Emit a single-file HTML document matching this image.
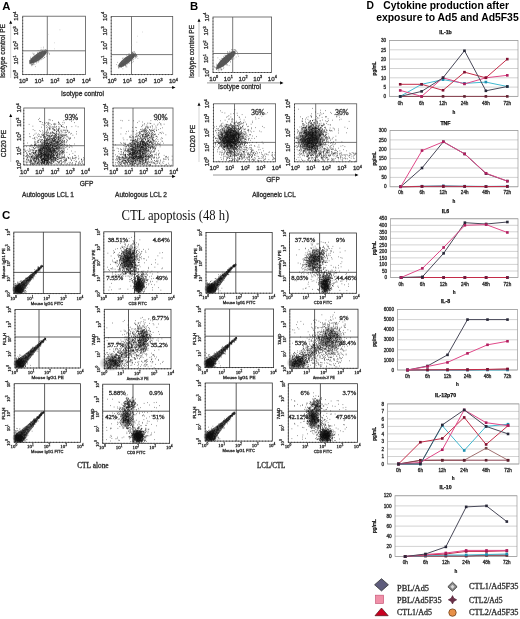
<!DOCTYPE html>
<html><head><meta charset="utf-8"><style>html,body{margin:0;padding:0;background:#fff;width:520px;height:619px;overflow:hidden}svg{display:block;filter:blur(.3px)}text:not([font-weight]){stroke:#333;stroke-width:.3px}</style></head>
<body><svg width="520" height="619" viewBox="0 0 520 619" font-family='"Liberation Sans", sans-serif'><text x="2.3" y="9.6" font-size="11.3" font-weight="bold">A</text>
<rect x="22.7" y="16.2" width="62.8" height="58.4" fill="none" stroke="#555" stroke-width="0.8"/>
<path d="M47.3 16.2L47.3 74.6" stroke="#555" stroke-width="0.8" fill="none"/>
<path d="M22.7 50.8L85.5 50.8" stroke="#555" stroke-width="0.8" fill="none"/>
<path d="M22.7 74.6V16.2M22.7 74.6H85.5" stroke="#222" stroke-width="0.9" stroke-dasharray="0.7 2.3" fill="none"/>
<ellipse cx="38.0" cy="57.0" rx="10.4" ry="3.3" transform="rotate(-35.2 38.0 57.0)" fill="#5e5e5e" fill-opacity="1"/>
<path transform="scale(0.2)" d="M146 305h3m-3 3h3m-2-6h3m-2 0h3m-3 13h3m-3 2h3m-2-11h3m-3 6h3m-3 2h3m-3 1h3m-3 4h3m-2-33h3m-3 7h3m-2 3h3m-2 20h3m-2-3h3m-2-11h3m-3 21h3m-2-28h3m-3 3h3m-3 5h3m-3 7h3m-2-3h3m-3 6h3m-3 1h3m-3 8h3m-2-30h3m-3 8h3m-3 1h3m-3 10h3m-3 8h3m-3 7h3m-2-21h3m-3 7h3m-3 17h3m-2-27h3m-3 3h3m-3 4h3m-3 5h3m-2-28h3m-3 13h3m-2-4h3m-3 13h3m-3 3h3m-3 12h3m-2-31h3m-3 29h3m-3 3h3m-2-58h3m-3 41h3m-3 1h3m-3 1h3m-2-17h3m-3 7h3m-3 8h3m-3 2h3m-3 5h3m-3 10h3m-2-50h3m-2-4h3m-3 35h3m-2-8h3m-3 2h3m-3 8h3m-3 1h3m-3 12h3m-2-21h3m-3 18h3m-3 2h3m-2-16h3m-3 0h3m-2-19h3m-3 16h3m-2-8h3m-3 15h3m-2-37h3m-3 9h3m-3 19h3m-3 2h3m-2 23h3m-2-26h3m-3 13h3m-2-23h3m-3 3h3m-3 43h3m-2-46h3m-3 7h3m-3 10h3m-3 3h3m-2-11h3m-3 1h3m-2 2h3m-2-10h3m-2-11h3m-3 7h3m-3 3h3m-3 12h3m-3 15h3m-2-23h3m-3 1h3m-3 11h3m-2-14h3m-3 10h3m-3 2h3m-3 1h3m-2-21h3m-3 30h3m-2-29h3m-3 8h3m-2-17h3m-3 7h3m-3 1h3m-3 9h3m-3 4h3m-2-31h3m-3 20h3m-3 8h3m-2-11h3m-3 5h3m-2-21h3m-3 2h3m-3 18h3m-3 9h3m-3 12h3m-2-53h3m-2 25h3m-2 3h3m-3 18h3m-3 11h3m-2-25h3m-3 19h3m-2-37h3m-3 14h3m-3 14h3m-2-31h3m-3 13h3m-3 10h3m-3 1h3m-3 12h3m-3 4h3m-2-45h3m-3 21h3m-3 12h3m-1-10h3m-3 1h3m-2-1h3m-3 3h3m-2-6h3m-2-5h3m-3 19h3m-2-39h3m-3 10h3m-3 19h3m-2-17h3m-2 6h3m-3 14h3m-3 7h3m-3 6h3m-2-51h3m-3 2h3m-3 32h3m-2-16h3m-3 13h3m-2-16h3m-2 1h3m-3 5h3m-2-13h3m-3 16h3m-3 25h3m-2-34h3m-3 28h3m-2-4h3m-1-37h3m-3 5h3m-2 24h3m-2-18h3m-1-15h3m-3 24h3m-3 22h3m-2-56h3m-3 31h3m-1 0h3m-3 3h3m-2-15h3m-3 1h3m-3 31h3m-3 0h3m-2-28h3m-3 0h3m-2 7h3m-2-18h3m-3 21h3m-3 1h3m-2-3h3m-2-5h3m-2 6h3m-2-4h3m-2-16h3m-3 0h3m-3 3h3m-3 3h3m-2 7h3m-3 1h3m-3 0h3m-3 4h3m-2-12h3m-3 16h3m-3 11h3m-2-28h3m-1 0h3m-3 4h3m-2-4h3m-3 3h3m-3 5h3m-2 10h3m-2-4h3m0-7h3m1 5h3m-1 4h3m-3 2h3" stroke="#555" stroke-width="4.0" stroke-opacity="0.8"/>
<path transform="scale(0.2)" d="M204 239h3m32-67h3m30 42h3m-3 30h3m23-95h3" stroke="#aaa" stroke-width="3.5"/>
<rect x="111.2" y="16.5" width="61.5" height="58.1" fill="none" stroke="#555" stroke-width="0.8"/>
<path d="M131.5 16.5L131.5 74.6" stroke="#555" stroke-width="0.8" fill="none"/>
<path d="M111.2 54.6L172.7 54.6" stroke="#555" stroke-width="0.8" fill="none"/>
<path d="M111.2 74.6V16.5M111.2 74.6H172.7" stroke="#222" stroke-width="0.9" stroke-dasharray="0.7 2.3" fill="none"/>
<ellipse cx="126.8" cy="60.3" rx="10.5" ry="3.2" transform="rotate(-38.2 126.8 60.3)" fill="#5e5e5e" fill-opacity="1"/>
<path transform="scale(0.2)" d="M581 323h3m1-11h3m1 18h3m-1-5h3m-3 5h3m-3 8h3m-3 1h3m-1-10h3m-3 12h3m-2-11h3m-3 6h3m-2-17h3m-2 15h3m-1-4h3m-1-7h3m-3 3h3m-2 9h3m-2-23h3m-3 16h3m-3 3h3m-2-4h3m-2-5h3m-3 7h3m-3 1h3m-2-13h3m-3 17h3m-2-27h3m-3 12h3m-3 10h3m-3 1h3m-3 7h3m-2-30h3m-3 11h3m-3 7h3m-1-13h3m-2 6h3m-2-26h3m-3 25h3m-3 3h3m-3 1h3m-3 9h3m-2-12h3m-3 2h3m-2 2h3m-3 7h3m-3 15h3m-2-54h3m-3 29h3m-3 11h3m-3 2h3m-2-16h3m-3 6h3m-3 2h3m-3 4h3m-2-8h3m-3 2h3m-3 0h3m-3 4h3m-2-4h3m-2-11h3m-3 5h3m-2-8h3m-3 15h3m-2-13h3m-3 6h3m-2-7h3m-2-17h3m-3 18h3m-2 7h3m-3 8h3m-2-21h3m-3 21h3m-3 2h3m-2-36h3m-3 20h3m-3 2h3m-3 14h3m-2-19h3m-3 8h3m-3 2h3m-2 11h3m-2-33h3m-3 5h3m-3 4h3m-3 5h3m-3 0h3m-3 24h3m-2-41h3m-3 12h3m-2-12h3m-3 24h3m-2-23h3m-3 12h3m-3 24h3m-2-54h3m-3 14h3m-3 15h3m-3 0h3m-2-16h3m-3 2h3m-3 12h3m-3 1h3m-3 31h3m-2-36h3m-3 24h3m-2-19h3m-2-9h3m-3 9h3m-2 0h3m-2-11h3m-3 24h3m-2-25h3m-3 8h3m-3 5h3m-3 3h3m-2-38h3m-3 18h3m-2 4h3m-2 8h3m-2-18h3m-3 30h3m-2-38h3m-3 43h3m-2-26h3m-3 1h3m-2-23h3m-3 17h3m-2 6h3m-3 1h3m-3 8h3m-2-18h3m-3 5h3m-3 14h3m-1-24h3m-3 14h3m-3 4h3m-3 4h3m-2-24h3m-3 17h3m-2-5h3m-2 6h3m-2-22h3m-3 14h3m-2-19h3m-3 18h3m-3 11h3m-2-11h3m-3 31h3m-2-37h3m-3 11h3m-3 12h3m-2-15h3m-3 19h3m-2-26h3m-3 6h3m-3 5h3m-3 22h3m-2-48h3m-3 6h3m-3 7h3m-2-12h3m-3 0h3m-3 24h3m-2-27h3m-3 15h3m-3 3h3m-3 1h3m-3 5h3m-3 13h3m-2-40h3m-3 2h3m-2 7h3m-3 11h3m-3 6h3m-3 10h3m-2-15h3m-3 1h3m-3 17h3m-2-39h3m-3 8h3m-3 6h3m-3 11h3m-2-12h3m-3 5h3m-3 9h3m-3 21h3m-2-30h3m-2 7h3m-2-15h3m-3 3h3m-2-14h3m-3 21h3m-3 0h3m-2-19h3m-1 21h3m-3 10h3m-2-26h3m-3 2h3m-3 1h3m-3 7h3m-3 7h3m-2-11h3m-3 11h3m-3 1h3m-3 1h3m-2-8h3m-3 0h3m-2-4h3m-3 0h3m-3 4h3m-2 1h3m-3 9h3m-2-11h3m-3 2h3m-3 6h3m-2-3h3m-2-6h3m-3 0h3m0 6h3m0 11h3" stroke="#555" stroke-width="4.0" stroke-opacity="0.8"/>
<path transform="scale(0.2)" d="M658 226h3m22-15h3m-1-30h3m22-21h3" stroke="#aaa" stroke-width="3.5"/>
<rect x="23.8" y="108" width="60.8" height="57.0" fill="none" stroke="#555" stroke-width="0.8"/>
<path d="M44.6 108.0L44.6 165.0" stroke="#555" stroke-width="0.8" fill="none"/>
<path d="M23.8 145.7L84.6 145.7" stroke="#555" stroke-width="0.8" fill="none"/>
<path d="M23.8 165.0V108.0M23.8 165.0H84.6" stroke="#222" stroke-width="0.9" stroke-dasharray="0.7 2.3" fill="none"/>
<radialGradient id="g19"><stop offset="0" stop-color="#333" stop-opacity="0.35"/><stop offset="0.6" stop-color="#333" stop-opacity="0.21"/><stop offset="1" stop-color="#333" stop-opacity="0"/></radialGradient>
<ellipse cx="48" cy="150" rx="15" ry="11" transform="rotate(-50 48 150)" fill="url(#g19)"/>
<path transform="scale(0.2)" d="M123 746h3m-3 6h3m-2 5h3m-1 0h3m-3 25h3m-1 24h3m-2-52h3m-3 59h3m-2-48h3m-3 11h3m-3 44h3m-2-87h3m-3 32h3m-3 17h3m-3 16h3m-3 12h3m-2-31h3m-2 11h3m-3 5h3m-3 4h3m-3 15h3m-2-48h3m-3 34h3m-2-24h3m-2-61h3m-3 69h3m-3 6h3m-2-17h3m-3 2h3m-3 13h3m-2-37h3m-3 35h3m-3 20h3m-3 6h3m-1-54h3m-2 20h3m-3 19h3m-2 3h3m-3 3h3m-2-23h3m-2-158h3m-3 137h3m-3 24h3m-3 2h3m-2-116h3m-3 14h3m-3 67h3m-3 35h3m-2-43h3m-3 28h3m-3 34h3m-3 5h3m-2-41h3m-3 2h3m-2-38h3m-3 80h3m-2-63h3m-3 8h3m-3 13h3m-3 25h3m-2 11h3m-3 3h3m-2-125h3m-3 67h3m-3 58h3m-3 9h3m-2-88h3m-3 42h3m-3 22h3m-3 7h3m-3 0h3m-3 3h3m-3 9h3m-3 9h3m-2-96h3m-3 42h3m-3 8h3m-3 8h3m-3 3h3m-3 8h3m-3 21h3m-2-32h3m-3 19h3m-2-40h3m-3 33h3m-3 9h3m-2-80h3m-3 57h3m-3 1h3m-3 22h3m-2-23h3m-3 3h3m-3 2h3m-3 17h3m-3 2h3m-3 11h3m-2-91h3m-3 9h3m-3 13h3m-3 22h3m-3 19h3m-3 23h3m-3 8h3m-2-67h3m-3 22h3m-3 35h3m-2-81h3m-3 34h3m-3 58h3m-2-72h3m-3 12h3m-3 16h3m-3 13h3m-3 2h3m-3 4h3m-3 19h3m-2-33h3m-3 0h3m-3 36h3m-3 3h3m-2-190h3m-3 61h3m-3 84h3m-3 11h3m-2-139h3m-3 90h3m-3 16h3m-3 46h3m-2-123h3m-3 61h3m-3 24h3m-3 2h3m-3 2h3m-3 10h3m-3 18h3m-3 6h3m-2-46h3m-3 13h3m-3 17h3m-3 4h3m-3 5h3m-3 7h3m-3 16h3m-2-78h3m-3 67h3m-3 13h3m-2-68h3m-3 3h3m-3 12h3m-3 2h3m-3 0h3m-3 29h3m-3 5h3m-2-108h3m-3 51h3m-3 0h3m-3 40h3m-3 16h3m-3 14h3m-3 7h3m-3 1h3m-2-100h3m-3 9h3m-3 12h3m-3 27h3m-3 21h3m-2-67h3m-3 4h3m-3 44h3m-3 13h3m-3 4h3m-3 2h3m-3 17h3m-3 11h3m-2-130h3m-3 1h3m-3 21h3m-3 81h3m-3 1h3m-3 0h3m-3 6h3m-3 4h3m-3 7h3m-2-157h3m-3 18h3m-3 35h3m-3 14h3m-3 8h3m-3 35h3m-3 16h3m-3 6h3m-2-88h3m-3 12h3m-3 5h3m-3 13h3m-3 35h3m-3 0h3m-3 0h3m-3 6h3m-3 31h3m-3 7h3m-3 6h3m-3 3h3m-2-94h3m-3 20h3m-3 14h3m-3 7h3m-3 41h3m-2-48h3m-3 10h3m-3 0h3m-3 24h3m-3 19h3m-3 1h3m-3 6h3m-2-93h3m-3 3h3m-3 13h3m-3 16h3m-3 8h3m-3 14h3m-3 1h3m-3 16h3m-3 14h3m-2-91h3m-3 41h3m-3 7h3m-3 8h3m-3 11h3m-3 1h3m-3 7h3m-3 3h3m-3 12h3m-2-140h3m-3 20h3m-3 90h3m-3 0h3m-3 11h3m-3 1h3m-3 4h3m-3 16h3m-3 8h3m-2-61h3m-3 16h3m-3 15h3m-3 8h3m-3 3h3m-3 1h3m-2-64h3m-3 49h3m-3 6h3m-3 0h3m-3 5h3m-3 2h3m-2-69h3m-3 25h3m-3 1h3m-3 6h3m-3 17h3m-3 5h3m-3 23h3m-2-84h3m-3 8h3m-3 10h3m-3 32h3m-3 12h3m-3 21h3m-3 16h3m-2-110h3m-3 45h3m-3 22h3m-3 8h3m-3 1h3m-3 10h3m-3 16h3m-3 7h3m-2-143h3m-3 30h3m-3 71h3m-3 2h3m-3 4h3m-3 7h3m-3 3h3m-2-81h3m-3 22h3m-3 55h3m-3 28h3m-3 1h3m-2-127h3m-3 83h3m-3 9h3m-3 13h3m-3 15h3m-3 9h3m-2-108h3m-3 27h3m-3 26h3m-3 16h3m-3 12h3m-3 8h3m-3 13h3m-3 1h3m-2-112h3m-3 23h3m-3 6h3m-3 11h3m-3 7h3m-3 5h3m-3 10h3m-3 20h3m-3 1h3m-3 27h3m-2-214h3m-3 106h3m-3 44h3m-3 17h3m-3 8h3m-3 22h3m-3 11h3m-2-105h3m-3 24h3m-3 27h3m-3 18h3m-3 2h3m-3 5h3m-3 6h3m-3 5h3m-3 2h3m-3 8h3m-3 16h3m-3 6h3m-2-150h3m-3 12h3m-3 29h3m-3 20h3m-3 6h3m-3 19h3m-3 4h3m-3 7h3m-3 26h3m-3 8h3m-3 3h3m-3 4h3m-2-94h3m-3 35h3m-3 6h3m-3 12h3m-3 8h3m-3 0h3m-3 2h3m-3 1h3m-3 2h3m-3 2h3m-3 13h3m-3 2h3m-3 1h3m-3 16h3m-2-132h3m-3 41h3m-3 16h3m-3 11h3m-3 3h3m-3 5h3m-3 4h3m-3 11h3m-3 27h3m-3 15h3m-3 1h3m-2-163h3m-3 96h3m-3 1h3m-3 4h3m-3 8h3m-3 10h3m-3 3h3m-3 28h3m-2-211h3m-3 15h3m-3 88h3m-3 54h3m-3 8h3m-3 15h3m-3 47h3m-2-145h3m-3 60h3m-3 9h3m-3 10h3m-3 7h3m-3 17h3m-3 7h3m-3 3h3m-3 19h3m-2-106h3m-3 27h3m-3 6h3m-3 15h3m-3 7h3m-3 13h3m-3 20h3m-3 20h3m-3 0h3m-3 14h3m-2-93h3m-3 11h3m-3 8h3m-3 5h3m-3 8h3m-3 7h3m-3 5h3m-3 9h3m-3 3h3m-3 2h3m-3 27h3m-2-130h3m-3 24h3m-3 51h3m-3 10h3m-3 13h3m-3 28h3m-2-111h3m-3 8h3m-3 16h3m-3 7h3m-3 5h3m-3 8h3m-3 8h3m-3 1h3m-3 1h3m-3 1h3m-3 5h3m-3 5h3m-3 9h3m-3 13h3m-3 5h3m-3 0h3m-3 11h3m-2-194h3m-3 49h3m-3 54h3m-3 29h3m-3 6h3m-3 0h3m-3 4h3m-3 1h3m-3 1h3m-3 9h3m-3 3h3m-3 11h3m-3 10h3m-3 29h3m-2-206h3m-3 78h3m-3 53h3m-3 6h3m-3 14h3m-3 5h3m-3 8h3m-3 5h3m-3 4h3m-3 1h3m-3 1h3m-3 10h3m-2-106h3m-3 23h3m-3 22h3m-3 4h3m-3 4h3m-3 5h3m-3 18h3m-3 4h3m-3 1h3m-3 0h3m-3 2h3m-3 1h3m-3 2h3m-3 3h3m-3 5h3m-3 3h3m-3 5h3m-3 0h3m-3 0h3m-3 9h3m-3 1h3m-3 16h3m-2-134h3m-3 72h3m-3 6h3m-3 8h3m-3 8h3m-3 6h3m-3 1h3m-3 1h3m-3 6h3m-3 1h3m-3 5h3m-3 7h3m-3 12h3m-3 0h3m-2-112h3m-3 13h3m-3 6h3m-3 11h3m-3 9h3m-3 8h3m-3 3h3m-3 7h3m-3 6h3m-3 1h3m-3 0h3m-3 0h3m-3 13h3m-3 6h3m-3 17h3m-3 2h3m-3 0h3m-2-168h3m-3 36h3m-3 55h3m-3 15h3m-3 24h3m-3 11h3m-3 2h3m-3 18h3m-3 0h3m-3 1h3m-3 5h3m-3 13h3m-3 1h3m-3 4h3m-2-122h3m-3 0h3m-3 27h3m-3 12h3m-3 4h3m-3 6h3m-3 2h3m-3 8h3m-3 1h3m-3 5h3m-3 9h3m-3 4h3m-3 3h3m-3 17h3m-3 13h3m-3 4h3m-3 4h3m-3 1h3m-3 2h3m-2-199h3m-3 77h3m-3 12h3m-3 4h3m-3 4h3m-3 3h3m-3 1h3m-3 4h3m-3 6h3m-3 8h3m-3 3h3m-3 8h3m-3 2h3m-3 11h3m-3 7h3m-3 9h3m-3 3h3m-3 5h3m-3 15h3m-3 4h3m-3 7h3m-2-202h3m-3 85h3m-3 44h3m-3 5h3m-3 1h3m-3 17h3m-3 2h3m-3 9h3m-3 21h3m-3 5h3m-3 7h3m-3 5h3m-3 0h3m-2-160h3m-3 11h3m-3 45h3m-3 33h3m-3 13h3m-3 40h3m-3 2h3m-3 9h3m-2-132h3m-3 1h3m-3 42h3m-3 8h3m-3 9h3m-3 14h3m-3 10h3m-3 9h3m-3 9h3m-3 16h3m-3 12h3m-3 5h3m-2-73h3m-3 2h3m-3 6h3m-3 4h3m-3 21h3m-3 2h3m-3 5h3m-3 7h3m-3 8h3m-3 1h3m-3 2h3m-3 2h3m-3 2h3m-3 2h3m-3 4h3m-3 0h3m-3 0h3m-3 4h3m-3 2h3m-2-134h3m-3 55h3m-3 1h3m-3 2h3m-3 1h3m-3 7h3m-3 2h3m-3 6h3m-3 1h3m-3 5h3m-3 11h3m-3 10h3m-3 1h3m-3 12h3m-3 23h3m-2-189h3m-3 48h3m-3 14h3m-3 2h3m-3 14h3m-3 20h3m-3 4h3m-3 9h3m-3 4h3m-3 31h3m-3 4h3m-3 20h3m-3 2h3m-2-121h3m-3 3h3m-3 34h3m-3 23h3m-3 3h3m-3 1h3m-3 24h3m-3 21h3m-3 6h3m-3 1h3m-3 1h3m-3 15h3m-3 8h3m-3 2h3m-3 1h3m-2-148h3m-3 13h3m-3 26h3m-3 26h3m-3 4h3m-3 12h3m-3 10h3m-3 1h3m-3 10h3m-3 0h3m-3 20h3m-3 1h3m-3 5h3m-3 11h3m-3 3h3m-3 4h3m-2-157h3m-3 57h3m-3 14h3m-3 6h3m-3 1h3m-3 5h3m-3 17h3m-3 12h3m-3 3h3m-3 4h3m-3 13h3m-3 0h3m-3 4h3m-3 14h3m-2-129h3m-3 38h3m-3 2h3m-3 15h3m-3 7h3m-3 22h3m-3 2h3m-3 4h3m-3 4h3m-3 6h3m-3 7h3m-3 10h3m-3 1h3m-3 10h3m-2-106h3m-3 10h3m-3 2h3m-3 8h3m-3 20h3m-3 19h3m-3 11h3m-3 5h3m-3 4h3m-3 0h3m-3 3h3m-3 1h3m-3 4h3m-3 8h3m-3 2h3m-3 1h3m-3 3h3m-3 5h3m-3 3h3m-2-143h3m-3 15h3m-3 15h3m-3 16h3m-3 7h3m-3 13h3m-3 10h3m-3 9h3m-3 6h3m-3 7h3m-3 6h3m-3 11h3m-3 4h3m-3 11h3m-3 3h3m-3 0h3m-3 2h3m-3 0h3m-3 5h3m-3 1h3m-3 0h3m-2-197h3m-3 71h3m-3 19h3m-3 4h3m-3 2h3m-3 2h3m-3 12h3m-3 46h3m-3 12h3m-3 22h3m-3 3h3m-3 5h3m-3 7h3m-3 0h3m-2-126h3m-3 10h3m-3 29h3m-3 4h3m-3 9h3m-3 7h3m-3 3h3m-3 2h3m-3 0h3m-3 1h3m-3 4h3m-3 10h3m-3 4h3m-3 9h3m-3 10h3m-3 1h3m-3 5h3m-3 2h3m-3 8h3m-3 0h3m-3 1h3m-2-194h3m-3 98h3m-3 12h3m-3 1h3m-3 0h3m-3 15h3m-3 2h3m-3 1h3m-3 19h3m-3 6h3m-3 8h3m-3 6h3m-3 0h3m-3 7h3m-3 4h3m-3 3h3m-2-104h3m-3 39h3m-3 32h3m-3 6h3m-3 2h3m-3 3h3m-3 4h3m-3 5h3m-3 10h3m-3 3h3m-3 4h3m-2-116h3m-3 19h3m-3 21h3m-3 7h3m-3 23h3m-3 3h3m-3 11h3m-3 1h3m-3 20h3m-3 3h3m-3 6h3m-3 1h3m-2-119h3m-3 7h3m-3 15h3m-3 7h3m-3 5h3m-3 6h3m-3 13h3m-3 5h3m-3 3h3m-3 6h3m-3 17h3m-3 7h3m-3 1h3m-3 9h3m-3 7h3m-3 3h3m-3 9h3m-3 17h3m-2-157h3m-3 40h3m-3 4h3m-3 9h3m-3 1h3m-3 16h3m-3 4h3m-3 13h3m-3 4h3m-3 7h3m-3 9h3m-3 3h3m-3 2h3m-3 1h3m-3 0h3m-3 9h3m-3 15h3m-3 5h3m-3 6h3m-2-147h3m-3 7h3m-3 1h3m-3 31h3m-3 18h3m-3 10h3m-3 6h3m-3 1h3m-3 1h3m-3 4h3m-3 17h3m-3 19h3m-3 23h3m-3 17h3m-2-164h3m-3 4h3m-3 6h3m-3 9h3m-3 29h3m-3 16h3m-3 8h3m-3 10h3m-3 4h3m-3 3h3m-3 3h3m-3 12h3m-3 3h3m-3 0h3m-3 7h3m-3 0h3m-3 7h3m-3 5h3m-3 5h3m-3 3h3m-3 3h3m-3 2h3m-3 11h3m-3 17h3m-2-184h3m-3 43h3m-3 30h3m-3 12h3m-3 6h3m-3 12h3m-3 1h3m-3 20h3m-3 5h3m-3 14h3m-3 13h3m-3 1h3m-3 2h3m-3 5h3m-3 1h3m-3 11h3m-2-201h3m-3 15h3m-3 66h3m-3 2h3m-3 2h3m-3 1h3m-3 18h3m-3 1h3m-3 3h3m-3 6h3m-3 18h3m-3 4h3m-3 5h3m-3 1h3m-3 14h3m-3 6h3m-3 3h3m-3 2h3m-3 2h3m-3 4h3m-3 14h3m-3 4h3m-3 1h3m-3 6h3m-3 8h3m-3 2h3m-2-144h3m-3 14h3m-3 6h3m-3 5h3m-3 2h3m-3 10h3m-3 13h3m-3 2h3m-3 10h3m-3 2h3m-3 1h3m-3 8h3m-3 6h3m-3 0h3m-3 17h3m-3 4h3m-3 16h3m-3 7h3m-3 5h3m-3 7h3m-3 4h3m-3 1h3m-2-108h3m-3 3h3m-3 6h3m-3 8h3m-3 2h3m-3 3h3m-3 18h3m-3 20h3m-3 3h3m-3 6h3m-3 4h3m-3 7h3m-3 2h3m-3 8h3m-3 5h3m-3 5h3m-3 5h3m-3 5h3m-2-204h3m-3 31h3m-3 4h3m-3 27h3m-3 1h3m-3 32h3m-3 5h3m-3 2h3m-3 13h3m-3 5h3m-3 2h3m-3 10h3m-3 6h3m-3 3h3m-3 10h3m-3 9h3m-3 4h3m-3 8h3m-3 1h3m-3 15h3m-3 0h3m-3 10h3m-3 1h3m-3 5h3m-2-185h3m-3 55h3m-3 5h3m-3 6h3m-3 5h3m-3 8h3m-3 15h3m-3 2h3m-3 11h3m-3 3h3m-3 3h3m-3 7h3m-3 2h3m-3 9h3m-3 16h3m-3 1h3m-3 11h3m-3 18h3m-3 2h3m-2-192h3m-3 29h3m-3 15h3m-3 10h3m-3 15h3m-3 5h3m-3 7h3m-3 19h3m-3 6h3m-3 3h3m-3 3h3m-3 18h3m-3 11h3m-3 6h3m-3 5h3m-3 0h3m-3 7h3m-3 1h3m-3 1h3m-3 11h3m-3 2h3m-3 8h3m-3 1h3m-3 1h3m-3 5h3m-3 2h3m-2-156h3m-3 10h3m-3 18h3m-3 34h3m-3 20h3m-3 10h3m-3 1h3m-3 12h3m-3 0h3m-3 26h3m-3 1h3m-3 1h3m-3 9h3m-3 1h3m-3 3h3m-3 0h3m-3 2h3m-2-142h3m-3 33h3m-3 3h3m-3 21h3m-3 4h3m-3 25h3m-3 10h3m-3 1h3m-3 3h3m-3 13h3m-3 4h3m-3 2h3m-3 5h3m-3 9h3m-3 2h3m-3 7h3m-3 5h3m-3 12h3m-2-199h3m-3 59h3m-3 39h3m-3 4h3m-3 8h3m-3 2h3m-3 4h3m-3 8h3m-3 5h3m-3 1h3m-3 4h3m-3 12h3m-3 3h3m-3 4h3m-3 2h3m-3 1h3m-3 3h3m-3 2h3m-3 15h3m-3 5h3m-3 6h3m-2-197h3m-3 5h3m-3 86h3m-3 15h3m-3 3h3m-3 6h3m-3 2h3m-3 10h3m-3 2h3m-3 2h3m-3 1h3m-3 8h3m-3 12h3m-3 12h3m-3 43h3m-3 2h3m-2-182h3m-3 25h3m-3 12h3m-3 22h3m-3 8h3m-3 12h3m-3 21h3m-3 19h3m-3 9h3m-3 5h3m-3 1h3m-3 7h3m-3 2h3m-3 4h3m-3 5h3m-3 1h3m-3 0h3m-3 6h3m-3 7h3m-3 10h3m-3 1h3m-2-189h3m-3 58h3m-3 1h3m-3 11h3m-3 1h3m-3 34h3m-3 4h3m-3 11h3m-3 3h3m-3 15h3m-3 4h3m-3 2h3m-3 1h3m-3 1h3m-3 13h3m-3 0h3m-3 0h3m-3 7h3m-3 4h3m-3 14h3m-3 9h3m-2-223h3m-3 3h3m-3 16h3m-3 61h3m-3 1h3m-3 1h3m-3 14h3m-3 6h3m-3 14h3m-3 6h3m-3 16h3m-3 2h3m-3 2h3m-3 1h3m-3 4h3m-3 14h3m-3 9h3m-3 20h3m-3 4h3m-3 9h3m-3 8h3m-3 2h3m-3 5h3m-2-131h3m-3 6h3m-3 1h3m-3 48h3m-3 5h3m-3 12h3m-3 56h3m-2-173h3m-3 10h3m-3 62h3m-3 14h3m-3 22h3m-3 0h3m-3 3h3m-3 10h3m-3 3h3m-3 11h3m-3 0h3m-3 1h3m-3 15h3m-2-159h3m-3 11h3m-3 2h3m-3 25h3m-3 11h3m-3 18h3m-3 2h3m-3 7h3m-3 10h3m-3 0h3m-3 12h3m-3 3h3m-3 9h3m-3 9h3m-3 7h3m-3 13h3m-3 0h3m-3 8h3m-3 6h3m-3 8h3m-3 5h3m-3 15h3m-2-131h3m-3 30h3m-3 14h3m-3 16h3m-3 8h3m-3 7h3m-3 1h3m-3 1h3m-3 27h3m-2-166h3m-3 19h3m-3 6h3m-3 1h3m-3 38h3m-3 9h3m-3 6h3m-3 23h3m-3 8h3m-3 2h3m-3 4h3m-3 13h3m-3 2h3m-3 1h3m-3 5h3m-3 0h3m-3 2h3m-3 3h3m-3 3h3m-3 12h3m-3 19h3m-3 2h3m-3 0h3m-3 13h3m-3 7h3m-2-149h3m-3 7h3m-3 16h3m-3 31h3m-3 1h3m-3 8h3m-3 7h3m-3 3h3m-3 1h3m-3 8h3m-3 1h3m-3 2h3m-3 24h3m-3 1h3m-3 13h3m-3 3h3m-2-194h3m-3 31h3m-3 53h3m-3 30h3m-3 8h3m-3 2h3m-3 4h3m-3 15h3m-3 5h3m-3 7h3m-3 2h3m-3 9h3m-3 16h3m-3 7h3m-3 3h3m-3 1h3m-3 10h3m-2-140h3m-3 23h3m-3 15h3m-3 5h3m-3 4h3m-3 19h3m-3 15h3m-3 2h3m-3 5h3m-3 11h3m-3 11h3m-3 8h3m-3 0h3m-3 2h3m-3 4h3m-3 0h3m-3 2h3m-3 0h3m-3 26h3m-3 0h3m-2-150h3m-3 30h3m-3 17h3m-3 2h3m-3 7h3m-3 24h3m-3 11h3m-3 8h3m-3 1h3m-3 10h3m-3 5h3m-3 6h3m-3 17h3m-3 7h3m-2-149h3m-3 6h3m-3 36h3m-3 50h3m-3 16h3m-3 3h3m-3 1h3m-3 2h3m-3 3h3m-3 2h3m-3 14h3m-3 15h3m-3 12h3m-2-198h3m-3 59h3m-3 10h3m-3 13h3m-3 6h3m-3 6h3m-3 35h3m-3 4h3m-3 4h3m-3 4h3m-3 7h3m-3 3h3m-3 11h3m-3 13h3m-3 1h3m-3 2h3m-3 12h3m-3 4h3m-2-140h3m-3 3h3m-3 30h3m-3 14h3m-3 14h3m-3 0h3m-3 24h3m-3 1h3m-3 1h3m-3 23h3m-3 4h3m-3 14h3m-3 12h3m-2-137h3m-3 13h3m-3 13h3m-3 7h3m-3 1h3m-3 10h3m-3 19h3m-3 12h3m-3 2h3m-3 8h3m-3 4h3m-3 5h3m-3 7h3m-3 16h3m-3 1h3m-3 11h3m-2-173h3m-3 62h3m-3 14h3m-3 6h3m-3 6h3m-3 1h3m-3 20h3m-3 1h3m-3 11h3m-3 4h3m-3 1h3m-3 9h3m-3 8h3m-3 2h3m-3 4h3m-3 0h3m-3 2h3m-3 3h3m-3 3h3m-3 8h3m-3 6h3m-2-130h3m-3 1h3m-3 14h3m-3 6h3m-3 36h3m-3 1h3m-3 2h3m-3 1h3m-3 7h3m-3 12h3m-3 20h3m-3 10h3m-3 16h3m-2-143h3m-3 19h3m-3 15h3m-3 2h3m-3 2h3m-3 2h3m-3 1h3m-3 64h3m-3 2h3m-3 16h3m-3 2h3m-3 13h3m-3 19h3m-2-183h3m-3 11h3m-3 17h3m-3 11h3m-3 18h3m-3 27h3m-3 7h3m-3 1h3m-3 2h3m-3 2h3m-3 5h3m-3 2h3m-3 31h3m-3 10h3m-3 3h3m-3 15h3m-3 5h3m-3 8h3m-2-206h3m-3 40h3m-3 17h3m-3 5h3m-3 44h3m-3 3h3m-3 8h3m-3 18h3m-3 5h3m-3 5h3m-3 4h3m-3 8h3m-3 8h3m-3 13h3m-3 14h3m-3 10h3m-2-104h3m-3 1h3m-3 5h3m-3 25h3m-3 2h3m-3 10h3m-3 8h3m-3 1h3m-3 1h3m-3 4h3m-3 15h3m-2-129h3m-3 21h3m-3 23h3m-3 13h3m-3 13h3m-3 4h3m-3 12h3m-3 7h3m-3 10h3m-3 3h3m-3 2h3m-3 6h3m-3 8h3m-3 7h3m-3 2h3m-3 5h3m-3 9h3m-2-126h3m-3 17h3m-3 10h3m-3 16h3m-3 4h3m-3 15h3m-3 15h3m-3 3h3m-3 0h3m-3 8h3m-3 3h3m-3 5h3m-3 15h3m-3 12h3m-3 4h3m-3 19h3m-3 1h3m-2-169h3m-3 9h3m-3 38h3m-3 6h3m-3 11h3m-3 14h3m-3 27h3m-3 8h3m-3 12h3m-3 6h3m-3 8h3m-3 3h3m-3 3h3m-3 8h3m-3 2h3m-2-175h3m-3 58h3m-3 13h3m-3 12h3m-3 19h3m-3 5h3m-3 27h3m-3 8h3m-3 0h3m-3 8h3m-3 8h3m-3 8h3m-3 5h3m-3 3h3m-3 6h3m-3 12h3m-2-180h3m-3 6h3m-3 9h3m-3 18h3m-3 1h3m-3 16h3m-3 24h3m-3 13h3m-3 13h3m-3 11h3m-3 0h3m-3 16h3m-3 5h3m-3 8h3m-3 2h3m-3 1h3m-3 1h3m-3 9h3m-3 15h3m-3 2h3m-3 3h3m-3 2h3m-2-189h3m-3 71h3m-3 3h3m-3 0h3m-3 2h3m-3 9h3m-3 2h3m-3 0h3m-3 40h3m-3 2h3m-3 30h3m-3 11h3m-3 8h3m-3 0h3m-3 12h3m-2-160h3m-3 30h3m-3 6h3m-3 5h3m-3 1h3m-3 10h3m-3 1h3m-3 16h3m-3 2h3m-3 24h3m-3 5h3m-3 3h3m-3 8h3m-2-138h3m-3 26h3m-3 5h3m-3 14h3m-3 11h3m-3 9h3m-3 14h3m-3 17h3m-3 4h3m-3 24h3m-3 6h3m-3 3h3m-3 1h3m-3 5h3m-3 17h3m-3 8h3m-2-156h3m-3 21h3m-3 29h3m-3 17h3m-3 13h3m-3 18h3m-3 3h3m-3 2h3m-3 7h3m-3 13h3m-3 6h3m-3 28h3m-3 1h3m-3 5h3m-3 8h3m-2-184h3m-3 19h3m-3 31h3m-3 4h3m-3 27h3m-3 4h3m-3 1h3m-3 6h3m-3 11h3m-3 11h3m-3 0h3m-3 17h3m-3 3h3m-3 2h3m-3 16h3m-3 6h3m-3 11h3m-2-163h3m-3 13h3m-3 35h3m-3 11h3m-3 59h3m-3 3h3m-3 9h3m-3 4h3m-3 6h3m-3 12h3m-3 15h3m-3 2h3m-3 0h3m-3 7h3m-3 3h3m-3 14h3m-2-140h3m-3 7h3m-3 36h3m-3 13h3m-3 61h3m-3 1h3m-3 3h3m-3 6h3m-2-131h3m-3 9h3m-3 15h3m-3 9h3m-3 30h3m-3 18h3m-3 7h3m-3 6h3m-3 3h3m-3 18h3m-3 1h3m-3 9h3m-3 5h3m-2-151h3m-3 22h3m-3 15h3m-3 0h3m-3 10h3m-3 0h3m-3 7h3m-3 4h3m-3 4h3m-3 10h3m-3 8h3m-3 1h3m-3 10h3m-3 15h3m-3 9h3m-2-146h3m-3 54h3m-3 2h3m-3 22h3m-3 13h3m-3 5h3m-3 2h3m-3 10h3m-3 16h3m-3 30h3m-3 16h3m-2-126h3m-3 21h3m-3 3h3m-3 18h3m-3 6h3m-3 18h3m-3 11h3m-3 0h3m-3 11h3m-3 12h3m-3 38h3m-3 3h3m-2-170h3m-3 22h3m-3 0h3m-3 9h3m-3 10h3m-3 1h3m-3 4h3m-3 34h3m-3 3h3m-3 3h3m-3 7h3m-3 11h3m-3 6h3m-3 17h3m-3 14h3m-3 6h3m-3 7h3m-2-157h3m-3 12h3m-3 21h3m-3 4h3m-3 6h3m-3 18h3m-3 35h3m-3 4h3m-3 8h3m-3 3h3m-3 35h3m-2-132h3m-3 10h3m-3 44h3m-3 8h3m-3 4h3m-3 30h3m-3 16h3m-3 5h3m-3 14h3m-3 1h3m-3 4h3m-3 10h3m-3 3h3m-3 24h3m-2-130h3m-3 2h3m-3 1h3m-3 17h3m-3 3h3m-3 14h3m-3 10h3m-3 2h3m-3 10h3m-3 15h3m-3 2h3m-3 9h3m-3 21h3m-2-112h3m-3 4h3m-3 33h3m-3 16h3m-3 10h3m-3 3h3m-3 7h3m-3 10h3m-3 12h3m-3 30h3m-2-158h3m-3 52h3m-3 8h3m-3 11h3m-3 37h3m-3 22h3m-3 3h3m-3 5h3m-3 9h3m-2-87h3m-3 1h3m-3 0h3m-3 8h3m-3 2h3m-3 3h3m-3 2h3m-3 3h3m-3 7h3m-3 7h3m-3 2h3m-3 20h3m-3 5h3m-3 2h3m-3 2h3m-3 14h3m-3 0h3m-3 19h3m-2-99h3m-3 5h3m-3 51h3m-3 11h3m-3 1h3m-3 10h3m-3 11h3m-2-143h3m-3 18h3m-3 24h3m-3 2h3m-3 8h3m-3 5h3m-3 7h3m-3 22h3m-3 0h3m-3 4h3m-3 26h3m-3 38h3m-3 6h3m-2-160h3m-3 13h3m-3 17h3m-3 4h3m-3 2h3m-3 12h3m-3 5h3m-3 4h3m-3 2h3m-3 17h3m-3 6h3m-3 19h3m-3 43h3m-3 0h3m-2-186h3m-3 32h3m-3 10h3m-3 22h3m-3 18h3m-3 3h3m-3 14h3m-3 2h3m-3 6h3m-3 3h3m-3 2h3m-3 17h3m-3 17h3m-2-144h3m-3 35h3m-3 7h3m-3 17h3m-3 10h3m-3 1h3m-3 4h3m-3 7h3m-3 4h3m-3 34h3m-3 8h3m-3 5h3m-3 24h3m-3 6h3m-2-166h3m-3 24h3m-3 15h3m-3 2h3m-3 33h3m-3 13h3m-3 53h3m-3 34h3m-3 5h3m-3 25h3m-3 0h3m-2-192h3m-3 22h3m-3 27h3m-3 18h3m-3 4h3m-3 15h3m-3 9h3m-3 8h3m-3 7h3m-3 7h3m-3 12h3m-3 1h3m-3 14h3m-3 25h3m-3 24h3m-2-195h3m-3 23h3m-3 16h3m-3 2h3m-3 18h3m-3 8h3m-3 15h3m-3 7h3m-3 27h3m-3 20h3m-3 10h3m-3 16h3m-3 8h3m-3 17h3m-2-171h3m-3 70h3m-3 31h3m-3 6h3m-3 7h3m-3 0h3m-3 22h3m-3 0h3m-3 2h3m-3 5h3m-3 14h3m-3 17h3m-2-109h3m-2-85h3m-3 48h3m-3 6h3m-3 11h3m-3 9h3m-3 32h3m-3 1h3m-3 8h3m-3 8h3m-3 22h3m-3 4h3m-3 48h3m-2-168h3m-3 46h3m-3 7h3m-3 4h3m-3 7h3m-3 8h3m-3 20h3m-3 6h3m-3 23h3m-3 19h3m-3 5h3m-3 16h3m-2-129h3m-3 6h3m-3 8h3m-3 3h3m-3 16h3m-3 7h3m-3 4h3m-3 1h3m-3 11h3m-3 5h3m-3 20h3m-3 17h3m-3 17h3m-3 14h3m-3 12h3m-2-146h3m-3 28h3m-3 4h3m-3 12h3m-3 1h3m-3 12h3m-3 29h3m-3 33h3m-2-88h3m-3 41h3m-3 47h3m-2-168h3m-3 65h3m-3 2h3m-3 37h3m-3 29h3m-3 9h3m-2-112h3m-3 26h3m-3 8h3m-3 3h3m-3 27h3m-3 24h3m-3 28h3m-3 4h3m-3 29h3m-3 1h3m-2-173h3m-3 26h3m-3 10h3m-3 9h3m-3 23h3m-3 30h3m-3 22h3m-3 11h3m-2-130h3m-3 77h3m-3 3h3m-3 11h3m-3 5h3m-3 14h3m-3 3h3m-3 23h3m-3 14h3m-3 12h3m-3 22h3m-2-186h3m-3 48h3m-3 6h3m-3 4h3m-3 24h3m-3 16h3m-3 26h3m-3 1h3m-3 34h3m-3 17h3m-3 0h3m-3 15h3m-2-190h3m-3 2h3m-3 44h3m-3 30h3m-3 13h3m-3 17h3m-3 59h3m-3 20h3m-3 5h3m-2-170h3m-3 7h3m-3 43h3m-3 14h3m-3 48h3m-3 0h3m-2-100h3m-3 10h3m-3 20h3m-3 67h3m-3 10h3m-3 11h3m-3 5h3m-3 3h3m-2-154h3m-3 49h3m-3 16h3m-3 36h3m-3 26h3m-3 11h3m-3 14h3m-3 4h3m-2-114h3m-3 28h3m-3 0h3m-3 7h3m-3 12h3m-3 21h3m-3 10h3m-3 7h3m-3 4h3m-2-85h3m-3 2h3m-3 31h3m-3 12h3m-3 26h3m-3 7h3m-3 53h3m-2-199h3m-3 10h3m-3 88h3m-3 11h3m-3 15h3m-3 24h3m-2-86h3m-3 30h3m-3 16h3m-3 5h3m-3 10h3m-3 19h3m-3 14h3m-2-115h3m-3 33h3m-3 6h3m-3 2h3m-3 20h3m-3 44h3m-3 6h3m-3 22h3m-3 2h3m-3 8h3m-3 12h3m-2-133h3m-2-40h3m-3 44h3m-3 28h3m-3 34h3m-3 8h3m-3 8h3m-2-154h3m-3 46h3m-3 82h3m-3 12h3m-3 20h3m-3 22h3m-3 25h3m-2-146h3m-3 94h3m-3 26h3m-2-82h3m-3 7h3m-3 3h3m-3 4h3m-3 61h3m-3 7h3m-3 26h3m-2-196h3m-3 38h3m-3 53h3m-3 40h3m-3 29h3m-3 14h3m-3 16h3m-2-166h3m-3 37h3m-3 11h3m-3 19h3m-3 17h3m-3 1h3m-3 12h3m-3 17h3m-3 12h3m-2-86h3m-3 1h3m-3 111h3m-3 9h3m-3 3h3m-3 16h3m-2-144h3m-3 17h3m-3 34h3m-3 66h3m-3 11h3m-2-150h3m-3 153h3m-2-145h3m-3 4h3m-3 74h3m-2-62h3m-3 122h3m-3 13h3m-2-7h3m-2-154h3m-3 25h3m-3 39h3m-3 12h3m-2-137h3m-3 203h3m-3 6h3m-2-165h3m-3 2h3m-3 62h3m-3 38h3m-3 60h3m-3 6h3m-2-161h3m-3 22h3m-3 11h3m-3 37h3m-3 93h3m-2-127h3m-3 8h3m-3 24h3m-3 54h3m-2-111h3m-3 32h3m-3 19h3m-3 22h3m-3 9h3m-3 84h3m-2-163h3m-3 47h3m-3 28h3m-3 91h3m-2-74h3m-3 39h3m-2-129h3m-2-2h3m-2 32h3m-2-22h3m-3 27h3m-3 101h3m-2-3h3m-3 1h3m-2-2h3m-1-128h3m-3 76h3m-3 76h3m-2-117h3m-3 124h3m-2-157h3m-3 33h3m-3 29h3m-2 12h3m-3 36h3m-2-82h3m-3 101h3m0-121h3m-3 19h3m-3 101h3m-2-97h3m-3 36h3m-3 83h3m-2-15h3m-2 21h3m-2-151h3m-3 63h3m-3 73h3m-2-196h3m-3 148h3m-2 46h3m-2-200h3m-3 32h3m-2 102h3m-2 58h3m-3 20h3m-3 3h3m-2-31h3m-3 0h3m-2 5h3m-2-114h3m-3 91h3m-2 26h3m1-2h3m-2 12h3m-2-114h3m-3 31h3m-3 57h3m-3 14h3m-2-178h3m0 146h3m-2 19h3m-3 10h3m-3 21h3m-3 10h3m-2 1h3m-2-25h3m-2-165h3m-2 156h3m-3 3h3m-2 17h3m-3 3h3m-1-151h3m-3 12h3m0-77h3m1 41h3m-2 161h3m-2-15h3m-2 39h3m-2-28h3m-3 21h3m-3 3h3m1-8h3m-2 9h3m-1 1h3m2-12h3m-2-8h3m-2-1h3m-3 1h3m-2 14h3m-2-7h3m-1 5h3m-3 8h3m1-29h3m-1 12h3m-3 21h3m-1-27h3" stroke="#111" stroke-width="4.0" stroke-opacity="0.85"/>
<rect x="113" y="108" width="60.0" height="58.0" fill="none" stroke="#555" stroke-width="0.8"/>
<path d="M133.0 108.0L133.0 166.0" stroke="#555" stroke-width="0.8" fill="none"/>
<path d="M113.0 145.0L173.0 145.0" stroke="#555" stroke-width="0.8" fill="none"/>
<path d="M113.0 166.0V108.0M113.0 166.0H173.0" stroke="#222" stroke-width="0.9" stroke-dasharray="0.7 2.3" fill="none"/>
<radialGradient id="g26"><stop offset="0" stop-color="#333" stop-opacity="0.3"/><stop offset="0.6" stop-color="#333" stop-opacity="0.18"/><stop offset="1" stop-color="#333" stop-opacity="0"/></radialGradient>
<ellipse cx="139" cy="150" rx="13" ry="10" transform="rotate(-50 139 150)" fill="url(#g26)"/>
<path transform="scale(0.2)" d="M570 752h3m2 69h3m-2-97h3m-3 50h3m-2 39h3m-2-15h3m-2 3h3m-2-18h3m0 8h3m-3 0h3m-2-50h3m-3 54h3m-3 18h3m-2 2h3m-2-36h3m-3 4h3m-3 14h3m-3 6h3m0 23h3m-2-39h3m-3 20h3m-2-50h3m-2-13h3m-3 40h3m-3 24h3m-3 12h3m-2-34h3m-3 8h3m-3 12h3m-2-37h3m-3 25h3m-3 0h3m-3 1h3m-3 17h3m-3 9h3m-2-33h3m-3 10h3m-2 2h3m-3 15h3m-2-32h3m-3 6h3m-2 21h3m-2-11h3m-3 12h3m-3 3h3m-3 6h3m-1-106h3m-3 74h3m-3 10h3m-3 24h3m-3 0h3m-2-78h3m-3 28h3m-2-170h3m-3 68h3m-3 77h3m-3 12h3m-3 15h3m-3 16h3m-2-150h3m-3 157h3m-3 16h3m-2-55h3m-3 15h3m-3 13h3m-3 30h3m-3 3h3m-3 7h3m-2-61h3m-3 26h3m-3 16h3m-2-90h3m-3 31h3m-2 60h3m-3 17h3m-2-23h3m-3 12h3m-2-210h3m-3 168h3m-3 17h3m-3 11h3m-2-12h3m-3 18h3m-2-24h3m-3 4h3m-3 22h3m-2-23h3m-3 5h3m-3 4h3m-3 13h3m-2-117h3m-3 110h3m-3 4h3m-2-89h3m-3 54h3m-3 6h3m-3 24h3m-2-71h3m-3 33h3m-3 1h3m-3 4h3m-3 24h3m-2-16h3m-3 12h3m-3 5h3m-3 21h3m-3 5h3m-2-118h3m-3 42h3m-3 6h3m-3 56h3m-3 14h3m-2-101h3m-3 37h3m-3 36h3m-3 5h3m-3 4h3m-3 4h3m-3 10h3m-3 1h3m-2-83h3m-3 26h3m-3 21h3m-3 47h3m-2-50h3m-3 17h3m-3 0h3m-2-72h3m-3 84h3m-3 13h3m-3 2h3m-2-46h3m-3 11h3m-3 18h3m-3 19h3m-2-69h3m-3 53h3m-3 0h3m-2-88h3m-3 7h3m-3 26h3m-3 24h3m-3 3h3m-3 1h3m-3 10h3m-3 14h3m-2-80h3m-3 11h3m-3 21h3m-3 7h3m-3 12h3m-3 2h3m-3 3h3m-3 5h3m-3 3h3m-3 0h3m-3 7h3m-3 10h3m-3 2h3m-3 2h3m-3 5h3m-2-67h3m-3 6h3m-3 26h3m-3 5h3m-3 12h3m-3 12h3m-3 13h3m-3 4h3m-2-153h3m-3 70h3m-3 31h3m-3 41h3m-3 1h3m-2-71h3m-3 43h3m-3 3h3m-2-129h3m-3 75h3m-3 24h3m-3 50h3m-3 4h3m-2-57h3m-3 46h3m-3 10h3m-2-78h3m-3 57h3m-3 2h3m-2-5h3m-3 26h3m-3 4h3m-3 10h3m-2-127h3m-3 82h3m-3 5h3m-3 6h3m-3 4h3m-3 6h3m-2-75h3m-3 34h3m-3 36h3m-3 5h3m-2-53h3m-3 3h3m-3 21h3m-3 39h3m-3 7h3m-3 0h3m-3 2h3m-2-97h3m-3 27h3m-3 6h3m-3 15h3m-3 26h3m-3 16h3m-2-72h3m-3 45h3m-2-57h3m-3 20h3m-3 2h3m-3 5h3m-3 17h3m-3 0h3m-3 18h3m-3 1h3m-3 13h3m-3 4h3m-2-89h3m-3 25h3m-3 11h3m-3 7h3m-3 1h3m-3 27h3m-3 8h3m-2-44h3m-3 41h3m-3 3h3m-3 5h3m-3 4h3m-2-153h3m-3 71h3m-3 6h3m-3 8h3m-3 8h3m-3 3h3m-3 25h3m-3 15h3m-3 15h3m-2-205h3m-3 124h3m-3 24h3m-3 22h3m-3 6h3m-3 10h3m-3 17h3m-3 6h3m-2-80h3m-3 16h3m-3 35h3m-3 6h3m-3 13h3m-3 5h3m-3 17h3m-3 1h3m-2-65h3m-3 8h3m-3 24h3m-3 21h3m-2-126h3m-3 30h3m-3 3h3m-3 26h3m-3 9h3m-3 13h3m-3 4h3m-3 3h3m-3 11h3m-3 8h3m-2-55h3m-3 20h3m-3 8h3m-3 19h3m-3 2h3m-3 7h3m-3 9h3m-3 9h3m-3 4h3m-2-134h3m-3 59h3m-3 16h3m-3 12h3m-3 4h3m-3 0h3m-3 0h3m-3 5h3m-3 4h3m-3 3h3m-3 34h3m-2-135h3m-3 46h3m-3 4h3m-3 16h3m-3 7h3m-3 5h3m-3 36h3m-3 2h3m-2-99h3m-3 31h3m-3 16h3m-3 3h3m-3 31h3m-3 9h3m-3 5h3m-2-71h3m-3 7h3m-3 28h3m-3 8h3m-3 0h3m-3 36h3m-3 14h3m-2-131h3m-3 30h3m-3 1h3m-3 2h3m-3 23h3m-3 24h3m-3 1h3m-3 20h3m-3 21h3m-3 13h3m-2-121h3m-3 13h3m-3 31h3m-3 0h3m-3 15h3m-3 5h3m-3 0h3m-3 6h3m-3 2h3m-3 0h3m-3 8h3m-3 6h3m-3 1h3m-3 13h3m-3 6h3m-3 7h3m-3 3h3m-3 2h3m-2-143h3m-3 93h3m-3 27h3m-3 11h3m-3 5h3m-3 10h3m-2-100h3m-3 11h3m-3 16h3m-3 25h3m-3 11h3m-3 1h3m-3 5h3m-3 14h3m-2-93h3m-3 28h3m-3 9h3m-3 3h3m-3 36h3m-3 21h3m-2-120h3m-3 35h3m-3 4h3m-3 14h3m-3 6h3m-3 5h3m-3 10h3m-3 10h3m-3 11h3m-3 16h3m-3 4h3m-3 4h3m-3 10h3m-2-119h3m-3 3h3m-3 15h3m-3 14h3m-3 1h3m-3 11h3m-3 21h3m-3 10h3m-3 2h3m-3 2h3m-3 7h3m-3 5h3m-3 2h3m-3 4h3m-3 29h3m-2-169h3m-3 66h3m-3 6h3m-3 3h3m-3 2h3m-3 11h3m-3 5h3m-3 3h3m-3 18h3m-3 1h3m-3 3h3m-3 3h3m-3 3h3m-3 9h3m-3 24h3m-3 8h3m-3 6h3m-2-190h3m-3 47h3m-3 25h3m-3 29h3m-3 26h3m-3 2h3m-3 1h3m-3 10h3m-3 12h3m-3 15h3m-3 5h3m-3 7h3m-2-83h3m-3 12h3m-3 9h3m-3 6h3m-3 1h3m-3 0h3m-3 2h3m-3 30h3m-3 27h3m-2-118h3m-3 5h3m-3 9h3m-3 27h3m-3 4h3m-3 0h3m-3 7h3m-3 14h3m-3 3h3m-3 6h3m-3 2h3m-3 5h3m-3 6h3m-3 4h3m-3 12h3m-3 7h3m-3 9h3m-2-119h3m-3 8h3m-3 2h3m-3 11h3m-3 15h3m-3 7h3m-3 8h3m-3 21h3m-3 11h3m-3 9h3m-3 29h3m-2-141h3m-3 66h3m-3 2h3m-3 6h3m-3 9h3m-3 7h3m-3 0h3m-3 11h3m-3 2h3m-3 6h3m-3 2h3m-3 3h3m-3 10h3m-3 2h3m-3 11h3m-3 6h3m-2-88h3m-3 28h3m-3 7h3m-3 11h3m-3 4h3m-3 8h3m-3 9h3m-3 5h3m-2-153h3m-3 37h3m-3 7h3m-3 1h3m-3 32h3m-3 4h3m-3 10h3m-3 14h3m-3 4h3m-3 5h3m-3 19h3m-3 2h3m-3 14h3m-2-202h3m-3 83h3m-3 18h3m-3 34h3m-3 7h3m-3 20h3m-3 9h3m-3 13h3m-3 11h3m-3 10h3m-2-105h3m-3 12h3m-3 5h3m-3 17h3m-3 7h3m-3 4h3m-3 3h3m-3 4h3m-3 0h3m-3 7h3m-3 0h3m-3 6h3m-3 11h3m-3 4h3m-3 2h3m-3 2h3m-2-85h3m-3 12h3m-3 3h3m-3 2h3m-3 4h3m-3 11h3m-3 9h3m-3 11h3m-3 0h3m-3 8h3m-3 1h3m-3 21h3m-3 1h3m-3 5h3m-3 1h3m-3 0h3m-3 26h3m-2-108h3m-3 6h3m-3 3h3m-3 16h3m-3 11h3m-3 0h3m-3 5h3m-3 1h3m-3 3h3m-3 6h3m-3 2h3m-3 6h3m-3 3h3m-3 10h3m-3 20h3m-2-79h3m-3 39h3m-3 1h3m-3 2h3m-3 16h3m-3 1h3m-3 10h3m-3 1h3m-3 0h3m-3 1h3m-3 17h3m-2-110h3m-3 17h3m-3 20h3m-3 1h3m-3 20h3m-3 33h3m-3 1h3m-3 8h3m-3 15h3m-3 6h3m-2-121h3m-3 8h3m-3 51h3m-3 6h3m-3 1h3m-3 1h3m-3 5h3m-3 1h3m-3 1h3m-3 25h3m-3 17h3m-3 1h3m-3 1h3m-2-130h3m-3 20h3m-3 23h3m-3 26h3m-3 2h3m-3 9h3m-3 7h3m-3 2h3m-3 19h3m-3 8h3m-3 2h3m-2-89h3m-3 7h3m-3 2h3m-3 14h3m-3 30h3m-3 9h3m-3 2h3m-3 18h3m-2-163h3m-3 61h3m-3 0h3m-3 7h3m-3 4h3m-3 6h3m-3 5h3m-3 6h3m-3 9h3m-3 2h3m-3 5h3m-3 7h3m-3 6h3m-3 2h3m-3 9h3m-3 18h3m-3 4h3m-3 16h3m-2-121h3m-3 14h3m-3 28h3m-3 7h3m-3 12h3m-3 10h3m-3 0h3m-3 0h3m-3 1h3m-3 12h3m-3 4h3m-3 8h3m-3 6h3m-3 3h3m-3 0h3m-3 4h3m-3 8h3m-3 6h3m-3 3h3m-3 2h3m-3 6h3m-2-145h3m-3 12h3m-3 20h3m-3 29h3m-3 6h3m-3 2h3m-3 4h3m-3 4h3m-3 11h3m-3 2h3m-3 17h3m-3 2h3m-3 18h3m-3 2h3m-3 14h3m-2-83h3m-3 3h3m-3 9h3m-3 5h3m-3 21h3m-3 12h3m-3 3h3m-3 3h3m-3 1h3m-3 3h3m-3 10h3m-3 6h3m-3 8h3m-2-163h3m-3 23h3m-3 5h3m-3 3h3m-3 22h3m-3 24h3m-3 10h3m-3 12h3m-3 8h3m-3 18h3m-3 7h3m-2-77h3m-3 4h3m-3 37h3m-3 4h3m-3 8h3m-3 9h3m-3 24h3m-2-156h3m-3 28h3m-3 102h3m-3 3h3m-3 8h3m-3 0h3m-3 1h3m-3 0h3m-3 3h3m-3 38h3m-2-119h3m-3 8h3m-3 12h3m-3 18h3m-3 1h3m-3 14h3m-3 9h3m-3 3h3m-3 2h3m-3 0h3m-3 11h3m-3 4h3m-3 12h3m-3 1h3m-3 4h3m-3 11h3m-3 11h3m-2-154h3m-3 30h3m-3 8h3m-3 4h3m-3 7h3m-3 6h3m-3 9h3m-3 20h3m-3 7h3m-3 1h3m-3 2h3m-3 19h3m-3 5h3m-3 3h3m-3 1h3m-3 7h3m-3 9h3m-2-124h3m-3 10h3m-3 2h3m-3 15h3m-3 19h3m-3 0h3m-3 5h3m-3 15h3m-3 10h3m-3 1h3m-3 11h3m-3 15h3m-3 4h3m-3 4h3m-3 28h3m-2-109h3m-3 11h3m-3 1h3m-3 34h3m-3 7h3m-3 28h3m-3 7h3m-2-188h3m-3 86h3m-3 16h3m-3 5h3m-3 5h3m-3 9h3m-3 0h3m-3 5h3m-3 6h3m-3 14h3m-3 2h3m-3 1h3m-3 29h3m-3 10h3m-3 1h3m-3 23h3m-2-147h3m-3 10h3m-3 12h3m-3 3h3m-3 14h3m-3 15h3m-3 3h3m-3 7h3m-3 10h3m-3 3h3m-3 18h3m-3 9h3m-3 0h3m-3 35h3m-2-154h3m-3 66h3m-3 4h3m-3 3h3m-3 5h3m-3 12h3m-3 18h3m-3 4h3m-3 8h3m-3 14h3m-3 10h3m-3 4h3m-3 12h3m-2-130h3m-3 22h3m-3 66h3m-3 1h3m-3 2h3m-3 0h3m-3 7h3m-3 2h3m-2-118h3m-3 4h3m-3 32h3m-3 2h3m-3 7h3m-3 13h3m-3 9h3m-3 6h3m-3 3h3m-3 10h3m-3 30h3m-3 2h3m-2-71h3m-3 14h3m-3 16h3m-3 2h3m-3 12h3m-3 3h3m-3 18h3m-3 6h3m-3 9h3m-3 17h3m-2-141h3m-3 45h3m-3 42h3m-3 17h3m-3 34h3m-3 7h3m-2-217h3m-3 122h3m-3 3h3m-3 7h3m-3 13h3m-3 5h3m-3 13h3m-3 1h3m-3 11h3m-3 2h3m-3 2h3m-3 4h3m-3 0h3m-3 2h3m-3 1h3m-3 11h3m-3 8h3m-3 5h3m-2-157h3m-3 3h3m-3 48h3m-3 20h3m-3 21h3m-3 0h3m-3 7h3m-3 1h3m-3 7h3m-3 14h3m-3 0h3m-3 8h3m-3 2h3m-3 8h3m-3 5h3m-3 2h3m-3 5h3m-3 9h3m-2-150h3m-3 51h3m-3 20h3m-3 12h3m-3 4h3m-3 6h3m-3 13h3m-3 9h3m-3 3h3m-3 9h3m-2-128h3m-3 15h3m-3 11h3m-3 37h3m-3 0h3m-3 4h3m-3 1h3m-3 15h3m-3 5h3m-3 11h3m-3 23h3m-3 16h3m-2-134h3m-3 11h3m-3 14h3m-3 9h3m-3 11h3m-3 9h3m-3 26h3m-3 11h3m-3 7h3m-3 6h3m-3 1h3m-3 18h3m-3 7h3m-3 7h3m-3 6h3m-2-157h3m-3 3h3m-3 3h3m-3 45h3m-3 9h3m-3 3h3m-3 8h3m-3 16h3m-3 0h3m-3 0h3m-3 6h3m-3 1h3m-3 19h3m-3 0h3m-3 12h3m-3 2h3m-3 7h3m-3 14h3m-2-158h3m-3 32h3m-3 0h3m-3 28h3m-3 19h3m-3 19h3m-3 3h3m-3 5h3m-3 2h3m-3 1h3m-3 1h3m-3 6h3m-3 12h3m-3 12h3m-3 16h3m-3 3h3m-3 10h3m-3 2h3m-2-151h3m-3 23h3m-3 19h3m-3 2h3m-3 8h3m-3 0h3m-3 1h3m-3 2h3m-3 5h3m-3 7h3m-3 1h3m-3 1h3m-3 19h3m-3 8h3m-3 2h3m-3 2h3m-3 0h3m-3 2h3m-3 4h3m-3 7h3m-3 2h3m-3 4h3m-3 11h3m-3 23h3m-2-132h3m-3 27h3m-3 2h3m-3 22h3m-3 2h3m-3 0h3m-3 12h3m-3 6h3m-3 18h3m-3 2h3m-3 7h3m-3 8h3m-3 15h3m-3 0h3m-2-122h3m-3 3h3m-3 20h3m-3 1h3m-3 6h3m-3 31h3m-3 0h3m-3 33h3m-3 1h3m-3 7h3m-3 2h3m-3 1h3m-3 3h3m-3 11h3m-3 3h3m-2-163h3m-3 59h3m-3 26h3m-3 42h3m-3 2h3m-3 0h3m-3 10h3m-3 1h3m-3 1h3m-3 9h3m-3 13h3m-2-177h3m-3 22h3m-3 3h3m-3 36h3m-3 10h3m-3 1h3m-3 4h3m-3 25h3m-3 1h3m-3 3h3m-3 8h3m-3 12h3m-3 23h3m-2-123h3m-3 14h3m-3 19h3m-3 8h3m-3 10h3m-3 24h3m-3 4h3m-3 0h3m-3 3h3m-3 10h3m-3 12h3m-3 14h3m-3 6h3m-3 1h3m-3 15h3m-3 6h3m-3 16h3m-2-115h3m-3 17h3m-3 10h3m-3 2h3m-3 4h3m-3 15h3m-3 37h3m-3 1h3m-3 8h3m-2-124h3m-3 23h3m-3 3h3m-3 2h3m-3 15h3m-3 29h3m-3 9h3m-3 9h3m-3 11h3m-3 5h3m-3 4h3m-3 4h3m-3 22h3m-2-81h3m-3 2h3m-3 1h3m-3 0h3m-3 3h3m-3 5h3m-3 5h3m-3 15h3m-3 20h3m-3 8h3m-3 0h3m-3 17h3m-3 16h3m-2-197h3m-3 28h3m-3 21h3m-3 2h3m-3 14h3m-3 9h3m-3 21h3m-3 17h3m-3 9h3m-3 11h3m-3 6h3m-3 1h3m-3 6h3m-3 4h3m-3 23h3m-3 7h3m-3 0h3m-2-194h3m-3 35h3m-3 34h3m-3 19h3m-3 10h3m-3 1h3m-3 4h3m-3 1h3m-3 4h3m-3 2h3m-3 8h3m-3 10h3m-3 2h3m-3 10h3m-3 8h3m-3 1h3m-3 8h3m-3 3h3m-3 19h3m-3 2h3m-3 18h3m-3 4h3m-3 6h3m-3 4h3m-2-194h3m-3 30h3m-3 14h3m-3 4h3m-3 6h3m-3 0h3m-3 24h3m-3 0h3m-3 5h3m-3 1h3m-3 7h3m-3 1h3m-3 2h3m-3 0h3m-3 10h3m-3 36h3m-3 1h3m-3 8h3m-3 0h3m-3 7h3m-3 4h3m-3 3h3m-3 0h3m-3 5h3m-3 6h3m-3 12h3m-2-158h3m-3 26h3m-3 8h3m-3 7h3m-3 6h3m-3 11h3m-3 21h3m-3 6h3m-3 8h3m-3 9h3m-3 9h3m-3 29h3m-3 1h3m-2-149h3m-3 35h3m-3 21h3m-3 31h3m-3 1h3m-3 1h3m-3 9h3m-3 0h3m-3 17h3m-3 2h3m-3 5h3m-3 16h3m-3 24h3m-3 6h3m-3 7h3m-2-168h3m-3 9h3m-3 6h3m-3 1h3m-3 9h3m-3 28h3m-3 7h3m-3 9h3m-3 11h3m-3 23h3m-3 10h3m-3 16h3m-3 3h3m-3 0h3m-3 7h3m-2-119h3m-3 32h3m-3 2h3m-3 1h3m-3 1h3m-3 9h3m-3 1h3m-3 4h3m-3 2h3m-3 24h3m-3 15h3m-3 2h3m-3 1h3m-3 10h3m-3 1h3m-3 3h3m-3 21h3m-2-155h3m-3 4h3m-3 39h3m-3 6h3m-3 6h3m-3 3h3m-3 13h3m-3 2h3m-3 12h3m-3 2h3m-3 7h3m-3 0h3m-3 3h3m-3 6h3m-3 3h3m-3 22h3m-3 12h3m-3 11h3m-3 3h3m-3 1h3m-2-113h3m-3 23h3m-3 12h3m-3 19h3m-3 23h3m-3 7h3m-3 27h3m-3 12h3m-3 2h3m-3 0h3m-2-193h3m-3 49h3m-3 15h3m-3 25h3m-3 13h3m-3 2h3m-3 4h3m-3 2h3m-3 14h3m-3 15h3m-3 20h3m-3 14h3m-3 23h3m-2-167h3m-3 13h3m-3 28h3m-3 15h3m-3 6h3m-3 1h3m-3 37h3m-3 23h3m-3 11h3m-3 39h3m-2-208h3m-3 28h3m-3 12h3m-3 26h3m-3 7h3m-3 17h3m-3 11h3m-3 1h3m-3 20h3m-3 24h3m-3 6h3m-2-124h3m-3 9h3m-3 55h3m-3 17h3m-3 15h3m-3 13h3m-3 1h3m-3 12h3m-3 3h3m-3 30h3m-3 13h3m-2-161h3m-3 7h3m-3 23h3m-3 5h3m-3 28h3m-3 24h3m-3 4h3m-3 1h3m-3 1h3m-3 1h3m-3 6h3m-3 3h3m-3 27h3m-3 10h3m-3 29h3m-2-176h3m-3 16h3m-3 15h3m-3 6h3m-3 8h3m-3 23h3m-3 0h3m-3 10h3m-3 5h3m-3 1h3m-3 25h3m-3 3h3m-3 7h3m-3 16h3m-3 1h3m-3 10h3m-3 18h3m-3 2h3m-2-161h3m-3 21h3m-3 23h3m-3 25h3m-3 1h3m-3 2h3m-3 1h3m-3 0h3m-3 1h3m-3 7h3m-3 3h3m-3 3h3m-3 14h3m-3 11h3m-3 11h3m-3 6h3m-3 4h3m-3 7h3m-3 6h3m-3 1h3m-3 15h3m-2-178h3m-3 10h3m-3 19h3m-3 20h3m-3 1h3m-3 14h3m-3 19h3m-3 10h3m-3 14h3m-3 2h3m-3 5h3m-3 1h3m-3 14h3m-3 17h3m-3 28h3m-2-167h3m-3 11h3m-3 20h3m-3 0h3m-3 24h3m-3 1h3m-3 2h3m-3 23h3m-3 25h3m-3 20h3m-3 2h3m-3 12h3m-3 2h3m-3 10h3m-3 5h3m-3 4h3m-3 0h3m-3 5h3m-2-169h3m-3 31h3m-3 4h3m-3 2h3m-3 20h3m-3 21h3m-3 0h3m-3 6h3m-3 2h3m-3 8h3m-3 7h3m-3 34h3m-3 5h3m-3 26h3m-3 4h3m-2-154h3m-3 0h3m-3 2h3m-3 3h3m-3 10h3m-3 11h3m-3 1h3m-3 29h3m-3 2h3m-3 14h3m-3 20h3m-3 8h3m-3 1h3m-3 21h3m-3 4h3m-3 8h3m-3 8h3m-3 4h3m-3 2h3m-3 8h3m-3 5h3m-3 10h3m-2-179h3m-3 20h3m-3 2h3m-3 13h3m-3 2h3m-3 36h3m-3 6h3m-3 3h3m-3 14h3m-3 18h3m-3 21h3m-2-149h3m-3 74h3m-3 5h3m-3 5h3m-3 22h3m-3 1h3m-3 12h3m-3 1h3m-3 22h3m-3 5h3m-3 30h3m-2-155h3m-3 21h3m-3 58h3m-3 4h3m-3 3h3m-3 4h3m-3 15h3m-3 6h3m-3 22h3m-3 10h3m-3 1h3m-3 22h3m-2-196h3m-3 39h3m-3 11h3m-3 14h3m-3 0h3m-3 61h3m-3 4h3m-3 21h3m-3 18h3m-2-156h3m-3 71h3m-3 8h3m-3 6h3m-3 11h3m-3 12h3m-3 16h3m-3 21h3m-3 5h3m-3 5h3m-3 5h3m-3 20h3m-2-146h3m-3 8h3m-3 2h3m-3 3h3m-3 12h3m-3 22h3m-3 3h3m-3 36h3m-3 16h3m-3 9h3m-3 36h3m-2-186h3m-3 32h3m-3 15h3m-3 26h3m-3 2h3m-3 9h3m-3 6h3m-3 10h3m-3 21h3m-3 60h3m-2-197h3m-3 36h3m-3 14h3m-3 28h3m-3 0h3m-3 50h3m-3 25h3m-3 41h3m-3 12h3m-2-184h3m-3 3h3m-3 45h3m-3 18h3m-3 11h3m-3 1h3m-3 6h3m-3 9h3m-3 53h3m-3 13h3m-2-157h3m-3 31h3m-3 7h3m-3 24h3m-3 1h3m-3 5h3m-3 24h3m-3 2h3m-3 4h3m-3 13h3m-3 2h3m-3 24h3m-3 5h3m-3 14h3m-3 2h3m-3 8h3m-3 3h3m-3 7h3m-2-159h3m-3 5h3m-3 17h3m-3 24h3m-3 31h3m-3 21h3m-3 29h3m-3 21h3m-2-133h3m-3 5h3m-3 18h3m-3 7h3m-3 4h3m-3 3h3m-3 11h3m-3 5h3m-3 13h3m-3 42h3m-3 13h3m-3 32h3m-2-150h3m-3 17h3m-3 35h3m-3 20h3m-3 2h3m-3 4h3m-3 6h3m-3 9h3m-3 21h3m-3 1h3m-2-155h3m-3 41h3m-3 29h3m-3 0h3m-3 20h3m-3 15h3m-3 12h3m-3 22h3m-3 5h3m-3 3h3m-3 1h3m-3 6h3m-2-173h3m-3 108h3m-3 1h3m-3 13h3m-3 28h3m-3 16h3m-3 30h3m-3 13h3m-2-176h3m-3 18h3m-3 18h3m-3 3h3m-3 8h3m-3 90h3m-3 1h3m-2-138h3m-3 63h3m-3 4h3m-3 11h3m-3 7h3m-3 50h3m-3 27h3m-3 12h3m-2-175h3m-3 14h3m-3 6h3m-3 9h3m-3 11h3m-3 24h3m-3 2h3m-3 44h3m-3 15h3m-2-75h3m-3 14h3m-3 22h3m-3 15h3m-3 28h3m-2-74h3m-3 2h3m-3 2h3m-3 4h3m-3 28h3m-3 0h3m-3 17h3m-2-122h3m-3 20h3m-3 31h3m-3 39h3m-3 19h3m-3 1h3m-3 17h3m-3 5h3m-3 1h3m-3 22h3m-3 37h3m-2-209h3m-3 39h3m-3 35h3m-3 17h3m-3 1h3m-3 25h3m-3 3h3m-3 84h3m-3 3h3m-3 2h3m-2-190h3m-3 15h3m-3 61h3m-3 26h3m-3 4h3m-3 22h3m-3 13h3m-3 1h3m-3 3h3m-2-178h3m-3 15h3m-3 53h3m-3 17h3m-3 98h3m-3 20h3m-3 6h3m-2-147h3m-3 11h3m-3 5h3m-3 13h3m-3 13h3m-3 22h3m-3 2h3m-3 26h3m-3 23h3m-2-129h3m-3 16h3m-3 12h3m-3 2h3m-3 27h3m-3 5h3m-3 0h3m-3 25h3m-3 23h3m-3 36h3m-2-64h3m-3 20h3m-3 19h3m-3 5h3m-3 16h3m-2-136h3m-3 22h3m-3 37h3m-3 2h3m-3 65h3m-3 14h3m-3 12h3m-3 5h3m-2-163h3m-3 14h3m-3 7h3m-3 11h3m-3 2h3m-3 4h3m-3 42h3m-3 44h3m-2-147h3m-3 23h3m-3 25h3m-3 10h3m-3 7h3m-3 5h3m-3 5h3m-3 15h3m-3 68h3m-2-123h3m-3 32h3m-3 2h3m-3 35h3m-3 4h3m-3 45h3m-3 24h3m-2-173h3m-3 8h3m-3 50h3m-3 6h3m-3 15h3m-3 9h3m-3 56h3m-2-123h3m-3 11h3m-3 10h3m-3 46h3m-3 13h3m-3 4h3m-3 9h3m-3 14h3m-3 16h3m-2-104h3m-3 41h3m-3 9h3m-3 5h3m-3 7h3m-3 9h3m-3 42h3m-2-134h3m-3 3h3m-3 30h3m-3 11h3m-3 4h3m-3 4h3m-3 2h3m-3 34h3m-3 73h3m-3 1h3m-3 5h3m-2-114h3m-3 86h3m-2-139h3m-3 18h3m-3 32h3m-3 8h3m-3 6h3m-3 19h3m-3 6h3m-2-161h3m-3 99h3m-3 9h3m-3 36h3m-3 16h3m-3 19h3m-3 2h3m-2-72h3m-3 65h3m-2-132h3m-3 35h3m-3 18h3m-3 67h3m-3 47h3m-3 3h3m-3 21h3m-2-153h3m-3 0h3m-3 47h3m-3 50h3m-3 18h3m-3 14h3m-3 14h3m-3 1h3m-3 15h3m-2-172h3m-3 26h3m-3 31h3m-3 113h3m-2-83h3m-3 26h3m-3 25h3m-2-111h3m-3 44h3m-3 18h3m-3 4h3m-3 5h3m-3 4h3m-3 3h3m-2-77h3m-3 41h3m-3 2h3m-3 54h3m-2-31h3m-3 81h3m-2-151h3m-2 29h3m-3 10h3m-3 16h3m-3 18h3m-3 1h3m-3 64h3m-2-178h3m-3 143h3m-2-136h3m-3 8h3m-3 37h3m-3 1h3m-3 42h3m-3 9h3m-3 83h3m-3 8h3m-2-174h3m-3 2h3m-3 54h3m-3 80h3m-3 21h3m-2-127h3m-3 12h3m-3 82h3m-3 16h3m-2-67h3m-3 41h3m-3 39h3m-2-3h3m-1-87h3m-3 4h3m-3 99h3m-2-215h3m-3 23h3m-3 60h3m-2 122h3m-2-109h3m-3 25h3m-3 71h3m-3 11h3m-3 7h3m-2-192h3m-3 184h3m-2-156h3m-3 24h3m-3 35h3m-3 62h3m-3 21h3m-2-36h3m-3 19h3m-3 3h3m-2-57h3m-1 67h3m-3 0h3m-2-63h3m-3 43h3m-2-153h3m-3 107h3m-3 98h3m-2-3h3m-2-151h3m-2 70h3m-3 76h3m-2-95h3m-3 10h3m-3 75h3m-2-157h3m-2-23h3m-3 43h3m-3 141h3m-2-185h3m-3 77h3m-3 125h3m-2-196h3m-2 64h3m-1-21h3m-2 37h3m-2-44h3m-3 166h3m-2-120h3m-2-68h3m-2 53h3m-3 119h3m-1 6h3m-2-101h3m-2-50h3m-3 133h3m-2-6h3m-2 15h3m-2-187h3m-3 156h3m-1-177h3m-1 196h3m-2 0h3m-3 29h3m-2-42h3m0-109h3m-3 113h3m-2 9h3m-3 28h3m-2-2h3m-2-40h3m-3 2h3m2 5h3m1 6h3m-3 4h3m-2-14h3m-2 31h3m-1 8h3m9 2h3m0-45h3m-3 19h3" stroke="#111" stroke-width="4.0" stroke-opacity="0.85"/>
<text x="23.4" y="83.0" font-size="6.2" text-anchor="middle" fill="#222">10<tspan font-size="3.8" dy="-2.4">0</tspan></text>
<text x="18.2" y="74.6" font-size="6.2" text-anchor="middle" fill="#222" transform="rotate(-90 18.2 74.6)">10<tspan font-size="3.8" dy="-2.4">0</tspan></text>
<text x="39.1" y="83.0" font-size="6.2" text-anchor="middle" fill="#222">10<tspan font-size="3.8" dy="-2.4">1</tspan></text>
<text x="18.2" y="60.0" font-size="6.2" text-anchor="middle" fill="#222" transform="rotate(-90 18.2 60.0)">10<tspan font-size="3.8" dy="-2.4">1</tspan></text>
<text x="54.8" y="83.0" font-size="6.2" text-anchor="middle" fill="#222">10<tspan font-size="3.8" dy="-2.4">2</tspan></text>
<text x="18.2" y="45.4" font-size="6.2" text-anchor="middle" fill="#222" transform="rotate(-90 18.2 45.4)">10<tspan font-size="3.8" dy="-2.4">2</tspan></text>
<text x="70.5" y="83.0" font-size="6.2" text-anchor="middle" fill="#222">10<tspan font-size="3.8" dy="-2.4">3</tspan></text>
<text x="18.2" y="30.8" font-size="6.2" text-anchor="middle" fill="#222" transform="rotate(-90 18.2 30.8)">10<tspan font-size="3.8" dy="-2.4">3</tspan></text>
<text x="86.2" y="83.0" font-size="6.2" text-anchor="middle" fill="#222">10<tspan font-size="3.8" dy="-2.4">4</tspan></text>
<text x="18.2" y="16.2" font-size="6.2" text-anchor="middle" fill="#222" transform="rotate(-90 18.2 16.2)">10<tspan font-size="3.8" dy="-2.4">4</tspan></text>
<text x="111.9" y="83.0" font-size="6.2" text-anchor="middle" fill="#222">10<tspan font-size="3.8" dy="-2.4">0</tspan></text>
<text x="106.7" y="74.6" font-size="6.2" text-anchor="middle" fill="#222" transform="rotate(-90 106.7 74.6)">10<tspan font-size="3.8" dy="-2.4">0</tspan></text>
<text x="127.3" y="83.0" font-size="6.2" text-anchor="middle" fill="#222">10<tspan font-size="3.8" dy="-2.4">1</tspan></text>
<text x="106.7" y="60.1" font-size="6.2" text-anchor="middle" fill="#222" transform="rotate(-90 106.7 60.1)">10<tspan font-size="3.8" dy="-2.4">1</tspan></text>
<text x="142.6" y="83.0" font-size="6.2" text-anchor="middle" fill="#222">10<tspan font-size="3.8" dy="-2.4">2</tspan></text>
<text x="106.7" y="45.5" font-size="6.2" text-anchor="middle" fill="#222" transform="rotate(-90 106.7 45.5)">10<tspan font-size="3.8" dy="-2.4">2</tspan></text>
<text x="158.0" y="83.0" font-size="6.2" text-anchor="middle" fill="#222">10<tspan font-size="3.8" dy="-2.4">3</tspan></text>
<text x="106.7" y="31.0" font-size="6.2" text-anchor="middle" fill="#222" transform="rotate(-90 106.7 31.0)">10<tspan font-size="3.8" dy="-2.4">3</tspan></text>
<text x="173.4" y="83.0" font-size="6.2" text-anchor="middle" fill="#222">10<tspan font-size="3.8" dy="-2.4">4</tspan></text>
<text x="106.7" y="16.5" font-size="6.2" text-anchor="middle" fill="#222" transform="rotate(-90 106.7 16.5)">10<tspan font-size="3.8" dy="-2.4">4</tspan></text>
<text x="24.5" y="173.5" font-size="6.2" text-anchor="middle" fill="#222">10<tspan font-size="3.8" dy="-2.4">0</tspan></text>
<text x="21.2" y="165.0" font-size="6.2" text-anchor="middle" fill="#222" transform="rotate(-90 21.2 165.0)">10<tspan font-size="3.8" dy="-2.4">0</tspan></text>
<text x="39.7" y="173.5" font-size="6.2" text-anchor="middle" fill="#222">10<tspan font-size="3.8" dy="-2.4">1</tspan></text>
<text x="21.2" y="150.8" font-size="6.2" text-anchor="middle" fill="#222" transform="rotate(-90 21.2 150.8)">10<tspan font-size="3.8" dy="-2.4">1</tspan></text>
<text x="54.9" y="173.5" font-size="6.2" text-anchor="middle" fill="#222">10<tspan font-size="3.8" dy="-2.4">2</tspan></text>
<text x="21.2" y="136.5" font-size="6.2" text-anchor="middle" fill="#222" transform="rotate(-90 21.2 136.5)">10<tspan font-size="3.8" dy="-2.4">2</tspan></text>
<text x="70.1" y="173.5" font-size="6.2" text-anchor="middle" fill="#222">10<tspan font-size="3.8" dy="-2.4">3</tspan></text>
<text x="21.2" y="122.2" font-size="6.2" text-anchor="middle" fill="#222" transform="rotate(-90 21.2 122.2)">10<tspan font-size="3.8" dy="-2.4">3</tspan></text>
<text x="85.3" y="173.5" font-size="6.2" text-anchor="middle" fill="#222">10<tspan font-size="3.8" dy="-2.4">4</tspan></text>
<text x="21.2" y="108.0" font-size="6.2" text-anchor="middle" fill="#222" transform="rotate(-90 21.2 108.0)">10<tspan font-size="3.8" dy="-2.4">4</tspan></text>
<text x="113.7" y="173.5" font-size="6.2" text-anchor="middle" fill="#222">10<tspan font-size="3.8" dy="-2.4">0</tspan></text>
<text x="108.3" y="166.0" font-size="6.2" text-anchor="middle" fill="#222" transform="rotate(-90 108.3 166.0)">10<tspan font-size="3.8" dy="-2.4">0</tspan></text>
<text x="128.7" y="173.5" font-size="6.2" text-anchor="middle" fill="#222">10<tspan font-size="3.8" dy="-2.4">1</tspan></text>
<text x="108.3" y="151.5" font-size="6.2" text-anchor="middle" fill="#222" transform="rotate(-90 108.3 151.5)">10<tspan font-size="3.8" dy="-2.4">1</tspan></text>
<text x="143.7" y="173.5" font-size="6.2" text-anchor="middle" fill="#222">10<tspan font-size="3.8" dy="-2.4">2</tspan></text>
<text x="108.3" y="137.0" font-size="6.2" text-anchor="middle" fill="#222" transform="rotate(-90 108.3 137.0)">10<tspan font-size="3.8" dy="-2.4">2</tspan></text>
<text x="158.7" y="173.5" font-size="6.2" text-anchor="middle" fill="#222">10<tspan font-size="3.8" dy="-2.4">3</tspan></text>
<text x="108.3" y="122.5" font-size="6.2" text-anchor="middle" fill="#222" transform="rotate(-90 108.3 122.5)">10<tspan font-size="3.8" dy="-2.4">3</tspan></text>
<text x="173.7" y="173.5" font-size="6.2" text-anchor="middle" fill="#222">10<tspan font-size="3.8" dy="-2.4">4</tspan></text>
<text x="108.3" y="108.0" font-size="6.2" text-anchor="middle" fill="#222" transform="rotate(-90 108.3 108.0)">10<tspan font-size="3.8" dy="-2.4">4</tspan></text>
<path d="M19.0 87.5L173.0 87.5" stroke="#777" stroke-width="0.75" fill="none"/>
<path d="M172.1 85.9L175.5 87.5L172.1 89.1z" fill="#000"/>
<path d="M10.7 24.0L10.7 78.0" stroke="#bbb" stroke-width="0.6" fill="none"/>
<path d="M9.2 23.7L10.7 20.5L12.2 23.7z" fill="#000"/>
<text x="5.3" y="51.0" font-size="6.6" text-anchor="middle" fill="#222" textLength="54" lengthAdjust="spacingAndGlyphs" transform="rotate(-90 5.3 51.0)">Isotype control PE</text>
<text x="82.5" y="95.7" font-size="6.6" text-anchor="middle" fill="#222" textLength="43" lengthAdjust="spacingAndGlyphs">Isotype control</text>
<path d="M19.0 176.4L173.0 176.4" stroke="#777" stroke-width="0.75" fill="none"/>
<path d="M172.1 174.8L175.5 176.4L172.1 178.0z" fill="#000"/>
<path d="M10.7 117.0L10.7 162.0" stroke="#bbb" stroke-width="0.6" fill="none"/>
<path d="M9.2 117.0L10.7 113.8L12.2 117.0z" fill="#000"/>
<text x="5.5" y="143.5" font-size="6.6" text-anchor="middle" fill="#222" transform="rotate(-90 5.5 143.5)">CD20 PE</text>
<text x="86.5" y="185.5" font-size="6.6" text-anchor="middle" fill="#222">GFP</text>
<text x="48.0" y="197.0" font-size="6.6" text-anchor="middle" fill="#222" textLength="52" lengthAdjust="spacingAndGlyphs">Autologous LCL 1</text>
<text x="141.0" y="197.0" font-size="6.6" text-anchor="middle" fill="#222" textLength="52" lengthAdjust="spacingAndGlyphs">Autologous LCL 2</text>
<text x="71.5" y="120.0" font-size="7.4" text-anchor="middle" font-family='"Liberation Serif", serif' fill="#222">93%</text>
<text x="160.8" y="120.0" font-size="7.4" text-anchor="middle" font-family='"Liberation Serif", serif' fill="#222">90%</text>
<text x="190.0" y="9.7" font-size="11.3" font-weight="bold">B</text>
<rect x="213" y="17" width="58.6" height="55.5" fill="none" stroke="#555" stroke-width="0.8"/>
<path d="M232.7 17.0L232.7 72.5" stroke="#555" stroke-width="0.8" fill="none"/>
<path d="M213.0 53.5L271.6 53.5" stroke="#555" stroke-width="0.8" fill="none"/>
<path d="M213.0 72.5V17.0M213.0 72.5H271.6" stroke="#222" stroke-width="0.9" stroke-dasharray="0.7 2.3" fill="none"/>
<ellipse cx="225.8" cy="60.0" rx="12.6" ry="3.4" transform="rotate(-42.6 225.8 60.0)" fill="#5a5a5a" fill-opacity="1"/>
<path transform="scale(0.2)" d="M1070 332h3m-1 5h3m2 0h3m-2 4h3m-1 2h3m-3 1h3m-2-23h3m-3 27h3m-2-21h3m-3 17h3m-3 3h3m-2-9h3m-3 2h3m-1-10h3m-2-5h3m-1-36h3m-3 40h3m-3 1h3m-3 1h3m-3 4h3m-3 7h3m-3 7h3m-1-19h3m-3 20h3m-2-14h3m-3 7h3m-2-20h3m-3 9h3m-2-15h3m-3 38h3m-2-29h3m-3 4h3m-3 3h3m-3 8h3m-3 8h3m-2-14h3m-1-19h3m-3 2h3m-2-20h3m-3 28h3m-3 10h3m-2-30h3m-3 24h3m-3 0h3m-2-8h3m-2-10h3m-3 6h3m-3 17h3m-2-25h3m-3 14h3m-2-23h3m-3 21h3m-3 21h3m-3 1h3m-3 5h3m-2-45h3m-3 21h3m-3 6h3m-2-2h3m-3 22h3m-2-4h3m-2-55h3m-3 13h3m-3 16h3m-2-14h3m-3 3h3m-3 14h3m-3 7h3m-3 15h3m-3 2h3m-2-43h3m-3 15h3m-2-26h3m-2 4h3m-3 20h3m-2-24h3m-3 18h3m-2 9h3m-3 12h3m-1-51h3m-3 21h3m-3 28h3m-2-19h3m-3 2h3m-3 12h3m-3 17h3m-2-50h3m-2 21h3m-3 8h3m-3 15h3m-2-46h3m-3 1h3m-3 12h3m-3 3h3m-3 3h3m-1-10h3m-3 3h3m-3 1h3m-3 5h3m-2-13h3m-3 21h3m-2-41h3m-3 39h3m-1-16h3m-3 8h3m-3 1h3m-3 4h3m-1-34h3m-3 17h3m-3 8h3m-3 7h3m-3 4h3m-2-37h3m-3 15h3m-3 7h3m-3 5h3m-3 5h3m-3 15h3m-2-19h3m-3 5h3m-3 13h3m-2-36h3m-2 6h3m-3 9h3m-3 18h3m-2-36h3m-3 31h3m-3 3h3m-2-42h3m-3 4h3m-2 10h3m-3 3h3m-3 34h3m-2-65h3m-3 26h3m-3 4h3m-3 6h3m-3 24h3m-2-64h3m-3 22h3m-3 17h3m-2-29h3m-3 2h3m-2 18h3m-2 7h3m-3 10h3m-2-34h3m-3 17h3m-3 15h3m-2 4h3m-2-31h3m-3 29h3m-2-42h3m-3 16h3m-3 21h3m-2-24h3m-3 17h3m-3 35h3m-2-66h3m-3 12h3m-2-17h3m-2 33h3m-3 9h3m-2-21h3m-3 4h3m-2-15h3m-3 6h3m-3 5h3m-3 15h3m-2-26h3m-3 1h3m-3 22h3m-3 6h3m-3 12h3m-3 3h3m-2-43h3m-2 19h3m-3 0h3m-2-28h3m-3 22h3m-3 1h3m-3 7h3m-2-5h3m-3 11h3m-3 3h3m-2-37h3m-3 2h3m-3 3h3m-3 5h3m-3 3h3m-3 12h3m-2-37h3m-3 12h3m-3 0h3m-3 5h3m-2-3h3m-3 1h3m-2-1h3m-3 22h3m-2-37h3m-3 50h3m-2-38h3m-3 1h3m-2 19h3m-2-26h3m-2-5h3m-3 24h3m-2-12h3m-3 20h3m-3 3h3m-1-26h3m-3 17h3m-3 7h3m-2-32h3m-3 34h3m-2 6h3m-3 5h3m-2-32h3m-3 12h3m-3 0h3m-2-26h3m-3 8h3m-2 21h3m-2-8h3m-2-22h3m-3 13h3m-2-11h3m-3 10h3m-2-9h3m-3 19h3m-2-1h3m-2-4h3m-2-13h3m-3 5h3m-2 28h3m0-29h3m-1 4h3m0 3h3m-2 10h3m-1 8h3" stroke="#555" stroke-width="4.0" stroke-opacity="0.8"/>
<text x="213.7" y="80.7" font-size="6.2" text-anchor="middle" fill="#222">10<tspan font-size="3.8" dy="-2.4">0</tspan></text>
<text x="208.5" y="72.5" font-size="6.2" text-anchor="middle" fill="#222" transform="rotate(-90 208.5 72.5)">10<tspan font-size="3.8" dy="-2.4">0</tspan></text>
<text x="228.3" y="80.7" font-size="6.2" text-anchor="middle" fill="#222">10<tspan font-size="3.8" dy="-2.4">1</tspan></text>
<text x="208.5" y="58.6" font-size="6.2" text-anchor="middle" fill="#222" transform="rotate(-90 208.5 58.6)">10<tspan font-size="3.8" dy="-2.4">1</tspan></text>
<text x="243.0" y="80.7" font-size="6.2" text-anchor="middle" fill="#222">10<tspan font-size="3.8" dy="-2.4">2</tspan></text>
<text x="208.5" y="44.8" font-size="6.2" text-anchor="middle" fill="#222" transform="rotate(-90 208.5 44.8)">10<tspan font-size="3.8" dy="-2.4">2</tspan></text>
<text x="257.7" y="80.7" font-size="6.2" text-anchor="middle" fill="#222">10<tspan font-size="3.8" dy="-2.4">3</tspan></text>
<text x="208.5" y="30.9" font-size="6.2" text-anchor="middle" fill="#222" transform="rotate(-90 208.5 30.9)">10<tspan font-size="3.8" dy="-2.4">3</tspan></text>
<text x="272.3" y="80.7" font-size="6.2" text-anchor="middle" fill="#222">10<tspan font-size="3.8" dy="-2.4">4</tspan></text>
<text x="208.5" y="17.0" font-size="6.2" text-anchor="middle" fill="#222" transform="rotate(-90 208.5 17.0)">10<tspan font-size="3.8" dy="-2.4">4</tspan></text>
<path d="M207.0 82.9L281.0 82.9" stroke="#777" stroke-width="0.75" fill="none"/>
<path d="M280.1 81.3L283.5 82.9L280.1 84.5z" fill="#000"/>
<path d="M199.0 21.0L199.0 77.0" stroke="#999" stroke-width="0.6" fill="none"/>
<path d="M197.5 21.7L199.0 18.5L200.5 21.7z" fill="#000"/>
<text x="194.2" y="51.5" font-size="6.6" text-anchor="middle" fill="#222" textLength="53" lengthAdjust="spacingAndGlyphs" transform="rotate(-90 194.2 51.5)">Isotype control PE</text>
<text x="239.5" y="89.0" font-size="6.6" text-anchor="middle" fill="#222" textLength="43" lengthAdjust="spacingAndGlyphs">Isotype control</text>
<rect x="213.4" y="103.8" width="62.2" height="58.0" fill="none" stroke="#555" stroke-width="0.8"/>
<path d="M234.5 103.8L234.5 161.8" stroke="#555" stroke-width="0.8" fill="none"/>
<path d="M213.4 142.4L275.6 142.4" stroke="#555" stroke-width="0.8" fill="none"/>
<path d="M213.4 161.8V103.8M213.4 161.8H275.6" stroke="#222" stroke-width="0.9" stroke-dasharray="0.7 2.3" fill="none"/>
<radialGradient id="g112"><stop offset="0" stop-color="#222" stop-opacity="0.6"/><stop offset="0.6" stop-color="#222" stop-opacity="0.36"/><stop offset="1" stop-color="#222" stop-opacity="0"/></radialGradient>
<ellipse cx="230" cy="138.5" rx="13.0" ry="14.0" transform="rotate(0 230 138.5)" fill="url(#g112)"/>
<path transform="scale(0.2)" d="M1070 738h3m-1-103h3m-3 47h3m-1 35h3m-2-62h3m-3 34h3m-3 30h3m-2-6h3m-3 11h3m-2-72h3m-3 40h3m-2 1h3m-3 21h3m-3 18h3m-1-100h3m-3 59h3m-3 12h3m-2-60h3m-3 21h3m-2 41h3m-2-52h3m-2 23h3m-2 31h3m-3 52h3m-1-114h3m-3 79h3m-3 25h3m-2-55h3m-3 0h3m-3 12h3m-3 6h3m-2-43h3m-3 6h3m-3 27h3m-2 14h3m-3 21h3m-2-86h3m-3 37h3m-3 29h3m-3 0h3m-2-74h3m-3 10h3m-3 10h3m-3 14h3m-3 3h3m-3 1h3m-3 28h3m-3 31h3m-3 66h3m-2-142h3m-3 16h3m-3 35h3m-2-49h3m-3 7h3m-3 72h3m-2-63h3m-3 6h3m-3 3h3m-3 2h3m-3 1h3m-3 18h3m-3 18h3m-3 30h3m-2-129h3m-3 23h3m-3 28h3m-3 14h3m-3 20h3m-3 55h3m-2-51h3m-3 14h3m-2-99h3m-3 39h3m-3 12h3m-3 2h3m-3 28h3m-3 1h3m-2-67h3m-3 2h3m-3 8h3m-3 32h3m-3 2h3m-3 38h3m-2-74h3m-3 30h3m-3 7h3m-3 15h3m-3 14h3m-3 4h3m-2-174h3m-3 111h3m-3 32h3m-3 1h3m-3 2h3m-3 9h3m-3 51h3m-2-156h3m-3 24h3m-3 20h3m-3 25h3m-3 10h3m-3 13h3m-3 17h3m-2-44h3m-3 5h3m-3 12h3m-3 3h3m-3 14h3m-3 21h3m-3 64h3m-2-166h3m-3 9h3m-3 30h3m-3 54h3m-3 2h3m-3 8h3m-2-106h3m-3 9h3m-3 40h3m-3 10h3m-3 8h3m-3 2h3m-3 2h3m-3 19h3m-3 12h3m-3 12h3m-2-61h3m-3 3h3m-3 0h3m-3 12h3m-3 43h3m-3 5h3m-3 35h3m-3 6h3m-2-135h3m-3 8h3m-3 12h3m-3 2h3m-3 30h3m-3 10h3m-3 5h3m-3 11h3m-3 6h3m-3 37h3m-3 35h3m-2-163h3m-3 23h3m-3 8h3m-3 3h3m-3 7h3m-3 6h3m-3 16h3m-3 2h3m-3 4h3m-3 27h3m-2-168h3m-3 110h3m-3 4h3m-3 13h3m-3 3h3m-3 10h3m-3 5h3m-3 5h3m-3 9h3m-3 3h3m-3 1h3m-3 29h3m-2-123h3m-3 21h3m-3 16h3m-3 4h3m-3 13h3m-3 10h3m-3 7h3m-3 12h3m-3 24h3m-3 24h3m-2-89h3m-3 10h3m-3 4h3m-3 8h3m-3 21h3m-3 27h3m-2-100h3m-3 3h3m-3 3h3m-3 15h3m-3 8h3m-3 6h3m-3 1h3m-3 4h3m-3 16h3m-3 2h3m-3 7h3m-3 19h3m-2-111h3m-3 30h3m-3 47h3m-3 5h3m-3 6h3m-3 30h3m-2-83h3m-3 5h3m-3 13h3m-3 16h3m-3 12h3m-3 2h3m-3 4h3m-3 4h3m-3 67h3m-2-82h3m-3 1h3m-3 1h3m-3 14h3m-3 8h3m-3 0h3m-3 15h3m-3 8h3m-3 5h3m-3 48h3m-3 7h3m-2-161h3m-3 47h3m-3 9h3m-3 3h3m-3 6h3m-3 7h3m-3 2h3m-3 6h3m-3 1h3m-3 9h3m-3 6h3m-3 51h3m-2-122h3m-3 29h3m-3 13h3m-3 3h3m-3 39h3m-2-105h3m-3 25h3m-3 12h3m-3 7h3m-3 1h3m-3 1h3m-3 4h3m-3 6h3m-3 5h3m-3 2h3m-3 1h3m-3 3h3m-3 9h3m-3 7h3m-3 7h3m-3 6h3m-3 8h3m-3 20h3m-3 4h3m-3 4h3m-2-148h3m-3 10h3m-3 10h3m-3 6h3m-3 3h3m-3 1h3m-3 22h3m-3 0h3m-3 29h3m-3 2h3m-3 12h3m-3 12h3m-3 49h3m-2-139h3m-3 21h3m-3 0h3m-3 0h3m-3 17h3m-3 1h3m-3 7h3m-3 1h3m-3 10h3m-3 1h3m-3 6h3m-3 12h3m-3 6h3m-3 0h3m-3 10h3m-3 13h3m-3 0h3m-3 16h3m-3 0h3m-2-107h3m-3 19h3m-3 7h3m-3 3h3m-3 3h3m-3 1h3m-3 5h3m-3 13h3m-3 7h3m-3 4h3m-3 11h3m-3 4h3m-3 1h3m-2-83h3m-3 7h3m-3 31h3m-3 5h3m-3 6h3m-3 1h3m-3 7h3m-3 4h3m-3 2h3m-3 2h3m-3 18h3m-3 1h3m-3 14h3m-2-185h3m-3 66h3m-3 18h3m-3 9h3m-3 29h3m-3 12h3m-3 2h3m-3 5h3m-3 11h3m-3 0h3m-3 2h3m-3 15h3m-3 0h3m-3 23h3m-2-156h3m-3 74h3m-3 0h3m-3 7h3m-3 1h3m-3 9h3m-3 26h3m-3 8h3m-3 28h3m-2-121h3m-3 27h3m-3 3h3m-3 2h3m-3 8h3m-3 10h3m-3 4h3m-3 0h3m-3 6h3m-3 2h3m-3 6h3m-3 4h3m-3 11h3m-3 9h3m-3 4h3m-3 1h3m-3 2h3m-3 0h3m-3 49h3m-2-147h3m-3 35h3m-3 11h3m-3 9h3m-3 2h3m-3 6h3m-3 3h3m-3 16h3m-2-80h3m-3 26h3m-3 9h3m-3 4h3m-3 7h3m-3 9h3m-3 0h3m-3 3h3m-3 1h3m-3 11h3m-3 7h3m-3 1h3m-3 25h3m-3 20h3m-2-96h3m-3 3h3m-3 22h3m-3 1h3m-3 2h3m-3 0h3m-3 7h3m-3 3h3m-3 3h3m-3 8h3m-3 1h3m-2-92h3m-3 2h3m-3 4h3m-3 4h3m-3 21h3m-3 4h3m-3 8h3m-3 3h3m-3 0h3m-3 3h3m-3 2h3m-3 2h3m-3 2h3m-3 6h3m-3 10h3m-3 1h3m-3 10h3m-3 2h3m-3 1h3m-3 4h3m-3 3h3m-3 11h3m-3 7h3m-2-145h3m-3 63h3m-3 24h3m-3 8h3m-3 0h3m-3 17h3m-3 1h3m-3 0h3m-3 8h3m-3 3h3m-3 18h3m-3 7h3m-3 11h3m-3 18h3m-3 2h3m-3 7h3m-2-142h3m-3 25h3m-3 8h3m-3 1h3m-3 14h3m-3 3h3m-3 2h3m-3 1h3m-3 1h3m-3 3h3m-3 10h3m-3 3h3m-3 10h3m-3 0h3m-3 1h3m-3 6h3m-3 8h3m-3 14h3m-3 10h3m-3 14h3m-3 34h3m-3 2h3m-2-177h3m-3 17h3m-3 22h3m-3 3h3m-3 3h3m-3 2h3m-3 1h3m-3 2h3m-3 10h3m-3 2h3m-3 9h3m-3 5h3m-3 5h3m-3 4h3m-3 13h3m-3 3h3m-3 45h3m-3 25h3m-2-171h3m-3 9h3m-3 3h3m-3 14h3m-3 6h3m-3 6h3m-3 1h3m-3 1h3m-3 11h3m-3 5h3m-3 8h3m-3 6h3m-3 14h3m-3 6h3m-3 1h3m-3 1h3m-3 6h3m-3 0h3m-3 6h3m-3 3h3m-3 2h3m-3 51h3m-3 4h3m-2-132h3m-3 1h3m-3 0h3m-3 4h3m-3 9h3m-3 1h3m-3 10h3m-3 2h3m-3 4h3m-3 1h3m-3 12h3m-3 0h3m-3 7h3m-3 0h3m-3 5h3m-3 1h3m-3 7h3m-3 6h3m-3 7h3m-3 0h3m-3 3h3m-3 3h3m-3 4h3m-2-134h3m-3 51h3m-3 6h3m-3 0h3m-3 6h3m-3 1h3m-3 2h3m-3 6h3m-3 1h3m-3 3h3m-3 1h3m-3 3h3m-3 5h3m-3 2h3m-3 0h3m-3 8h3m-3 2h3m-3 11h3m-3 0h3m-3 3h3m-3 6h3m-3 1h3m-3 4h3m-3 4h3m-3 17h3m-3 11h3m-3 3h3m-3 24h3m-2-167h3m-3 12h3m-3 3h3m-3 5h3m-3 9h3m-3 3h3m-3 6h3m-3 8h3m-3 5h3m-3 1h3m-3 3h3m-3 17h3m-3 8h3m-3 1h3m-3 3h3m-3 6h3m-3 7h3m-3 8h3m-3 32h3m-3 14h3m-3 17h3m-2-153h3m-3 6h3m-3 16h3m-3 4h3m-3 2h3m-3 12h3m-3 0h3m-3 1h3m-3 6h3m-3 2h3m-3 2h3m-3 16h3m-3 4h3m-3 1h3m-3 1h3m-3 4h3m-3 4h3m-3 8h3m-3 3h3m-3 3h3m-3 0h3m-3 12h3m-3 13h3m-3 14h3m-2-189h3m-3 42h3m-3 33h3m-3 16h3m-3 3h3m-3 1h3m-3 2h3m-3 0h3m-3 9h3m-3 9h3m-3 4h3m-3 3h3m-3 0h3m-3 1h3m-3 0h3m-3 2h3m-3 0h3m-3 2h3m-3 13h3m-3 4h3m-3 1h3m-3 0h3m-3 2h3m-3 4h3m-3 2h3m-3 1h3m-3 3h3m-3 3h3m-3 20h3m-3 10h3m-3 17h3m-2-144h3m-3 3h3m-3 10h3m-3 6h3m-3 8h3m-3 1h3m-3 12h3m-3 1h3m-3 14h3m-3 0h3m-3 21h3m-3 3h3m-3 55h3m-3 0h3m-2-184h3m-3 35h3m-3 4h3m-3 8h3m-3 13h3m-3 1h3m-3 3h3m-3 11h3m-3 7h3m-3 3h3m-3 2h3m-3 1h3m-3 1h3m-3 4h3m-3 6h3m-3 1h3m-3 6h3m-3 2h3m-3 3h3m-3 2h3m-3 1h3m-3 12h3m-3 5h3m-3 13h3m-3 4h3m-3 1h3m-3 19h3m-3 23h3m-2-151h3m-3 12h3m-3 1h3m-3 2h3m-3 1h3m-3 3h3m-3 17h3m-3 16h3m-3 4h3m-3 11h3m-3 0h3m-3 4h3m-3 6h3m-3 19h3m-3 9h3m-3 5h3m-3 30h3m-2-137h3m-3 12h3m-3 7h3m-3 5h3m-3 3h3m-3 0h3m-3 7h3m-3 17h3m-3 5h3m-3 1h3m-3 9h3m-3 0h3m-3 1h3m-3 2h3m-3 3h3m-3 4h3m-3 1h3m-3 3h3m-3 34h3m-3 8h3m-3 3h3m-2-186h3m-3 46h3m-3 16h3m-3 31h3m-3 1h3m-3 3h3m-3 2h3m-3 13h3m-3 5h3m-3 2h3m-3 7h3m-3 9h3m-3 1h3m-3 2h3m-3 3h3m-3 28h3m-3 7h3m-2-127h3m-3 3h3m-3 19h3m-3 15h3m-3 0h3m-3 6h3m-3 3h3m-3 2h3m-3 5h3m-3 5h3m-3 5h3m-3 1h3m-3 3h3m-3 3h3m-3 13h3m-3 2h3m-3 2h3m-3 2h3m-3 6h3m-3 4h3m-3 4h3m-3 2h3m-3 38h3m-3 35h3m-2-158h3m-3 4h3m-3 15h3m-3 16h3m-3 1h3m-3 6h3m-3 23h3m-3 0h3m-3 6h3m-3 26h3m-3 11h3m-3 5h3m-3 4h3m-3 28h3m-2-153h3m-3 7h3m-3 11h3m-3 11h3m-3 10h3m-3 12h3m-3 3h3m-3 5h3m-3 1h3m-3 4h3m-3 0h3m-3 2h3m-3 4h3m-3 1h3m-3 0h3m-3 9h3m-3 6h3m-3 37h3m-3 28h3m-2-195h3m-3 41h3m-3 2h3m-3 9h3m-3 7h3m-3 1h3m-3 3h3m-3 4h3m-3 1h3m-3 2h3m-3 15h3m-3 13h3m-3 5h3m-3 2h3m-3 4h3m-3 6h3m-3 2h3m-3 9h3m-3 4h3m-3 2h3m-3 4h3m-3 10h3m-3 7h3m-3 5h3m-3 0h3m-3 16h3m-3 34h3m-2-142h3m-3 3h3m-3 9h3m-3 3h3m-3 6h3m-3 1h3m-3 5h3m-3 3h3m-3 8h3m-3 6h3m-3 4h3m-3 4h3m-3 8h3m-3 0h3m-3 18h3m-3 4h3m-3 15h3m-3 1h3m-3 23h3m-3 1h3m-3 9h3m-3 11h3m-2-177h3m-3 1h3m-3 15h3m-3 4h3m-3 16h3m-3 2h3m-3 1h3m-3 1h3m-3 13h3m-3 2h3m-3 2h3m-3 5h3m-3 4h3m-3 3h3m-3 2h3m-3 6h3m-3 3h3m-3 1h3m-3 0h3m-3 5h3m-3 5h3m-3 2h3m-3 1h3m-3 2h3m-3 5h3m-3 6h3m-3 14h3m-3 10h3m-3 5h3m-3 16h3m-2-161h3m-3 34h3m-3 2h3m-3 1h3m-3 1h3m-3 2h3m-3 4h3m-3 3h3m-3 3h3m-3 1h3m-3 4h3m-3 1h3m-3 2h3m-3 1h3m-3 26h3m-3 6h3m-3 4h3m-3 2h3m-3 1h3m-3 2h3m-3 11h3m-3 1h3m-3 3h3m-3 6h3m-3 15h3m-3 3h3m-3 12h3m-3 4h3m-3 11h3m-2-123h3m-3 3h3m-3 1h3m-3 14h3m-3 0h3m-3 1h3m-3 5h3m-3 8h3m-3 5h3m-3 0h3m-3 3h3m-3 2h3m-3 4h3m-3 0h3m-3 10h3m-3 2h3m-3 15h3m-3 1h3m-3 6h3m-3 3h3m-3 13h3m-3 21h3m-3 1h3m-3 3h3m-2-160h3m-3 19h3m-3 3h3m-3 2h3m-3 2h3m-3 9h3m-3 4h3m-3 14h3m-3 2h3m-3 10h3m-3 1h3m-3 3h3m-3 5h3m-3 13h3m-3 7h3m-3 7h3m-3 4h3m-3 0h3m-3 1h3m-3 7h3m-3 30h3m-3 1h3m-2-195h3m-3 15h3m-3 40h3m-3 21h3m-3 18h3m-3 0h3m-3 0h3m-3 9h3m-3 1h3m-3 4h3m-3 7h3m-3 1h3m-3 4h3m-3 6h3m-3 7h3m-3 4h3m-3 2h3m-3 9h3m-3 11h3m-3 9h3m-3 1h3m-3 21h3m-3 3h3m-3 6h3m-3 34h3m-2-182h3m-3 2h3m-3 16h3m-3 5h3m-3 9h3m-3 6h3m-3 2h3m-3 16h3m-3 2h3m-3 6h3m-3 4h3m-3 10h3m-3 1h3m-3 7h3m-3 3h3m-3 2h3m-3 11h3m-3 12h3m-3 19h3m-3 8h3m-2-166h3m-3 64h3m-3 1h3m-3 15h3m-3 1h3m-3 2h3m-3 4h3m-3 2h3m-3 3h3m-3 5h3m-3 3h3m-3 1h3m-3 1h3m-3 2h3m-3 10h3m-3 4h3m-3 11h3m-3 5h3m-3 5h3m-3 4h3m-3 4h3m-3 15h3m-3 3h3m-3 12h3m-2-140h3m-3 17h3m-3 5h3m-3 11h3m-3 6h3m-3 9h3m-3 5h3m-3 11h3m-3 14h3m-3 1h3m-3 3h3m-3 10h3m-3 2h3m-3 4h3m-3 38h3m-3 12h3m-3 23h3m-2-198h3m-3 38h3m-3 4h3m-3 5h3m-3 10h3m-3 1h3m-3 14h3m-3 21h3m-3 1h3m-3 0h3m-3 7h3m-3 0h3m-3 3h3m-3 3h3m-3 11h3m-3 2h3m-3 2h3m-3 2h3m-3 1h3m-3 18h3m-3 7h3m-3 12h3m-3 24h3m-2-180h3m-3 13h3m-3 4h3m-3 2h3m-3 9h3m-3 3h3m-3 1h3m-3 10h3m-3 0h3m-3 1h3m-3 16h3m-3 4h3m-3 0h3m-3 7h3m-3 2h3m-3 1h3m-3 4h3m-3 2h3m-3 15h3m-3 0h3m-3 4h3m-3 2h3m-3 0h3m-3 0h3m-3 0h3m-3 2h3m-3 10h3m-3 1h3m-3 7h3m-3 18h3m-3 10h3m-2-132h3m-3 16h3m-3 2h3m-3 3h3m-3 6h3m-3 9h3m-3 5h3m-3 1h3m-3 0h3m-3 6h3m-3 5h3m-3 5h3m-3 9h3m-3 0h3m-3 5h3m-3 5h3m-3 9h3m-3 3h3m-3 4h3m-3 7h3m-3 1h3m-3 3h3m-3 3h3m-3 1h3m-3 2h3m-3 5h3m-3 32h3m-3 10h3m-3 19h3m-2-172h3m-3 6h3m-3 13h3m-3 1h3m-3 11h3m-3 2h3m-3 6h3m-3 4h3m-3 0h3m-3 5h3m-3 0h3m-3 6h3m-3 6h3m-3 2h3m-3 9h3m-3 5h3m-3 8h3m-3 10h3m-3 4h3m-3 9h3m-3 60h3m-2-206h3m-3 7h3m-3 9h3m-3 27h3m-3 16h3m-3 11h3m-3 23h3m-3 4h3m-3 5h3m-3 4h3m-3 13h3m-3 0h3m-3 15h3m-3 15h3m-3 17h3m-3 21h3m-3 11h3m-3 11h3m-2-173h3m-3 9h3m-3 17h3m-3 14h3m-3 5h3m-3 5h3m-3 2h3m-3 5h3m-3 7h3m-3 4h3m-3 1h3m-3 3h3m-3 1h3m-3 5h3m-3 4h3m-3 17h3m-3 2h3m-3 9h3m-3 19h3m-3 3h3m-2-163h3m-3 38h3m-3 24h3m-3 9h3m-3 6h3m-3 2h3m-3 8h3m-3 2h3m-3 10h3m-3 3h3m-3 12h3m-3 4h3m-3 3h3m-3 10h3m-3 18h3m-3 21h3m-3 5h3m-3 24h3m-3 3h3m-2-170h3m-3 14h3m-3 14h3m-3 18h3m-3 2h3m-3 0h3m-3 1h3m-3 2h3m-3 1h3m-3 0h3m-3 6h3m-3 3h3m-3 1h3m-3 12h3m-3 4h3m-3 1h3m-3 17h3m-3 8h3m-3 16h3m-3 14h3m-3 13h3m-3 18h3m-2-140h3m-3 5h3m-3 5h3m-3 3h3m-3 1h3m-3 6h3m-3 2h3m-3 3h3m-3 9h3m-3 3h3m-3 1h3m-3 5h3m-3 1h3m-3 9h3m-3 4h3m-3 3h3m-3 2h3m-3 27h3m-3 17h3m-3 1h3m-2-194h3m-3 62h3m-3 4h3m-3 7h3m-3 13h3m-3 2h3m-3 2h3m-3 14h3m-3 5h3m-3 1h3m-3 7h3m-3 0h3m-3 6h3m-3 1h3m-3 5h3m-3 9h3m-3 3h3m-3 7h3m-3 1h3m-3 2h3m-3 5h3m-3 13h3m-3 3h3m-3 5h3m-3 0h3m-3 4h3m-3 0h3m-3 26h3m-2-147h3m-3 15h3m-3 8h3m-3 6h3m-3 0h3m-3 6h3m-3 3h3m-3 10h3m-3 1h3m-3 4h3m-3 1h3m-3 2h3m-3 4h3m-3 2h3m-3 2h3m-3 1h3m-3 4h3m-3 11h3m-3 0h3m-3 5h3m-3 1h3m-3 21h3m-2-121h3m-3 6h3m-3 31h3m-3 3h3m-3 15h3m-3 5h3m-3 12h3m-3 3h3m-3 7h3m-3 2h3m-3 17h3m-3 1h3m-3 2h3m-3 7h3m-3 8h3m-3 10h3m-3 36h3m-2-138h3m-3 16h3m-3 9h3m-3 7h3m-3 1h3m-3 4h3m-3 0h3m-3 8h3m-3 3h3m-3 38h3m-3 7h3m-3 32h3m-3 4h3m-2-155h3m-3 18h3m-3 23h3m-3 0h3m-3 15h3m-3 4h3m-3 9h3m-3 10h3m-3 8h3m-3 4h3m-3 3h3m-3 5h3m-3 6h3m-3 18h3m-3 10h3m-3 5h3m-3 5h3m-3 46h3m-2-166h3m-3 9h3m-3 23h3m-3 3h3m-3 11h3m-3 3h3m-3 2h3m-3 1h3m-3 8h3m-3 12h3m-3 5h3m-3 16h3m-3 44h3m-2-131h3m-3 32h3m-3 13h3m-3 4h3m-3 2h3m-3 2h3m-3 1h3m-3 4h3m-3 0h3m-3 1h3m-3 4h3m-3 11h3m-3 1h3m-3 0h3m-3 9h3m-3 9h3m-3 20h3m-3 14h3m-3 10h3m-2-233h3m-3 68h3m-3 2h3m-3 26h3m-3 6h3m-3 1h3m-3 7h3m-3 5h3m-3 15h3m-3 7h3m-3 3h3m-3 9h3m-3 68h3m-2-98h3m-3 7h3m-3 2h3m-3 1h3m-3 5h3m-3 1h3m-3 3h3m-3 15h3m-3 5h3m-3 2h3m-3 2h3m-3 9h3m-3 7h3m-3 31h3m-3 3h3m-3 11h3m-2-159h3m-3 15h3m-3 26h3m-3 1h3m-3 2h3m-3 6h3m-3 5h3m-3 23h3m-3 6h3m-3 9h3m-3 10h3m-3 6h3m-3 2h3m-3 0h3m-3 1h3m-3 1h3m-3 12h3m-2-95h3m-3 3h3m-3 26h3m-3 10h3m-3 1h3m-3 18h3m-3 1h3m-3 4h3m-3 2h3m-3 0h3m-3 8h3m-3 1h3m-3 2h3m-3 2h3m-3 5h3m-3 17h3m-3 4h3m-3 33h3m-3 15h3m-2-164h3m-3 6h3m-3 19h3m-3 3h3m-3 2h3m-3 3h3m-3 3h3m-3 1h3m-3 5h3m-3 2h3m-3 5h3m-3 2h3m-3 0h3m-3 17h3m-3 24h3m-3 1h3m-3 0h3m-3 1h3m-3 13h3m-3 4h3m-3 0h3m-3 6h3m-3 29h3m-2-152h3m-3 13h3m-3 17h3m-3 16h3m-3 4h3m-3 2h3m-3 1h3m-3 0h3m-3 9h3m-3 3h3m-3 2h3m-3 3h3m-3 7h3m-3 3h3m-3 2h3m-3 1h3m-3 2h3m-3 30h3m-3 22h3m-3 9h3m-3 3h3m-2-142h3m-3 8h3m-3 5h3m-3 21h3m-3 5h3m-3 4h3m-3 0h3m-3 5h3m-3 26h3m-3 2h3m-3 55h3m-3 18h3m-2-132h3m-3 17h3m-3 3h3m-3 2h3m-3 4h3m-3 6h3m-3 3h3m-3 14h3m-3 19h3m-3 2h3m-3 60h3m-3 24h3m-2-158h3m-3 17h3m-3 2h3m-3 1h3m-3 11h3m-3 11h3m-3 3h3m-3 0h3m-3 18h3m-3 10h3m-3 0h3m-3 6h3m-3 2h3m-3 1h3m-3 0h3m-3 3h3m-3 10h3m-3 10h3m-3 29h3m-2-172h3m-3 6h3m-3 43h3m-3 3h3m-3 3h3m-3 3h3m-3 0h3m-3 1h3m-3 23h3m-3 2h3m-3 0h3m-3 4h3m-3 4h3m-3 33h3m-3 10h3m-3 1h3m-3 2h3m-3 24h3m-2-140h3m-3 44h3m-3 13h3m-3 3h3m-3 1h3m-3 0h3m-3 8h3m-3 1h3m-3 5h3m-3 0h3m-3 10h3m-3 3h3m-3 15h3m-3 15h3m-3 7h3m-3 45h3m-2-232h3m-3 63h3m-3 15h3m-3 3h3m-3 13h3m-3 14h3m-3 1h3m-3 3h3m-3 16h3m-3 3h3m-3 5h3m-3 1h3m-3 0h3m-3 1h3m-3 28h3m-3 14h3m-3 2h3m-3 6h3m-3 49h3m-2-226h3m-3 51h3m-3 35h3m-3 8h3m-3 11h3m-3 12h3m-3 13h3m-3 7h3m-3 7h3m-3 39h3m-3 17h3m-3 10h3m-2-168h3m-3 26h3m-3 11h3m-3 5h3m-3 7h3m-3 34h3m-3 7h3m-3 3h3m-3 22h3m-3 24h3m-3 11h3m-3 36h3m-2-177h3m-3 25h3m-3 13h3m-3 1h3m-3 2h3m-3 0h3m-3 23h3m-3 6h3m-3 35h3m-3 1h3m-3 1h3m-3 1h3m-3 37h3m-3 18h3m-2-178h3m-3 4h3m-3 47h3m-3 9h3m-3 17h3m-3 2h3m-3 2h3m-3 2h3m-3 1h3m-3 6h3m-3 6h3m-3 6h3m-3 7h3m-3 24h3m-3 50h3m-2-163h3m-3 38h3m-3 3h3m-3 7h3m-3 5h3m-3 7h3m-3 18h3m-3 41h3m-3 16h3m-3 37h3m-2-184h3m-3 14h3m-3 4h3m-3 3h3m-3 1h3m-3 6h3m-3 4h3m-3 4h3m-3 9h3m-3 5h3m-3 3h3m-3 8h3m-3 2h3m-3 2h3m-3 2h3m-3 8h3m-3 1h3m-3 7h3m-3 12h3m-3 54h3m-3 20h3m-2-159h3m-3 13h3m-3 12h3m-3 21h3m-3 1h3m-3 9h3m-3 2h3m-3 5h3m-3 7h3m-3 1h3m-3 5h3m-3 8h3m-3 16h3m-3 11h3m-3 28h3m-3 6h3m-2-150h3m-3 36h3m-3 5h3m-3 3h3m-3 0h3m-3 2h3m-3 4h3m-3 4h3m-3 1h3m-3 2h3m-3 3h3m-3 3h3m-3 5h3m-3 19h3m-3 11h3m-3 4h3m-3 71h3m-2-185h3m-3 2h3m-3 28h3m-3 8h3m-3 7h3m-3 5h3m-3 3h3m-3 8h3m-3 8h3m-3 4h3m-3 21h3m-3 66h3m-2-189h3m-3 27h3m-3 58h3m-3 3h3m-3 0h3m-3 13h3m-3 1h3m-3 22h3m-3 19h3m-3 16h3m-3 5h3m-3 9h3m-3 6h3m-3 29h3m-2-146h3m-3 29h3m-3 1h3m-3 2h3m-3 1h3m-3 9h3m-3 1h3m-3 6h3m-3 15h3m-3 3h3m-3 9h3m-3 9h3m-3 51h3m-2-196h3m-3 25h3m-3 50h3m-3 10h3m-3 35h3m-3 32h3m-3 1h3m-3 30h3m-3 23h3m-3 4h3m-2-173h3m-3 5h3m-3 17h3m-3 22h3m-3 39h3m-3 4h3m-3 2h3m-3 16h3m-3 20h3m-3 12h3m-3 26h3m-3 7h3m-2-147h3m-3 0h3m-3 24h3m-3 8h3m-3 11h3m-3 10h3m-3 12h3m-3 81h3m-2-197h3m-3 21h3m-3 4h3m-3 2h3m-3 15h3m-3 31h3m-3 16h3m-3 1h3m-3 10h3m-3 28h3m-3 9h3m-3 5h3m-3 45h3m-2-173h3m-3 24h3m-3 9h3m-3 15h3m-3 13h3m-3 0h3m-3 10h3m-3 16h3m-3 4h3m-3 1h3m-3 14h3m-3 6h3m-3 0h3m-3 53h3m-2-168h3m-3 33h3m-3 2h3m-3 38h3m-3 14h3m-3 39h3m-3 28h3m-3 10h3m-3 4h3m-3 7h3m-2-121h3m-3 9h3m-3 48h3m-3 7h3m-3 24h3m-3 28h3m-2-108h3m-3 16h3m-3 41h3m-3 13h3m-3 14h3m-2-116h3m-3 1h3m-3 25h3m-3 0h3m-3 10h3m-3 8h3m-3 11h3m-3 3h3m-3 6h3m-3 3h3m-3 4h3m-3 7h3m-3 21h3m-3 13h3m-3 45h3m-2-142h3m-3 2h3m-3 2h3m-3 24h3m-3 34h3m-3 6h3m-3 19h3m-3 45h3m-2-169h3m-3 4h3m-3 21h3m-3 25h3m-3 41h3m-3 28h3m-3 55h3m-2-133h3m-3 11h3m-3 18h3m-3 9h3m-3 72h3m-3 0h3m-3 6h3m-3 1h3m-3 5h3m-3 4h3m-2-136h3m-3 21h3m-3 8h3m-3 10h3m-3 12h3m-3 11h3m-3 5h3m-3 3h3m-3 68h3m-3 14h3m-2-225h3m-3 94h3m-3 49h3m-3 3h3m-3 3h3m-3 22h3m-3 7h3m-2-134h3m-3 13h3m-3 2h3m-3 1h3m-3 45h3m-3 42h3m-3 2h3m-3 72h3m-2-110h3m-3 2h3m-3 5h3m-3 1h3m-3 83h3m-3 15h3m-2-127h3m-3 10h3m-3 11h3m-3 23h3m-3 23h3m-3 41h3m-2-135h3m-3 46h3m-3 13h3m-3 7h3m-3 10h3m-3 78h3m-2-147h3m-3 38h3m-3 33h3m-3 43h3m-3 1h3m-3 0h3m-3 22h3m-2-168h3m-3 14h3m-3 41h3m-3 24h3m-3 56h3m-2-132h3m-3 55h3m-3 19h3m-3 3h3m-3 14h3m-3 7h3m-3 46h3m-3 27h3m-2-102h3m-3 77h3m-3 13h3m-2-125h3m-3 10h3m-3 18h3m-3 9h3m-3 41h3m-3 7h3m-3 25h3m-3 7h3m-2-166h3m-3 74h3m-3 45h3m-3 19h3m-3 21h3m-3 31h3m-2-118h3m-3 20h3m-3 7h3m-3 10h3m-3 15h3m-3 47h3m-3 11h3m-3 22h3m-2-156h3m-3 22h3m-3 42h3m-3 15h3m-3 52h3m-2-79h3m-3 20h3m-3 2h3m-3 24h3m-3 4h3m-3 7h3m-3 13h3m-3 14h3m-2-138h3m-3 13h3m-3 49h3m-3 8h3m-3 47h3m-3 25h3m-2-178h3m-3 48h3m-3 27h3m-3 7h3m-3 6h3m-3 19h3m-3 21h3m-2-152h3m-3 59h3m-3 86h3m-3 44h3m-2-106h3m-3 47h3m-3 81h3m-2-134h3m-3 20h3m-3 15h3m-3 10h3m-3 3h3m-3 37h3m-2-75h3m-3 21h3m-3 3h3m-3 19h3m-2-39h3m-3 63h3m-3 12h3m-2-39h3m-3 15h3m-2-108h3m-3 4h3m-3 42h3m-2 20h3m-3 14h3m-3 37h3m-3 2h3m-3 8h3m-3 13h3m-2-49h3m-3 75h3m-3 5h3m-2-115h3m-3 111h3m-2-154h3m-3 136h3m-3 22h3m-2-139h3m-3 64h3m-3 0h3m-2 23h3m-3 13h3m-3 22h3m-2-12h3m-3 7h3m-3 29h3m-2-151h3m-3 36h3m-3 89h3m-2-121h3m-3 8h3m-3 106h3m-3 16h3m-2-130h3m-3 43h3m-3 94h3m-2-156h3m-3 64h3m-3 5h3m-3 68h3m-3 30h3m-2-149h3m-3 95h3m-3 29h3m-2 8h3m-3 0h3m-2-108h3m-3 40h3m-3 14h3m-3 45h3m-3 13h3m-3 14h3m-3 2h3m-2-16h3m-3 11h3m-2-105h3m-3 46h3m-3 36h3m-2 1h3m-3 17h3m-2-119h3m-3 92h3m-2-63h3m-3 36h3m-3 23h3m-2-106h3m-3 115h3m-3 7h3m-2-103h3m-3 73h3m-2-22h3m-2-104h3m-2 117h3m-3 6h3m-3 14h3m-3 28h3m-2-142h3m-3 82h3m-3 28h3m-3 3h3m-3 26h3m-3 3h3m-3 14h3m-2-161h3m-3 21h3m-3 91h3m-3 11h3m-3 10h3m-2-80h3m-3 54h3m-3 39h3m-2-5h3m-2-174h3m-3 74h3m-3 117h3m-2-44h3m-3 25h3m-3 1h3m-2-166h3m-3 99h3m-3 61h3m-2-24h3m-3 13h3m-3 33h3m-2-42h3m-3 12h3m-3 4h3m-3 29h3m-2-31h3m-3 35h3m-3 3h3m-2-42h3m-1-106h3m-3 139h3m-1-104h3m-3 69h3m-3 15h3m-2-48h3m-3 45h3m-3 15h3m-2 15h3m-2-71h3m-3 65h3m-2-21h3m-2-190h3m-3 182h3m-3 23h3m-1-153h3m-3 128h3m-2-171h3m0 88h3m-3 30h3m-3 45h3m0 11h3m-3 12h3m-1 20h3m-2-37h3m-2-29h3m-2 71h3m-2-57h3m-2 34h3m-3 9h3m-2 10h3m-3 3h3m-2-213h3m-3 133h3m-2 11h3m-2 27h3m-3 29h3m-2-137h3m0 93h3m-3 55h3m2-144h3m-3 133h3m-3 11h3m-2-33h3m-2-8h3m-1-181h3m-3 202h3m-2-73h3m-1-78h3m-2 141h3m-3 16h3m-2-47h3m-2-24h3m-3 59h3m-2-23h3m-2 28h3m-2 8h3m-3 12h3m-2-1h3m-2-163h3m-1 137h3m-3 22h3m0-28h3m-1 13h3m-3 9h3m-3 5h3m-1-226h3m-1 200h3m0 2h3m-1-209h3m1 211h3m1-12h3m-3 36h3m0-38h3m7 16h3m0-12h3m-2 8h3m-2-10h3m-3 21h3m-3 16h3m-2-22h3m-1 13h3m-3 7h3m0-10h3m-2 7h3m-1-19h3m-3 17h3m1-29h3m-3 32h3" stroke="#111" stroke-width="4.0" stroke-opacity="0.85"/>
<text x="214.1" y="170.3" font-size="6.2" text-anchor="middle" fill="#222">10<tspan font-size="3.8" dy="-2.4">0</tspan></text>
<text x="209.4" y="161.8" font-size="6.2" text-anchor="middle" fill="#222" transform="rotate(-90 209.4 161.8)">10<tspan font-size="3.8" dy="-2.4">0</tspan></text>
<text x="229.7" y="170.3" font-size="6.2" text-anchor="middle" fill="#222">10<tspan font-size="3.8" dy="-2.4">1</tspan></text>
<text x="209.4" y="147.3" font-size="6.2" text-anchor="middle" fill="#222" transform="rotate(-90 209.4 147.3)">10<tspan font-size="3.8" dy="-2.4">1</tspan></text>
<text x="245.2" y="170.3" font-size="6.2" text-anchor="middle" fill="#222">10<tspan font-size="3.8" dy="-2.4">2</tspan></text>
<text x="209.4" y="132.8" font-size="6.2" text-anchor="middle" fill="#222" transform="rotate(-90 209.4 132.8)">10<tspan font-size="3.8" dy="-2.4">2</tspan></text>
<text x="260.8" y="170.3" font-size="6.2" text-anchor="middle" fill="#222">10<tspan font-size="3.8" dy="-2.4">3</tspan></text>
<text x="209.4" y="118.3" font-size="6.2" text-anchor="middle" fill="#222" transform="rotate(-90 209.4 118.3)">10<tspan font-size="3.8" dy="-2.4">3</tspan></text>
<text x="276.3" y="170.3" font-size="6.2" text-anchor="middle" fill="#222">10<tspan font-size="3.8" dy="-2.4">4</tspan></text>
<text x="209.4" y="103.8" font-size="6.2" text-anchor="middle" fill="#222" transform="rotate(-90 209.4 103.8)">10<tspan font-size="3.8" dy="-2.4">4</tspan></text>
<rect x="294.5" y="103.8" width="62.2" height="58.0" fill="none" stroke="#555" stroke-width="0.8"/>
<path d="M315.7 103.8L315.7 161.8" stroke="#555" stroke-width="0.8" fill="none"/>
<path d="M294.5 142.4L356.7 142.4" stroke="#555" stroke-width="0.8" fill="none"/>
<path d="M294.5 161.8V103.8M294.5 161.8H356.7" stroke="#222" stroke-width="0.9" stroke-dasharray="0.7 2.3" fill="none"/>
<radialGradient id="g129"><stop offset="0" stop-color="#222" stop-opacity="0.6"/><stop offset="0.6" stop-color="#222" stop-opacity="0.36"/><stop offset="1" stop-color="#222" stop-opacity="0"/></radialGradient>
<ellipse cx="311" cy="138.5" rx="14.3" ry="15.400000000000002" transform="rotate(0 311 138.5)" fill="url(#g129)"/>
<path transform="scale(0.2)" d="M1477 731h3m-2-39h3m-2-6h3m-2-1h3m-3 43h3m-2-36h3m-3 106h3m-2-86h3m-2 25h3m-2-46h3m-3 1h3m-3 26h3m-3 29h3m-2-99h3m-2 17h3m-3 29h3m-2-34h3m-3 25h3m-3 16h3m-3 30h3m-3 5h3m-1-83h3m-3 101h3m-3 18h3m-3 15h3m-2-241h3m-3 179h3m-3 7h3m-2-52h3m-2-23h3m-3 34h3m-3 3h3m-3 5h3m-3 10h3m-3 8h3m-3 8h3m-2-36h3m-3 17h3m-3 5h3m-2-8h3m-3 8h3m-3 20h3m-3 70h3m-2-139h3m-3 89h3m-3 0h3m-2-74h3m-3 8h3m-3 35h3m-3 31h3m-2-81h3m-3 0h3m-3 98h3m-3 8h3m-2-141h3m-3 31h3m-3 30h3m-3 3h3m-3 19h3m-3 18h3m-3 26h3m-2-78h3m-3 18h3m-3 7h3m-3 77h3m-2-102h3m-3 14h3m-3 28h3m-3 2h3m-3 18h3m-3 27h3m-2-96h3m-3 25h3m-3 23h3m-3 6h3m-3 6h3m-2-153h3m-3 113h3m-3 1h3m-3 34h3m-3 10h3m-2-79h3m-3 2h3m-3 14h3m-3 0h3m-3 5h3m-3 3h3m-3 7h3m-3 11h3m-3 26h3m-3 26h3m-3 10h3m-2-111h3m-3 6h3m-3 4h3m-3 4h3m-3 10h3m-3 3h3m-3 11h3m-3 16h3m-3 39h3m-3 4h3m-2-121h3m-3 8h3m-3 58h3m-3 5h3m-3 18h3m-2-71h3m-3 14h3m-3 104h3m-3 28h3m-2-104h3m-3 1h3m-3 5h3m-3 8h3m-3 6h3m-3 6h3m-3 15h3m-3 7h3m-3 9h3m-2-106h3m-3 3h3m-3 29h3m-3 25h3m-3 8h3m-3 4h3m-3 10h3m-3 49h3m-2-167h3m-3 4h3m-3 69h3m-3 6h3m-3 27h3m-3 4h3m-3 10h3m-2-80h3m-3 5h3m-3 30h3m-3 7h3m-3 2h3m-3 12h3m-3 3h3m-3 1h3m-3 3h3m-3 1h3m-3 27h3m-3 2h3m-3 23h3m-2-166h3m-3 31h3m-3 15h3m-3 21h3m-2-67h3m-3 13h3m-3 12h3m-3 18h3m-3 42h3m-3 1h3m-3 3h3m-3 8h3m-3 7h3m-3 31h3m-3 2h3m-3 47h3m-3 24h3m-2-185h3m-3 40h3m-3 35h3m-3 5h3m-3 2h3m-3 3h3m-3 5h3m-3 11h3m-3 0h3m-3 4h3m-3 7h3m-3 10h3m-3 63h3m-2-152h3m-3 28h3m-3 1h3m-3 9h3m-3 5h3m-3 0h3m-3 27h3m-3 23h3m-3 10h3m-3 12h3m-2-147h3m-3 79h3m-3 10h3m-3 5h3m-3 18h3m-3 0h3m-3 25h3m-3 1h3m-3 2h3m-2-129h3m-3 9h3m-3 27h3m-3 20h3m-3 19h3m-3 2h3m-3 9h3m-3 21h3m-3 16h3m-3 23h3m-2-138h3m-3 2h3m-3 28h3m-3 14h3m-3 12h3m-3 9h3m-3 11h3m-3 4h3m-3 16h3m-3 10h3m-3 19h3m-3 2h3m-2-142h3m-3 4h3m-3 13h3m-3 15h3m-3 3h3m-3 12h3m-3 18h3m-3 2h3m-3 5h3m-3 4h3m-3 7h3m-3 5h3m-3 14h3m-3 43h3m-2-138h3m-3 10h3m-3 26h3m-3 0h3m-3 12h3m-3 6h3m-3 8h3m-3 6h3m-3 0h3m-3 19h3m-3 11h3m-3 30h3m-2-120h3m-3 25h3m-3 1h3m-3 3h3m-3 20h3m-3 5h3m-3 4h3m-3 4h3m-3 1h3m-3 8h3m-3 0h3m-3 14h3m-3 13h3m-3 9h3m-3 0h3m-3 9h3m-2-98h3m-3 7h3m-3 40h3m-3 3h3m-3 18h3m-3 28h3m-3 4h3m-2-109h3m-3 9h3m-3 3h3m-3 18h3m-3 33h3m-3 6h3m-3 12h3m-3 49h3m-3 4h3m-2-156h3m-3 27h3m-3 1h3m-3 8h3m-3 3h3m-3 5h3m-3 15h3m-3 4h3m-3 5h3m-3 11h3m-3 1h3m-3 0h3m-3 6h3m-3 11h3m-3 3h3m-3 4h3m-3 5h3m-3 0h3m-3 0h3m-3 1h3m-3 10h3m-3 59h3m-2-165h3m-3 4h3m-3 17h3m-3 4h3m-3 14h3m-3 14h3m-3 5h3m-3 2h3m-3 22h3m-3 1h3m-3 4h3m-3 22h3m-2-141h3m-3 54h3m-3 7h3m-3 6h3m-3 0h3m-3 12h3m-3 6h3m-3 5h3m-3 2h3m-3 2h3m-3 8h3m-3 22h3m-3 29h3m-2-119h3m-3 12h3m-3 9h3m-3 1h3m-3 0h3m-3 20h3m-3 4h3m-3 16h3m-3 4h3m-3 5h3m-3 53h3m-2-168h3m-3 41h3m-3 0h3m-3 2h3m-3 6h3m-3 29h3m-3 10h3m-3 1h3m-3 3h3m-3 11h3m-3 2h3m-3 1h3m-3 1h3m-3 15h3m-3 6h3m-3 16h3m-3 5h3m-3 8h3m-2-140h3m-3 40h3m-3 0h3m-3 11h3m-3 3h3m-3 12h3m-3 2h3m-3 2h3m-3 23h3m-3 4h3m-3 3h3m-3 1h3m-3 4h3m-3 4h3m-3 13h3m-3 8h3m-3 2h3m-3 1h3m-2-111h3m-3 15h3m-3 2h3m-3 4h3m-3 12h3m-3 9h3m-3 37h3m-3 0h3m-3 13h3m-3 5h3m-3 10h3m-3 19h3m-2-132h3m-3 11h3m-3 9h3m-3 2h3m-3 23h3m-3 5h3m-3 18h3m-3 1h3m-3 3h3m-3 4h3m-3 9h3m-3 4h3m-3 6h3m-3 7h3m-3 1h3m-3 13h3m-3 10h3m-3 11h3m-2-177h3m-3 28h3m-3 28h3m-3 16h3m-3 5h3m-3 3h3m-3 3h3m-3 8h3m-3 1h3m-3 4h3m-3 13h3m-3 23h3m-3 3h3m-3 13h3m-3 43h3m-3 3h3m-2-152h3m-3 4h3m-3 14h3m-3 0h3m-3 1h3m-3 11h3m-3 3h3m-3 6h3m-3 8h3m-3 15h3m-3 2h3m-3 14h3m-3 1h3m-3 31h3m-2-111h3m-3 26h3m-3 4h3m-3 8h3m-3 5h3m-3 4h3m-3 1h3m-3 7h3m-3 8h3m-3 1h3m-3 0h3m-3 6h3m-3 12h3m-3 10h3m-3 5h3m-3 0h3m-3 12h3m-3 33h3m-2-111h3m-3 1h3m-3 8h3m-3 1h3m-3 11h3m-3 13h3m-3 10h3m-3 4h3m-3 1h3m-3 4h3m-3 6h3m-3 3h3m-3 7h3m-3 2h3m-3 2h3m-3 15h3m-2-58h3m-3 1h3m-3 1h3m-3 2h3m-3 0h3m-3 9h3m-3 11h3m-3 4h3m-3 3h3m-3 1h3m-3 4h3m-3 23h3m-3 21h3m-3 8h3m-2-121h3m-3 19h3m-3 0h3m-3 15h3m-3 3h3m-3 7h3m-3 0h3m-3 14h3m-3 3h3m-3 0h3m-3 1h3m-3 10h3m-3 4h3m-3 10h3m-3 1h3m-3 35h3m-3 1h3m-3 0h3m-3 3h3m-2-115h3m-3 3h3m-3 8h3m-3 6h3m-3 4h3m-3 10h3m-3 2h3m-3 5h3m-3 4h3m-3 1h3m-3 17h3m-3 12h3m-3 7h3m-3 21h3m-3 31h3m-2-203h3m-3 58h3m-3 10h3m-3 7h3m-3 20h3m-3 3h3m-3 7h3m-3 5h3m-3 0h3m-3 15h3m-3 8h3m-3 4h3m-3 1h3m-3 6h3m-3 7h3m-3 3h3m-3 48h3m-2-215h3m-3 35h3m-3 7h3m-3 20h3m-3 18h3m-3 3h3m-3 5h3m-3 9h3m-3 12h3m-3 0h3m-3 11h3m-3 5h3m-3 1h3m-3 10h3m-3 5h3m-3 0h3m-3 3h3m-3 7h3m-3 15h3m-3 14h3m-3 22h3m-2-174h3m-3 2h3m-3 23h3m-3 10h3m-3 10h3m-3 2h3m-3 12h3m-3 1h3m-3 10h3m-3 1h3m-3 7h3m-3 0h3m-3 9h3m-3 4h3m-3 4h3m-3 5h3m-3 8h3m-3 18h3m-3 17h3m-3 6h3m-2-137h3m-3 14h3m-3 3h3m-3 32h3m-3 7h3m-3 12h3m-3 3h3m-3 5h3m-3 9h3m-3 1h3m-3 4h3m-3 1h3m-3 2h3m-3 1h3m-3 0h3m-3 12h3m-3 9h3m-3 8h3m-3 29h3m-3 4h3m-3 10h3m-3 4h3m-3 2h3m-2-164h3m-3 25h3m-3 4h3m-3 3h3m-3 0h3m-3 12h3m-3 11h3m-3 1h3m-3 3h3m-3 15h3m-3 8h3m-3 2h3m-3 3h3m-3 12h3m-3 6h3m-3 40h3m-3 1h3m-3 25h3m-2-184h3m-3 18h3m-3 3h3m-3 25h3m-3 2h3m-3 3h3m-3 5h3m-3 17h3m-3 1h3m-3 2h3m-3 8h3m-3 8h3m-3 2h3m-3 0h3m-3 3h3m-3 4h3m-3 11h3m-3 15h3m-3 20h3m-3 7h3m-3 19h3m-2-188h3m-3 27h3m-3 7h3m-3 4h3m-3 6h3m-3 16h3m-3 0h3m-3 2h3m-3 5h3m-3 1h3m-3 1h3m-3 5h3m-3 8h3m-3 0h3m-3 5h3m-3 3h3m-3 6h3m-3 5h3m-3 5h3m-3 2h3m-3 4h3m-3 14h3m-3 9h3m-3 10h3m-3 0h3m-3 18h3m-2-154h3m-3 25h3m-3 26h3m-3 16h3m-3 9h3m-3 7h3m-3 1h3m-3 5h3m-3 0h3m-3 6h3m-3 0h3m-3 4h3m-3 6h3m-3 0h3m-3 0h3m-3 10h3m-3 1h3m-3 1h3m-3 2h3m-3 6h3m-3 9h3m-3 13h3m-3 8h3m-3 2h3m-2-136h3m-3 2h3m-3 3h3m-3 12h3m-3 1h3m-3 2h3m-3 5h3m-3 8h3m-3 12h3m-3 16h3m-3 6h3m-3 3h3m-3 2h3m-3 2h3m-3 1h3m-3 3h3m-3 5h3m-3 3h3m-3 11h3m-3 3h3m-3 1h3m-3 24h3m-2-150h3m-3 55h3m-3 15h3m-3 9h3m-3 7h3m-3 1h3m-3 2h3m-3 16h3m-3 0h3m-3 2h3m-3 11h3m-3 11h3m-3 1h3m-3 0h3m-3 4h3m-3 9h3m-3 11h3m-3 25h3m-3 5h3m-3 13h3m-2-173h3m-3 12h3m-3 4h3m-3 8h3m-3 6h3m-3 2h3m-3 1h3m-3 3h3m-3 9h3m-3 8h3m-3 5h3m-3 6h3m-3 4h3m-3 1h3m-3 8h3m-3 36h3m-3 1h3m-3 17h3m-2-155h3m-3 20h3m-3 3h3m-3 22h3m-3 3h3m-3 12h3m-3 4h3m-3 0h3m-3 1h3m-3 0h3m-3 0h3m-3 2h3m-3 10h3m-3 3h3m-3 4h3m-3 1h3m-3 5h3m-3 1h3m-3 10h3m-3 11h3m-3 18h3m-3 8h3m-3 7h3m-3 13h3m-2-188h3m-3 39h3m-3 13h3m-3 10h3m-3 22h3m-3 12h3m-3 8h3m-3 10h3m-3 13h3m-3 7h3m-3 6h3m-3 18h3m-3 0h3m-3 26h3m-3 14h3m-2-174h3m-3 6h3m-3 7h3m-3 22h3m-3 12h3m-3 15h3m-3 5h3m-3 3h3m-3 5h3m-3 2h3m-3 6h3m-3 6h3m-3 0h3m-3 8h3m-3 3h3m-3 1h3m-3 6h3m-3 0h3m-3 1h3m-3 7h3m-3 2h3m-3 13h3m-3 72h3m-2-202h3m-3 55h3m-3 5h3m-3 26h3m-3 1h3m-3 13h3m-3 1h3m-3 15h3m-3 10h3m-3 15h3m-3 5h3m-3 25h3m-3 30h3m-2-175h3m-3 2h3m-3 2h3m-3 12h3m-3 3h3m-3 13h3m-3 0h3m-3 4h3m-3 23h3m-3 1h3m-3 3h3m-3 2h3m-3 17h3m-3 3h3m-3 11h3m-3 3h3m-3 2h3m-3 17h3m-3 17h3m-3 13h3m-2-156h3m-3 16h3m-3 10h3m-3 1h3m-3 14h3m-3 0h3m-3 5h3m-3 2h3m-3 6h3m-3 4h3m-3 1h3m-3 0h3m-3 0h3m-3 2h3m-3 11h3m-3 5h3m-3 3h3m-3 22h3m-3 6h3m-3 7h3m-3 17h3m-3 23h3m-3 8h3m-3 5h3m-2-208h3m-3 32h3m-3 3h3m-3 31h3m-3 3h3m-3 7h3m-3 7h3m-3 10h3m-3 0h3m-3 5h3m-3 4h3m-3 2h3m-3 7h3m-3 11h3m-3 10h3m-3 7h3m-3 2h3m-3 9h3m-3 5h3m-3 8h3m-3 9h3m-3 2h3m-3 1h3m-3 1h3m-3 2h3m-3 18h3m-3 13h3m-2-221h3m-3 18h3m-3 32h3m-3 6h3m-3 24h3m-3 1h3m-3 0h3m-3 9h3m-3 14h3m-3 7h3m-3 1h3m-3 19h3m-3 4h3m-3 2h3m-3 4h3m-3 5h3m-3 4h3m-3 0h3m-3 14h3m-3 9h3m-3 2h3m-3 1h3m-3 2h3m-3 19h3m-2-184h3m-3 33h3m-3 13h3m-3 3h3m-3 39h3m-3 9h3m-3 8h3m-3 0h3m-3 8h3m-3 8h3m-3 2h3m-3 7h3m-3 3h3m-3 0h3m-3 3h3m-3 0h3m-3 1h3m-3 0h3m-3 7h3m-3 5h3m-3 5h3m-3 2h3m-3 14h3m-3 24h3m-2-142h3m-3 8h3m-3 4h3m-3 7h3m-3 5h3m-3 11h3m-3 5h3m-3 5h3m-3 12h3m-3 3h3m-3 1h3m-3 4h3m-3 1h3m-3 1h3m-3 1h3m-3 30h3m-3 18h3m-3 21h3m-3 5h3m-3 20h3m-2-159h3m-3 5h3m-3 18h3m-3 1h3m-3 9h3m-3 4h3m-3 6h3m-3 1h3m-3 12h3m-3 7h3m-3 30h3m-3 1h3m-3 3h3m-3 1h3m-3 0h3m-3 1h3m-3 1h3m-3 25h3m-3 7h3m-2-166h3m-3 20h3m-3 26h3m-3 1h3m-3 5h3m-3 9h3m-3 1h3m-3 9h3m-3 2h3m-3 4h3m-3 5h3m-3 3h3m-3 1h3m-3 3h3m-3 9h3m-3 6h3m-3 0h3m-3 4h3m-3 5h3m-3 6h3m-3 7h3m-3 22h3m-3 20h3m-3 17h3m-3 1h3m-2-185h3m-3 17h3m-3 23h3m-3 9h3m-3 13h3m-3 1h3m-3 3h3m-3 2h3m-3 1h3m-3 2h3m-3 2h3m-3 2h3m-3 10h3m-3 0h3m-3 17h3m-3 1h3m-3 6h3m-3 8h3m-3 2h3m-3 9h3m-3 1h3m-3 4h3m-3 1h3m-3 11h3m-2-207h3m-3 61h3m-3 0h3m-3 22h3m-3 14h3m-3 3h3m-3 14h3m-3 8h3m-3 1h3m-3 0h3m-3 0h3m-3 3h3m-3 0h3m-3 5h3m-3 5h3m-3 4h3m-3 2h3m-3 1h3m-3 3h3m-3 6h3m-3 2h3m-3 3h3m-3 1h3m-3 0h3m-3 2h3m-3 1h3m-3 6h3m-3 2h3m-3 4h3m-3 0h3m-3 0h3m-3 13h3m-3 7h3m-3 2h3m-3 0h3m-3 5h3m-3 0h3m-3 13h3m-3 48h3m-2-181h3m-3 14h3m-3 3h3m-3 3h3m-3 2h3m-3 2h3m-3 11h3m-3 1h3m-3 4h3m-3 2h3m-3 0h3m-3 2h3m-3 6h3m-3 1h3m-3 9h3m-3 4h3m-3 1h3m-3 4h3m-3 22h3m-3 9h3m-3 38h3m-3 4h3m-3 9h3m-3 0h3m-2-145h3m-3 1h3m-3 13h3m-3 0h3m-3 1h3m-3 29h3m-3 1h3m-3 12h3m-3 10h3m-3 3h3m-3 2h3m-3 0h3m-3 12h3m-3 2h3m-3 5h3m-3 4h3m-3 13h3m-3 4h3m-3 18h3m-3 18h3m-3 1h3m-2-132h3m-3 18h3m-3 14h3m-3 10h3m-3 31h3m-3 4h3m-3 2h3m-3 0h3m-3 3h3m-3 5h3m-3 1h3m-3 9h3m-3 8h3m-3 28h3m-2-154h3m-3 2h3m-3 17h3m-3 18h3m-3 20h3m-3 0h3m-3 3h3m-3 5h3m-3 5h3m-3 1h3m-3 3h3m-3 14h3m-3 11h3m-3 3h3m-3 2h3m-3 3h3m-3 11h3m-3 2h3m-2-129h3m-3 15h3m-3 5h3m-3 27h3m-3 1h3m-3 5h3m-3 2h3m-3 4h3m-3 4h3m-3 9h3m-3 2h3m-3 5h3m-3 9h3m-3 3h3m-3 2h3m-3 8h3m-3 13h3m-3 1h3m-3 26h3m-3 9h3m-3 1h3m-3 29h3m-2-195h3m-3 13h3m-3 37h3m-3 3h3m-3 1h3m-3 0h3m-3 10h3m-3 5h3m-3 0h3m-3 1h3m-3 6h3m-3 11h3m-3 2h3m-3 17h3m-3 1h3m-3 5h3m-2-91h3m-3 20h3m-3 23h3m-3 13h3m-3 12h3m-3 4h3m-3 2h3m-3 3h3m-3 3h3m-3 1h3m-3 1h3m-3 9h3m-3 2h3m-3 1h3m-3 3h3m-3 0h3m-3 13h3m-3 15h3m-3 41h3m-2-155h3m-3 14h3m-3 13h3m-3 0h3m-3 4h3m-3 8h3m-3 5h3m-3 9h3m-3 12h3m-3 10h3m-3 20h3m-3 1h3m-3 0h3m-3 20h3m-2-137h3m-3 33h3m-3 3h3m-3 28h3m-3 3h3m-3 4h3m-3 3h3m-3 2h3m-3 4h3m-3 8h3m-3 9h3m-3 6h3m-3 14h3m-3 7h3m-3 1h3m-3 10h3m-3 13h3m-3 1h3m-3 7h3m-3 35h3m-3 4h3m-2-193h3m-3 5h3m-3 20h3m-3 2h3m-3 16h3m-3 10h3m-3 5h3m-3 6h3m-3 17h3m-3 2h3m-3 1h3m-3 3h3m-3 4h3m-3 10h3m-3 22h3m-3 5h3m-3 18h3m-3 3h3m-3 38h3m-2-114h3m-3 15h3m-3 4h3m-3 0h3m-3 14h3m-3 6h3m-3 7h3m-3 8h3m-3 16h3m-3 17h3m-3 28h3m-2-202h3m-3 41h3m-3 2h3m-3 2h3m-3 9h3m-3 0h3m-3 5h3m-3 20h3m-3 13h3m-3 0h3m-3 1h3m-3 2h3m-3 22h3m-3 7h3m-3 15h3m-3 4h3m-3 2h3m-3 0h3m-3 9h3m-3 6h3m-3 7h3m-2-130h3m-3 7h3m-3 13h3m-3 5h3m-3 5h3m-3 8h3m-3 14h3m-3 7h3m-3 10h3m-3 9h3m-3 4h3m-3 33h3m-3 52h3m-2-243h3m-3 104h3m-3 9h3m-3 6h3m-3 4h3m-3 32h3m-3 8h3m-3 3h3m-3 73h3m-2-162h3m-3 3h3m-3 4h3m-3 7h3m-3 5h3m-3 2h3m-3 1h3m-3 1h3m-3 1h3m-3 1h3m-3 4h3m-3 10h3m-3 0h3m-3 0h3m-3 13h3m-3 12h3m-3 23h3m-3 20h3m-3 0h3m-3 9h3m-3 0h3m-3 36h3m-3 4h3m-2-194h3m-3 20h3m-3 18h3m-3 0h3m-3 9h3m-3 12h3m-3 4h3m-3 1h3m-3 1h3m-3 21h3m-3 1h3m-3 10h3m-3 1h3m-3 1h3m-3 5h3m-3 2h3m-3 8h3m-3 2h3m-3 4h3m-3 9h3m-3 73h3m-3 0h3m-2-172h3m-3 9h3m-3 4h3m-3 15h3m-3 0h3m-3 5h3m-3 0h3m-3 8h3m-3 5h3m-3 3h3m-3 5h3m-3 1h3m-3 6h3m-3 0h3m-3 2h3m-3 1h3m-3 0h3m-3 14h3m-3 9h3m-3 12h3m-3 1h3m-3 30h3m-3 3h3m-3 5h3m-3 2h3m-2-143h3m-3 9h3m-3 15h3m-3 27h3m-3 2h3m-3 5h3m-3 2h3m-3 3h3m-3 3h3m-3 5h3m-3 4h3m-3 16h3m-3 14h3m-3 2h3m-3 19h3m-3 3h3m-3 30h3m-2-142h3m-3 1h3m-3 21h3m-3 4h3m-3 14h3m-3 14h3m-3 0h3m-3 3h3m-3 1h3m-3 4h3m-3 10h3m-3 2h3m-3 1h3m-3 8h3m-3 13h3m-3 5h3m-3 5h3m-3 8h3m-3 2h3m-3 23h3m-2-200h3m-3 25h3m-3 35h3m-3 12h3m-3 15h3m-3 27h3m-3 12h3m-3 7h3m-3 42h3m-3 1h3m-3 3h3m-2-158h3m-3 10h3m-3 13h3m-3 28h3m-3 9h3m-3 3h3m-3 6h3m-3 11h3m-3 8h3m-3 1h3m-3 30h3m-3 7h3m-3 11h3m-3 38h3m-3 1h3m-3 5h3m-3 3h3m-2-193h3m-3 24h3m-3 23h3m-3 14h3m-3 5h3m-3 20h3m-3 9h3m-3 7h3m-3 10h3m-3 4h3m-3 0h3m-3 5h3m-3 1h3m-3 15h3m-3 4h3m-3 35h3m-3 35h3m-2-154h3m-3 10h3m-3 5h3m-3 8h3m-3 1h3m-3 3h3m-3 6h3m-3 5h3m-3 1h3m-3 6h3m-3 8h3m-3 4h3m-3 2h3m-3 2h3m-3 17h3m-3 4h3m-3 6h3m-3 9h3m-3 48h3m-2-208h3m-3 22h3m-3 31h3m-3 1h3m-3 13h3m-3 28h3m-3 3h3m-3 10h3m-3 5h3m-3 34h3m-3 6h3m-3 1h3m-3 5h3m-3 8h3m-2-147h3m-3 7h3m-3 18h3m-3 60h3m-3 7h3m-3 5h3m-3 5h3m-3 20h3m-3 17h3m-3 31h3m-3 9h3m-2-219h3m-3 48h3m-3 10h3m-3 26h3m-3 9h3m-3 9h3m-3 9h3m-3 19h3m-3 4h3m-3 4h3m-3 4h3m-3 0h3m-3 4h3m-3 1h3m-3 15h3m-3 12h3m-3 2h3m-3 30h3m-3 1h3m-3 8h3m-3 22h3m-2-166h3m-3 5h3m-3 16h3m-3 10h3m-3 24h3m-3 2h3m-3 2h3m-3 32h3m-2-104h3m-3 4h3m-3 9h3m-3 18h3m-3 25h3m-3 5h3m-3 20h3m-3 46h3m-3 16h3m-2-136h3m-3 14h3m-3 1h3m-3 1h3m-3 0h3m-3 11h3m-3 9h3m-3 19h3m-3 3h3m-3 4h3m-3 1h3m-3 7h3m-3 15h3m-3 13h3m-3 49h3m-3 25h3m-2-171h3m-3 12h3m-3 19h3m-3 91h3m-3 42h3m-2-207h3m-3 68h3m-3 1h3m-3 11h3m-3 2h3m-3 4h3m-3 0h3m-3 6h3m-3 6h3m-3 1h3m-3 27h3m-3 7h3m-3 0h3m-3 41h3m-3 1h3m-2-122h3m-3 6h3m-3 14h3m-3 6h3m-3 2h3m-3 5h3m-3 1h3m-3 13h3m-3 11h3m-3 8h3m-3 12h3m-3 4h3m-3 3h3m-3 22h3m-2-133h3m-3 33h3m-3 19h3m-3 0h3m-3 7h3m-3 12h3m-3 11h3m-3 60h3m-3 0h3m-3 5h3m-2-186h3m-3 50h3m-3 15h3m-3 3h3m-3 1h3m-3 8h3m-3 20h3m-3 1h3m-3 6h3m-3 24h3m-3 60h3m-3 12h3m-3 24h3m-2-177h3m-3 24h3m-3 3h3m-3 29h3m-3 1h3m-3 7h3m-3 20h3m-3 3h3m-3 5h3m-3 25h3m-3 28h3m-3 3h3m-3 0h3m-3 2h3m-2-199h3m-3 44h3m-3 41h3m-3 9h3m-3 0h3m-3 5h3m-3 21h3m-3 27h3m-3 1h3m-3 5h3m-3 5h3m-2-165h3m-3 34h3m-3 0h3m-3 33h3m-3 21h3m-3 11h3m-3 5h3m-3 32h3m-3 10h3m-3 1h3m-3 3h3m-3 8h3m-3 8h3m-3 17h3m-3 20h3m-2-211h3m-3 75h3m-3 4h3m-3 2h3m-3 15h3m-3 17h3m-3 1h3m-3 0h3m-3 31h3m-3 21h3m-2-177h3m-3 113h3m-3 11h3m-3 7h3m-3 10h3m-3 6h3m-3 1h3m-3 1h3m-3 3h3m-3 4h3m-3 5h3m-3 13h3m-3 25h3m-3 8h3m-3 10h3m-3 1h3m-2-121h3m-3 5h3m-3 27h3m-3 18h3m-3 16h3m-3 7h3m-3 2h3m-3 1h3m-3 16h3m-3 23h3m-3 5h3m-3 0h3m-2-130h3m-3 23h3m-3 6h3m-3 0h3m-3 10h3m-3 20h3m-3 21h3m-3 6h3m-3 0h3m-3 35h3m-3 25h3m-2-168h3m-3 10h3m-3 29h3m-3 1h3m-3 6h3m-3 4h3m-3 7h3m-3 1h3m-3 19h3m-3 29h3m-3 50h3m-3 18h3m-2-162h3m-3 0h3m-3 22h3m-3 4h3m-3 6h3m-3 6h3m-3 31h3m-3 21h3m-3 5h3m-3 43h3m-3 11h3m-2-138h3m-3 23h3m-3 11h3m-3 47h3m-3 55h3m-3 14h3m-2-155h3m-3 19h3m-3 33h3m-3 2h3m-3 38h3m-3 30h3m-3 7h3m-3 23h3m-3 0h3m-3 8h3m-2-224h3m-3 122h3m-3 14h3m-3 28h3m-3 10h3m-3 4h3m-3 31h3m-2-192h3m-3 56h3m-3 11h3m-3 5h3m-3 11h3m-3 31h3m-3 32h3m-3 2h3m-3 51h3m-3 5h3m-2-119h3m-3 37h3m-2-109h3m-3 28h3m-3 17h3m-3 5h3m-3 14h3m-3 4h3m-3 26h3m-3 44h3m-3 56h3m-2-165h3m-3 2h3m-3 16h3m-3 51h3m-3 10h3m-3 16h3m-3 65h3m-3 8h3m-2-140h3m-3 13h3m-3 6h3m-3 10h3m-3 3h3m-3 14h3m-3 2h3m-3 11h3m-3 8h3m-3 7h3m-3 73h3m-2-178h3m-3 40h3m-3 7h3m-3 44h3m-3 6h3m-3 34h3m-3 2h3m-3 1h3m-3 1h3m-3 18h3m-3 6h3m-3 2h3m-2-170h3m-3 8h3m-3 37h3m-3 12h3m-3 45h3m-3 39h3m-3 23h3m-3 24h3m-2-134h3m-3 3h3m-3 21h3m-3 6h3m-3 64h3m-3 7h3m-3 23h3m-2-228h3m-3 92h3m-3 85h3m-3 10h3m-3 9h3m-2-140h3m-3 31h3m-3 25h3m-3 2h3m-3 17h3m-3 6h3m-3 63h3m-3 11h3m-3 4h3m-3 17h3m-2-174h3m-3 24h3m-3 3h3m-3 74h3m-3 15h3m-3 4h3m-3 31h3m-2-125h3m-3 45h3m-3 6h3m-3 53h3m-2-134h3m-3 37h3m-3 23h3m-3 0h3m-3 33h3m-3 9h3m-3 19h3m-3 2h3m-3 7h3m-3 36h3m-2-150h3m-3 23h3m-3 40h3m-3 76h3m-3 28h3m-2-166h3m-3 21h3m-3 53h3m-3 37h3m-2-61h3m-3 35h3m-3 22h3m-3 10h3m-2-202h3m-3 30h3m-3 53h3m-3 52h3m-3 6h3m-3 27h3m-3 63h3m-2-180h3m-3 72h3m-3 0h3m-3 38h3m-3 30h3m-3 27h3m-3 5h3m-3 18h3m-2-154h3m-3 36h3m-3 4h3m-3 39h3m-3 47h3m-2-180h3m-3 59h3m-3 14h3m-3 3h3m-3 8h3m-3 60h3m-2-67h3m-3 8h3m-3 11h3m-3 6h3m-3 3h3m-3 4h3m-3 16h3m-3 73h3m-3 5h3m-2-172h3m-3 34h3m-3 22h3m-3 15h3m-3 18h3m-3 70h3m-3 13h3m-2-206h3m-3 67h3m-3 34h3m-3 20h3m-3 60h3m-3 0h3m-2-64h3m-3 47h3m-3 8h3m-3 5h3m-3 27h3m-2-179h3m-3 53h3m-3 61h3m-3 25h3m-3 17h3m-3 11h3m-2-123h3m-3 38h3m-3 4h3m-3 3h3m-3 40h3m-3 17h3m-2-146h3m-3 79h3m-3 54h3m-3 15h3m-3 8h3m-3 23h3m-3 4h3m-2-36h3m-3 44h3m-3 1h3m-2-94h3m-3 48h3m-3 10h3m-2-69h3m-3 56h3m-3 13h3m-2-170h3m-3 29h3m-3 46h3m-3 76h3m-3 5h3m-3 5h3m-2-74h3m-2-78h3m-3 103h3m-3 8h3m-3 13h3m-3 24h3m-3 47h3m-2-35h3m-3 14h3m-3 0h3m-2-86h3m-3 80h3m-3 24h3m-2-108h3m-3 59h3m-3 37h3m-2-133h3m-3 36h3m-3 49h3m-3 16h3m-3 25h3m-2-20h3m-3 8h3m-2-111h3m-3 39h3m-2 88h3m-2-156h3m-3 16h3m-3 137h3m-2-152h3m-3 105h3m-3 5h3m-3 9h3m-3 30h3m-2-119h3m-3 62h3m-2-155h3m-3 140h3m-3 75h3m-2-125h3m-3 44h3m-2 43h3m-2-86h3m-3 95h3m-3 44h3m-2-65h3m-3 74h3m-2-234h3m-3 146h3m-3 33h3m-3 12h3m-3 7h3m-2-52h3m-3 45h3m-3 11h3m-3 32h3m-2-146h3m-3 108h3m-3 7h3m-2-26h3m-3 31h3m-3 20h3m-3 2h3m-2-196h3m-3 119h3m-3 84h3m-2-110h3m-3 54h3m-1-108h3m-3 47h3m-3 38h3m-3 16h3m-3 24h3m-2-18h3m-3 22h3m-3 1h3m-2-61h3m-3 5h3m-3 19h3m-2 35h3m-3 32h3m-2-20h3m-3 13h3m-2-150h3m-3 132h3m-3 25h3m-2-33h3m-3 0h3m-2-194h3m-3 190h3m-2-114h3m-2 73h3m-3 31h3m-1 39h3m-2-47h3m-3 6h3m-2-33h3m-3 45h3m-2-82h3m-3 18h3m-3 2h3m-3 67h3m-3 2h3m-2-8h3m-3 20h3m-2-221h3m-2 23h3m-3 168h3m-1-169h3m-3 195h3m-2 8h3m-2-28h3m-3 18h3m-3 0h3m-3 10h3m-2-26h3m-2 8h3m-1-190h3m-2 67h3m-3 9h3m-3 87h3m-3 65h3m-2-18h3m-2-123h3m-3 124h3m-3 5h3m1-219h3m-3 192h3m-3 7h3m-2-188h3m-3 13h3m-2 155h3m-1 25h3m-3 7h3m-3 8h3m-2-28h3m-1-35h3m-3 54h3m-3 0h3m-2-189h3m-3 174h3m-1 5h3m-2-11h3m-2-55h3m-2 90h3m-1-10h3m-3 12h3m-2-25h3m-2-48h3m-2 65h3m-2-45h3m0 26h3m0 1h3m-3 15h3m-1-154h3m-3 97h3m-1 51h3m-3 10h3m-1-18h3m-2 17h3m-2-20h3m-2-19h3m-1-90h3m0 111h3m-2-133h3m-2 152h3m3-14h3m-2-173h3m-1 170h3m-2-11h3m-3 21h3m-2-11h3m-3 27h3m-3 0h3m1-34h3m-1 3h3m-3 19h3m1-10h3m-2-18h3m2 1h3m-2 26h3m-1-23h3m-3 13h3m-1-6h3m-3 19h3m-1-18h3m-1-8h3m-1 39h3m-2-40h3m-3 6h3m0-4h3" stroke="#111" stroke-width="4.0" stroke-opacity="0.85"/>
<text x="295.2" y="170.3" font-size="6.2" text-anchor="middle" fill="#222">10<tspan font-size="3.8" dy="-2.4">0</tspan></text>
<text x="290.5" y="161.8" font-size="6.2" text-anchor="middle" fill="#222" transform="rotate(-90 290.5 161.8)">10<tspan font-size="3.8" dy="-2.4">0</tspan></text>
<text x="310.8" y="170.3" font-size="6.2" text-anchor="middle" fill="#222">10<tspan font-size="3.8" dy="-2.4">1</tspan></text>
<text x="290.5" y="147.3" font-size="6.2" text-anchor="middle" fill="#222" transform="rotate(-90 290.5 147.3)">10<tspan font-size="3.8" dy="-2.4">1</tspan></text>
<text x="326.3" y="170.3" font-size="6.2" text-anchor="middle" fill="#222">10<tspan font-size="3.8" dy="-2.4">2</tspan></text>
<text x="290.5" y="132.8" font-size="6.2" text-anchor="middle" fill="#222" transform="rotate(-90 290.5 132.8)">10<tspan font-size="3.8" dy="-2.4">2</tspan></text>
<text x="341.8" y="170.3" font-size="6.2" text-anchor="middle" fill="#222">10<tspan font-size="3.8" dy="-2.4">3</tspan></text>
<text x="290.5" y="118.3" font-size="6.2" text-anchor="middle" fill="#222" transform="rotate(-90 290.5 118.3)">10<tspan font-size="3.8" dy="-2.4">3</tspan></text>
<text x="357.4" y="170.3" font-size="6.2" text-anchor="middle" fill="#222">10<tspan font-size="3.8" dy="-2.4">4</tspan></text>
<text x="290.5" y="103.8" font-size="6.2" text-anchor="middle" fill="#222" transform="rotate(-90 290.5 103.8)">10<tspan font-size="3.8" dy="-2.4">4</tspan></text>
<text x="258.0" y="115.2" font-size="7.4" text-anchor="middle" font-family='"Liberation Serif", serif' fill="#222">36%</text>
<text x="342.0" y="115.2" font-size="7.4" text-anchor="middle" font-family='"Liberation Serif", serif' fill="#222">36%</text>
<path d="M213.0 175.0L356.0 175.0" stroke="#777" stroke-width="0.75" fill="none"/>
<path d="M355.1 173.4L358.5 175.0L355.1 176.6z" fill="#000"/>
<path d="M199.0 106.0L199.0 162.0" stroke="#bbb" stroke-width="0.6" fill="none"/>
<path d="M197.5 105.7L199.0 102.5L200.5 105.7z" fill="#000"/>
<text x="194.5" y="138.5" font-size="6.6" text-anchor="middle" fill="#222" transform="rotate(-90 194.5 138.5)">CD20 PE</text>
<text x="273.0" y="181.5" font-size="6.6" text-anchor="middle" fill="#222">GFP</text>
<text x="274.0" y="197.0" font-size="6.6" text-anchor="middle" fill="#222" textLength="43.5" lengthAdjust="spacingAndGlyphs">Allogeneic LCL</text>
<text x="2.0" y="219.0" font-size="11.5" font-weight="bold">C</text>
<text x="121.5" y="220.3" font-size="14.5" font-family='"Liberation Serif", serif' font-weight="normal" fill="#111" textLength="107.8" lengthAdjust="spacingAndGlyphs">CTL apoptosis (48 h)</text>
<rect x="13.8" y="232.1" width="66.4" height="61.5" fill="none" stroke="#333" stroke-width="0.8"/>
<path d="M43.4 232.1L43.4 293.6" stroke="#333" stroke-width="0.8" fill="none"/>
<path d="M13.8 272.4L80.2 272.4" stroke="#333" stroke-width="0.8" fill="none"/>
<path d="M13.8 293.6V232.1M13.8 293.6H80.2" stroke="#222" stroke-width="0.9" stroke-dasharray="0.7 2.3" fill="none"/>
<path d="M42.0 265.6L14.3 287.6L14.3 293.1L21.8 293.1z" fill="#222" fill-opacity="0.68"/>
<radialGradient id="g158"><stop offset="0" stop-color="#111" stop-opacity="0.95"/><stop offset="0.6" stop-color="#111" stop-opacity="0.57"/><stop offset="1" stop-color="#111" stop-opacity="0"/></radialGradient>
<ellipse cx="18.3" cy="289.1" rx="6.5" ry="6" transform="rotate(0 18.3 289.1)" fill="url(#g158)"/>
<path transform="scale(0.2)" d="M73 1419h3m-3 30h3m-3 11h3m-3 1h3m-2-33h3m-3 0h3m-3 14h3m-3 3h3m-3 5h3m-3 5h3m-3 5h3m-3 2h3m-2-43h3m-3 18h3m-3 14h3m-3 6h3m-3 1h3m-3 2h3m-2-17h3m-2-13h3m-3 8h3m-3 2h3m-3 0h3m-3 1h3m-3 10h3m-2-33h3m-3 12h3m-3 9h3m-3 13h3m-3 2h3m-2-27h3m-3 10h3m-3 6h3m-3 3h3m-3 5h3m-2-15h3m-3 6h3m-3 0h3m-3 1h3m-3 4h3m-3 2h3m-3 4h3m-3 2h3m-2-15h3m-3 6h3m-3 3h3m-3 0h3m-3 1h3m-3 9h3m-2-33h3m-3 6h3m-3 3h3m-3 1h3m-3 1h3m-3 4h3m-3 2h3m-3 1h3m-3 1h3m-3 2h3m-3 3h3m-2-19h3m-3 16h3m-3 4h3m-3 1h3m-3 0h3m-3 3h3m-3 1h3m-3 8h3m-2-29h3m-3 2h3m-3 0h3m-3 8h3m-3 0h3m-3 5h3m-3 0h3m-3 3h3m-3 3h3m-2-30h3m-3 3h3m-3 6h3m-3 1h3m-3 6h3m-3 1h3m-3 1h3m-3 7h3m-3 0h3m-3 1h3m-2-21h3m-3 8h3m-3 2h3m-3 2h3m-3 0h3m-3 0h3m-3 0h3m-3 1h3m-3 2h3m-3 1h3m-3 0h3m-3 1h3m-3 0h3m-3 2h3m-3 0h3m-3 3h3m-3 1h3m-3 0h3m-3 1h3m-3 6h3m-2-48h3m-3 4h3m-3 13h3m-3 2h3m-3 7h3m-3 0h3m-3 0h3m-3 3h3m-3 2h3m-3 1h3m-3 4h3m-3 1h3m-3 1h3m-3 2h3m-3 3h3m-3 0h3m-2-47h3m-3 16h3m-3 2h3m-3 5h3m-3 3h3m-3 5h3m-3 2h3m-3 3h3m-3 2h3m-3 2h3m-3 0h3m-3 1h3m-3 2h3m-3 1h3m-3 0h3m-3 1h3m-3 0h3m-3 6h3m-2-41h3m-3 4h3m-3 12h3m-3 6h3m-3 4h3m-3 2h3m-3 3h3m-3 3h3m-3 1h3m-3 1h3m-2-22h3m-3 7h3m-3 0h3m-3 0h3m-3 2h3m-3 2h3m-3 14h3m-3 1h3m-3 1h3m-3 2h3m-2-47h3m-3 10h3m-3 3h3m-3 0h3m-3 12h3m-3 4h3m-3 5h3m-3 1h3m-3 6h3m-2-32h3m-3 4h3m-3 3h3m-3 1h3m-3 4h3m-3 5h3m-3 4h3m-3 1h3m-3 4h3m-3 5h3m-3 0h3m-2-38h3m-3 4h3m-3 5h3m-3 5h3m-3 9h3m-3 1h3m-3 5h3m-3 0h3m-3 3h3m-3 6h3m-3 2h3m-3 0h3m-3 1h3m-3 1h3m-2-39h3m-3 0h3m-3 5h3m-3 2h3m-3 2h3m-3 9h3m-3 6h3m-3 1h3m-3 7h3m-3 9h3m-3 2h3m-2-44h3m-3 2h3m-3 13h3m-3 2h3m-3 3h3m-3 3h3m-3 1h3m-3 6h3m-3 2h3m-3 11h3m-2-52h3m-3 10h3m-3 2h3m-3 6h3m-3 4h3m-3 3h3m-3 5h3m-3 1h3m-3 0h3m-3 0h3m-3 1h3m-3 0h3m-3 1h3m-3 7h3m-3 9h3m-3 2h3m-2-25h3m-3 5h3m-3 3h3m-3 1h3m-3 5h3m-3 2h3m-3 1h3m-3 2h3m-3 2h3m-3 2h3m-2-35h3m-3 10h3m-3 2h3m-3 5h3m-3 14h3m-3 0h3m-3 3h3m-3 3h3m-2-32h3m-3 17h3m-3 4h3m-3 4h3m-3 0h3m-3 2h3m-3 4h3m-2-53h3m-3 17h3m-3 2h3m-3 10h3m-3 1h3m-3 10h3m-3 1h3m-3 1h3m-3 1h3m-3 8h3m-2-34h3m-3 6h3m-3 1h3m-3 1h3m-3 8h3m-3 16h3m-3 3h3m-3 4h3m-2-58h3m-3 13h3m-3 10h3m-3 2h3m-3 4h3m-3 1h3m-3 2h3m-3 6h3m-3 2h3m-3 0h3m-3 0h3m-3 10h3m-3 1h3m-3 2h3m-3 6h3m-2-26h3m-3 4h3m-3 0h3m-3 4h3m-3 8h3m-3 0h3m-3 4h3m-3 6h3m-2-49h3m-3 17h3m-3 1h3m-3 3h3m-3 3h3m-3 6h3m-3 1h3m-3 1h3m-3 6h3m-3 2h3m-2-40h3m-3 1h3m-3 9h3m-3 3h3m-3 13h3m-3 1h3m-3 4h3m-3 5h3m-3 13h3m-2-59h3m-3 7h3m-3 0h3m-3 2h3m-3 3h3m-3 5h3m-3 6h3m-3 12h3m-3 5h3m-3 1h3m-3 0h3m-3 9h3m-3 7h3m-3 2h3m-2-43h3m-3 6h3m-3 12h3m-3 9h3m-3 17h3m-2-60h3m-3 14h3m-3 10h3m-3 15h3m-3 1h3m-3 5h3m-3 10h3m-3 5h3m-2-40h3m-3 5h3m-3 4h3m-3 18h3m-3 4h3m-3 3h3m-2-45h3m-3 8h3m-3 0h3m-3 7h3m-3 21h3m-3 0h3m-2-39h3m-3 1h3m-3 0h3m-3 3h3m-3 16h3m-3 3h3m-3 14h3m-3 0h3m-3 5h3m-3 6h3m-2-36h3m-3 1h3m-3 15h3m-3 1h3m-3 2h3m-3 6h3m-3 12h3m-2-53h3m-3 3h3m-3 9h3m-3 1h3m-3 5h3m-3 4h3m-3 1h3m-3 1h3m-3 6h3m-3 2h3m-3 19h3m-2-39h3m-3 3h3m-3 4h3m-3 9h3m-3 2h3m-3 20h3m-3 7h3m-2-52h3m-3 2h3m-3 4h3m-3 3h3m-3 25h3m-3 5h3m-3 2h3m-2-48h3m-3 10h3m-3 4h3m-3 3h3m-3 4h3m-3 2h3m-3 7h3m-3 6h3m-3 0h3m-3 17h3m-2-54h3m-3 19h3m-3 5h3m-3 2h3m-3 10h3m-3 6h3m-3 9h3m-2-46h3m-3 14h3m-3 24h3m-2-32h3m-3 6h3m-3 11h3m-2-21h3m-3 7h3m-3 1h3m-3 6h3m-3 11h3m-3 19h3m-3 4h3m-3 3h3m-2-59h3m-3 1h3m-3 8h3m-3 8h3m-3 3h3m-3 21h3m-2-36h3m-3 12h3m-3 0h3m-3 7h3m-3 0h3m-3 2h3m-3 7h3m-3 17h3m-2-30h3m-3 10h3m-3 6h3m-2-26h3m-3 14h3m-2-34h3m-3 9h3m-3 2h3m-3 4h3m-3 7h3m-3 15h3m-3 35h3m-2-38h3m-3 4h3m-3 7h3m-3 15h3m-3 7h3m-2-48h3m-3 6h3m-3 35h3m-2-63h3m-3 27h3m-3 3h3m-3 23h3m-3 1h3m-2-46h3m-3 18h3m-3 15h3m-2-39h3m-3 12h3m-3 2h3m-3 53h3m-2-57h3m-3 3h3m-3 7h3m-3 14h3m-2-35h3m-3 2h3m-3 11h3m-3 1h3m-3 4h3m-3 6h3m-3 11h3m-2-24h3m-3 3h3m-3 4h3m-3 5h3m-3 8h3m-2 15h3m-2-42h3m-3 4h3m-3 1h3m-3 3h3m-3 11h3m-2-24h3m-3 3h3m-2-4h3m-3 11h3m-3 3h3m-3 0h3m-2 1h3m-2-8h3m-3 3h3m-3 4h3m-3 5h3m-2-12h3m-3 6h3m-2-15h3m-3 10h3m-2-12h3m-3 19h3m-3 1h3m-2-15h3m-3 11h3m-3 2h3m-2-6h3m-3 0h3m-3 24h3m-2-27h3m-3 0h3m-3 3h3m-3 3h3m-2-20h3m-3 3h3m-3 19h3m-3 1h3m-2-24h3m-3 9h3m-3 1h3m-3 0h3m-3 9h3m-2-11h3m-3 1h3m-3 1h3m-3 3h3m-2-7h3m-3 2h3m-3 3h3m-3 1h3m-3 1h3m-2-11h3m-3 3h3m-3 4h3m-3 6h3m-3 10h3m-2-30h3m-3 2h3m-3 6h3m-2-4h3m-3 17h3m-3 3h3m-2-17h3m-3 13h3m-3 4h3m-2-34h3m-3 19h3m-2 2h3m-3 3h3m-2-13h3m-3 2h3m-3 8h3m-2-12h3m-3 13h3m-3 3h3m-2-27h3m-3 12h3m-3 7h3m-3 5h3m-3 0h3m-2-22h3m-3 22h3m-3 1h3m-3 7h3m-1-24h3m-3 4h3m-3 4h3m-3 6h3m-2-14h3m-3 5h3m-3 1h3m-3 11h3m-2-13h3m-3 7h3m-2-12h3m-2 0h3m-3 9h3m-3 16h3m-1-30h3m-3 3h3m-3 8h3m-3 13h3m-2-21h3m-3 12h3m-2-6h3m-2-12h3m-3 6h3m-3 7h3m-2-12h3m-2-14h3m-3 14h3m-2-2h3m-3 2h3m-3 0h3m-3 6h3m-3 6h3m-3 9h3m-2-28h3m-3 2h3m-3 3h3m-2-4h3m-3 1h3m-3 0h3m-3 4h3m-3 1h3m-3 2h3m-3 3h3m-2-8h3m-3 0h3m-3 3h3m-2-3h3m-3 5h3m-2-13h3m-3 14h3m-2-9h3m-3 3h3m-3 6h3m-3 5h3m-2-17h3m-3 9h3m-3 5h3m-2-18h3m-3 6h3m-3 6h3m-2-6h3m-2-4h3m-3 1h3m-3 8h3m-2-4h3m-3 2h3m-3 3h3m-2-18h3m-2 9h3m-3 3h3m-2-19h3m-3 15h3m-2-7h3m-3 2h3m-3 7h3m-2-18h3m-2 18h3m-2-19h3m-3 11h3m-3 1h3m-3 2h3m-3 3h3m-3 0h3m-2-13h3m-3 1h3m-3 2h3m-3 0h3m-3 4h3m-3 1h3m-3 8h3m-3 3h3m-2-18h3m-3 7h3m-3 1h3m-3 1h3m-3 1h3m-3 0h3m-2-12h3m-3 6h3m-3 0h3m-3 2h3m-3 4h3m-3 1h3m-2-2h3m-2-10h3m-3 16h3m-2-11h3m-3 1h3m-3 1h3m-2-5h3m-3 1h3m-3 0h3m-3 2h3m-3 2h3m-3 1h3m-2-10h3m-3 6h3m-3 8h3m-3 9h3m-2-30h3m-3 5h3m-2 4h3m-3 3h3m-2-10h3m-3 7h3m-3 6h3m-2-11h3m-3 0h3m-3 6h3m-1 1h3m-2-14h3m-3 2h3m-3 2h3m-3 3h3m-3 5h3m-2-7h3m-3 4h3m-3 1h3m-3 3h3m-2-6h3m-2-4h3m-3 4h3m-3 0h3m-2-4h3m-3 2h3m-3 2h3m-2-3h3m-3 1h3m-3 1h3m0 1h3" stroke="#111" stroke-width="4.0" stroke-opacity="0.75"/>
<text x="13.5" y="299.6" font-size="4.9" text-anchor="middle" font-family='"Liberation Serif", serif' fill="#222">10<tspan font-size="3.6" dy="-2">0</tspan></text>
<text x="10.0" y="293.9" font-size="4.9" text-anchor="middle" font-family='"Liberation Serif", serif' fill="#222" transform="rotate(-90 10.0 293.9)">10<tspan font-size="3.6" dy="-2">0</tspan></text>
<text x="30.1" y="299.6" font-size="4.9" text-anchor="middle" font-family='"Liberation Serif", serif' fill="#222">10<tspan font-size="3.6" dy="-2">1</tspan></text>
<text x="10.0" y="278.5" font-size="4.9" text-anchor="middle" font-family='"Liberation Serif", serif' fill="#222" transform="rotate(-90 10.0 278.5)">10<tspan font-size="3.6" dy="-2">1</tspan></text>
<text x="46.7" y="299.6" font-size="4.9" text-anchor="middle" font-family='"Liberation Serif", serif' fill="#222">10<tspan font-size="3.6" dy="-2">2</tspan></text>
<text x="10.0" y="263.2" font-size="4.9" text-anchor="middle" font-family='"Liberation Serif", serif' fill="#222" transform="rotate(-90 10.0 263.2)">10<tspan font-size="3.6" dy="-2">2</tspan></text>
<text x="63.3" y="299.6" font-size="4.9" text-anchor="middle" font-family='"Liberation Serif", serif' fill="#222">10<tspan font-size="3.6" dy="-2">3</tspan></text>
<text x="10.0" y="247.8" font-size="4.9" text-anchor="middle" font-family='"Liberation Serif", serif' fill="#222" transform="rotate(-90 10.0 247.8)">10<tspan font-size="3.6" dy="-2">3</tspan></text>
<text x="79.9" y="299.6" font-size="4.9" text-anchor="middle" font-family='"Liberation Serif", serif' fill="#222">10<tspan font-size="3.6" dy="-2">4</tspan></text>
<text x="10.0" y="232.4" font-size="4.9" text-anchor="middle" font-family='"Liberation Serif", serif' fill="#222" transform="rotate(-90 10.0 232.4)">10<tspan font-size="3.6" dy="-2">4</tspan></text>
<text x="47.0" y="304.6" font-size="4.4" text-anchor="middle" fill="#111" textLength="32.5" lengthAdjust="spacingAndGlyphs">Mouse IgG1 FITC</text>
<text x="5.0" y="263.4" font-size="4.3" text-anchor="middle" fill="#222" transform="rotate(-90 5.0 263.4)">Mouse IgG1 PE</text>
<rect x="103.8" y="231.8" width="67.7" height="61.7" fill="none" stroke="#333" stroke-width="0.8"/>
<path d="M134.6 231.8L134.6 293.5" stroke="#333" stroke-width="0.8" fill="none"/>
<path d="M103.8 271.9L171.5 271.9" stroke="#333" stroke-width="0.8" fill="none"/>
<path d="M103.8 293.5V231.8M103.8 293.5H171.5" stroke="#222" stroke-width="0.9" stroke-dasharray="0.7 2.3" fill="none"/>
<radialGradient id="g177"><stop offset="0" stop-color="#111" stop-opacity="0.78"/><stop offset="0.6" stop-color="#111" stop-opacity="0.47"/><stop offset="1" stop-color="#111" stop-opacity="0"/></radialGradient>
<ellipse cx="128" cy="258.5" rx="11.25" ry="8.0" transform="rotate(-74.5 128 258.5)" fill="url(#g177)"/>
<radialGradient id="g179"><stop offset="0" stop-color="#111" stop-opacity="0.85"/><stop offset="0.6" stop-color="#111" stop-opacity="0.51"/><stop offset="1" stop-color="#111" stop-opacity="0"/></radialGradient>
<ellipse cx="138.8" cy="286.5" rx="5.6" ry="8.1" transform="rotate(0 138.8 286.5)" fill="url(#g179)"/>
<path transform="scale(0.2)" d="M536 1336h3m-1-70h3m1 82h3m-2 103h3m-1-99h3m-1 38h3m-2 45h3m0-113h3m-1 21h3m-2-63h3m-3 107h3m-2 30h3m-3 32h3m-1-105h3m0-43h3m-3 69h3m-2-8h3m-2-23h3m-2-31h3m-3 37h3m0-79h3m-2-12h3m-1 58h3m-3 68h3m-1-119h3m-3 140h3m-2-139h3m-3 30h3m-1 18h3m-3 36h3m-3 35h3m-2-68h3m-3 1h3m-2-68h3m-2 65h3m-3 49h3m-3 12h3m-1-53h3m-3 41h3m0-48h3m-3 65h3m-2-73h3m-2 2h3m-3 24h3m-2-55h3m-2-32h3m-3 73h3m-3 17h3m-2-29h3m-1 44h3m-3 26h3m-2-90h3m-3 1h3m-3 37h3m-3 4h3m-2-55h3m-3 79h3m-2-71h3m-2 79h3m-3 15h3m-3 7h3m-2-104h3m-3 169h3m-2-166h3m-3 19h3m-3 2h3m-3 3h3m-3 11h3m-3 3h3m-3 16h3m-3 18h3m-2-47h3m-3 38h3m-2-79h3m-3 14h3m-3 29h3m-3 32h3m-3 7h3m-3 1h3m-3 32h3m-2-91h3m-3 24h3m-3 29h3m-3 16h3m-2-62h3m-3 31h3m-3 18h3m-3 4h3m-2-68h3m-3 8h3m-3 6h3m-3 12h3m-3 19h3m-3 21h3m-3 8h3m-3 21h3m-3 70h3m-2-165h3m-3 9h3m-3 11h3m-3 27h3m-2-109h3m-3 24h3m-3 40h3m-3 11h3m-3 6h3m-3 25h3m-3 11h3m-2-90h3m-3 47h3m-3 6h3m-3 28h3m-3 49h3m-3 17h3m-2-116h3m-3 1h3m-3 22h3m-3 6h3m-3 17h3m-3 9h3m-3 40h3m-2-118h3m-3 14h3m-3 19h3m-3 53h3m-2-71h3m-3 7h3m-3 27h3m-3 3h3m-2-36h3m-3 15h3m-3 0h3m-3 9h3m-3 23h3m-3 1h3m-3 1h3m-3 13h3m-2-95h3m-3 80h3m-3 2h3m-3 2h3m-3 6h3m-2-94h3m-3 27h3m-3 0h3m-3 32h3m-3 2h3m-3 25h3m-3 26h3m-3 23h3m-2-104h3m-3 5h3m-3 37h3m-3 21h3m-3 13h3m-2-55h3m-3 16h3m-3 6h3m-3 24h3m-3 1h3m-3 6h3m-3 13h3m-3 13h3m-3 2h3m-2-127h3m-3 0h3m-3 40h3m-3 43h3m-3 15h3m-3 17h3m-3 1h3m-3 26h3m-2-119h3m-3 33h3m-3 1h3m-3 22h3m-3 15h3m-2-75h3m-3 31h3m-3 8h3m-3 7h3m-3 12h3m-3 2h3m-3 21h3m-3 36h3m-3 8h3m-2-118h3m-3 6h3m-3 1h3m-3 22h3m-3 1h3m-3 8h3m-3 26h3m-3 8h3m-3 2h3m-3 32h3m-2-108h3m-3 0h3m-3 5h3m-3 6h3m-3 9h3m-3 11h3m-3 3h3m-3 10h3m-3 1h3m-3 6h3m-3 1h3m-3 10h3m-3 18h3m-3 16h3m-3 13h3m-2-126h3m-3 13h3m-3 40h3m-3 12h3m-3 3h3m-3 46h3m-2-123h3m-3 50h3m-3 7h3m-3 15h3m-3 23h3m-3 0h3m-3 11h3m-3 0h3m-3 0h3m-3 6h3m-3 3h3m-2-105h3m-3 29h3m-3 11h3m-3 4h3m-3 7h3m-3 12h3m-3 5h3m-3 6h3m-3 0h3m-3 17h3m-2-122h3m-3 20h3m-3 30h3m-3 6h3m-3 9h3m-3 22h3m-3 9h3m-3 2h3m-3 13h3m-3 0h3m-3 24h3m-3 4h3m-3 18h3m-2-121h3m-3 12h3m-3 10h3m-3 25h3m-3 2h3m-3 12h3m-3 11h3m-3 7h3m-3 1h3m-3 11h3m-2-139h3m-3 49h3m-3 7h3m-3 21h3m-3 28h3m-3 8h3m-3 8h3m-3 5h3m-3 5h3m-3 25h3m-2-136h3m-3 33h3m-3 22h3m-3 0h3m-3 0h3m-3 3h3m-3 1h3m-3 3h3m-3 16h3m-3 0h3m-3 10h3m-3 21h3m-3 25h3m-2-72h3m-3 3h3m-3 13h3m-3 17h3m-3 1h3m-3 1h3m-3 13h3m-3 1h3m-3 30h3m-3 4h3m-3 4h3m-2-151h3m-3 6h3m-3 25h3m-3 7h3m-3 7h3m-3 23h3m-3 10h3m-3 11h3m-3 6h3m-3 17h3m-2-52h3m-3 1h3m-3 27h3m-3 4h3m-3 14h3m-3 0h3m-3 18h3m-3 19h3m-3 18h3m-2-132h3m-3 38h3m-3 3h3m-3 0h3m-3 4h3m-3 11h3m-3 4h3m-3 14h3m-3 10h3m-3 1h3m-3 1h3m-3 25h3m-3 8h3m-3 1h3m-2-133h3m-3 24h3m-3 17h3m-3 8h3m-3 5h3m-3 2h3m-3 10h3m-3 19h3m-3 13h3m-3 24h3m-3 1h3m-3 8h3m-2-118h3m-3 2h3m-3 0h3m-3 14h3m-3 3h3m-3 2h3m-3 8h3m-3 1h3m-3 27h3m-3 61h3m-3 2h3m-2-126h3m-3 16h3m-3 7h3m-3 15h3m-3 10h3m-3 4h3m-3 11h3m-3 7h3m-3 3h3m-3 5h3m-3 7h3m-3 0h3m-3 32h3m-2-111h3m-3 16h3m-3 21h3m-3 14h3m-3 6h3m-3 1h3m-3 8h3m-3 8h3m-3 24h3m-3 3h3m-2-105h3m-3 5h3m-3 6h3m-3 2h3m-3 12h3m-3 22h3m-3 11h3m-3 1h3m-3 5h3m-3 8h3m-3 11h3m-3 3h3m-3 11h3m-3 1h3m-3 1h3m-3 0h3m-3 10h3m-2-113h3m-3 14h3m-3 17h3m-3 6h3m-3 0h3m-3 9h3m-3 3h3m-3 3h3m-3 7h3m-3 4h3m-3 2h3m-3 3h3m-3 5h3m-3 13h3m-3 7h3m-3 7h3m-3 6h3m-3 16h3m-2-121h3m-3 1h3m-3 9h3m-3 1h3m-3 37h3m-3 8h3m-3 6h3m-3 15h3m-3 7h3m-3 21h3m-3 33h3m-2-150h3m-3 35h3m-3 8h3m-3 13h3m-3 6h3m-3 9h3m-3 6h3m-3 3h3m-3 15h3m-3 8h3m-3 9h3m-3 14h3m-2-113h3m-3 17h3m-3 11h3m-3 11h3m-3 10h3m-3 7h3m-3 0h3m-3 5h3m-3 28h3m-3 2h3m-3 1h3m-3 10h3m-3 2h3m-3 4h3m-3 11h3m-2-127h3m-3 19h3m-3 8h3m-3 19h3m-3 11h3m-3 13h3m-3 12h3m-3 4h3m-3 0h3m-3 3h3m-3 10h3m-3 13h3m-2-79h3m-3 10h3m-3 4h3m-3 1h3m-3 0h3m-3 3h3m-3 2h3m-3 0h3m-3 1h3m-3 11h3m-3 0h3m-3 9h3m-3 18h3m-3 8h3m-3 111h3m-2-217h3m-3 13h3m-3 23h3m-3 13h3m-3 21h3m-3 0h3m-3 13h3m-3 2h3m-3 12h3m-3 29h3m-3 6h3m-2-93h3m-3 30h3m-3 2h3m-3 3h3m-3 0h3m-3 4h3m-3 5h3m-3 6h3m-3 8h3m-3 6h3m-3 1h3m-3 1h3m-3 3h3m-3 16h3m-3 1h3m-3 26h3m-2-126h3m-3 37h3m-3 1h3m-3 4h3m-3 7h3m-3 31h3m-3 7h3m-2-119h3m-3 37h3m-3 6h3m-3 5h3m-3 18h3m-3 1h3m-3 39h3m-3 1h3m-3 5h3m-3 10h3m-3 3h3m-3 4h3m-3 0h3m-2-105h3m-3 1h3m-3 12h3m-3 3h3m-3 2h3m-3 12h3m-3 3h3m-3 12h3m-3 2h3m-3 9h3m-3 20h3m-3 0h3m-3 1h3m-3 2h3m-3 1h3m-3 22h3m-3 10h3m-3 8h3m-2-174h3m-3 14h3m-3 47h3m-3 5h3m-3 3h3m-3 5h3m-3 19h3m-3 1h3m-3 5h3m-3 6h3m-3 3h3m-3 2h3m-3 2h3m-3 8h3m-3 6h3m-3 6h3m-3 6h3m-3 4h3m-3 14h3m-3 8h3m-3 5h3m-2-126h3m-3 17h3m-3 5h3m-3 34h3m-3 21h3m-3 86h3m-2-152h3m-3 22h3m-3 1h3m-3 2h3m-3 3h3m-3 13h3m-3 3h3m-3 11h3m-3 6h3m-3 17h3m-3 15h3m-3 1h3m-3 2h3m-3 10h3m-3 8h3m-2-100h3m-3 26h3m-3 3h3m-3 3h3m-3 25h3m-3 4h3m-3 5h3m-3 8h3m-3 1h3m-3 11h3m-3 24h3m-2-128h3m-3 1h3m-3 6h3m-3 21h3m-3 15h3m-3 5h3m-3 17h3m-3 3h3m-3 1h3m-3 3h3m-3 1h3m-3 15h3m-3 1h3m-3 27h3m-3 6h3m-3 17h3m-3 5h3m-3 22h3m-2-164h3m-3 13h3m-3 2h3m-3 3h3m-3 7h3m-3 32h3m-3 5h3m-3 11h3m-3 9h3m-3 0h3m-3 7h3m-3 22h3m-3 4h3m-3 6h3m-3 1h3m-3 2h3m-2-132h3m-3 12h3m-3 7h3m-3 7h3m-3 0h3m-3 9h3m-3 35h3m-3 7h3m-3 2h3m-3 8h3m-3 4h3m-3 7h3m-3 6h3m-3 2h3m-3 5h3m-3 13h3m-3 6h3m-3 2h3m-3 6h3m-2-144h3m-3 16h3m-3 23h3m-3 6h3m-3 5h3m-3 2h3m-3 8h3m-3 21h3m-3 8h3m-3 16h3m-3 6h3m-3 2h3m-3 2h3m-3 5h3m-3 0h3m-3 19h3m-3 29h3m-2-149h3m-3 12h3m-3 5h3m-3 10h3m-3 5h3m-3 2h3m-3 9h3m-3 7h3m-3 4h3m-3 7h3m-3 6h3m-3 7h3m-3 19h3m-3 14h3m-3 6h3m-3 4h3m-2-140h3m-3 24h3m-3 3h3m-3 4h3m-3 11h3m-3 8h3m-3 1h3m-3 10h3m-3 1h3m-3 12h3m-3 5h3m-3 4h3m-3 14h3m-3 19h3m-3 5h3m-3 9h3m-3 8h3m-3 2h3m-3 64h3m-2-191h3m-3 46h3m-3 0h3m-3 1h3m-3 2h3m-3 1h3m-3 25h3m-3 9h3m-3 3h3m-3 6h3m-3 8h3m-2-107h3m-3 42h3m-3 11h3m-3 3h3m-3 23h3m-3 1h3m-3 3h3m-3 4h3m-3 1h3m-3 2h3m-3 2h3m-3 7h3m-3 8h3m-3 53h3m-2-206h3m-3 56h3m-3 6h3m-3 24h3m-3 4h3m-3 7h3m-3 36h3m-3 12h3m-3 6h3m-3 2h3m-3 32h3m-3 29h3m-2-175h3m-3 43h3m-3 3h3m-3 16h3m-3 1h3m-3 13h3m-3 14h3m-3 2h3m-3 7h3m-3 28h3m-3 2h3m-3 25h3m-3 12h3m-2-123h3m-3 23h3m-3 2h3m-3 6h3m-3 8h3m-3 10h3m-3 6h3m-3 10h3m-3 3h3m-3 17h3m-3 2h3m-3 1h3m-2-132h3m-3 14h3m-3 49h3m-3 6h3m-3 12h3m-3 3h3m-3 15h3m-3 6h3m-3 0h3m-3 2h3m-3 35h3m-3 5h3m-3 2h3m-2-155h3m-3 33h3m-3 7h3m-3 22h3m-3 8h3m-3 13h3m-3 10h3m-3 2h3m-3 10h3m-3 1h3m-3 11h3m-3 0h3m-3 7h3m-3 59h3m-3 5h3m-2-145h3m-3 6h3m-3 2h3m-3 30h3m-3 5h3m-3 3h3m-3 14h3m-3 1h3m-3 1h3m-3 6h3m-3 25h3m-3 24h3m-3 33h3m-2-179h3m-3 5h3m-3 29h3m-3 18h3m-3 7h3m-3 33h3m-3 7h3m-3 3h3m-3 16h3m-3 5h3m-3 1h3m-3 12h3m-3 34h3m-2-160h3m-3 12h3m-3 7h3m-3 5h3m-3 3h3m-3 14h3m-3 1h3m-3 21h3m-3 6h3m-3 2h3m-3 16h3m-3 113h3m-2-240h3m-3 17h3m-3 42h3m-3 1h3m-3 1h3m-3 5h3m-3 2h3m-3 1h3m-3 4h3m-3 9h3m-3 27h3m-3 13h3m-3 9h3m-3 5h3m-2-119h3m-3 38h3m-3 44h3m-3 1h3m-3 22h3m-3 20h3m-3 5h3m-3 16h3m-3 20h3m-3 47h3m-2-226h3m-3 7h3m-3 47h3m-3 23h3m-3 29h3m-3 2h3m-3 0h3m-3 18h3m-3 15h3m-3 3h3m-3 62h3m-3 28h3m-2-190h3m-3 0h3m-3 17h3m-3 2h3m-3 26h3m-3 1h3m-3 8h3m-3 9h3m-3 22h3m-3 36h3m-3 25h3m-3 21h3m-3 13h3m-2-169h3m-3 3h3m-3 4h3m-3 16h3m-3 14h3m-3 6h3m-3 21h3m-3 11h3m-3 5h3m-3 2h3m-3 13h3m-3 40h3m-3 11h3m-3 29h3m-2-198h3m-3 12h3m-3 11h3m-3 7h3m-3 7h3m-3 14h3m-3 13h3m-3 10h3m-3 23h3m-3 19h3m-3 1h3m-3 16h3m-3 53h3m-3 38h3m-2-213h3m-3 33h3m-3 14h3m-3 2h3m-3 61h3m-3 15h3m-3 25h3m-3 6h3m-3 19h3m-3 22h3m-3 4h3m-2-270h3m-3 71h3m-3 3h3m-3 29h3m-3 9h3m-3 17h3m-3 1h3m-3 8h3m-3 15h3m-3 23h3m-3 2h3m-3 26h3m-3 27h3m-3 5h3m-3 4h3m-3 13h3m-3 17h3m-3 5h3m-2-243h3m-3 4h3m-3 21h3m-3 15h3m-3 4h3m-3 20h3m-3 3h3m-3 14h3m-3 0h3m-3 2h3m-3 42h3m-3 0h3m-3 12h3m-3 65h3m-2-178h3m-3 42h3m-3 16h3m-3 9h3m-3 3h3m-3 5h3m-3 7h3m-3 2h3m-3 8h3m-3 5h3m-3 5h3m-3 33h3m-3 20h3m-3 29h3m-3 3h3m-3 8h3m-3 0h3m-3 14h3m-2-208h3m-3 4h3m-3 13h3m-3 32h3m-3 30h3m-3 5h3m-3 5h3m-3 10h3m-3 17h3m-3 2h3m-3 15h3m-3 14h3m-3 7h3m-3 3h3m-3 5h3m-3 3h3m-3 12h3m-2-115h3m-3 13h3m-3 8h3m-3 7h3m-3 15h3m-3 7h3m-3 10h3m-3 27h3m-3 7h3m-3 7h3m-3 5h3m-3 4h3m-3 15h3m-3 5h3m-3 18h3m-2-201h3m-3 20h3m-3 44h3m-3 13h3m-3 13h3m-3 2h3m-3 11h3m-3 22h3m-3 18h3m-3 18h3m-3 1h3m-3 9h3m-3 16h3m-3 7h3m-2-217h3m-3 72h3m-3 30h3m-3 44h3m-3 25h3m-3 15h3m-3 22h3m-3 0h3m-3 7h3m-3 2h3m-3 0h3m-3 2h3m-3 8h3m-3 3h3m-2-222h3m-3 47h3m-3 3h3m-3 8h3m-3 6h3m-3 29h3m-3 31h3m-3 47h3m-3 19h3m-3 0h3m-3 11h3m-3 5h3m-3 4h3m-3 3h3m-2-182h3m-3 20h3m-3 3h3m-3 35h3m-3 7h3m-3 2h3m-3 0h3m-3 7h3m-3 5h3m-3 8h3m-3 55h3m-3 3h3m-3 1h3m-3 1h3m-3 9h3m-3 2h3m-3 0h3m-3 0h3m-3 2h3m-3 1h3m-3 1h3m-3 6h3m-3 1h3m-3 6h3m-3 6h3m-3 7h3m-3 1h3m-2-197h3m-3 3h3m-3 21h3m-3 25h3m-3 42h3m-3 10h3m-3 0h3m-3 58h3m-3 2h3m-3 10h3m-3 10h3m-3 12h3m-2-234h3m-3 47h3m-3 28h3m-3 52h3m-3 38h3m-3 1h3m-3 3h3m-3 33h3m-3 3h3m-3 3h3m-3 4h3m-3 1h3m-3 1h3m-3 9h3m-3 0h3m-3 4h3m-3 2h3m-3 11h3m-2-212h3m-3 21h3m-3 10h3m-3 110h3m-3 28h3m-3 5h3m-3 1h3m-3 2h3m-3 2h3m-3 1h3m-3 1h3m-3 2h3m-3 8h3m-3 1h3m-3 5h3m-3 5h3m-3 3h3m-3 2h3m-3 1h3m-2-197h3m-3 16h3m-3 15h3m-3 82h3m-3 50h3m-3 4h3m-3 6h3m-3 5h3m-3 9h3m-3 6h3m-3 9h3m-3 3h3m-2-180h3m-3 3h3m-3 12h3m-3 3h3m-3 3h3m-3 80h3m-3 14h3m-3 0h3m-3 11h3m-3 15h3m-3 13h3m-3 5h3m-3 4h3m-3 2h3m-3 1h3m-3 1h3m-3 5h3m-3 4h3m-2-202h3m-3 19h3m-3 121h3m-3 2h3m-3 1h3m-3 4h3m-3 9h3m-3 4h3m-3 16h3m-3 3h3m-3 1h3m-3 9h3m-3 0h3m-3 8h3m-3 2h3m-3 8h3m-2-174h3m-3 10h3m-3 32h3m-3 38h3m-3 13h3m-3 1h3m-3 8h3m-3 1h3m-3 11h3m-3 1h3m-3 12h3m-3 3h3m-3 1h3m-3 14h3m-3 3h3m-3 3h3m-3 8h3m-2-170h3m-3 57h3m-3 50h3m-3 6h3m-3 8h3m-3 2h3m-3 3h3m-3 21h3m-3 3h3m-3 5h3m-3 1h3m-3 4h3m-3 6h3m-3 3h3m-3 1h3m-2-209h3m-3 109h3m-3 16h3m-3 1h3m-3 21h3m-3 9h3m-3 6h3m-3 4h3m-3 2h3m-3 5h3m-3 4h3m-3 0h3m-3 1h3m-3 1h3m-3 9h3m-3 1h3m-3 3h3m-3 2h3m-3 4h3m-3 0h3m-3 12h3m-3 6h3m-3 4h3m-2-143h3m-3 51h3m-3 10h3m-3 9h3m-3 2h3m-3 3h3m-3 12h3m-3 7h3m-3 2h3m-3 2h3m-3 3h3m-3 1h3m-3 3h3m-3 1h3m-3 0h3m-3 2h3m-3 0h3m-3 1h3m-3 0h3m-3 2h3m-3 1h3m-3 18h3m-3 6h3m-3 3h3m-3 5h3m-3 3h3m-2-191h3m-3 26h3m-3 19h3m-3 32h3m-3 31h3m-3 7h3m-3 8h3m-3 1h3m-3 4h3m-3 1h3m-3 1h3m-3 7h3m-3 3h3m-3 2h3m-3 8h3m-3 3h3m-3 3h3m-3 0h3m-3 4h3m-3 1h3m-3 6h3m-3 0h3m-3 1h3m-3 2h3m-3 2h3m-3 8h3m-3 14h3m-2-160h3m-3 25h3m-3 60h3m-3 1h3m-3 6h3m-3 9h3m-3 5h3m-3 12h3m-3 5h3m-3 1h3m-3 17h3m-3 8h3m-3 10h3m-2-241h3m-3 5h3m-3 121h3m-3 10h3m-3 19h3m-3 17h3m-3 11h3m-3 5h3m-3 2h3m-3 3h3m-3 1h3m-3 7h3m-3 2h3m-3 0h3m-3 3h3m-3 0h3m-3 5h3m-3 0h3m-3 3h3m-3 4h3m-3 3h3m-3 1h3m-3 7h3m-3 7h3m-3 7h3m-2-206h3m-3 56h3m-3 57h3m-3 2h3m-3 12h3m-3 7h3m-3 6h3m-3 1h3m-3 12h3m-3 2h3m-3 1h3m-3 5h3m-3 0h3m-3 4h3m-3 3h3m-3 3h3m-3 12h3m-3 1h3m-3 0h3m-3 1h3m-3 3h3m-3 10h3m-3 5h3m-2-213h3m-3 28h3m-3 5h3m-3 32h3m-3 47h3m-3 28h3m-3 3h3m-3 7h3m-3 2h3m-3 3h3m-3 5h3m-3 0h3m-3 2h3m-3 3h3m-3 9h3m-3 2h3m-3 0h3m-3 11h3m-3 15h3m-3 1h3m-3 4h3m-3 2h3m-3 0h3m-3 8h3m-3 0h3m-2-175h3m-3 110h3m-3 7h3m-3 1h3m-3 2h3m-3 0h3m-3 1h3m-3 0h3m-3 1h3m-3 1h3m-3 10h3m-3 1h3m-3 6h3m-3 3h3m-3 2h3m-3 5h3m-3 9h3m-3 8h3m-2-158h3m-3 5h3m-3 22h3m-3 62h3m-3 29h3m-3 6h3m-3 4h3m-3 5h3m-3 12h3m-3 7h3m-2-188h3m-3 23h3m-3 96h3m-3 5h3m-3 6h3m-3 3h3m-3 2h3m-3 2h3m-3 3h3m-3 6h3m-3 2h3m-3 2h3m-3 3h3m-3 2h3m-3 0h3m-3 3h3m-3 2h3m-3 1h3m-3 1h3m-3 1h3m-3 0h3m-3 1h3m-3 2h3m-3 4h3m-3 2h3m-3 14h3m-3 2h3m-3 9h3m-2-260h3m-3 187h3m-3 16h3m-3 3h3m-3 3h3m-3 6h3m-3 2h3m-3 4h3m-3 7h3m-3 2h3m-3 7h3m-3 4h3m-3 1h3m-3 3h3m-3 0h3m-3 13h3m-2-123h3m-3 60h3m-3 3h3m-3 3h3m-3 4h3m-3 0h3m-3 1h3m-3 9h3m-3 1h3m-3 4h3m-3 3h3m-3 3h3m-3 5h3m-3 0h3m-3 4h3m-3 1h3m-3 3h3m-3 4h3m-3 8h3m-2-176h3m-3 124h3m-3 0h3m-3 12h3m-3 5h3m-3 3h3m-3 5h3m-3 8h3m-3 1h3m-3 1h3m-3 0h3m-3 9h3m-3 4h3m-2-62h3m-3 8h3m-3 7h3m-3 1h3m-3 3h3m-3 14h3m-3 4h3m-3 7h3m-3 5h3m-3 3h3m-3 10h3m-3 2h3m-2-178h3m-3 18h3m-3 90h3m-3 13h3m-3 4h3m-3 1h3m-3 20h3m-3 14h3m-3 2h3m-3 5h3m-3 2h3m-3 0h3m-3 8h3m-3 3h3m-3 7h3m-3 1h3m-2-93h3m-3 35h3m-3 11h3m-3 6h3m-3 4h3m-3 0h3m-3 1h3m-3 0h3m-3 8h3m-3 14h3m-3 3h3m-3 3h3m-3 11h3m-2-194h3m-3 94h3m-3 16h3m-3 13h3m-3 7h3m-3 8h3m-3 2h3m-3 1h3m-3 2h3m-3 1h3m-3 6h3m-3 3h3m-3 5h3m-3 4h3m-3 2h3m-3 4h3m-2-176h3m-3 35h3m-3 79h3m-3 8h3m-3 29h3m-3 3h3m-3 9h3m-3 7h3m-3 5h3m-3 5h3m-3 4h3m-3 6h3m-3 1h3m-2-68h3m-3 10h3m-3 4h3m-3 11h3m-3 3h3m-3 1h3m-3 7h3m-3 10h3m-3 1h3m-3 0h3m-3 7h3m-3 11h3m-2-163h3m-3 74h3m-3 12h3m-3 2h3m-3 18h3m-3 1h3m-3 2h3m-3 10h3m-3 5h3m-3 18h3m-3 5h3m-3 18h3m-3 0h3m-3 0h3m-3 0h3m-3 3h3m-2-195h3m-3 117h3m-3 8h3m-3 23h3m-3 1h3m-3 12h3m-3 17h3m-3 2h3m-3 5h3m-3 2h3m-2-88h3m-3 22h3m-3 23h3m-3 15h3m-3 4h3m-3 3h3m-3 5h3m-3 0h3m-3 8h3m-3 8h3m-2-82h3m-3 13h3m-3 11h3m-3 4h3m-3 13h3m-3 9h3m-3 1h3m-3 3h3m-3 10h3m-3 0h3m-3 5h3m-3 6h3m-3 1h3m-3 9h3m-3 7h3m-2-88h3m-3 7h3m-3 23h3m-3 3h3m-3 24h3m-3 10h3m-3 9h3m-2-73h3m-3 12h3m-3 2h3m-3 21h3m-3 5h3m-3 9h3m-3 20h3m-3 5h3m-2-50h3m-3 2h3m-3 5h3m-3 2h3m-3 12h3m-3 9h3m-3 1h3m-3 4h3m-3 5h3m-2-73h3m-3 14h3m-3 40h3m-3 3h3m-3 0h3m-3 4h3m-3 1h3m-3 6h3m-3 0h3m-3 1h3m-3 5h3m-3 3h3m-3 4h3m-2-54h3m-3 8h3m-3 6h3m-3 5h3m-3 4h3m-3 9h3m-3 2h3m-3 5h3m-3 11h3m-2-68h3m-3 24h3m-3 4h3m-3 17h3m-3 19h3m-2-186h3m-3 122h3m-3 3h3m-3 8h3m-3 7h3m-3 26h3m-3 21h3m-3 25h3m-3 2h3m-2-168h3m-3 62h3m-3 10h3m-3 39h3m-3 3h3m-3 1h3m-3 11h3m-3 4h3m-3 7h3m-2-136h3m-3 133h3m-3 3h3m-3 5h3m-3 12h3m-2-133h3m-3 79h3m-3 19h3m-3 8h3m-3 13h3m-3 2h3m-3 23h3m-2-84h3m-3 25h3m-3 4h3m-3 28h3m-3 8h3m-3 15h3m-2-57h3m-3 8h3m-3 1h3m-3 1h3m-3 7h3m-2-33h3m-2 2h3m-3 17h3m-2-39h3m-3 10h3m-3 14h3m-3 5h3m-3 20h3m-2 34h3m-2-189h3m-3 127h3m-2-120h3m-3 131h3m-3 5h3m-3 16h3m-2-12h3m-3 37h3m-2-74h3m-3 22h3m-3 8h3m-3 7h3m-2-101h3m-3 69h3m-3 12h3m-2 31h3m-3 10h3m-3 13h3m-2-36h3m-2-26h3m-2 2h3m-2-15h3m-3 44h3m-2-6h3m-3 3h3m-2-48h3m-2 44h3m-2-113h3m-2-39h3m-3 97h3m-3 81h3m-2-87h3m-2 81h3m1-34h3m-1-20h3m-1 46h3m-2-4h3m1-25h3m-3 41h3m-2-100h3m-3 72h3m-2-38h3m-1 51h3m-3 43h3m-2-80h3m-3 68h3m1-46h3m3 32h3m-1-88h3m0-22h3m-2-15h3m3 110h3m1-30h3m-2-100h3m-3 42h3m-3 42h3m0 31h3m-2 44h3m3-173h3m2 186h3m2-107h3m-2-54h3m-2-27h3m-2 77h3" stroke="#111" stroke-width="4.0" stroke-opacity="0.85"/>
<text x="103.5" y="299.5" font-size="4.9" text-anchor="middle" font-family='"Liberation Serif", serif' fill="#222">10<tspan font-size="3.6" dy="-2">0</tspan></text>
<text x="100.0" y="293.8" font-size="4.9" text-anchor="middle" font-family='"Liberation Serif", serif' fill="#222" transform="rotate(-90 100.0 293.8)">10<tspan font-size="3.6" dy="-2">0</tspan></text>
<text x="120.4" y="299.5" font-size="4.9" text-anchor="middle" font-family='"Liberation Serif", serif' fill="#222">10<tspan font-size="3.6" dy="-2">1</tspan></text>
<text x="100.0" y="278.4" font-size="4.9" text-anchor="middle" font-family='"Liberation Serif", serif' fill="#222" transform="rotate(-90 100.0 278.4)">10<tspan font-size="3.6" dy="-2">1</tspan></text>
<text x="137.3" y="299.5" font-size="4.9" text-anchor="middle" font-family='"Liberation Serif", serif' fill="#222">10<tspan font-size="3.6" dy="-2">2</tspan></text>
<text x="100.0" y="262.9" font-size="4.9" text-anchor="middle" font-family='"Liberation Serif", serif' fill="#222" transform="rotate(-90 100.0 262.9)">10<tspan font-size="3.6" dy="-2">2</tspan></text>
<text x="154.3" y="299.5" font-size="4.9" text-anchor="middle" font-family='"Liberation Serif", serif' fill="#222">10<tspan font-size="3.6" dy="-2">3</tspan></text>
<text x="100.0" y="247.5" font-size="4.9" text-anchor="middle" font-family='"Liberation Serif", serif' fill="#222" transform="rotate(-90 100.0 247.5)">10<tspan font-size="3.6" dy="-2">3</tspan></text>
<text x="171.2" y="299.5" font-size="4.9" text-anchor="middle" font-family='"Liberation Serif", serif' fill="#222">10<tspan font-size="3.6" dy="-2">4</tspan></text>
<text x="100.0" y="232.1" font-size="4.9" text-anchor="middle" font-family='"Liberation Serif", serif' fill="#222" transform="rotate(-90 100.0 232.1)">10<tspan font-size="3.6" dy="-2">4</tspan></text>
<text x="137.7" y="304.5" font-size="4.4" text-anchor="middle" fill="#111" textLength="18.5" lengthAdjust="spacingAndGlyphs">CD3 FITC</text>
<text x="95.0" y="263.1" font-size="4.3" text-anchor="middle" fill="#222" transform="rotate(-90 95.0 263.1)">Annexin-V PE</text>
<text x="117.8" y="242.0" font-size="6.6" text-anchor="middle" font-family='"Liberation Serif", serif' fill="#111">38.51%</text>
<text x="161.2" y="242.0" font-size="6.6" text-anchor="middle" font-family='"Liberation Serif", serif' fill="#111">4.64%</text>
<text x="114.8" y="280.0" font-size="6.6" text-anchor="middle" font-family='"Liberation Serif", serif' fill="#111">7.55%</text>
<text x="161.8" y="280.0" font-size="6.6" text-anchor="middle" font-family='"Liberation Serif", serif' fill="#111">49%</text>
<rect x="206" y="232.5" width="66.2" height="60.7" fill="none" stroke="#333" stroke-width="0.8"/>
<path d="M235.8 232.5L235.8 293.2" stroke="#333" stroke-width="0.8" fill="none"/>
<path d="M206.0 272.0L272.2 272.0" stroke="#333" stroke-width="0.8" fill="none"/>
<path d="M206.0 293.2V232.5M206.0 293.2H272.2" stroke="#222" stroke-width="0.9" stroke-dasharray="0.7 2.3" fill="none"/>
<path d="M235.5 264.0L206.5 287.2L206.5 292.7L214.5 292.7z" fill="#222" fill-opacity="0.68"/>
<radialGradient id="g203"><stop offset="0" stop-color="#111" stop-opacity="0.95"/><stop offset="0.6" stop-color="#111" stop-opacity="0.57"/><stop offset="1" stop-color="#111" stop-opacity="0"/></radialGradient>
<ellipse cx="210.5" cy="288.7" rx="6.5" ry="6" transform="rotate(0 210.5 288.7)" fill="url(#g203)"/>
<path transform="scale(0.2)" d="M1033 1402h3m-3 21h3m-2-8h3m-3 1h3m-3 10h3m-3 26h3m-2-35h3m-3 6h3m-3 2h3m-3 15h3m-3 1h3m-3 6h3m-2-15h3m-3 12h3m-3 2h3m-3 8h3m-3 6h3m-3 2h3m-2-47h3m-3 11h3m-3 17h3m-3 7h3m-3 6h3m-3 1h3m-2-33h3m-3 9h3m-3 8h3m-3 6h3m-2-23h3m-3 13h3m-3 16h3m-3 5h3m-3 1h3m-2-40h3m-3 17h3m-3 4h3m-3 2h3m-3 0h3m-3 1h3m-3 11h3m-2-17h3m-3 5h3m-3 5h3m-3 3h3m-3 0h3m-3 2h3m-3 1h3m-3 9h3m-2-43h3m-3 4h3m-3 1h3m-3 1h3m-3 11h3m-3 8h3m-3 12h3m-3 1h3m-3 5h3m-2-28h3m-3 5h3m-3 0h3m-3 2h3m-3 4h3m-3 0h3m-3 10h3m-2-34h3m-3 1h3m-3 7h3m-3 7h3m-3 1h3m-3 5h3m-3 4h3m-3 1h3m-3 5h3m-3 1h3m-3 6h3m-2-32h3m-3 2h3m-3 0h3m-3 1h3m-3 8h3m-3 1h3m-3 2h3m-3 0h3m-3 0h3m-3 3h3m-3 1h3m-3 6h3m-3 4h3m-2-39h3m-3 17h3m-3 4h3m-3 13h3m-3 3h3m-3 3h3m-2-28h3m-3 5h3m-3 3h3m-3 1h3m-3 0h3m-3 5h3m-3 2h3m-3 6h3m-3 3h3m-3 3h3m-3 1h3m-3 1h3m-2-42h3m-3 5h3m-3 1h3m-3 3h3m-3 7h3m-3 7h3m-3 0h3m-3 10h3m-3 10h3m-3 2h3m-3 1h3m-2-43h3m-3 16h3m-3 10h3m-3 1h3m-3 1h3m-3 0h3m-3 6h3m-3 3h3m-3 2h3m-2-28h3m-3 10h3m-3 0h3m-3 2h3m-3 5h3m-3 4h3m-3 1h3m-3 1h3m-2-46h3m-3 17h3m-3 12h3m-3 5h3m-3 9h3m-3 2h3m-3 1h3m-3 0h3m-3 2h3m-3 0h3m-3 1h3m-3 1h3m-3 1h3m-2-50h3m-3 21h3m-3 6h3m-3 5h3m-3 4h3m-3 2h3m-3 0h3m-3 1h3m-3 2h3m-3 5h3m-3 5h3m-3 3h3m-3 1h3m-2-38h3m-3 5h3m-3 4h3m-3 1h3m-3 5h3m-2-9h3m-3 2h3m-3 1h3m-3 3h3m-3 1h3m-3 9h3m-3 12h3m-2-40h3m-3 6h3m-3 3h3m-3 0h3m-3 6h3m-3 3h3m-3 5h3m-3 3h3m-3 4h3m-3 5h3m-3 0h3m-2-31h3m-3 2h3m-3 1h3m-3 14h3m-3 9h3m-3 2h3m-3 4h3m-3 5h3m-3 2h3m-2-45h3m-3 0h3m-3 4h3m-3 9h3m-3 3h3m-3 1h3m-3 1h3m-3 1h3m-3 2h3m-3 1h3m-3 3h3m-3 2h3m-3 1h3m-3 0h3m-3 0h3m-3 0h3m-3 1h3m-3 1h3m-3 3h3m-2-46h3m-3 20h3m-3 0h3m-3 2h3m-3 1h3m-3 8h3m-3 3h3m-3 4h3m-3 2h3m-3 10h3m-3 8h3m-2-34h3m-3 3h3m-3 1h3m-3 4h3m-3 6h3m-3 1h3m-3 6h3m-3 5h3m-3 9h3m-2-42h3m-3 1h3m-3 3h3m-3 1h3m-3 5h3m-3 2h3m-3 9h3m-3 8h3m-3 5h3m-2-27h3m-3 0h3m-3 8h3m-3 2h3m-3 1h3m-3 2h3m-3 1h3m-3 3h3m-3 9h3m-3 1h3m-2-39h3m-3 3h3m-3 18h3m-3 2h3m-3 1h3m-3 0h3m-3 1h3m-3 3h3m-3 1h3m-3 6h3m-2-30h3m-3 7h3m-3 2h3m-3 3h3m-3 8h3m-3 8h3m-2-19h3m-3 6h3m-3 4h3m-3 1h3m-3 1h3m-3 3h3m-3 6h3m-3 9h3m-3 1h3m-2-40h3m-3 2h3m-3 7h3m-3 15h3m-3 4h3m-3 4h3m-2-34h3m-3 3h3m-3 3h3m-3 3h3m-3 5h3m-3 6h3m-3 0h3m-3 8h3m-3 4h3m-3 7h3m-2-28h3m-3 1h3m-3 1h3m-3 6h3m-3 2h3m-3 20h3m-2-38h3m-3 1h3m-3 1h3m-3 1h3m-3 14h3m-3 18h3m-2-51h3m-3 20h3m-3 2h3m-3 2h3m-3 8h3m-3 2h3m-3 0h3m-3 7h3m-3 6h3m-3 1h3m-3 6h3m-3 3h3m-2-56h3m-3 6h3m-3 5h3m-3 3h3m-3 6h3m-3 1h3m-3 0h3m-3 4h3m-3 25h3m-2-36h3m-3 3h3m-3 3h3m-3 2h3m-3 8h3m-3 13h3m-2-36h3m-3 2h3m-3 2h3m-3 13h3m-3 1h3m-3 3h3m-3 8h3m-3 7h3m-3 2h3m-2-32h3m-3 2h3m-3 6h3m-2-35h3m-3 15h3m-3 17h3m-3 11h3m-3 10h3m-3 4h3m-3 7h3m-2-64h3m-3 20h3m-3 27h3m-3 1h3m-3 4h3m-3 2h3m-3 1h3m-3 4h3m-3 4h3m-2-41h3m-3 10h3m-3 8h3m-3 23h3m-3 4h3m-2-43h3m-3 17h3m-3 3h3m-3 1h3m-3 4h3m-3 5h3m-2-32h3m-3 6h3m-3 3h3m-3 2h3m-3 8h3m-3 12h3m-3 1h3m-3 5h3m-3 0h3m-2-60h3m-3 17h3m-3 7h3m-3 2h3m-3 3h3m-3 4h3m-3 1h3m-3 5h3m-3 8h3m-3 6h3m-2-28h3m-3 5h3m-3 4h3m-3 1h3m-3 6h3m-3 6h3m-3 6h3m-2-4h3m-2 0h3m-2-14h3m-3 3h3m-2-31h3m-3 9h3m-3 1h3m-3 9h3m-3 6h3m-3 3h3m-2-22h3m-3 6h3m-3 5h3m-3 1h3m-3 4h3m-3 1h3m-3 4h3m-3 0h3m-2-25h3m-3 4h3m-3 5h3m-3 9h3m-3 5h3m-3 24h3m-2-34h3m-3 10h3m-3 6h3m-2-27h3m-3 20h3m-3 1h3m-2-19h3m-3 4h3m-2-27h3m-3 27h3m-3 4h3m-3 10h3m-2-26h3m-3 44h3m-2-68h3m-3 15h3m-3 6h3m-3 3h3m-3 8h3m-3 8h3m-3 31h3m-3 4h3m-3 6h3m-3 6h3m-2-63h3m-3 4h3m-3 2h3m-3 10h3m-3 2h3m-3 7h3m-3 0h3m-2-30h3m-3 2h3m-3 5h3m-3 4h3m-3 18h3m-2-23h3m-3 0h3m-2-7h3m-3 8h3m-3 3h3m-3 1h3m-2-22h3m-3 11h3m-3 1h3m-3 10h3m-3 3h3m-3 6h3m-2-20h3m-3 5h3m-3 4h3m-3 1h3m-2-22h3m-3 7h3m-3 7h3m-3 1h3m-3 59h3m-2-69h3m-3 8h3m-3 1h3m-3 0h3m-3 3h3m-3 7h3m-3 4h3m-3 6h3m-2-26h3m-3 4h3m-3 8h3m-3 5h3m-3 1h3m-3 15h3m-2-46h3m-3 10h3m-3 7h3m-3 1h3m-2-18h3m-3 8h3m-3 8h3m-3 17h3m-2-20h3m-3 10h3m-3 4h3m-3 9h3m-2-26h3m-3 6h3m-3 1h3m-3 0h3m-3 1h3m-2 0h3m-3 17h3m-2-31h3m-3 10h3m-3 2h3m-3 5h3m-2-3h3m-3 4h3m-3 0h3m-3 1h3m-3 43h3m-2-74h3m-3 8h3m-3 18h3m-2-16h3m-3 18h3m-2-23h3m-3 17h3m-2-16h3m-3 3h3m-3 2h3m-3 10h3m-3 7h3m-3 9h3m-2-43h3m-3 15h3m-3 1h3m-3 7h3m-2-6h3m-3 13h3m-2-23h3m-2 7h3m-3 4h3m-3 2h3m-3 7h3m-2-14h3m-3 5h3m-2-5h3m-3 7h3m-3 1h3m-3 2h3m-3 4h3m-3 14h3m-2-27h3m-3 4h3m-3 5h3m-3 7h3m-3 2h3m-2-16h3m-2-9h3m-3 1h3m-3 6h3m-2-10h3m-3 6h3m-3 9h3m-2 1h3m-2-19h3m-3 17h3m-3 1h3m-3 3h3m-2-13h3m-3 1h3m-3 2h3m-3 2h3m-3 2h3m-2 1h3m-2-13h3m-2 7h3m-1-10h3m-2-1h3m-3 6h3m-3 6h3m-3 4h3m-2-20h3m-3 1h3m-3 7h3m-2-8h3m-3 7h3m-3 8h3m-2-10h3m-3 1h3m-3 2h3m-3 5h3m-2-5h3m-3 4h3m-3 2h3m-1-22h3m-3 2h3m-3 7h3m-3 8h3m-3 3h3m-2-19h3m-3 8h3m-3 1h3m-2-8h3m-3 0h3m-3 5h3m-3 17h3m-2-25h3m-3 7h3m-3 3h3m-2-10h3m-3 6h3m-3 2h3m-3 3h3m-3 14h3m-2-18h3m-3 4h3m-3 4h3m-2-22h3m-3 13h3m-3 2h3m-3 2h3m-3 15h3m-2-30h3m-3 6h3m-3 0h3m-3 7h3m-3 5h3m-2-17h3m-3 12h3m-2-11h3m-3 6h3m-2-2h3m-3 4h3m-3 2h3m-2-15h3m-2-1h3m-3 6h3m-3 3h3m-3 2h3m-3 0h3m-3 3h3m-2-12h3m-3 1h3m-2-7h3m-3 13h3m-3 12h3m-2-20h3m-3 3h3m-2-2h3m-3 9h3m-3 9h3m-2-20h3m-3 7h3m-2 3h3m-2-14h3m-3 6h3m-3 3h3m-2-8h3m-3 2h3m-3 1h3m-2-3h3m-3 5h3m-3 1h3m-2 0h3m-1-12h3m-3 11h3m-2-12h3m-3 7h3m-2-4h3m-2-5h3m-3 6h3m-3 2h3m-2-11h3m-3 5h3m-2-2h3m-3 5h3m-2-8h3m-3 5h3m-3 1h3m-3 0h3m-3 0h3m-3 4h3m-3 1h3m-2-7h3m-3 1h3m-3 0h3m-3 0h3m-3 3h3m-3 0h3m-3 1h3m-3 0h3m-2-3h3m-3 1h3m-3 2h3m-3 4h3m-2-13h3m-3 3h3m-3 2h3m-3 2h3m-3 3h3m-2-11h3m-2 3h3m-3 1h3m-3 4h3m-3 1h3m-2-9h3m-3 6h3m-2-3h3m-3 1h3m-3 5h3m-2-14h3m-3 6h3m-2 0h3m-3 3h3m-2-7h3m-3 12h3m-2-6h3m-2-3h3m-3 2h3" stroke="#111" stroke-width="4.0" stroke-opacity="0.75"/>
<text x="205.7" y="299.2" font-size="4.9" text-anchor="middle" font-family='"Liberation Serif", serif' fill="#222">10<tspan font-size="3.6" dy="-2">0</tspan></text>
<text x="202.2" y="293.5" font-size="4.9" text-anchor="middle" font-family='"Liberation Serif", serif' fill="#222" transform="rotate(-90 202.2 293.5)">10<tspan font-size="3.6" dy="-2">0</tspan></text>
<text x="222.2" y="299.2" font-size="4.9" text-anchor="middle" font-family='"Liberation Serif", serif' fill="#222">10<tspan font-size="3.6" dy="-2">1</tspan></text>
<text x="202.2" y="278.3" font-size="4.9" text-anchor="middle" font-family='"Liberation Serif", serif' fill="#222" transform="rotate(-90 202.2 278.3)">10<tspan font-size="3.6" dy="-2">1</tspan></text>
<text x="238.8" y="299.2" font-size="4.9" text-anchor="middle" font-family='"Liberation Serif", serif' fill="#222">10<tspan font-size="3.6" dy="-2">2</tspan></text>
<text x="202.2" y="263.2" font-size="4.9" text-anchor="middle" font-family='"Liberation Serif", serif' fill="#222" transform="rotate(-90 202.2 263.2)">10<tspan font-size="3.6" dy="-2">2</tspan></text>
<text x="255.3" y="299.2" font-size="4.9" text-anchor="middle" font-family='"Liberation Serif", serif' fill="#222">10<tspan font-size="3.6" dy="-2">3</tspan></text>
<text x="202.2" y="248.0" font-size="4.9" text-anchor="middle" font-family='"Liberation Serif", serif' fill="#222" transform="rotate(-90 202.2 248.0)">10<tspan font-size="3.6" dy="-2">3</tspan></text>
<text x="271.9" y="299.2" font-size="4.9" text-anchor="middle" font-family='"Liberation Serif", serif' fill="#222">10<tspan font-size="3.6" dy="-2">4</tspan></text>
<text x="202.2" y="232.8" font-size="4.9" text-anchor="middle" font-family='"Liberation Serif", serif' fill="#222" transform="rotate(-90 202.2 232.8)">10<tspan font-size="3.6" dy="-2">4</tspan></text>
<text x="239.1" y="304.2" font-size="4.4" text-anchor="middle" fill="#111" textLength="32.5" lengthAdjust="spacingAndGlyphs">Mouse IgG1 FITC</text>
<text x="197.2" y="263.4" font-size="4.3" text-anchor="middle" fill="#222" transform="rotate(-90 197.2 263.4)">Mouse IgG1 PE</text>
<rect x="289.5" y="233" width="67.0" height="60.3" fill="none" stroke="#333" stroke-width="0.8"/>
<path d="M319.6 233.0L319.6 293.3" stroke="#333" stroke-width="0.8" fill="none"/>
<path d="M289.5 272.3L356.5 272.3" stroke="#333" stroke-width="0.8" fill="none"/>
<path d="M289.5 293.3V233.0M289.5 293.3H356.5" stroke="#222" stroke-width="0.9" stroke-dasharray="0.7 2.3" fill="none"/>
<radialGradient id="g222"><stop offset="0" stop-color="#111" stop-opacity="0.6"/><stop offset="0.6" stop-color="#111" stop-opacity="0.36"/><stop offset="1" stop-color="#111" stop-opacity="0"/></radialGradient>
<ellipse cx="314.5" cy="258" rx="11.25" ry="7.2" transform="rotate(-51.6 314.5 258)" fill="url(#g222)"/>
<radialGradient id="g224"><stop offset="0" stop-color="#111" stop-opacity="0.85"/><stop offset="0.6" stop-color="#111" stop-opacity="0.51"/><stop offset="1" stop-color="#111" stop-opacity="0"/></radialGradient>
<ellipse cx="325" cy="285.5" rx="5.4" ry="9.0" transform="rotate(0 325 285.5)" fill="url(#g224)"/>
<path transform="scale(0.2)" d="M1473 1403h3m5 1h3m-2-129h3m4 40h3m2-67h3m-2 112h3m-3 30h3m4-71h3m0 20h3m-3 29h3m0 11h3m-1-46h3m-3 28h3m-2-16h3m-1-49h3m-3 27h3m-3 5h3m-2-6h3m-3 5h3m-3 118h3m-2-140h3m0-12h3m-3 20h3m-3 30h3m-3 15h3m-3 11h3m-2-71h3m-3 4h3m-1 20h3m-3 28h3m-2-51h3m-2-10h3m-2-14h3m-3 14h3m-3 35h3m-3 11h3m-3 2h3m-3 12h3m-2-108h3m-3 60h3m-3 2h3m-3 20h3m-3 67h3m-2-102h3m-3 154h3m-2-198h3m-2 20h3m-3 54h3m-3 28h3m-2-56h3m-3 9h3m-3 14h3m-3 127h3m-2-163h3m-3 8h3m-3 65h3m-2-61h3m-3 43h3m-2-37h3m-3 8h3m-3 8h3m-3 11h3m-3 1h3m-3 0h3m-3 7h3m-2-49h3m-3 21h3m-3 2h3m-3 30h3m-2-50h3m-3 3h3m-3 15h3m-3 9h3m-3 11h3m-3 45h3m-2-103h3m-3 87h3m-2-63h3m-2-15h3m-3 30h3m-3 1h3m-3 10h3m-3 1h3m-3 16h3m-2-61h3m-3 39h3m-3 32h3m-3 3h3m-3 46h3m-2-134h3m-3 35h3m-3 18h3m-3 15h3m-3 3h3m-3 94h3m-2-129h3m-3 1h3m-3 10h3m-3 13h3m-3 1h3m-3 9h3m-3 37h3m-2-114h3m-3 54h3m-3 11h3m-3 16h3m-3 2h3m-3 3h3m-3 35h3m-2-92h3m-3 51h3m-3 19h3m-3 63h3m-2-141h3m-3 2h3m-3 36h3m-3 19h3m-2-40h3m-3 10h3m-3 19h3m-3 5h3m-3 21h3m-3 8h3m-3 83h3m-2-150h3m-3 3h3m-3 9h3m-3 3h3m-3 0h3m-3 21h3m-3 11h3m-3 4h3m-3 14h3m-2-89h3m-3 43h3m-3 5h3m-3 4h3m-3 8h3m-3 1h3m-3 7h3m-3 5h3m-3 5h3m-2-66h3m-3 18h3m-3 15h3m-3 4h3m-3 13h3m-3 4h3m-3 21h3m-2-79h3m-3 19h3m-3 6h3m-3 4h3m-3 19h3m-2-59h3m-3 29h3m-3 46h3m-3 2h3m-2-68h3m-3 6h3m-3 5h3m-3 31h3m-3 23h3m-3 4h3m-3 8h3m-3 7h3m-2-109h3m-3 37h3m-3 4h3m-3 4h3m-3 26h3m-3 16h3m-3 13h3m-3 5h3m-3 19h3m-2-93h3m-3 18h3m-3 17h3m-3 1h3m-3 13h3m-3 4h3m-3 4h3m-3 21h3m-3 16h3m-2-81h3m-3 7h3m-3 6h3m-3 6h3m-3 0h3m-3 3h3m-3 7h3m-3 1h3m-3 2h3m-3 1h3m-3 4h3m-3 6h3m-3 27h3m-2-135h3m-3 56h3m-3 12h3m-3 38h3m-3 45h3m-3 27h3m-2-154h3m-3 61h3m-3 9h3m-3 22h3m-3 0h3m-2-53h3m-3 3h3m-3 10h3m-3 4h3m-3 12h3m-3 3h3m-3 6h3m-3 23h3m-3 7h3m-2-110h3m-3 38h3m-3 7h3m-3 20h3m-3 1h3m-3 23h3m-3 15h3m-3 35h3m-2-154h3m-3 48h3m-3 4h3m-3 4h3m-3 20h3m-3 6h3m-3 0h3m-3 5h3m-3 6h3m-3 7h3m-3 23h3m-3 5h3m-3 32h3m-2-121h3m-3 12h3m-3 4h3m-3 7h3m-3 0h3m-3 9h3m-3 7h3m-3 103h3m-2-156h3m-3 44h3m-3 2h3m-3 6h3m-3 21h3m-3 4h3m-3 11h3m-3 2h3m-3 3h3m-3 1h3m-3 14h3m-3 4h3m-2-138h3m-3 30h3m-3 16h3m-3 7h3m-3 40h3m-3 1h3m-3 8h3m-3 6h3m-3 13h3m-3 4h3m-2-92h3m-3 5h3m-3 0h3m-3 14h3m-3 3h3m-3 8h3m-3 29h3m-3 3h3m-3 13h3m-3 5h3m-3 4h3m-3 11h3m-3 13h3m-3 82h3m-2-232h3m-3 41h3m-3 15h3m-3 24h3m-3 1h3m-3 6h3m-3 8h3m-3 16h3m-3 1h3m-3 4h3m-3 1h3m-3 1h3m-3 20h3m-3 8h3m-3 23h3m-2-148h3m-3 13h3m-3 4h3m-3 26h3m-3 6h3m-3 1h3m-3 20h3m-3 4h3m-3 1h3m-3 18h3m-3 33h3m-2-116h3m-3 8h3m-3 7h3m-3 8h3m-3 16h3m-3 1h3m-3 1h3m-3 5h3m-3 27h3m-3 2h3m-3 1h3m-3 15h3m-3 2h3m-3 1h3m-3 3h3m-2-62h3m-3 9h3m-3 13h3m-3 0h3m-3 0h3m-3 5h3m-3 3h3m-3 3h3m-3 6h3m-3 12h3m-3 4h3m-3 4h3m-3 6h3m-3 2h3m-3 0h3m-3 4h3m-3 22h3m-2-93h3m-3 20h3m-3 4h3m-3 1h3m-3 41h3m-3 11h3m-2-106h3m-3 18h3m-3 3h3m-3 14h3m-3 1h3m-3 1h3m-3 1h3m-3 7h3m-3 6h3m-3 2h3m-3 11h3m-3 2h3m-3 17h3m-3 2h3m-3 3h3m-3 4h3m-3 10h3m-3 50h3m-2-134h3m-3 1h3m-3 6h3m-3 7h3m-3 10h3m-3 1h3m-3 9h3m-3 37h3m-2-91h3m-3 0h3m-3 12h3m-3 18h3m-3 36h3m-3 4h3m-3 2h3m-3 8h3m-3 1h3m-3 8h3m-3 21h3m-2-99h3m-3 23h3m-3 10h3m-3 9h3m-3 3h3m-3 0h3m-3 1h3m-3 1h3m-3 23h3m-3 40h3m-2-111h3m-3 4h3m-3 19h3m-3 8h3m-3 3h3m-3 0h3m-3 1h3m-3 12h3m-3 4h3m-3 2h3m-3 10h3m-3 6h3m-3 8h3m-3 5h3m-2-72h3m-3 7h3m-3 1h3m-3 17h3m-3 2h3m-3 5h3m-3 32h3m-3 1h3m-3 4h3m-3 0h3m-3 0h3m-3 16h3m-3 7h3m-3 16h3m-2-147h3m-3 9h3m-3 11h3m-3 32h3m-3 1h3m-3 4h3m-3 8h3m-3 12h3m-3 6h3m-3 10h3m-3 12h3m-3 3h3m-2-63h3m-3 10h3m-3 20h3m-3 5h3m-3 10h3m-3 19h3m-3 5h3m-2-92h3m-3 4h3m-3 18h3m-3 8h3m-3 12h3m-3 12h3m-3 1h3m-3 13h3m-3 13h3m-3 13h3m-3 16h3m-3 17h3m-2-116h3m-3 17h3m-3 2h3m-3 2h3m-3 1h3m-3 8h3m-3 7h3m-3 23h3m-3 1h3m-3 1h3m-3 12h3m-2-92h3m-3 27h3m-3 24h3m-3 3h3m-3 3h3m-3 16h3m-3 16h3m-3 7h3m-3 8h3m-3 5h3m-2-74h3m-3 12h3m-3 10h3m-3 23h3m-3 0h3m-3 22h3m-3 3h3m-3 11h3m-3 4h3m-3 0h3m-2-125h3m-3 15h3m-3 34h3m-3 18h3m-3 7h3m-3 5h3m-3 17h3m-3 14h3m-2-81h3m-3 13h3m-3 6h3m-3 4h3m-3 5h3m-3 2h3m-3 1h3m-3 110h3m-2-161h3m-3 1h3m-3 3h3m-3 1h3m-3 12h3m-3 16h3m-3 14h3m-3 3h3m-3 20h3m-3 5h3m-3 7h3m-3 5h3m-3 2h3m-3 12h3m-3 3h3m-3 10h3m-2-92h3m-3 39h3m-3 18h3m-3 20h3m-3 9h3m-3 14h3m-2-155h3m-3 5h3m-3 48h3m-3 11h3m-3 14h3m-3 4h3m-3 8h3m-3 1h3m-3 7h3m-3 2h3m-3 3h3m-3 1h3m-3 20h3m-3 58h3m-2-152h3m-3 8h3m-3 4h3m-3 26h3m-3 2h3m-3 2h3m-3 16h3m-3 11h3m-3 3h3m-3 0h3m-3 19h3m-3 5h3m-3 31h3m-3 5h3m-2-106h3m-3 13h3m-3 19h3m-3 13h3m-3 2h3m-3 2h3m-3 8h3m-3 2h3m-3 2h3m-3 16h3m-3 8h3m-3 15h3m-3 74h3m-2-181h3m-3 6h3m-3 13h3m-3 4h3m-3 6h3m-3 29h3m-3 24h3m-3 3h3m-3 1h3m-3 6h3m-2-109h3m-3 33h3m-3 8h3m-3 9h3m-3 0h3m-3 2h3m-3 3h3m-3 44h3m-3 14h3m-3 29h3m-3 56h3m-2-200h3m-3 10h3m-3 38h3m-3 6h3m-3 4h3m-3 30h3m-3 4h3m-3 29h3m-2-103h3m-3 17h3m-3 9h3m-3 2h3m-3 0h3m-3 33h3m-3 34h3m-3 2h3m-3 9h3m-3 44h3m-2-196h3m-3 62h3m-3 1h3m-3 1h3m-3 18h3m-3 3h3m-3 1h3m-3 11h3m-3 5h3m-3 16h3m-3 1h3m-3 12h3m-2-98h3m-3 6h3m-3 22h3m-3 11h3m-3 13h3m-3 22h3m-3 15h3m-3 17h3m-3 30h3m-3 27h3m-3 8h3m-3 1h3m-3 25h3m-2-171h3m-3 11h3m-3 12h3m-3 44h3m-3 12h3m-3 21h3m-3 26h3m-3 10h3m-3 35h3m-3 3h3m-2-185h3m-3 13h3m-3 2h3m-3 4h3m-3 5h3m-3 7h3m-3 7h3m-3 3h3m-3 1h3m-3 2h3m-3 21h3m-3 5h3m-3 2h3m-2-70h3m-3 4h3m-3 20h3m-3 2h3m-3 8h3m-3 93h3m-3 47h3m-2-207h3m-3 3h3m-3 23h3m-3 5h3m-3 29h3m-3 34h3m-3 10h3m-3 14h3m-2-93h3m-3 22h3m-3 30h3m-3 0h3m-3 14h3m-3 114h3m-2-188h3m-3 8h3m-3 16h3m-3 5h3m-3 13h3m-3 10h3m-3 34h3m-3 6h3m-3 52h3m-3 11h3m-3 8h3m-2-177h3m-3 5h3m-3 28h3m-3 28h3m-3 27h3m-3 1h3m-3 53h3m-2-100h3m-3 7h3m-3 43h3m-3 12h3m-3 31h3m-2-135h3m-3 3h3m-3 5h3m-3 17h3m-3 2h3m-3 40h3m-3 5h3m-3 11h3m-3 16h3m-3 0h3m-3 39h3m-3 10h3m-3 24h3m-3 4h3m-3 2h3m-3 9h3m-2-156h3m-3 41h3m-3 0h3m-3 18h3m-3 1h3m-3 23h3m-3 9h3m-3 24h3m-3 21h3m-3 17h3m-3 9h3m-2-163h3m-3 2h3m-3 23h3m-3 6h3m-3 7h3m-3 11h3m-3 6h3m-3 51h3m-3 13h3m-3 7h3m-3 1h3m-3 4h3m-3 5h3m-2-197h3m-3 54h3m-3 0h3m-3 3h3m-3 4h3m-3 14h3m-3 19h3m-3 35h3m-3 16h3m-3 40h3m-3 16h3m-3 7h3m-3 0h3m-3 16h3m-3 30h3m-2-203h3m-3 25h3m-3 7h3m-3 36h3m-3 69h3m-3 17h3m-3 16h3m-3 2h3m-3 4h3m-3 12h3m-2-187h3m-3 9h3m-3 27h3m-3 43h3m-3 15h3m-3 3h3m-3 6h3m-3 24h3m-3 10h3m-3 12h3m-3 9h3m-3 2h3m-3 6h3m-3 3h3m-2-177h3m-3 15h3m-3 14h3m-3 5h3m-3 6h3m-3 59h3m-3 9h3m-3 38h3m-3 7h3m-3 2h3m-3 6h3m-3 2h3m-3 2h3m-3 9h3m-3 9h3m-3 1h3m-3 4h3m-2-187h3m-3 6h3m-3 25h3m-3 5h3m-3 6h3m-3 14h3m-3 39h3m-3 33h3m-3 27h3m-3 14h3m-3 13h3m-3 22h3m-3 5h3m-2-205h3m-3 39h3m-3 0h3m-3 12h3m-3 57h3m-3 5h3m-3 38h3m-3 6h3m-3 16h3m-3 1h3m-2-184h3m-3 3h3m-3 15h3m-3 7h3m-3 7h3m-3 8h3m-3 6h3m-3 1h3m-3 17h3m-3 3h3m-3 83h3m-3 13h3m-3 4h3m-3 5h3m-3 2h3m-3 0h3m-3 15h3m-3 1h3m-3 4h3m-2-171h3m-3 40h3m-3 51h3m-3 20h3m-3 3h3m-3 1h3m-3 14h3m-3 8h3m-3 10h3m-3 3h3m-3 2h3m-3 1h3m-3 13h3m-3 6h3m-3 15h3m-2-221h3m-3 11h3m-3 41h3m-3 21h3m-3 11h3m-3 55h3m-3 3h3m-3 9h3m-3 17h3m-3 19h3m-3 1h3m-3 10h3m-3 1h3m-3 6h3m-3 3h3m-2-191h3m-3 2h3m-3 14h3m-3 0h3m-3 3h3m-3 44h3m-3 67h3m-3 8h3m-3 6h3m-3 10h3m-3 2h3m-3 5h3m-3 2h3m-3 1h3m-3 7h3m-3 8h3m-3 22h3m-3 2h3m-3 3h3m-2-248h3m-3 41h3m-3 2h3m-3 46h3m-3 5h3m-3 5h3m-3 12h3m-3 77h3m-3 2h3m-3 20h3m-3 15h3m-3 6h3m-3 20h3m-2-232h3m-3 4h3m-3 1h3m-3 23h3m-3 6h3m-3 10h3m-3 4h3m-3 11h3m-3 16h3m-3 30h3m-3 5h3m-3 24h3m-3 4h3m-3 15h3m-3 8h3m-3 8h3m-3 6h3m-3 1h3m-3 11h3m-3 2h3m-3 2h3m-3 9h3m-3 11h3m-3 3h3m-3 0h3m-3 9h3m-3 8h3m-3 0h3m-2-200h3m-3 26h3m-3 17h3m-3 42h3m-3 23h3m-3 12h3m-3 5h3m-3 8h3m-3 7h3m-3 1h3m-3 0h3m-3 7h3m-3 8h3m-3 2h3m-3 5h3m-3 2h3m-3 22h3m-2-200h3m-3 17h3m-3 8h3m-3 0h3m-3 26h3m-3 47h3m-3 26h3m-3 6h3m-3 1h3m-3 2h3m-3 3h3m-3 24h3m-3 3h3m-3 3h3m-3 1h3m-3 0h3m-3 4h3m-3 2h3m-3 15h3m-3 0h3m-2-173h3m-3 35h3m-3 11h3m-3 31h3m-3 32h3m-3 4h3m-3 6h3m-3 1h3m-3 8h3m-3 12h3m-3 2h3m-3 3h3m-3 4h3m-3 2h3m-3 4h3m-3 3h3m-3 16h3m-3 7h3m-2-192h3m-3 108h3m-3 2h3m-3 29h3m-3 11h3m-3 2h3m-3 1h3m-3 2h3m-3 0h3m-3 16h3m-3 0h3m-3 5h3m-3 6h3m-3 1h3m-3 0h3m-3 4h3m-3 1h3m-3 20h3m-2-221h3m-3 4h3m-3 11h3m-3 14h3m-3 12h3m-3 30h3m-3 46h3m-3 5h3m-3 0h3m-3 17h3m-3 19h3m-3 9h3m-3 14h3m-3 6h3m-3 3h3m-3 3h3m-3 10h3m-3 0h3m-3 2h3m-3 12h3m-2-153h3m-3 35h3m-3 27h3m-3 4h3m-3 7h3m-3 9h3m-3 12h3m-3 10h3m-3 9h3m-3 0h3m-3 4h3m-3 2h3m-3 10h3m-3 0h3m-3 1h3m-3 7h3m-3 6h3m-3 8h3m-3 2h3m-2-192h3m-3 1h3m-3 16h3m-3 103h3m-3 14h3m-3 0h3m-3 3h3m-3 1h3m-3 2h3m-3 1h3m-3 9h3m-3 4h3m-3 4h3m-3 1h3m-3 15h3m-3 5h3m-3 2h3m-3 4h3m-3 0h3m-3 1h3m-3 1h3m-3 4h3m-2-67h3m-3 2h3m-3 9h3m-3 0h3m-3 5h3m-3 1h3m-3 0h3m-3 12h3m-3 2h3m-3 18h3m-3 1h3m-3 1h3m-3 1h3m-3 4h3m-3 7h3m-3 2h3m-3 3h3m-3 5h3m-2-248h3m-3 75h3m-3 0h3m-3 69h3m-3 28h3m-3 14h3m-3 8h3m-3 6h3m-3 1h3m-3 4h3m-3 4h3m-3 2h3m-3 1h3m-3 1h3m-3 2h3m-3 2h3m-3 4h3m-3 9h3m-3 0h3m-2-187h3m-3 121h3m-3 10h3m-3 18h3m-3 3h3m-3 1h3m-3 2h3m-3 4h3m-3 15h3m-3 2h3m-3 0h3m-3 6h3m-3 8h3m-3 0h3m-3 1h3m-3 4h3m-3 3h3m-3 5h3m-2-246h3m-3 98h3m-3 26h3m-3 57h3m-3 0h3m-3 5h3m-3 3h3m-3 1h3m-3 3h3m-3 0h3m-3 5h3m-3 12h3m-3 7h3m-3 8h3m-3 20h3m-2-154h3m-3 8h3m-3 64h3m-3 4h3m-3 0h3m-3 4h3m-3 5h3m-3 2h3m-3 1h3m-3 12h3m-3 2h3m-3 0h3m-3 3h3m-3 1h3m-3 0h3m-3 8h3m-3 2h3m-3 1h3m-3 2h3m-3 2h3m-3 5h3m-3 6h3m-3 2h3m-3 6h3m-3 14h3m-2-147h3m-3 39h3m-3 31h3m-3 13h3m-3 8h3m-3 7h3m-3 1h3m-3 2h3m-3 4h3m-3 8h3m-3 1h3m-3 2h3m-3 1h3m-3 7h3m-3 1h3m-3 12h3m-3 2h3m-3 7h3m-2-212h3m-3 81h3m-3 34h3m-3 41h3m-3 3h3m-3 1h3m-3 14h3m-3 2h3m-3 2h3m-3 19h3m-3 0h3m-3 1h3m-3 2h3m-3 3h3m-3 2h3m-2-89h3m-3 7h3m-3 10h3m-3 0h3m-3 14h3m-3 7h3m-3 1h3m-3 6h3m-3 7h3m-3 2h3m-3 1h3m-3 9h3m-3 6h3m-2-173h3m-3 20h3m-3 74h3m-3 37h3m-3 5h3m-3 0h3m-3 6h3m-3 4h3m-3 2h3m-3 11h3m-3 1h3m-3 2h3m-3 3h3m-3 5h3m-3 2h3m-3 0h3m-3 1h3m-3 1h3m-3 16h3m-3 1h3m-3 3h3m-3 2h3m-2-185h3m-3 6h3m-3 34h3m-3 60h3m-3 0h3m-3 0h3m-3 18h3m-3 10h3m-3 3h3m-3 2h3m-3 3h3m-3 1h3m-3 8h3m-3 7h3m-3 2h3m-3 6h3m-3 8h3m-3 1h3m-3 4h3m-3 4h3m-3 8h3m-2-231h3m-3 29h3m-3 26h3m-3 23h3m-3 49h3m-3 26h3m-3 5h3m-3 1h3m-3 15h3m-3 2h3m-3 0h3m-3 2h3m-3 2h3m-3 3h3m-3 2h3m-3 2h3m-3 7h3m-3 1h3m-3 3h3m-3 3h3m-3 4h3m-3 2h3m-3 2h3m-3 2h3m-3 4h3m-3 4h3m-3 5h3m-3 1h3m-2-202h3m-3 38h3m-3 88h3m-3 3h3m-3 10h3m-3 0h3m-3 1h3m-3 1h3m-3 12h3m-3 1h3m-3 6h3m-3 6h3m-3 1h3m-3 10h3m-3 1h3m-3 9h3m-3 10h3m-3 16h3m-3 1h3m-3 2h3m-2-93h3m-3 25h3m-3 1h3m-3 11h3m-3 2h3m-3 1h3m-3 2h3m-3 16h3m-3 1h3m-3 1h3m-3 0h3m-3 2h3m-3 6h3m-3 6h3m-3 10h3m-2-160h3m-3 76h3m-3 17h3m-3 6h3m-3 4h3m-3 2h3m-3 17h3m-3 2h3m-3 2h3m-3 11h3m-3 2h3m-3 2h3m-3 2h3m-3 0h3m-3 2h3m-3 1h3m-3 12h3m-2-201h3m-3 40h3m-3 21h3m-3 62h3m-3 4h3m-3 18h3m-3 3h3m-3 29h3m-3 1h3m-3 0h3m-3 12h3m-3 3h3m-3 15h3m-2-229h3m-3 154h3m-3 20h3m-3 17h3m-3 3h3m-3 1h3m-3 2h3m-3 11h3m-3 1h3m-3 0h3m-3 1h3m-3 4h3m-2-212h3m-3 2h3m-3 156h3m-3 3h3m-3 4h3m-3 1h3m-3 11h3m-3 1h3m-3 8h3m-3 15h3m-3 17h3m-3 4h3m-2-243h3m-3 65h3m-3 92h3m-3 17h3m-3 1h3m-3 12h3m-3 2h3m-3 4h3m-3 26h3m-3 4h3m-3 1h3m-3 8h3m-3 1h3m-2-204h3m-3 118h3m-3 11h3m-3 19h3m-3 18h3m-3 17h3m-3 4h3m-3 10h3m-3 6h3m-3 5h3m-2-93h3m-3 9h3m-3 14h3m-3 3h3m-3 13h3m-3 1h3m-3 2h3m-3 0h3m-3 2h3m-3 1h3m-3 27h3m-3 17h3m-2-175h3m-3 110h3m-3 5h3m-3 2h3m-3 11h3m-3 10h3m-3 13h3m-3 5h3m-3 8h3m-2-129h3m-3 76h3m-3 7h3m-3 4h3m-3 2h3m-3 4h3m-3 6h3m-3 4h3m-3 11h3m-3 18h3m-3 8h3m-2-59h3m-3 24h3m-3 3h3m-3 13h3m-3 10h3m-3 13h3m-3 4h3m-3 2h3m-2-85h3m-3 5h3m-3 4h3m-3 13h3m-3 16h3m-3 17h3m-3 21h3m-3 9h3m-3 9h3m-2-220h3m-3 125h3m-3 8h3m-3 20h3m-3 3h3m-3 15h3m-3 0h3m-3 6h3m-3 14h3m-3 12h3m-2-87h3m-3 10h3m-3 17h3m-3 13h3m-3 17h3m-3 25h3m-2-163h3m-3 90h3m-3 0h3m-3 11h3m-3 6h3m-3 1h3m-3 9h3m-2-141h3m-3 151h3m-3 7h3m-3 7h3m-3 10h3m-2-63h3m-3 23h3m-3 12h3m-3 5h3m-3 4h3m-3 12h3m-3 21h3m-2-177h3m-3 90h3m-3 16h3m-3 17h3m-3 13h3m-3 11h3m-3 17h3m-3 14h3m-3 9h3m-2-81h3m-3 19h3m-3 2h3m-3 48h3m-3 0h3m-2-183h3m-3 69h3m-3 30h3m-3 14h3m-3 19h3m-3 32h3m-3 26h3m-2-160h3m-3 103h3m-3 46h3m-2-61h3m-3 4h3m-2-126h3m-3 123h3m-3 64h3m-2-198h3m-3 107h3m-3 34h3m-3 7h3m-3 55h3m-2-151h3m-3 95h3m-3 14h3m-3 14h3m-2-25h3m-3 35h3m-2-73h3m-3 74h3m-2-37h3m-3 36h3m-2-196h3m-2 184h3m-2-155h3m-3 75h3m-3 41h3m-3 54h3m-1-10h3m-2-50h3m-2-13h3m-3 10h3m-3 32h3m-3 14h3m-3 2h3m-1-31h3m-1-2h3m-1-31h3m-3 11h3m-2 34h3m-3 14h3m-2-75h3m-3 60h3m-2-56h3m-2 26h3m-3 15h3m-2-19h3m-3 39h3m-1 8h3m-1 1h3m1 21h3m-1-147h3m-3 56h3m-2-13h3m-3 110h3m-1-52h3m-1-29h3m0-115h3m-3 211h3m-2-191h3m0 145h3m-2-118h3m-3 30h3m-2 16h3m1-25h3m-3 97h3m-3 13h3m-2-128h3m10 133h3m-1-170h3m1 118h3m-1 34h3m-2-39h3m-1 86h3m6-102h3m-3 69h3m-3 12h3" stroke="#111" stroke-width="4.0" stroke-opacity="0.85"/>
<text x="289.2" y="299.3" font-size="4.9" text-anchor="middle" font-family='"Liberation Serif", serif' fill="#222">10<tspan font-size="3.6" dy="-2">0</tspan></text>
<text x="285.7" y="293.6" font-size="4.9" text-anchor="middle" font-family='"Liberation Serif", serif' fill="#222" transform="rotate(-90 285.7 293.6)">10<tspan font-size="3.6" dy="-2">0</tspan></text>
<text x="305.9" y="299.3" font-size="4.9" text-anchor="middle" font-family='"Liberation Serif", serif' fill="#222">10<tspan font-size="3.6" dy="-2">1</tspan></text>
<text x="285.7" y="278.5" font-size="4.9" text-anchor="middle" font-family='"Liberation Serif", serif' fill="#222" transform="rotate(-90 285.7 278.5)">10<tspan font-size="3.6" dy="-2">1</tspan></text>
<text x="322.7" y="299.3" font-size="4.9" text-anchor="middle" font-family='"Liberation Serif", serif' fill="#222">10<tspan font-size="3.6" dy="-2">2</tspan></text>
<text x="285.7" y="263.4" font-size="4.9" text-anchor="middle" font-family='"Liberation Serif", serif' fill="#222" transform="rotate(-90 285.7 263.4)">10<tspan font-size="3.6" dy="-2">2</tspan></text>
<text x="339.4" y="299.3" font-size="4.9" text-anchor="middle" font-family='"Liberation Serif", serif' fill="#222">10<tspan font-size="3.6" dy="-2">3</tspan></text>
<text x="285.7" y="248.4" font-size="4.9" text-anchor="middle" font-family='"Liberation Serif", serif' fill="#222" transform="rotate(-90 285.7 248.4)">10<tspan font-size="3.6" dy="-2">3</tspan></text>
<text x="356.2" y="299.3" font-size="4.9" text-anchor="middle" font-family='"Liberation Serif", serif' fill="#222">10<tspan font-size="3.6" dy="-2">4</tspan></text>
<text x="285.7" y="233.3" font-size="4.9" text-anchor="middle" font-family='"Liberation Serif", serif' fill="#222" transform="rotate(-90 285.7 233.3)">10<tspan font-size="3.6" dy="-2">4</tspan></text>
<text x="323.0" y="304.3" font-size="4.4" text-anchor="middle" fill="#111" textLength="18.5" lengthAdjust="spacingAndGlyphs">CD3 FITC</text>
<text x="280.7" y="263.6" font-size="4.3" text-anchor="middle" fill="#222" transform="rotate(-90 280.7 263.6)">Annexin-V PE</text>
<text x="305.0" y="242.0" font-size="6.6" text-anchor="middle" font-family='"Liberation Serif", serif' fill="#111">37.76%</text>
<text x="340.5" y="242.0" font-size="6.6" text-anchor="middle" font-family='"Liberation Serif", serif' fill="#111">9%</text>
<text x="299.8" y="280.0" font-size="6.6" text-anchor="middle" font-family='"Liberation Serif", serif' fill="#111">8.03%</text>
<text x="346.5" y="280.0" font-size="6.6" text-anchor="middle" font-family='"Liberation Serif", serif' fill="#111">44.46%</text>
<rect x="15" y="309.4" width="65.4" height="58.6" fill="none" stroke="#333" stroke-width="0.8"/>
<path d="M39.0 309.4L39.0 368.0" stroke="#333" stroke-width="0.8" fill="none"/>
<path d="M15.0 337.0L80.4 337.0" stroke="#333" stroke-width="0.8" fill="none"/>
<path d="M15.0 368.0V309.4M15.0 368.0H80.4" stroke="#222" stroke-width="0.9" stroke-dasharray="0.7 2.3" fill="none"/>
<path d="M45.5 338.5L15.5 361.0L15.5 367.5L23.0 367.5z" fill="#222" fill-opacity="0.68"/>
<radialGradient id="g248"><stop offset="0" stop-color="#111" stop-opacity="0.95"/><stop offset="0.6" stop-color="#111" stop-opacity="0.57"/><stop offset="1" stop-color="#111" stop-opacity="0"/></radialGradient>
<ellipse cx="19.5" cy="363.5" rx="6.5" ry="6" transform="rotate(0 19.5 363.5)" fill="url(#g248)"/>
<path transform="scale(0.2)" d="M79 1814h3m-3 1h3m-3 14h3m-1-39h3m-3 5h3m-3 5h3m-3 8h3m-3 1h3m-3 2h3m-3 0h3m-3 21h3m-3 1h3m-3 2h3m-3 0h3m-2-40h3m-3 14h3m-3 6h3m-3 21h3m-2-42h3m-3 10h3m-3 2h3m-3 7h3m-3 9h3m-3 7h3m-2-26h3m-3 4h3m-3 8h3m-3 2h3m-3 5h3m-2-18h3m-3 5h3m-3 11h3m-3 11h3m-3 2h3m-2-29h3m-3 3h3m-3 3h3m-3 2h3m-3 1h3m-2-10h3m-3 6h3m-3 1h3m-3 1h3m-3 3h3m-3 1h3m-3 6h3m-3 3h3m-2-42h3m-3 22h3m-3 6h3m-3 2h3m-3 2h3m-3 1h3m-3 2h3m-3 6h3m-3 0h3m-3 1h3m-3 1h3m-3 6h3m-2-26h3m-3 13h3m-2-13h3m-3 4h3m-3 0h3m-3 0h3m-3 1h3m-3 2h3m-3 4h3m-3 1h3m-3 0h3m-3 7h3m-2-36h3m-3 3h3m-3 5h3m-3 4h3m-3 0h3m-3 3h3m-3 5h3m-3 2h3m-3 7h3m-3 1h3m-3 1h3m-3 3h3m-3 0h3m-3 2h3m-2-30h3m-3 1h3m-3 13h3m-3 1h3m-3 1h3m-3 1h3m-3 5h3m-3 0h3m-3 0h3m-3 1h3m-3 6h3m-3 1h3m-3 2h3m-3 0h3m-3 4h3m-3 4h3m-2-28h3m-3 4h3m-3 0h3m-3 5h3m-3 4h3m-3 2h3m-3 3h3m-3 0h3m-3 2h3m-3 1h3m-3 1h3m-2-21h3m-3 8h3m-3 4h3m-3 1h3m-3 0h3m-3 2h3m-3 0h3m-3 2h3m-3 10h3m-2-53h3m-3 11h3m-3 24h3m-3 1h3m-3 9h3m-3 0h3m-3 1h3m-3 2h3m-3 4h3m-2-35h3m-3 10h3m-3 3h3m-3 0h3m-3 4h3m-3 5h3m-3 0h3m-3 2h3m-3 4h3m-3 2h3m-3 6h3m-2-60h3m-3 19h3m-3 1h3m-3 0h3m-3 2h3m-3 12h3m-3 0h3m-3 3h3m-3 2h3m-3 4h3m-3 2h3m-3 1h3m-3 6h3m-3 5h3m-3 5h3m-2-45h3m-3 14h3m-3 3h3m-3 6h3m-3 1h3m-3 6h3m-3 2h3m-3 5h3m-3 1h3m-3 2h3m-3 2h3m-3 3h3m-2-40h3m-3 2h3m-3 6h3m-3 0h3m-3 3h3m-3 2h3m-3 4h3m-3 6h3m-3 2h3m-3 1h3m-3 7h3m-2-22h3m-3 8h3m-3 1h3m-3 4h3m-3 2h3m-3 7h3m-2-30h3m-3 8h3m-3 4h3m-3 0h3m-3 1h3m-3 4h3m-3 3h3m-3 5h3m-3 1h3m-3 5h3m-3 3h3m-3 0h3m-2-57h3m-3 25h3m-3 1h3m-3 2h3m-3 3h3m-3 3h3m-3 5h3m-3 9h3m-3 1h3m-3 2h3m-3 0h3m-3 0h3m-3 2h3m-3 1h3m-3 2h3m-3 4h3m-2-48h3m-3 0h3m-3 2h3m-3 10h3m-3 1h3m-3 6h3m-3 0h3m-3 6h3m-3 2h3m-3 0h3m-3 3h3m-3 1h3m-3 9h3m-3 1h3m-3 2h3m-2-26h3m-3 0h3m-3 4h3m-3 5h3m-3 1h3m-3 2h3m-3 6h3m-3 6h3m-2-35h3m-3 5h3m-3 1h3m-3 2h3m-3 1h3m-3 2h3m-3 2h3m-3 1h3m-3 22h3m-3 1h3m-2-37h3m-3 4h3m-3 0h3m-3 7h3m-3 2h3m-3 1h3m-3 6h3m-3 4h3m-3 2h3m-3 13h3m-3 2h3m-2-33h3m-3 19h3m-3 14h3m-2-55h3m-3 15h3m-3 0h3m-3 9h3m-3 3h3m-3 4h3m-3 4h3m-3 12h3m-3 2h3m-3 1h3m-3 0h3m-3 2h3m-2-39h3m-3 6h3m-3 6h3m-3 11h3m-2-32h3m-3 11h3m-3 12h3m-3 0h3m-3 1h3m-3 2h3m-3 1h3m-3 1h3m-3 16h3m-3 0h3m-3 3h3m-3 2h3m-2-37h3m-3 11h3m-3 6h3m-3 1h3m-3 8h3m-3 0h3m-3 12h3m-2-26h3m-3 20h3m-2-35h3m-3 0h3m-3 8h3m-3 9h3m-3 2h3m-3 3h3m-3 2h3m-3 0h3m-3 1h3m-3 11h3m-2-42h3m-3 4h3m-3 13h3m-3 24h3m-3 5h3m-3 2h3m-3 0h3m-2-46h3m-3 16h3m-3 0h3m-3 11h3m-2-33h3m-3 17h3m-3 4h3m-3 1h3m-3 1h3m-3 2h3m-3 1h3m-3 8h3m-3 3h3m-3 4h3m-3 1h3m-3 1h3m-3 2h3m-3 3h3m-2-48h3m-3 9h3m-3 28h3m-3 2h3m-3 7h3m-3 1h3m-2-34h3m-3 0h3m-3 1h3m-3 5h3m-3 3h3m-3 6h3m-3 9h3m-2-18h3m-3 3h3m-3 3h3m-3 0h3m-2-4h3m-3 6h3m-3 7h3m-3 7h3m-2-45h3m-3 15h3m-3 16h3m-3 2h3m-3 1h3m-3 11h3m-2-35h3m-3 4h3m-3 0h3m-3 18h3m-2-24h3m-3 13h3m-3 6h3m-3 24h3m-2-52h3m-3 5h3m-3 11h3m-3 21h3m-3 5h3m-2-40h3m-3 11h3m-3 4h3m-3 9h3m-3 2h3m-3 8h3m-3 13h3m-3 5h3m-3 1h3m-2-55h3m-3 7h3m-3 5h3m-3 10h3m-3 8h3m-2-16h3m-3 5h3m-3 7h3m-3 2h3m-3 12h3m-3 12h3m-3 1h3m-2-46h3m-3 0h3m-3 2h3m-3 0h3m-3 2h3m-3 11h3m-3 22h3m-2-53h3m-3 17h3m-3 1h3m-3 4h3m-3 0h3m-2-8h3m-3 4h3m-3 7h3m-3 4h3m-3 9h3m-3 2h3m-3 2h3m-1-44h3m-3 17h3m-3 12h3m-3 8h3m-2-22h3m-3 8h3m-3 3h3m-3 11h3m-2-36h3m-3 1h3m-3 17h3m-3 4h3m-3 8h3m-3 17h3m-2-30h3m-3 10h3m-3 2h3m-3 23h3m-2-54h3m-3 19h3m-3 1h3m-3 9h3m-3 16h3m-2-36h3m-3 4h3m-3 8h3m-3 6h3m-2-18h3m-3 22h3m-2-28h3m-3 5h3m-3 16h3m-2-22h3m-3 6h3m-3 3h3m-3 4h3m-3 1h3m-2-22h3m-3 3h3m-3 2h3m-3 10h3m-3 3h3m-3 2h3m-3 13h3m-2-28h3m-3 2h3m-3 14h3m-3 3h3m-3 3h3m-2-6h3m-3 2h3m-1-10h3m-3 1h3m-3 1h3m-3 3h3m-2-8h3m-2-6h3m-3 5h3m-3 3h3m-3 3h3m-3 2h3m-2-11h3m-3 8h3m-3 8h3m-2-28h3m-3 7h3m-3 5h3m-3 2h3m-3 6h3m-2-19h3m-3 6h3m-3 0h3m-3 66h3m-2-70h3m-3 6h3m-3 7h3m-3 1h3m-3 2h3m-3 4h3m-3 11h3m-2-37h3m-3 7h3m-3 13h3m-2 2h3m-2-28h3m-3 2h3m-3 6h3m-3 2h3m-3 3h3m-3 1h3m-3 13h3m-2-20h3m-2-6h3m-3 15h3m-3 8h3m-3 5h3m-2-19h3m-3 4h3m-3 8h3m-3 8h3m-2-18h3m-3 3h3m-3 1h3m-3 2h3m-2-21h3m-3 16h3m-3 3h3m-2-6h3m-3 2h3m-3 17h3m-2-38h3m-3 5h3m-3 2h3m-3 7h3m-3 5h3m-3 5h3m-2 10h3m-2-32h3m-3 15h3m-3 1h3m-3 2h3m-3 3h3m-3 6h3m-2-5h3m-2-6h3m-3 0h3m-3 19h3m-2-37h3m-3 13h3m-3 2h3m-3 3h3m-3 3h3m-2-3h3m-3 2h3m-2-11h3m-3 3h3m-3 12h3m-2-18h3m-3 3h3m-3 17h3m-2-22h3m-3 6h3m-3 0h3m-3 4h3m-2-8h3m-3 14h3m-2-19h3m-3 7h3m-3 8h3m-3 1h3m-2-13h3m-3 1h3m-3 1h3m-3 8h3m-2-10h3m-3 6h3m-3 2h3m-2-8h3m-3 7h3m-2-6h3m-3 11h3m-2-16h3m-3 10h3m-3 8h3m-2-26h3m-3 10h3m-2-7h3m-3 6h3m-3 7h3m-3 11h3m-2-18h3m-3 5h3m-2-2h3m-3 4h3m-2 1h3m-2-15h3m-3 7h3m-3 1h3m-2-16h3m-3 8h3m-3 20h3m-2-26h3m-3 3h3m-3 3h3m-3 1h3m-3 5h3m-3 0h3m-3 5h3m-2-15h3m-3 7h3m-3 5h3m-3 7h3m-1 13h3m-2-37h3m-3 8h3m-3 2h3m-3 5h3m-2-22h3m-3 8h3m-3 13h3m-2 1h3m-3 9h3m-2-26h3m-3 7h3m-3 4h3m-3 3h3m-1-12h3m-3 5h3m-3 1h3m-2-9h3m-3 8h3m-2 1h3m-3 0h3m-3 5h3m-2-24h3m-3 17h3m-2-8h3m-3 2h3m-2-13h3m-3 4h3m-3 5h3m-3 3h3m-3 0h3m-3 0h3m-3 2h3m-3 1h3m-3 2h3m-2-1h3m-3 5h3m-2-13h3m-3 6h3m-3 12h3m-2-21h3m-3 4h3m-3 1h3m-3 9h3m-2-22h3m-3 10h3m-3 0h3m-3 1h3m-3 2h3m-3 1h3m-3 3h3m-3 4h3m-3 5h3m-2-24h3m-3 5h3m-3 2h3m-3 9h3m-2-15h3m-2 0h3m-2 3h3m-2-6h3m-2 4h3m-3 0h3m-3 1h3m-3 1h3m-3 0h3m-3 0h3m-3 3h3m-3 5h3m-2-12h3m-3 4h3m-3 0h3m-1-2h3m-3 5h3m-2-9h3m-3 0h3m-3 3h3m-2-8h3m-3 2h3m-3 8h3m-2-6h3m-3 6h3m-3 5h3m-2-9h3m-3 6h3m-3 2h3m-2-12h3m-3 0h3m-3 7h3m-2-9h3m-3 0h3m-3 3h3m-3 7h3m-2-13h3m-3 5h3m-3 3h3m-3 1h3m-2-9h3m-3 3h3m-2-2h3m-2-4h3m-2-3h3m-3 2h3m-3 6h3m-3 0h3m-2-4h3m-3 3h3m-3 3h3m-2-7h3m-3 2h3m-2-2h3m-3 3h3m-3 0h3m-3 1h3m-2-3h3m-3 0h3m-3 5h3m-2-4h3m-2 8h3" stroke="#111" stroke-width="4.0" stroke-opacity="0.75"/>
<text x="14.7" y="374.0" font-size="4.9" text-anchor="middle" font-family='"Liberation Serif", serif' fill="#222">10<tspan font-size="3.6" dy="-2">0</tspan></text>
<text x="11.2" y="368.3" font-size="4.9" text-anchor="middle" font-family='"Liberation Serif", serif' fill="#222" transform="rotate(-90 11.2 368.3)">10<tspan font-size="3.6" dy="-2">0</tspan></text>
<text x="31.1" y="374.0" font-size="4.9" text-anchor="middle" font-family='"Liberation Serif", serif' fill="#222">10<tspan font-size="3.6" dy="-2">1</tspan></text>
<text x="11.2" y="353.7" font-size="4.9" text-anchor="middle" font-family='"Liberation Serif", serif' fill="#222" transform="rotate(-90 11.2 353.7)">10<tspan font-size="3.6" dy="-2">1</tspan></text>
<text x="47.4" y="374.0" font-size="4.9" text-anchor="middle" font-family='"Liberation Serif", serif' fill="#222">10<tspan font-size="3.6" dy="-2">2</tspan></text>
<text x="11.2" y="339.0" font-size="4.9" text-anchor="middle" font-family='"Liberation Serif", serif' fill="#222" transform="rotate(-90 11.2 339.0)">10<tspan font-size="3.6" dy="-2">2</tspan></text>
<text x="63.8" y="374.0" font-size="4.9" text-anchor="middle" font-family='"Liberation Serif", serif' fill="#222">10<tspan font-size="3.6" dy="-2">3</tspan></text>
<text x="11.2" y="324.3" font-size="4.9" text-anchor="middle" font-family='"Liberation Serif", serif' fill="#222" transform="rotate(-90 11.2 324.3)">10<tspan font-size="3.6" dy="-2">3</tspan></text>
<text x="80.1" y="374.0" font-size="4.9" text-anchor="middle" font-family='"Liberation Serif", serif' fill="#222">10<tspan font-size="3.6" dy="-2">4</tspan></text>
<text x="11.2" y="309.7" font-size="4.9" text-anchor="middle" font-family='"Liberation Serif", serif' fill="#222" transform="rotate(-90 11.2 309.7)">10<tspan font-size="3.6" dy="-2">4</tspan></text>
<text x="47.7" y="379.0" font-size="4.4" text-anchor="middle" fill="#111" textLength="32.5" lengthAdjust="spacingAndGlyphs">Mouse IgG1 PE</text>
<text x="6.2" y="339.2" font-size="4.3" text-anchor="middle" fill="#222" transform="rotate(-90 6.2 339.2)">FL3-H</text>
<rect x="104.3" y="309.3" width="66.7" height="59.5" fill="none" stroke="#333" stroke-width="0.8"/>
<path d="M128.5 309.3L128.5 368.8" stroke="#333" stroke-width="0.8" fill="none"/>
<path d="M104.3 337.6L171.0 337.6" stroke="#333" stroke-width="0.8" fill="none"/>
<path d="M104.3 368.8V309.3M104.3 368.8H171.0" stroke="#222" stroke-width="0.9" stroke-dasharray="0.7 2.3" fill="none"/>
<radialGradient id="g267"><stop offset="0" stop-color="#111" stop-opacity="0.45"/><stop offset="0.6" stop-color="#111" stop-opacity="0.27"/><stop offset="1" stop-color="#111" stop-opacity="0"/></radialGradient>
<ellipse cx="110.8" cy="363.3" rx="11.700000000000001" ry="8.1" transform="rotate(0 110.8 363.3)" fill="url(#g267)"/>
<radialGradient id="g269"><stop offset="0" stop-color="#222" stop-opacity="0.28"/><stop offset="0.6" stop-color="#222" stop-opacity="0.17"/><stop offset="1" stop-color="#222" stop-opacity="0"/></radialGradient>
<ellipse cx="143.0" cy="340.6" rx="5.760000000000001" ry="13.6" transform="rotate(10 143.0 340.6)" fill="url(#g269)"/>
<path transform="scale(0.2)" d="M525 1806h3m-3 16h3m-2-18h3m-3 23h3m-3 7h3m-2-61h3m-3 47h3m-2-4h3m-3 0h3m-2-23h3m-3 1h3m-3 22h3m-3 2h3m-2-12h3m-3 3h3m-2 4h3m-3 1h3m-3 10h3m-2-60h3m-3 55h3m-2-180h3m-3 154h3m-3 15h3m-3 0h3m-3 3h3m-3 23h3m-3 3h3m-2-134h3m-3 87h3m-3 11h3m-3 23h3m-3 15h3m-2-54h3m-3 35h3m-3 1h3m-3 11h3m-2-14h3m-3 23h3m-2-105h3m-3 27h3m-3 9h3m-3 53h3m-3 2h3m-3 1h3m-2-44h3m-3 8h3m-3 23h3m-3 16h3m-3 6h3m-2-34h3m-3 2h3m-3 22h3m-2-54h3m-3 20h3m-3 2h3m-3 7h3m-3 0h3m-3 10h3m-3 10h3m-3 14h3m-3 0h3m-2-147h3m-3 126h3m-2-36h3m-3 6h3m-3 18h3m-3 23h3m-3 12h3m-3 3h3m-3 0h3m-3 0h3m-2-60h3m-3 32h3m-3 25h3m-3 1h3m-2-36h3m-3 35h3m-2-42h3m-3 1h3m-3 3h3m-3 14h3m-3 10h3m-2-15h3m-3 10h3m-3 11h3m-2-48h3m-3 9h3m-3 9h3m-3 1h3m-3 12h3m-3 8h3m-3 12h3m-3 1h3m-3 2h3m-2-89h3m-3 19h3m-3 32h3m-3 19h3m-3 13h3m-3 9h3m-3 0h3m-2-65h3m-3 12h3m-3 15h3m-3 1h3m-3 3h3m-3 2h3m-3 1h3m-3 1h3m-3 16h3m-3 4h3m-2-54h3m-3 19h3m-3 14h3m-3 13h3m-3 0h3m-3 2h3m-3 7h3m-3 9h3m-2-54h3m-3 13h3m-3 6h3m-3 6h3m-2-7h3m-3 11h3m-3 4h3m-3 8h3m-3 5h3m-3 0h3m-3 7h3m-3 0h3m-2-122h3m-3 74h3m-3 2h3m-3 4h3m-3 2h3m-3 34h3m-2-60h3m-3 25h3m-3 6h3m-3 1h3m-3 3h3m-3 6h3m-3 9h3m-3 6h3m-3 10h3m-2-54h3m-3 2h3m-3 9h3m-3 10h3m-3 13h3m-3 13h3m-2-60h3m-3 8h3m-3 22h3m-3 4h3m-2 7h3m-3 5h3m-3 6h3m-3 3h3m-2-58h3m-3 15h3m-3 19h3m-3 4h3m-3 5h3m-3 7h3m-3 6h3m-3 0h3m-3 13h3m-2-64h3m-3 5h3m-3 1h3m-3 9h3m-3 7h3m-3 3h3m-3 8h3m-3 6h3m-3 10h3m-3 3h3m-2-42h3m-3 8h3m-3 9h3m-3 4h3m-3 25h3m-3 10h3m-2-51h3m-3 9h3m-3 2h3m-3 2h3m-3 6h3m-3 1h3m-3 14h3m-3 15h3m-2-222h3m-3 172h3m-3 3h3m-3 13h3m-3 8h3m-3 7h3m-2-51h3m-3 19h3m-3 4h3m-3 10h3m-3 7h3m-3 3h3m-3 19h3m-2-48h3m-3 1h3m-3 13h3m-3 2h3m-3 4h3m-3 1h3m-3 3h3m-3 1h3m-3 2h3m-3 4h3m-3 6h3m-3 11h3m-2-54h3m-3 21h3m-3 8h3m-3 6h3m-3 6h3m-3 10h3m-3 2h3m-3 3h3m-3 1h3m-3 1h3m-2-88h3m-3 44h3m-3 3h3m-3 0h3m-3 14h3m-3 0h3m-3 9h3m-2-57h3m-3 46h3m-3 2h3m-3 21h3m-2-72h3m-3 35h3m-3 12h3m-3 5h3m-3 1h3m-3 10h3m-3 1h3m-3 3h3m-2-42h3m-3 7h3m-3 4h3m-3 5h3m-3 6h3m-3 12h3m-3 2h3m-3 8h3m-3 7h3m-2-56h3m-3 14h3m-3 13h3m-3 4h3m-3 5h3m-3 11h3m-3 4h3m-3 3h3m-2-47h3m-3 2h3m-3 1h3m-3 11h3m-3 13h3m-3 16h3m-2-64h3m-3 23h3m-3 1h3m-3 16h3m-3 12h3m-3 1h3m-3 20h3m-2-32h3m-3 6h3m-3 3h3m-3 4h3m-3 4h3m-3 0h3m-3 5h3m-3 2h3m-2-48h3m-3 9h3m-3 12h3m-3 6h3m-3 1h3m-3 8h3m-3 1h3m-3 2h3m-3 1h3m-3 1h3m-3 5h3m-2-75h3m-3 36h3m-3 0h3m-3 1h3m-3 16h3m-3 3h3m-3 1h3m-3 2h3m-3 3h3m-3 2h3m-3 0h3m-3 18h3m-2-88h3m-3 30h3m-3 14h3m-3 11h3m-3 16h3m-3 2h3m-3 4h3m-3 2h3m-3 3h3m-3 1h3m-2-52h3m-3 10h3m-3 0h3m-3 17h3m-3 0h3m-3 7h3m-3 9h3m-3 3h3m-3 4h3m-3 15h3m-2-90h3m-3 19h3m-3 8h3m-3 1h3m-3 9h3m-3 5h3m-3 7h3m-3 5h3m-3 2h3m-3 5h3m-3 4h3m-3 1h3m-2-93h3m-3 69h3m-3 2h3m-3 23h3m-3 7h3m-3 0h3m-3 12h3m-3 3h3m-2-41h3m-3 22h3m-3 15h3m-2-63h3m-3 1h3m-3 5h3m-3 26h3m-3 11h3m-3 3h3m-3 1h3m-3 3h3m-3 5h3m-3 13h3m-2-97h3m-3 28h3m-3 3h3m-3 2h3m-3 8h3m-3 6h3m-3 15h3m-3 2h3m-3 1h3m-3 3h3m-3 15h3m-3 3h3m-3 8h3m-2-59h3m-3 11h3m-3 7h3m-3 13h3m-3 6h3m-2-15h3m-3 2h3m-3 33h3m-2-123h3m-3 14h3m-3 20h3m-3 17h3m-3 41h3m-3 8h3m-3 1h3m-3 13h3m-3 6h3m-3 2h3m-2-88h3m-3 28h3m-3 5h3m-3 13h3m-3 0h3m-3 6h3m-3 15h3m-3 6h3m-3 2h3m-3 4h3m-3 4h3m-2-69h3m-3 19h3m-3 24h3m-3 11h3m-3 12h3m-2-65h3m-3 57h3m-3 8h3m-3 1h3m-3 1h3m-3 0h3m-2-77h3m-3 13h3m-3 15h3m-3 31h3m-3 6h3m-3 20h3m-2-124h3m-3 48h3m-3 22h3m-3 9h3m-3 3h3m-3 11h3m-3 13h3m-3 12h3m-2-75h3m-3 30h3m-3 4h3m-3 5h3m-3 1h3m-3 6h3m-3 5h3m-3 25h3m-2-65h3m-3 26h3m-3 8h3m-3 10h3m-3 9h3m-3 10h3m-2-67h3m-3 17h3m-3 0h3m-3 3h3m-3 4h3m-3 1h3m-3 3h3m-3 13h3m-3 0h3m-3 12h3m-3 8h3m-3 5h3m-2-64h3m-3 24h3m-3 7h3m-3 13h3m-3 16h3m-3 1h3m-3 3h3m-2-73h3m-3 30h3m-3 2h3m-3 6h3m-3 7h3m-3 7h3m-3 1h3m-3 15h3m-3 2h3m-2-55h3m-3 19h3m-3 1h3m-3 14h3m-3 7h3m-3 2h3m-3 19h3m-2-88h3m-3 24h3m-3 11h3m-3 18h3m-3 0h3m-3 16h3m-3 1h3m-3 18h3m-3 0h3m-2-75h3m-3 20h3m-3 14h3m-3 3h3m-3 8h3m-3 7h3m-3 27h3m-2-111h3m-3 54h3m-3 9h3m-3 12h3m-3 6h3m-3 12h3m-3 11h3m-2-78h3m-3 1h3m-3 9h3m-3 34h3m-3 4h3m-3 7h3m-3 5h3m-2-42h3m-2-48h3m-3 43h3m-3 5h3m-3 14h3m-3 5h3m-3 5h3m-3 22h3m-3 7h3m-2-165h3m-3 44h3m-3 44h3m-3 25h3m-3 26h3m-3 10h3m-3 15h3m-2-94h3m-3 18h3m-3 12h3m-3 15h3m-3 11h3m-3 2h3m-3 6h3m-3 14h3m-3 5h3m-3 23h3m-2-122h3m-3 17h3m-3 31h3m-3 16h3m-3 3h3m-3 4h3m-3 23h3m-3 22h3m-3 8h3m-2-95h3m-3 23h3m-3 12h3m-3 0h3m-3 32h3m-3 3h3m-3 18h3m-2-43h3m-3 29h3m-3 27h3m-2-77h3m-3 8h3m-3 2h3m-3 3h3m-3 4h3m-3 1h3m-3 21h3m-2-95h3m-3 54h3m-3 2h3m-3 12h3m-3 28h3m-3 5h3m-3 9h3m-2-143h3m-3 56h3m-3 6h3m-3 36h3m-3 35h3m-3 34h3m-2-54h3m-3 6h3m-3 10h3m-3 16h3m-3 2h3m-3 15h3m-2-83h3m-3 16h3m-3 2h3m-3 10h3m-3 27h3m-2-40h3m-3 33h3m-3 5h3m-3 5h3m-2-203h3m-3 151h3m-3 28h3m-3 15h3m-2 25h3m-2-78h3m-3 2h3m-3 23h3m-3 64h3m-2-131h3m-3 41h3m-3 16h3m-3 4h3m-3 17h3m-3 13h3m-2-75h3m-3 10h3m-3 17h3m-3 4h3m-3 17h3m-3 8h3m-3 14h3m-2-142h3m-3 69h3m-3 23h3m-3 14h3m-3 60h3m-3 9h3m-2-154h3m-3 66h3m-3 34h3m-3 4h3m-2-174h3m-3 165h3m-3 19h3m-3 13h3m-2-85h3m-3 37h3m-3 10h3m-3 26h3m-3 37h3m-3 7h3m-2-174h3m-3 32h3m-3 10h3m-3 13h3m-3 49h3m-3 2h3m-3 5h3m-3 10h3m-2-95h3m-3 57h3m-3 1h3m-3 24h3m-3 21h3m-3 23h3m-2-101h3m-3 31h3m-3 5h3m-3 1h3m-3 15h3m-2-105h3m-3 45h3m-3 47h3m-3 5h3m-3 9h3m-3 6h3m-3 10h3m-3 6h3m-3 34h3m-2-90h3m-3 14h3m-3 14h3m-3 1h3m-3 17h3m-3 15h3m-3 13h3m-2-80h3m-3 0h3m-3 1h3m-3 6h3m-3 5h3m-3 2h3m-3 9h3m-3 5h3m-3 12h3m-3 5h3m-3 0h3m-3 4h3m-3 12h3m-3 22h3m-3 25h3m-2-100h3m-3 35h3m-3 16h3m-3 55h3m-2-118h3m-3 23h3m-3 10h3m-3 6h3m-3 0h3m-3 8h3m-3 19h3m-3 16h3m-3 12h3m-3 3h3m-2-145h3m-3 16h3m-3 11h3m-3 37h3m-3 1h3m-3 5h3m-3 11h3m-3 3h3m-3 10h3m-3 10h3m-3 5h3m-3 1h3m-2-67h3m-3 38h3m-3 1h3m-3 13h3m-3 17h3m-3 42h3m-2-162h3m-3 37h3m-3 73h3m-3 0h3m-3 7h3m-3 9h3m-3 1h3m-2-94h3m-3 8h3m-3 12h3m-3 13h3m-3 10h3m-3 3h3m-3 70h3m-2-146h3m-3 40h3m-3 109h3m-2-90h3m-3 7h3m-3 30h3m-3 2h3m-3 49h3m-2-126h3m-3 35h3m-3 33h3m-3 24h3m-3 29h3m-3 21h3m-2-112h3m-3 3h3m-3 23h3m-3 1h3m-3 4h3m-3 26h3m-3 34h3m-2-181h3m-3 70h3m-3 7h3m-3 12h3m-3 2h3m-3 13h3m-3 10h3m-3 13h3m-3 13h3m-3 24h3m-3 48h3m-2-169h3m-3 2h3m-3 45h3m-3 16h3m-3 3h3m-3 10h3m-3 6h3m-3 6h3m-2-152h3m-3 81h3m-3 68h3m-3 1h3m-3 35h3m-2-115h3m-3 48h3m-3 5h3m-3 2h3m-3 12h3m-3 2h3m-3 2h3m-3 12h3m-3 14h3m-3 17h3m-3 2h3m-3 7h3m-2-160h3m-3 29h3m-3 25h3m-3 1h3m-3 40h3m-3 7h3m-3 20h3m-3 12h3m-3 4h3m-3 11h3m-3 1h3m-2-110h3m-3 22h3m-3 11h3m-3 7h3m-3 3h3m-3 1h3m-3 13h3m-3 4h3m-3 5h3m-3 8h3m-3 28h3m-3 6h3m-3 5h3m-3 15h3m-2-155h3m-3 41h3m-3 17h3m-3 2h3m-3 19h3m-3 10h3m-3 3h3m-3 15h3m-3 11h3m-3 0h3m-2-32h3m-3 29h3m-2-115h3m-3 37h3m-3 8h3m-3 16h3m-3 5h3m-3 16h3m-2-62h3m-3 6h3m-3 9h3m-3 14h3m-3 7h3m-3 4h3m-3 4h3m-3 21h3m-3 5h3m-3 13h3m-3 17h3m-3 4h3m-3 2h3m-3 32h3m-3 1h3m-2-139h3m-3 37h3m-3 8h3m-3 2h3m-3 23h3m-3 15h3m-3 3h3m-3 10h3m-2-102h3m-3 72h3m-3 26h3m-3 10h3m-3 24h3m-3 4h3m-2-166h3m-3 58h3m-3 21h3m-3 6h3m-3 22h3m-3 5h3m-3 18h3m-3 34h3m-2-141h3m-3 42h3m-3 49h3m-3 6h3m-2-100h3m-3 83h3m-3 14h3m-3 55h3m-3 19h3m-2-117h3m-3 13h3m-3 7h3m-3 2h3m-3 12h3m-3 10h3m-3 9h3m-3 10h3m-3 5h3m-3 36h3m-2-132h3m-3 25h3m-3 19h3m-3 10h3m-3 0h3m-3 1h3m-3 44h3m-2-101h3m-3 40h3m-3 2h3m-3 7h3m-3 8h3m-3 3h3m-3 17h3m-2-112h3m-3 76h3m-3 9h3m-3 7h3m-3 0h3m-3 13h3m-3 31h3m-2-95h3m-3 13h3m-3 2h3m-3 5h3m-3 9h3m-3 1h3m-3 9h3m-3 0h3m-3 25h3m-3 0h3m-3 14h3m-3 10h3m-3 24h3m-3 3h3m-3 2h3m-3 22h3m-2-132h3m-3 18h3m-3 47h3m-3 10h3m-3 18h3m-2-124h3m-3 7h3m-3 27h3m-3 7h3m-3 3h3m-3 20h3m-3 7h3m-3 20h3m-3 0h3m-3 58h3m-2-110h3m-3 25h3m-3 6h3m-3 7h3m-3 15h3m-3 1h3m-2-91h3m-3 38h3m-3 2h3m-3 21h3m-3 22h3m-3 66h3m-3 3h3m-2-172h3m-3 22h3m-3 2h3m-3 29h3m-3 40h3m-3 0h3m-3 4h3m-3 12h3m-2-97h3m-3 9h3m-3 15h3m-3 8h3m-3 13h3m-3 28h3m-3 25h3m-2-41h3m-3 36h3m-3 2h3m-3 3h3m-3 4h3m-3 8h3m-2-67h3m-3 2h3m-3 11h3m-3 1h3m-3 0h3m-3 3h3m-3 4h3m-3 4h3m-3 26h3m-3 20h3m-2-97h3m-3 12h3m-3 12h3m-3 55h3m-3 0h3m-2-79h3m-3 1h3m-3 12h3m-3 21h3m-3 43h3m-3 6h3m-2-97h3m-3 7h3m-3 18h3m-3 1h3m-3 54h3m-3 49h3m-3 1h3m-2-173h3m-3 60h3m-3 28h3m-3 29h3m-3 5h3m-3 25h3m-3 25h3m-3 7h3m-2-149h3m-3 75h3m-3 55h3m-2-101h3m-3 19h3m-3 14h3m-3 3h3m-3 1h3m-3 44h3m-3 66h3m-2-130h3m-3 12h3m-3 15h3m-3 11h3m-3 36h3m-3 26h3m-2-176h3m-3 77h3m-3 7h3m-3 4h3m-3 37h3m-3 56h3m-2-174h3m-3 27h3m-3 24h3m-3 9h3m-3 12h3m-3 13h3m-3 5h3m-3 24h3m-3 10h3m-3 17h3m-2-161h3m-3 80h3m-3 10h3m-3 5h3m-3 28h3m-3 18h3m-3 1h3m-3 47h3m-3 20h3m-2-190h3m-3 21h3m-3 24h3m-3 46h3m-3 24h3m-3 16h3m-3 44h3m-2-116h3m-3 49h3m-3 33h3m-2-87h3m-3 8h3m-3 2h3m-3 2h3m-3 20h3m-3 6h3m-3 5h3m-3 4h3m-3 1h3m-3 12h3m-3 0h3m-3 38h3m-3 1h3m-2-62h3m-3 35h3m-3 8h3m-2-94h3m-3 69h3m-3 4h3m-3 1h3m-3 14h3m-3 22h3m-3 9h3m-2-122h3m-3 65h3m-2-100h3m-3 27h3m-3 66h3m-3 35h3m-3 23h3m-3 6h3m-2-125h3m-3 2h3m-3 15h3m-3 13h3m-3 8h3m-3 7h3m-3 29h3m-3 9h3m-3 8h3m-3 10h3m-3 1h3m-3 20h3m-3 11h3m-2-144h3m-3 12h3m-3 21h3m-3 51h3m-3 21h3m-3 8h3m-2-131h3m-3 14h3m-3 14h3m-3 67h3m-3 55h3m-3 34h3m-2-159h3m-3 28h3m-3 6h3m-3 1h3m-3 12h3m-3 22h3m-3 27h3m-3 44h3m-2-159h3m-3 0h3m-3 3h3m-3 5h3m-3 43h3m-3 6h3m-3 11h3m-3 3h3m-3 3h3m-3 20h3m-3 20h3m-3 4h3m-3 77h3m-2-213h3m-3 53h3m-3 11h3m-3 27h3m-3 26h3m-3 8h3m-3 22h3m-2-126h3m-3 12h3m-3 3h3m-3 6h3m-3 1h3m-3 7h3m-3 23h3m-3 14h3m-3 1h3m-3 9h3m-3 0h3m-3 15h3m-3 16h3m-2-102h3m-3 17h3m-3 30h3m-3 15h3m-3 8h3m-3 1h3m-3 15h3m-3 2h3m-3 11h3m-3 9h3m-3 27h3m-3 3h3m-3 37h3m-2-198h3m-3 24h3m-3 25h3m-3 3h3m-3 1h3m-3 32h3m-3 0h3m-3 1h3m-3 15h3m-3 3h3m-3 2h3m-3 99h3m-3 14h3m-2-224h3m-3 32h3m-3 11h3m-3 8h3m-3 3h3m-3 33h3m-3 18h3m-3 17h3m-3 73h3m-2-137h3m-3 8h3m-3 4h3m-3 6h3m-3 11h3m-3 31h3m-3 8h3m-3 13h3m-3 28h3m-2-152h3m-3 12h3m-3 18h3m-3 23h3m-3 7h3m-3 6h3m-3 39h3m-3 0h3m-3 20h3m-3 39h3m-2-163h3m-3 43h3m-3 15h3m-3 1h3m-3 2h3m-3 5h3m-3 2h3m-3 0h3m-3 7h3m-3 7h3m-3 2h3m-3 3h3m-3 7h3m-3 4h3m-3 7h3m-3 37h3m-3 24h3m-2-150h3m-3 21h3m-3 4h3m-3 3h3m-3 3h3m-3 39h3m-3 12h3m-3 7h3m-2-109h3m-3 9h3m-3 67h3m-3 1h3m-3 4h3m-3 0h3m-3 7h3m-3 2h3m-3 0h3m-3 12h3m-3 3h3m-3 4h3m-3 3h3m-3 3h3m-2-83h3m-3 26h3m-3 19h3m-3 12h3m-3 9h3m-2-83h3m-3 13h3m-3 5h3m-3 25h3m-3 5h3m-3 14h3m-3 4h3m-3 7h3m-3 12h3m-3 7h3m-3 1h3m-3 32h3m-3 14h3m-2-113h3m-3 1h3m-3 39h3m-3 4h3m-3 15h3m-3 23h3m-3 5h3m-3 13h3m-3 20h3m-2-171h3m-3 44h3m-3 11h3m-3 17h3m-3 18h3m-3 8h3m-3 2h3m-3 8h3m-3 4h3m-3 20h3m-3 17h3m-3 68h3m-2-241h3m-3 44h3m-3 7h3m-3 3h3m-3 5h3m-3 15h3m-3 0h3m-3 4h3m-3 15h3m-3 6h3m-3 4h3m-3 7h3m-3 18h3m-3 4h3m-3 13h3m-3 0h3m-3 20h3m-3 32h3m-2-180h3m-3 68h3m-3 1h3m-3 3h3m-3 7h3m-3 2h3m-3 6h3m-3 0h3m-3 3h3m-3 1h3m-3 2h3m-3 12h3m-3 6h3m-3 4h3m-3 3h3m-3 2h3m-3 1h3m-3 12h3m-3 2h3m-3 6h3m-3 14h3m-2-109h3m-3 13h3m-3 47h3m-3 3h3m-3 107h3m-2-184h3m-3 22h3m-3 7h3m-3 1h3m-3 8h3m-3 69h3m-3 7h3m-3 23h3m-2-136h3m-3 8h3m-3 7h3m-3 13h3m-3 15h3m-3 14h3m-3 4h3m-3 3h3m-3 1h3m-3 3h3m-3 19h3m-3 2h3m-3 2h3m-3 15h3m-3 11h3m-3 8h3m-3 40h3m-2-149h3m-3 1h3m-3 2h3m-3 3h3m-3 16h3m-3 6h3m-3 59h3m-3 7h3m-3 9h3m-3 23h3m-3 24h3m-2-148h3m-3 7h3m-3 3h3m-3 6h3m-3 4h3m-3 5h3m-3 11h3m-3 16h3m-3 12h3m-3 12h3m-3 1h3m-2-107h3m-3 6h3m-3 17h3m-3 6h3m-3 5h3m-3 10h3m-3 6h3m-3 7h3m-3 8h3m-3 27h3m-3 5h3m-3 48h3m-2-187h3m-3 59h3m-3 9h3m-3 23h3m-3 1h3m-3 8h3m-3 1h3m-3 10h3m-3 19h3m-3 10h3m-3 38h3m-2-109h3m-3 2h3m-3 3h3m-3 19h3m-3 6h3m-3 16h3m-3 20h3m-3 21h3m-2-90h3m-3 2h3m-3 14h3m-3 15h3m-3 2h3m-3 0h3m-3 6h3m-3 0h3m-3 11h3m-3 0h3m-3 5h3m-3 3h3m-3 9h3m-3 7h3m-3 18h3m-3 4h3m-3 1h3m-3 63h3m-2-162h3m-3 2h3m-3 6h3m-3 32h3m-3 20h3m-3 4h3m-3 1h3m-3 28h3m-3 1h3m-3 5h3m-3 38h3m-2-118h3m-3 1h3m-3 13h3m-3 0h3m-3 13h3m-3 2h3m-3 4h3m-3 10h3m-3 4h3m-3 2h3m-3 9h3m-3 9h3m-3 8h3m-3 13h3m-2-84h3m-3 4h3m-3 1h3m-3 4h3m-3 2h3m-3 30h3m-3 8h3m-3 0h3m-3 3h3m-3 5h3m-3 15h3m-3 2h3m-3 12h3m-2-151h3m-3 20h3m-3 5h3m-3 16h3m-3 5h3m-3 13h3m-3 6h3m-3 5h3m-3 14h3m-3 7h3m-3 14h3m-3 30h3m-3 9h3m-2-154h3m-3 50h3m-3 1h3m-3 11h3m-3 1h3m-3 2h3m-3 1h3m-3 3h3m-3 15h3m-3 12h3m-3 3h3m-3 1h3m-3 6h3m-3 5h3m-3 2h3m-3 0h3m-3 7h3m-3 1h3m-3 11h3m-3 29h3m-3 69h3m-2-210h3m-3 32h3m-3 16h3m-3 7h3m-3 5h3m-3 2h3m-3 1h3m-3 1h3m-3 11h3m-3 1h3m-3 10h3m-3 2h3m-3 14h3m-3 0h3m-3 2h3m-3 4h3m-3 4h3m-3 27h3m-3 1h3m-3 9h3m-2-144h3m-3 32h3m-3 4h3m-3 21h3m-3 1h3m-3 2h3m-3 12h3m-3 10h3m-3 9h3m-3 27h3m-3 1h3m-2-95h3m-3 1h3m-3 17h3m-3 54h3m-3 12h3m-2-97h3m-3 3h3m-3 24h3m-3 24h3m-3 21h3m-3 14h3m-3 16h3m-3 1h3m-3 70h3m-3 14h3m-2-157h3m-3 9h3m-3 8h3m-3 8h3m-3 4h3m-3 10h3m-3 11h3m-3 4h3m-3 3h3m-3 1h3m-3 20h3m-3 3h3m-3 6h3m-3 50h3m-3 28h3m-2-230h3m-3 13h3m-3 44h3m-3 2h3m-3 2h3m-3 2h3m-3 22h3m-3 20h3m-3 4h3m-3 0h3m-3 14h3m-3 26h3m-3 8h3m-3 48h3m-2-113h3m-3 3h3m-3 10h3m-3 22h3m-3 22h3m-3 3h3m-3 19h3m-3 32h3m-2-128h3m-3 2h3m-3 13h3m-3 9h3m-3 2h3m-3 7h3m-3 9h3m-3 11h3m-3 27h3m-3 65h3m-2-177h3m-3 14h3m-3 12h3m-3 12h3m-3 10h3m-3 5h3m-3 37h3m-3 2h3m-3 96h3m-2-160h3m-3 14h3m-3 14h3m-3 7h3m-3 1h3m-3 2h3m-3 7h3m-3 16h3m-3 4h3m-3 8h3m-3 1h3m-3 64h3m-2-177h3m-3 7h3m-3 23h3m-3 1h3m-3 1h3m-3 5h3m-3 6h3m-3 13h3m-3 4h3m-3 10h3m-3 1h3m-3 37h3m-3 5h3m-3 5h3m-2-103h3m-3 26h3m-3 2h3m-3 5h3m-3 17h3m-3 10h3m-3 8h3m-3 7h3m-3 14h3m-3 76h3m-3 13h3m-2-173h3m-3 2h3m-3 3h3m-3 19h3m-3 8h3m-3 1h3m-3 51h3m-3 33h3m-3 10h3m-3 20h3m-2-141h3m-3 12h3m-3 3h3m-3 7h3m-3 17h3m-3 9h3m-3 2h3m-3 36h3m-3 60h3m-2-132h3m-3 1h3m-3 8h3m-3 9h3m-3 32h3m-3 10h3m-3 8h3m-3 9h3m-3 23h3m-3 50h3m-2-167h3m-3 19h3m-3 2h3m-3 10h3m-3 9h3m-3 7h3m-3 22h3m-3 73h3m-3 27h3m-2-137h3m-3 3h3m-3 12h3m-2-42h3m-3 28h3m-3 31h3m-3 7h3m-3 4h3m-2-102h3m-3 37h3m-3 7h3m-3 2h3m-3 6h3m-3 9h3m-3 13h3m-3 0h3m-3 15h3m-3 90h3m-2-142h3m-3 86h3m-2-61h3m-3 28h3m-3 24h3m-3 92h3m-2-238h3m-3 91h3m-3 10h3m-3 1h3m-2 25h3m-3 4h3m-2-89h3m-3 14h3m-3 32h3m-3 10h3m-2-101h3m-3 78h3m-3 1h3m-3 20h3m-3 0h3m-3 21h3m-3 15h3m-1-86h3m-3 37h3m-2-62h3m-3 67h3m-2-34h3m-3 25h3m-3 3h3m-3 29h3m-2-36h3m-3 116h3m-2-131h3m-3 2h3m-3 8h3m-3 12h3m-3 1h3m-3 20h3m-2-42h3m-3 33h3m-2 1h3m-3 18h3m-2-108h3m-3 83h3m-3 24h3m-3 4h3m-3 5h3m-3 91h3m-2-126h3m-3 3h3m-3 16h3m-2 129h3m-2-113h3m-3 49h3m-3 31h3m-2-124h3m-2 29h3m-3 82h3m-3 15h3m-2-5h3m-2-101h3m-3 121h3m-2-109h3m-2 103h3m-2-204h3m-2 169h3m-3 36h3m-2-191h3m-3 44h3m-3 32h3m-3 83h3m0-4h3m-2-149h3m-2 152h3m-3 62h3m-2-86h3m-3 31h3m0-65h3m-2 13h3m-2-143h3m-3 206h3m-1 28h3m2-37h3m-2-148h3m-3 64h3m3-7h3m-3 42h3m-1-78h3m-3 140h3m-2-178h3m-3 85h3m-3 97h3m-2-53h3m-1-77h3m-1 60h3m0 87h3m5-125h3m1 118h3m-1-5h3m-2-90h3" stroke="#111" stroke-width="4.0" stroke-opacity="0.85"/>
<text x="104.0" y="374.8" font-size="4.9" text-anchor="middle" font-family='"Liberation Serif", serif' fill="#222">10<tspan font-size="3.6" dy="-2">0</tspan></text>
<text x="100.5" y="369.1" font-size="4.9" text-anchor="middle" font-family='"Liberation Serif", serif' fill="#222" transform="rotate(-90 100.5 369.1)">10<tspan font-size="3.6" dy="-2">0</tspan></text>
<text x="120.7" y="374.8" font-size="4.9" text-anchor="middle" font-family='"Liberation Serif", serif' fill="#222">10<tspan font-size="3.6" dy="-2">1</tspan></text>
<text x="100.5" y="354.2" font-size="4.9" text-anchor="middle" font-family='"Liberation Serif", serif' fill="#222" transform="rotate(-90 100.5 354.2)">10<tspan font-size="3.6" dy="-2">1</tspan></text>
<text x="137.3" y="374.8" font-size="4.9" text-anchor="middle" font-family='"Liberation Serif", serif' fill="#222">10<tspan font-size="3.6" dy="-2">2</tspan></text>
<text x="100.5" y="339.4" font-size="4.9" text-anchor="middle" font-family='"Liberation Serif", serif' fill="#222" transform="rotate(-90 100.5 339.4)">10<tspan font-size="3.6" dy="-2">2</tspan></text>
<text x="154.0" y="374.8" font-size="4.9" text-anchor="middle" font-family='"Liberation Serif", serif' fill="#222">10<tspan font-size="3.6" dy="-2">3</tspan></text>
<text x="100.5" y="324.5" font-size="4.9" text-anchor="middle" font-family='"Liberation Serif", serif' fill="#222" transform="rotate(-90 100.5 324.5)">10<tspan font-size="3.6" dy="-2">3</tspan></text>
<text x="170.7" y="374.8" font-size="4.9" text-anchor="middle" font-family='"Liberation Serif", serif' fill="#222">10<tspan font-size="3.6" dy="-2">4</tspan></text>
<text x="100.5" y="309.6" font-size="4.9" text-anchor="middle" font-family='"Liberation Serif", serif' fill="#222" transform="rotate(-90 100.5 309.6)">10<tspan font-size="3.6" dy="-2">4</tspan></text>
<text x="137.7" y="379.8" font-size="4.4" text-anchor="middle" fill="#111" textLength="22" lengthAdjust="spacingAndGlyphs">Annexin-V PE</text>
<text x="95.5" y="339.6" font-size="4.3" text-anchor="middle" fill="#222" transform="rotate(-90 95.5 339.6)">7AAD</text>
<text x="160.4" y="319.6" font-size="6.6" text-anchor="middle" font-family='"Liberation Serif", serif' fill="#111">6.77%</text>
<text x="116.0" y="346.8" font-size="6.6" text-anchor="middle" font-family='"Liberation Serif", serif' fill="#111">57.7%</text>
<text x="159.3" y="346.8" font-size="6.6" text-anchor="middle" font-family='"Liberation Serif", serif' fill="#111">35.2%</text>
<rect x="205" y="309" width="68.6" height="58.6" fill="none" stroke="#333" stroke-width="0.8"/>
<path d="M229.6 309.0L229.6 367.6" stroke="#333" stroke-width="0.8" fill="none"/>
<path d="M205.0 336.2L273.6 336.2" stroke="#333" stroke-width="0.8" fill="none"/>
<path d="M205.0 367.6V309.0M205.0 367.6H273.6" stroke="#222" stroke-width="0.9" stroke-dasharray="0.7 2.3" fill="none"/>
<path d="M236.3 337.8L205.5 360.6L205.5 367.1L212.0 367.1z" fill="#222" fill-opacity="0.68"/>
<radialGradient id="g292"><stop offset="0" stop-color="#111" stop-opacity="0.95"/><stop offset="0.6" stop-color="#111" stop-opacity="0.57"/><stop offset="1" stop-color="#111" stop-opacity="0"/></radialGradient>
<ellipse cx="209.5" cy="363.1" rx="6.5" ry="6" transform="rotate(0 209.5 363.1)" fill="url(#g292)"/>
<path transform="scale(0.2)" d="M1028 1817h3m-3 2h3m-3 11h3m-3 2h3m-2-28h3m-3 3h3m-2-40h3m-3 39h3m-3 2h3m-3 3h3m-3 11h3m-3 8h3m-3 3h3m-3 2h3m-2-48h3m-3 3h3m-3 11h3m-3 27h3m-2-41h3m-3 21h3m-3 1h3m-3 4h3m-3 1h3m-3 6h3m-3 7h3m-3 1h3m-3 1h3m-2-28h3m-3 4h3m-3 6h3m-3 4h3m-3 2h3m-3 10h3m-2-30h3m-3 20h3m-3 1h3m-3 9h3m-3 0h3m-2-40h3m-3 18h3m-3 0h3m-3 5h3m-3 3h3m-3 8h3m-3 1h3m-3 6h3m-3 1h3m-3 2h3m-2-32h3m-3 6h3m-3 10h3m-3 10h3m-3 4h3m-3 1h3m-2-30h3m-3 5h3m-3 4h3m-3 2h3m-3 6h3m-3 1h3m-3 5h3m-3 2h3m-2-32h3m-3 2h3m-3 8h3m-3 5h3m-3 2h3m-3 4h3m-3 8h3m-3 2h3m-3 10h3m-2-48h3m-3 13h3m-3 11h3m-3 2h3m-3 1h3m-3 3h3m-3 1h3m-3 5h3m-2-41h3m-3 26h3m-3 0h3m-3 2h3m-3 4h3m-3 1h3m-3 7h3m-3 3h3m-2-24h3m-3 2h3m-3 10h3m-3 1h3m-3 0h3m-3 3h3m-3 2h3m-3 2h3m-3 1h3m-3 6h3m-2-51h3m-3 22h3m-3 2h3m-3 0h3m-3 7h3m-3 9h3m-3 0h3m-3 1h3m-3 4h3m-3 3h3m-3 5h3m-3 3h3m-3 1h3m-2-60h3m-3 22h3m-3 6h3m-3 5h3m-3 1h3m-3 1h3m-3 4h3m-3 8h3m-3 2h3m-3 3h3m-2-17h3m-3 3h3m-3 1h3m-3 8h3m-2-46h3m-3 9h3m-3 9h3m-3 1h3m-3 8h3m-3 6h3m-3 4h3m-3 7h3m-3 1h3m-3 1h3m-3 4h3m-3 1h3m-3 0h3m-3 2h3m-3 7h3m-2-49h3m-3 8h3m-3 4h3m-3 9h3m-3 1h3m-3 3h3m-3 0h3m-3 1h3m-3 11h3m-3 2h3m-3 4h3m-3 2h3m-2-29h3m-3 7h3m-3 5h3m-3 4h3m-3 2h3m-3 3h3m-3 2h3m-3 2h3m-3 4h3m-2-36h3m-3 10h3m-3 1h3m-3 6h3m-3 6h3m-3 6h3m-2-34h3m-3 7h3m-3 7h3m-3 9h3m-3 18h3m-2-39h3m-3 2h3m-3 1h3m-3 12h3m-3 6h3m-3 5h3m-3 3h3m-3 2h3m-3 5h3m-3 4h3m-2-50h3m-3 4h3m-3 8h3m-3 1h3m-3 1h3m-3 3h3m-3 14h3m-3 5h3m-3 3h3m-3 11h3m-2-36h3m-3 9h3m-3 13h3m-3 7h3m-3 0h3m-2-25h3m-3 0h3m-3 8h3m-3 0h3m-3 11h3m-3 0h3m-3 4h3m-3 3h3m-3 7h3m-3 0h3m-2-43h3m-3 4h3m-3 7h3m-3 5h3m-3 4h3m-3 3h3m-3 7h3m-3 2h3m-3 3h3m-3 6h3m-2-43h3m-3 3h3m-3 7h3m-3 15h3m-3 2h3m-3 2h3m-3 9h3m-3 7h3m-2-46h3m-3 14h3m-3 9h3m-3 1h3m-3 5h3m-3 8h3m-3 1h3m-2-27h3m-3 5h3m-3 2h3m-3 1h3m-3 5h3m-3 5h3m-3 2h3m-3 3h3m-3 3h3m-3 5h3m-3 0h3m-2-45h3m-3 3h3m-3 14h3m-3 0h3m-3 1h3m-3 3h3m-3 4h3m-3 0h3m-3 0h3m-3 5h3m-3 1h3m-3 1h3m-3 5h3m-3 5h3m-3 6h3m-2-46h3m-3 21h3m-3 1h3m-3 13h3m-2-33h3m-3 11h3m-3 9h3m-3 15h3m-3 3h3m-3 2h3m-3 6h3m-3 1h3m-2-45h3m-3 1h3m-3 2h3m-3 15h3m-3 2h3m-3 10h3m-3 8h3m-3 4h3m-3 4h3m-2-37h3m-3 24h3m-3 1h3m-2-33h3m-3 1h3m-3 2h3m-3 14h3m-3 3h3m-3 1h3m-3 2h3m-3 3h3m-3 3h3m-3 0h3m-2-27h3m-3 1h3m-3 8h3m-3 2h3m-3 4h3m-3 3h3m-3 6h3m-3 0h3m-3 10h3m-3 4h3m-2-35h3m-3 1h3m-3 3h3m-3 2h3m-3 1h3m-3 6h3m-3 8h3m-3 2h3m-3 13h3m-2-42h3m-3 5h3m-3 22h3m-3 2h3m-3 5h3m-3 3h3m-3 4h3m-2-51h3m-3 10h3m-3 4h3m-3 17h3m-3 3h3m-3 9h3m-3 2h3m-3 4h3m-2-46h3m-3 11h3m-3 3h3m-3 5h3m-3 13h3m-3 2h3m-3 3h3m-2-52h3m-3 25h3m-3 6h3m-3 8h3m-3 3h3m-2-26h3m-3 2h3m-3 6h3m-3 2h3m-3 10h3m-3 2h3m-3 24h3m-2-36h3m-3 5h3m-3 10h3m-3 8h3m-3 8h3m-3 8h3m-2-67h3m-3 14h3m-3 17h3m-3 0h3m-3 22h3m-2-41h3m-3 8h3m-3 0h3m-3 8h3m-3 2h3m-3 1h3m-2-1h3m-3 1h3m-3 1h3m-3 7h3m-3 1h3m-3 12h3m-3 1h3m-3 5h3m-3 9h3m-2-52h3m-3 4h3m-3 30h3m-3 5h3m-2-43h3m-3 6h3m-3 15h3m-3 2h3m-3 10h3m-2-39h3m-3 5h3m-3 16h3m-3 10h3m-3 4h3m-3 3h3m-3 12h3m-2-39h3m-3 1h3m-3 5h3m-3 5h3m-3 5h3m-3 22h3m-3 15h3m-2-51h3m-3 6h3m-3 2h3m-3 0h3m-3 6h3m-3 3h3m-2-41h3m-3 12h3m-3 8h3m-3 11h3m-3 1h3m-3 2h3m-3 23h3m-2-28h3m-3 7h3m-3 3h3m-2-22h3m-3 14h3m-3 3h3m-2-14h3m-3 1h3m-3 14h3m-2-29h3m-3 8h3m-3 10h3m-2-13h3m-3 26h3m-3 2h3m-2-30h3m-3 15h3m-3 0h3m-2-8h3m-3 5h3m-3 8h3m-3 7h3m-2-28h3m-3 5h3m-2-10h3m-3 11h3m-3 3h3m-3 5h3m-2-12h3m-3 10h3m-3 1h3m-3 4h3m-3 1h3m-2-2h3m-2-7h3m-3 11h3m-2-17h3m-3 36h3m-2-49h3m-3 1h3m-3 20h3m-3 1h3m-3 37h3m-2-58h3m-3 11h3m-3 1h3m-3 12h3m-2-20h3m-3 16h3m-3 6h3m-2-23h3m-3 8h3m-3 7h3m-2-2h3m-3 9h3m-2-21h3m-3 16h3m-3 0h3m-2-23h3m-3 74h3m-2-56h3m-2-12h3m-3 2h3m-3 1h3m-3 7h3m-3 6h3m-1-28h3m-3 16h3m-3 14h3m-3 3h3m-3 6h3m-2-41h3m-3 3h3m-3 3h3m-2-2h3m-3 0h3m-3 8h3m-3 4h3m-3 3h3m-3 4h3m-2-31h3m-3 24h3m-3 5h3m-2-13h3m-3 1h3m-3 3h3m-3 4h3m-3 9h3m-3 3h3m-2-29h3m-3 7h3m-3 1h3m-3 3h3m-3 10h3m-3 2h3m-2-37h3m-2 6h3m-3 23h3m-3 3h3m-3 0h3m-2-6h3m-3 1h3m-2-6h3m-3 0h3m-2-17h3m-3 7h3m-3 5h3m-3 1h3m-3 8h3m-3 6h3m-2-16h3m-3 19h3m-2-17h3m-3 3h3m-3 16h3m-3 1h3m-2-31h3m-3 6h3m-3 11h3m-2-8h3m-3 0h3m-3 2h3m-3 1h3m-3 13h3m-2-18h3m-3 2h3m-3 2h3m-3 0h3m-3 19h3m-2-31h3m-3 13h3m-2-8h3m-3 4h3m-3 5h3m-2-19h3m-3 35h3m-2-28h3m-3 10h3m-3 4h3m-3 16h3m-2-28h3m-2-13h3m-3 5h3m-3 14h3m-3 2h3m-3 2h3m-2-20h3m-3 10h3m-3 14h3m-3 3h3m-3 12h3m-2-37h3m-3 7h3m-3 20h3m-2-31h3m-3 7h3m-3 0h3m-3 1h3m-3 4h3m-3 4h3m-2 3h3m-2-10h3m-3 3h3m-2-4h3m-3 1h3m-2-4h3m-3 1h3m-3 4h3m-2-16h3m-3 5h3m-3 1h3m-3 3h3m-3 1h3m-2-3h3m-3 14h3m-2-17h3m-3 7h3m-3 0h3m-3 3h3m-3 2h3m-2-16h3m-3 9h3m-3 3h3m-3 1h3m-3 6h3m-3 6h3m-2-21h3m-3 1h3m-3 1h3m-3 5h3m-3 10h3m-2-14h3m-3 6h3m-3 1h3m-2-9h3m-3 4h3m-3 6h3m-2-3h3m-2-7h3m-3 1h3m-1-4h3m-3 7h3m-2-20h3m-3 5h3m-3 5h3m-3 3h3m-3 1h3m-3 10h3m-2-14h3m-2-4h3m-3 14h3m-2-20h3m-3 4h3m-3 4h3m-3 2h3m-2-14h3m-3 5h3m-3 15h3m-2-9h3m-2-3h3m-2-4h3m-3 5h3m-2-4h3m-3 2h3m-3 3h3m-2-7h3m-2 3h3m-3 3h3m-3 3h3m-2-12h3m-3 15h3m-2-19h3m-3 5h3m-3 6h3m-3 1h3m-2-12h3m-3 6h3m-3 2h3m-3 3h3m-3 0h3m-3 0h3m-3 1h3m-3 2h3m-2 4h3m-1-7h3m-2-11h3m-3 4h3m-3 2h3m-2-9h3m-3 2h3m-3 3h3m-3 4h3m-2-10h3m-3 11h3m-3 1h3m-2-6h3m-2-7h3m-2 3h3m-3 4h3m-3 0h3m-3 2h3m-1-13h3m-3 13h3m-2-12h3m-3 8h3m-3 0h3m-2-11h3m-3 7h3m-3 3h3m-3 9h3m-2-4h3m-2-10h3m-3 1h3m-3 6h3m-2-10h3m-3 0h3m-3 1h3m-3 2h3m-3 4h3m-2-12h3m-3 6h3m-2-2h3m-3 2h3m-3 2h3m-3 3h3m-3 1h3m-1-14h3m-3 8h3m-3 3h3m-2-10h3m-3 0h3m-3 3h3m-3 1h3m-2-5h3m-3 0h3m-3 2h3m-3 1h3m-2-4h3m-3 2h3m-3 8h3m-3 4h3m-2-12h3m-2 1h3m-3 1h3m-3 0h3m-2 1h3" stroke="#111" stroke-width="4.0" stroke-opacity="0.75"/>
<text x="204.7" y="373.6" font-size="4.9" text-anchor="middle" font-family='"Liberation Serif", serif' fill="#222">10<tspan font-size="3.6" dy="-2">0</tspan></text>
<text x="201.2" y="367.9" font-size="4.9" text-anchor="middle" font-family='"Liberation Serif", serif' fill="#222" transform="rotate(-90 201.2 367.9)">10<tspan font-size="3.6" dy="-2">0</tspan></text>
<text x="221.8" y="373.6" font-size="4.9" text-anchor="middle" font-family='"Liberation Serif", serif' fill="#222">10<tspan font-size="3.6" dy="-2">1</tspan></text>
<text x="201.2" y="353.3" font-size="4.9" text-anchor="middle" font-family='"Liberation Serif", serif' fill="#222" transform="rotate(-90 201.2 353.3)">10<tspan font-size="3.6" dy="-2">1</tspan></text>
<text x="239.0" y="373.6" font-size="4.9" text-anchor="middle" font-family='"Liberation Serif", serif' fill="#222">10<tspan font-size="3.6" dy="-2">2</tspan></text>
<text x="201.2" y="338.6" font-size="4.9" text-anchor="middle" font-family='"Liberation Serif", serif' fill="#222" transform="rotate(-90 201.2 338.6)">10<tspan font-size="3.6" dy="-2">2</tspan></text>
<text x="256.2" y="373.6" font-size="4.9" text-anchor="middle" font-family='"Liberation Serif", serif' fill="#222">10<tspan font-size="3.6" dy="-2">3</tspan></text>
<text x="201.2" y="323.9" font-size="4.9" text-anchor="middle" font-family='"Liberation Serif", serif' fill="#222" transform="rotate(-90 201.2 323.9)">10<tspan font-size="3.6" dy="-2">3</tspan></text>
<text x="273.3" y="373.6" font-size="4.9" text-anchor="middle" font-family='"Liberation Serif", serif' fill="#222">10<tspan font-size="3.6" dy="-2">4</tspan></text>
<text x="201.2" y="309.3" font-size="4.9" text-anchor="middle" font-family='"Liberation Serif", serif' fill="#222" transform="rotate(-90 201.2 309.3)">10<tspan font-size="3.6" dy="-2">4</tspan></text>
<text x="239.3" y="378.6" font-size="4.4" text-anchor="middle" fill="#111" textLength="32.5" lengthAdjust="spacingAndGlyphs">Mouse IgG1 PE</text>
<text x="196.2" y="338.8" font-size="4.3" text-anchor="middle" fill="#222" transform="rotate(-90 196.2 338.8)">FL3-H</text>
<rect x="289.8" y="309.2" width="68.2" height="59.1" fill="none" stroke="#333" stroke-width="0.8"/>
<path d="M314.6 309.2L314.6 368.3" stroke="#333" stroke-width="0.8" fill="none"/>
<path d="M289.8 337.1L358.0 337.1" stroke="#333" stroke-width="0.8" fill="none"/>
<path d="M289.8 368.3V309.2M289.8 368.3H358.0" stroke="#222" stroke-width="0.9" stroke-dasharray="0.7 2.3" fill="none"/>
<radialGradient id="g311"><stop offset="0" stop-color="#111" stop-opacity="0.6"/><stop offset="0.6" stop-color="#111" stop-opacity="0.36"/><stop offset="1" stop-color="#111" stop-opacity="0"/></radialGradient>
<ellipse cx="296.3" cy="362.8" rx="9.9" ry="7.2" transform="rotate(0 296.3 362.8)" fill="url(#g311)"/>
<radialGradient id="g313"><stop offset="0" stop-color="#222" stop-opacity="0.3"/><stop offset="0.6" stop-color="#222" stop-opacity="0.18"/><stop offset="1" stop-color="#222" stop-opacity="0"/></radialGradient>
<ellipse cx="331.6" cy="340.1" rx="10.8" ry="15.299999999999999" transform="rotate(10 331.6 340.1)" fill="url(#g313)"/>
<path transform="scale(0.2)" d="M1452 1781h3m-3 29h3m-3 6h3m-2-27h3m-3 14h3m-3 2h3m-3 19h3m-3 2h3m-2-51h3m-3 30h3m-3 11h3m-3 8h3m-3 4h3m-3 8h3m-3 2h3m-2-23h3m-3 6h3m-2-12h3m-3 1h3m-2-6h3m-3 28h3m-2-36h3m-3 23h3m-3 10h3m-3 0h3m-2-7h3m-3 2h3m-3 4h3m-3 8h3m-3 1h3m-2-52h3m-3 0h3m-3 27h3m-3 9h3m-3 7h3m-3 5h3m-2-184h3m-3 132h3m-3 10h3m-3 15h3m-3 8h3m-3 2h3m-3 0h3m-3 10h3m-3 1h3m-2-111h3m-3 64h3m-3 8h3m-3 10h3m-3 17h3m-3 9h3m-3 4h3m-2-33h3m-3 3h3m-3 12h3m-3 14h3m-2-45h3m-3 36h3m-3 1h3m-3 3h3m-3 6h3m-3 9h3m-2-36h3m-3 9h3m-3 7h3m-3 12h3m-3 2h3m-3 1h3m-3 0h3m-2-61h3m-3 42h3m-3 1h3m-3 12h3m-2-40h3m-3 13h3m-3 41h3m-2-67h3m-3 30h3m-3 3h3m-3 5h3m-3 8h3m-3 0h3m-3 1h3m-3 6h3m-3 8h3m-3 0h3m-3 2h3m-3 3h3m-2-186h3m-3 121h3m-3 6h3m-3 14h3m-3 8h3m-3 8h3m-3 3h3m-3 6h3m-3 3h3m-2-56h3m-3 15h3m-3 1h3m-3 39h3m-3 1h3m-3 4h3m-3 9h3m-2-38h3m-3 12h3m-3 2h3m-3 0h3m-3 8h3m-3 1h3m-3 2h3m-3 2h3m-3 2h3m-3 0h3m-3 4h3m-3 1h3m-3 2h3m-3 3h3m-2-71h3m-3 30h3m-3 19h3m-3 8h3m-3 0h3m-3 10h3m-3 6h3m-2-171h3m-3 138h3m-3 17h3m-3 15h3m-2-48h3m-3 10h3m-3 0h3m-3 8h3m-3 0h3m-3 4h3m-3 13h3m-3 3h3m-2-27h3m-3 8h3m-3 7h3m-3 4h3m-2-34h3m-3 18h3m-3 4h3m-3 3h3m-3 10h3m-3 2h3m-3 3h3m-2-55h3m-3 21h3m-3 13h3m-3 3h3m-3 4h3m-3 2h3m-3 1h3m-3 0h3m-3 4h3m-3 12h3m-2-26h3m-3 7h3m-3 2h3m-3 0h3m-3 11h3m-3 8h3m-3 4h3m-2-44h3m-3 20h3m-3 1h3m-3 5h3m-3 2h3m-3 1h3m-3 2h3m-3 2h3m-3 8h3m-3 2h3m-3 5h3m-2-66h3m-3 8h3m-3 7h3m-3 19h3m-3 8h3m-3 17h3m-2-54h3m-3 7h3m-3 4h3m-3 17h3m-3 4h3m-3 8h3m-3 3h3m-3 12h3m-2-208h3m-3 157h3m-3 7h3m-3 5h3m-3 1h3m-3 2h3m-3 11h3m-3 2h3m-3 2h3m-3 9h3m-2-37h3m-3 3h3m-3 33h3m-3 1h3m-3 8h3m-3 1h3m-2-44h3m-3 7h3m-3 12h3m-3 2h3m-3 1h3m-3 19h3m-3 8h3m-2-223h3m-3 152h3m-3 44h3m-3 9h3m-3 1h3m-3 1h3m-3 2h3m-3 3h3m-3 5h3m-2-53h3m-3 12h3m-3 2h3m-3 0h3m-3 5h3m-3 9h3m-3 0h3m-3 0h3m-3 14h3m-3 16h3m-3 2h3m-2-196h3m-3 116h3m-3 37h3m-3 8h3m-3 2h3m-3 1h3m-3 1h3m-3 12h3m-3 2h3m-3 6h3m-2-44h3m-3 6h3m-3 11h3m-3 2h3m-3 3h3m-3 2h3m-3 11h3m-3 3h3m-3 20h3m-2-52h3m-3 1h3m-3 0h3m-3 2h3m-3 8h3m-3 6h3m-3 3h3m-3 5h3m-3 0h3m-3 15h3m-2-10h3m-3 3h3m-3 7h3m-3 0h3m-3 1h3m-3 9h3m-3 0h3m-2-60h3m-3 12h3m-3 7h3m-3 0h3m-3 1h3m-3 3h3m-3 3h3m-3 2h3m-3 4h3m-3 1h3m-3 1h3m-3 7h3m-3 13h3m-3 9h3m-2-59h3m-3 3h3m-3 22h3m-3 12h3m-3 8h3m-3 7h3m-2-186h3m-3 140h3m-3 4h3m-3 6h3m-3 2h3m-3 4h3m-3 25h3m-3 1h3m-3 5h3m-2-50h3m-3 32h3m-3 7h3m-3 8h3m-3 1h3m-2-61h3m-3 14h3m-3 1h3m-3 17h3m-3 9h3m-3 17h3m-3 3h3m-2-46h3m-3 16h3m-3 9h3m-3 12h3m-3 3h3m-2-57h3m-3 25h3m-3 1h3m-3 1h3m-3 5h3m-3 1h3m-3 5h3m-3 1h3m-3 3h3m-3 3h3m-3 3h3m-3 1h3m-3 11h3m-2-71h3m-3 28h3m-3 0h3m-3 12h3m-3 9h3m-3 2h3m-3 0h3m-3 2h3m-3 1h3m-3 10h3m-3 1h3m-3 3h3m-2-58h3m-3 20h3m-3 9h3m-3 5h3m-3 0h3m-3 1h3m-3 5h3m-3 2h3m-3 0h3m-3 12h3m-3 3h3m-3 11h3m-3 2h3m-2-40h3m-3 2h3m-3 1h3m-3 2h3m-3 11h3m-3 1h3m-3 12h3m-3 0h3m-3 9h3m-2-51h3m-3 10h3m-3 3h3m-3 0h3m-3 8h3m-3 1h3m-3 3h3m-3 0h3m-3 1h3m-3 5h3m-3 7h3m-2-136h3m-3 85h3m-3 21h3m-3 16h3m-3 8h3m-3 23h3m-2-231h3m-3 156h3m-3 11h3m-3 8h3m-3 12h3m-3 1h3m-3 2h3m-3 7h3m-3 15h3m-2-107h3m-3 42h3m-3 29h3m-3 1h3m-3 9h3m-3 12h3m-3 1h3m-3 8h3m-3 7h3m-3 2h3m-2-71h3m-3 8h3m-3 29h3m-3 2h3m-3 10h3m-3 2h3m-3 6h3m-3 2h3m-3 16h3m-2-55h3m-3 2h3m-3 14h3m-3 6h3m-3 18h3m-3 4h3m-3 2h3m-3 5h3m-2-31h3m-3 22h3m-2-27h3m-3 0h3m-3 7h3m-3 1h3m-3 8h3m-3 2h3m-3 4h3m-3 1h3m-3 1h3m-3 3h3m-3 1h3m-3 5h3m-3 11h3m-2-71h3m-3 2h3m-3 18h3m-3 13h3m-3 9h3m-3 3h3m-3 3h3m-3 2h3m-3 16h3m-3 7h3m-2-106h3m-3 42h3m-3 1h3m-3 2h3m-3 15h3m-3 5h3m-3 29h3m-3 8h3m-2-80h3m-3 14h3m-3 18h3m-3 1h3m-3 8h3m-3 4h3m-3 7h3m-3 3h3m-3 3h3m-3 13h3m-3 2h3m-3 16h3m-2-53h3m-3 5h3m-3 3h3m-3 0h3m-3 6h3m-3 2h3m-3 15h3m-3 14h3m-2-60h3m-3 8h3m-3 14h3m-3 1h3m-3 6h3m-3 21h3m-3 1h3m-3 11h3m-2-105h3m-3 12h3m-3 20h3m-3 25h3m-3 2h3m-3 8h3m-3 2h3m-3 3h3m-3 12h3m-3 19h3m-2-105h3m-3 30h3m-3 18h3m-3 5h3m-3 3h3m-3 2h3m-3 3h3m-3 10h3m-3 12h3m-3 28h3m-3 2h3m-2-105h3m-3 10h3m-3 33h3m-3 1h3m-3 51h3m-3 5h3m-2-212h3m-3 123h3m-3 1h3m-3 27h3m-3 18h3m-3 10h3m-3 8h3m-3 3h3m-3 7h3m-3 0h3m-3 8h3m-2-58h3m-3 44h3m-3 2h3m-3 1h3m-3 6h3m-3 5h3m-3 1h3m-3 9h3m-2-74h3m-3 17h3m-3 22h3m-3 1h3m-3 2h3m-3 6h3m-3 5h3m-3 2h3m-3 1h3m-2-66h3m-3 22h3m-3 27h3m-3 9h3m-3 25h3m-2-88h3m-3 15h3m-3 3h3m-3 16h3m-3 9h3m-3 23h3m-3 5h3m-3 0h3m-2-39h3m-3 11h3m-3 4h3m-3 21h3m-3 2h3m-3 1h3m-3 4h3m-3 7h3m-2-48h3m-3 26h3m-3 7h3m-3 7h3m-2-45h3m-3 3h3m-3 8h3m-3 1h3m-3 17h3m-3 4h3m-3 18h3m-2-113h3m-3 62h3m-3 0h3m-3 10h3m-3 12h3m-3 3h3m-3 14h3m-3 10h3m-2-65h3m-3 10h3m-3 17h3m-3 10h3m-2-57h3m-3 34h3m-3 25h3m-3 2h3m-3 4h3m-2-87h3m-3 35h3m-3 10h3m-3 55h3m-2-87h3m-3 46h3m-3 14h3m-3 5h3m-3 39h3m-2-63h3m-3 3h3m-3 48h3m-2-105h3m-3 55h3m-3 35h3m-2-29h3m-3 7h3m-3 3h3m-3 5h3m-3 7h3m-3 10h3m-3 3h3m-2-89h3m-3 12h3m-3 3h3m-3 7h3m-3 3h3m-3 31h3m-3 11h3m-3 2h3m-3 7h3m-3 4h3m-3 5h3m-2-120h3m-3 85h3m-3 7h3m-3 30h3m-3 12h3m-2-89h3m-3 19h3m-3 51h3m-3 7h3m-3 20h3m-3 5h3m-2-105h3m-3 8h3m-3 14h3m-3 9h3m-3 8h3m-3 34h3m-2-77h3m-3 20h3m-3 6h3m-3 51h3m-3 6h3m-3 0h3m-3 4h3m-2-76h3m-3 4h3m-3 11h3m-3 14h3m-3 2h3m-2-111h3m-3 112h3m-3 13h3m-2-51h3m-3 30h3m-3 16h3m-3 10h3m-3 4h3m-3 7h3m-3 31h3m-2-85h3m-3 5h3m-3 22h3m-3 2h3m-3 0h3m-3 20h3m-3 0h3m-3 1h3m-3 27h3m-3 10h3m-2-79h3m-3 21h3m-3 15h3m-2-91h3m-3 34h3m-3 45h3m-3 34h3m-2-104h3m-3 53h3m-3 23h3m-3 2h3m-3 1h3m-3 13h3m-2-126h3m-3 42h3m-3 7h3m-3 30h3m-3 10h3m-3 0h3m-3 12h3m-3 2h3m-3 30h3m-2-111h3m-3 48h3m-3 24h3m-3 26h3m-3 2h3m-3 7h3m-2-19h3m-3 8h3m-2-38h3m-3 2h3m-3 19h3m-2-94h3m-3 64h3m-3 4h3m-3 40h3m-2 37h3m-2-71h3m-3 7h3m-3 9h3m-3 7h3m-3 6h3m-3 0h3m-2-38h3m-3 24h3m-3 2h3m-3 3h3m-2-89h3m-3 40h3m-3 15h3m-3 39h3m-2-79h3m-3 6h3m-3 24h3m-3 11h3m-3 13h3m-3 47h3m-2-102h3m-3 33h3m-3 8h3m-3 44h3m-2-53h3m-3 8h3m-3 26h3m-3 1h3m-3 15h3m-3 13h3m-3 8h3m-2-183h3m-3 16h3m-3 69h3m-3 46h3m-3 14h3m-3 11h3m-2-36h3m-3 16h3m-3 0h3m-3 3h3m-3 5h3m-3 5h3m-3 2h3m-3 7h3m-2-46h3m-3 16h3m-3 20h3m-3 6h3m-3 18h3m-3 20h3m-2-172h3m-3 52h3m-3 34h3m-3 35h3m-3 56h3m-2-78h3m-3 1h3m-3 21h3m-3 3h3m-2-86h3m-3 1h3m-3 41h3m-3 17h3m-3 24h3m-3 12h3m-3 17h3m-3 9h3m-2-127h3m-3 11h3m-3 23h3m-3 25h3m-3 3h3m-3 28h3m-3 2h3m-3 14h3m-3 16h3m-2-149h3m-3 79h3m-3 26h3m-3 10h3m-3 8h3m-2-85h3m-3 39h3m-3 3h3m-3 32h3m-3 10h3m-3 33h3m-2-198h3m-3 50h3m-3 84h3m-3 5h3m-3 31h3m-3 6h3m-3 3h3m-3 36h3m-2-107h3m-3 18h3m-3 1h3m-3 7h3m-3 16h3m-3 10h3m-3 26h3m-2-74h3m-3 10h3m-3 2h3m-3 19h3m-2-43h3m-3 20h3m-3 29h3m-3 61h3m-3 3h3m-3 20h3m-2-225h3m-3 51h3m-3 70h3m-3 3h3m-3 7h3m-3 1h3m-3 0h3m-3 19h3m-3 0h3m-3 13h3m-2-54h3m-3 5h3m-3 3h3m-3 2h3m-3 5h3m-3 2h3m-3 11h3m-3 6h3m-3 34h3m-2-70h3m-3 9h3m-3 37h3m-3 8h3m-2-174h3m-3 89h3m-3 34h3m-3 23h3m-3 11h3m-3 2h3m-3 47h3m-2-190h3m-3 142h3m-3 30h3m-2-146h3m-3 25h3m-3 10h3m-3 26h3m-3 12h3m-3 26h3m-3 10h3m-3 22h3m-2-94h3m-3 23h3m-3 40h3m-3 11h3m-3 25h3m-3 15h3m-3 1h3m-3 28h3m-2-139h3m-3 58h3m-3 15h3m-3 4h3m-3 4h3m-2-129h3m-3 77h3m-3 17h3m-3 8h3m-3 4h3m-3 2h3m-3 7h3m-3 1h3m-3 19h3m-3 15h3m-2-57h3m-3 102h3m-2-138h3m-3 29h3m-3 0h3m-3 23h3m-3 13h3m-3 48h3m-3 6h3m-2-208h3m-3 106h3m-3 42h3m-3 6h3m-3 7h3m-3 5h3m-2-75h3m-3 3h3m-3 53h3m-3 5h3m-3 7h3m-3 8h3m-2-45h3m-3 6h3m-3 4h3m-3 6h3m-3 52h3m-3 6h3m-3 12h3m-3 8h3m-2-144h3m-2-35h3m-3 23h3m-3 35h3m-3 41h3m-3 1h3m-3 4h3m-3 3h3m-2-15h3m-3 49h3m-2-100h3m-3 24h3m-3 27h3m-3 4h3m-3 19h3m-3 1h3m-3 25h3m-2-138h3m-3 25h3m-3 27h3m-3 32h3m-3 22h3m-3 66h3m-2-151h3m-3 20h3m-3 2h3m-3 6h3m-3 32h3m-3 50h3m-2-133h3m-3 38h3m-3 6h3m-3 4h3m-3 2h3m-3 20h3m-3 2h3m-3 30h3m-3 13h3m-3 1h3m-3 69h3m-2-107h3m-3 20h3m-3 20h3m-3 3h3m-3 3h3m-2-74h3m-3 11h3m-3 31h3m-3 1h3m-3 5h3m-3 4h3m-3 5h3m-3 70h3m-3 5h3m-2-215h3m-3 53h3m-3 31h3m-3 4h3m-3 9h3m-3 36h3m-3 27h3m-3 34h3m-2-115h3m-3 1h3m-3 2h3m-3 3h3m-3 3h3m-3 22h3m-3 10h3m-3 9h3m-3 11h3m-3 31h3m-2-102h3m-3 25h3m-3 15h3m-3 3h3m-3 9h3m-3 17h3m-3 1h3m-3 1h3m-2-76h3m-3 16h3m-3 4h3m-3 6h3m-3 20h3m-3 10h3m-3 16h3m-3 2h3m-3 24h3m-2-83h3m-3 12h3m-3 3h3m-3 6h3m-3 57h3m-2-106h3m-3 127h3m-3 2h3m-3 39h3m-2-188h3m-3 66h3m-3 28h3m-3 1h3m-3 3h3m-3 16h3m-3 2h3m-3 37h3m-2-118h3m-3 10h3m-3 27h3m-3 0h3m-3 10h3m-3 15h3m-3 5h3m-3 2h3m-3 89h3m-2-167h3m-3 48h3m-3 3h3m-3 5h3m-3 7h3m-3 8h3m-3 7h3m-3 6h3m-2-135h3m-3 86h3m-3 27h3m-3 12h3m-3 10h3m-3 15h3m-3 18h3m-3 32h3m-3 12h3m-3 10h3m-2-160h3m-3 90h3m-2-103h3m-3 0h3m-3 24h3m-3 3h3m-3 4h3m-3 4h3m-3 6h3m-3 35h3m-3 1h3m-3 10h3m-3 65h3m-2-115h3m-3 4h3m-3 5h3m-3 3h3m-3 38h3m-3 1h3m-2-65h3m-3 33h3m-3 6h3m-3 6h3m-3 102h3m-2-193h3m-3 12h3m-3 8h3m-3 17h3m-3 19h3m-3 1h3m-3 5h3m-3 6h3m-3 17h3m-3 50h3m-2-199h3m-3 126h3m-3 13h3m-3 2h3m-3 0h3m-3 22h3m-3 7h3m-3 19h3m-3 30h3m-3 31h3m-2-184h3m-3 41h3m-3 7h3m-3 2h3m-3 61h3m-3 63h3m-2-201h3m-3 23h3m-3 25h3m-3 17h3m-3 23h3m-3 9h3m-3 9h3m-3 8h3m-3 19h3m-3 14h3m-2-58h3m-3 17h3m-3 6h3m-3 2h3m-3 10h3m-3 5h3m-3 14h3m-3 23h3m-3 13h3m-2-173h3m-3 53h3m-3 9h3m-3 9h3m-3 15h3m-3 8h3m-3 23h3m-3 40h3m-2-145h3m-3 55h3m-3 13h3m-3 24h3m-3 28h3m-2-127h3m-3 32h3m-3 12h3m-3 6h3m-3 4h3m-3 8h3m-3 0h3m-3 3h3m-3 2h3m-3 5h3m-3 6h3m-3 6h3m-3 3h3m-3 5h3m-3 37h3m-3 2h3m-2-120h3m-3 31h3m-3 32h3m-3 5h3m-3 13h3m-3 13h3m-3 14h3m-2-94h3m-3 7h3m-3 130h3m-2-129h3m-3 34h3m-3 9h3m-3 12h3m-3 11h3m-3 2h3m-3 5h3m-3 5h3m-3 36h3m-2-148h3m-3 27h3m-3 12h3m-3 22h3m-3 4h3m-3 6h3m-3 12h3m-3 4h3m-3 1h3m-3 11h3m-3 64h3m-2-167h3m-3 87h3m-3 5h3m-3 3h3m-3 28h3m-3 4h3m-3 28h3m-3 20h3m-2-114h3m-3 5h3m-3 5h3m-3 3h3m-3 1h3m-3 63h3m-3 58h3m-2-182h3m-3 36h3m-3 6h3m-3 21h3m-3 4h3m-3 25h3m-2-92h3m-3 38h3m-3 11h3m-3 48h3m-3 16h3m-3 38h3m-3 9h3m-3 5h3m-3 2h3m-2-177h3m-3 35h3m-3 2h3m-3 25h3m-3 20h3m-3 6h3m-3 7h3m-3 3h3m-3 6h3m-3 15h3m-3 6h3m-3 55h3m-2-189h3m-3 4h3m-3 32h3m-3 31h3m-3 1h3m-2-23h3m-3 5h3m-3 3h3m-3 19h3m-3 10h3m-3 6h3m-3 9h3m-3 2h3m-3 4h3m-3 8h3m-3 38h3m-2-138h3m-3 26h3m-3 18h3m-3 4h3m-3 32h3m-3 6h3m-3 30h3m-3 1h3m-3 36h3m-3 10h3m-2-151h3m-3 4h3m-3 23h3m-3 3h3m-3 0h3m-3 1h3m-3 23h3m-3 4h3m-3 4h3m-3 17h3m-3 1h3m-3 2h3m-3 8h3m-3 18h3m-3 1h3m-3 18h3m-3 4h3m-2-168h3m-3 40h3m-3 17h3m-3 3h3m-3 8h3m-3 2h3m-3 5h3m-3 1h3m-3 0h3m-3 6h3m-3 24h3m-3 11h3m-3 3h3m-3 1h3m-3 4h3m-3 33h3m-2-119h3m-3 37h3m-3 17h3m-3 1h3m-3 2h3m-3 12h3m-3 2h3m-3 11h3m-3 11h3m-3 1h3m-2-83h3m-3 17h3m-3 12h3m-3 2h3m-3 1h3m-3 10h3m-3 11h3m-3 5h3m-3 18h3m-3 8h3m-3 11h3m-3 25h3m-2-119h3m-3 30h3m-3 23h3m-3 9h3m-3 2h3m-3 19h3m-3 16h3m-3 47h3m-3 33h3m-3 4h3m-2-187h3m-3 7h3m-3 28h3m-3 11h3m-3 23h3m-3 7h3m-3 1h3m-3 1h3m-3 8h3m-3 30h3m-3 9h3m-2-110h3m-3 9h3m-3 5h3m-3 10h3m-3 0h3m-3 1h3m-3 8h3m-3 41h3m-3 78h3m-2-176h3m-3 5h3m-3 24h3m-3 16h3m-3 14h3m-3 14h3m-3 22h3m-2-81h3m-3 7h3m-3 4h3m-3 28h3m-3 1h3m-3 15h3m-3 0h3m-3 6h3m-3 6h3m-2-70h3m-3 37h3m-3 4h3m-3 5h3m-3 7h3m-3 24h3m-3 3h3m-3 42h3m-3 28h3m-2-179h3m-3 5h3m-3 25h3m-3 43h3m-3 3h3m-3 11h3m-3 0h3m-3 8h3m-3 6h3m-3 35h3m-3 21h3m-2-147h3m-3 17h3m-3 4h3m-3 6h3m-3 33h3m-3 8h3m-3 6h3m-3 9h3m-3 16h3m-3 23h3m-3 4h3m-3 26h3m-3 35h3m-2-184h3m-3 6h3m-3 12h3m-3 18h3m-3 4h3m-3 18h3m-3 1h3m-3 18h3m-3 6h3m-3 3h3m-3 34h3m-3 4h3m-2-151h3m-3 36h3m-3 3h3m-3 10h3m-3 16h3m-3 5h3m-3 18h3m-3 13h3m-3 17h3m-3 12h3m-3 5h3m-3 11h3m-2-77h3m-3 11h3m-3 9h3m-3 14h3m-3 36h3m-3 11h3m-3 10h3m-2-143h3m-3 11h3m-3 13h3m-3 11h3m-3 29h3m-3 7h3m-3 11h3m-3 9h3m-3 14h3m-3 9h3m-3 51h3m-3 9h3m-3 1h3m-2-155h3m-3 9h3m-3 8h3m-3 16h3m-3 2h3m-3 20h3m-3 1h3m-3 6h3m-3 4h3m-3 59h3m-3 6h3m-2-147h3m-3 9h3m-3 8h3m-3 3h3m-3 22h3m-3 29h3m-3 8h3m-3 3h3m-3 5h3m-3 13h3m-3 3h3m-3 3h3m-3 10h3m-3 1h3m-3 10h3m-3 12h3m-2-154h3m-3 55h3m-3 11h3m-3 11h3m-3 4h3m-3 5h3m-3 1h3m-3 31h3m-3 23h3m-3 17h3m-3 51h3m-2-198h3m-3 37h3m-3 13h3m-3 5h3m-3 24h3m-3 20h3m-3 5h3m-3 0h3m-2-97h3m-3 35h3m-3 23h3m-3 1h3m-3 9h3m-3 3h3m-3 0h3m-3 8h3m-3 0h3m-3 49h3m-3 46h3m-2-187h3m-3 42h3m-3 8h3m-3 0h3m-3 10h3m-3 5h3m-3 29h3m-3 6h3m-3 11h3m-3 16h3m-3 42h3m-2-184h3m-3 50h3m-3 2h3m-3 29h3m-3 2h3m-3 6h3m-3 3h3m-3 93h3m-3 13h3m-3 23h3m-2-183h3m-3 24h3m-3 9h3m-3 7h3m-3 12h3m-3 0h3m-3 33h3m-3 6h3m-3 21h3m-3 20h3m-2-187h3m-3 13h3m-3 53h3m-3 2h3m-3 6h3m-3 6h3m-3 1h3m-3 24h3m-3 1h3m-3 11h3m-3 9h3m-3 19h3m-2-80h3m-3 23h3m-3 6h3m-3 3h3m-3 4h3m-3 5h3m-3 3h3m-3 29h3m-3 18h3m-3 6h3m-3 41h3m-3 12h3m-2-124h3m-3 12h3m-3 3h3m-3 3h3m-3 1h3m-3 7h3m-3 1h3m-3 2h3m-3 6h3m-3 74h3m-2-130h3m-3 7h3m-3 2h3m-3 7h3m-3 7h3m-3 7h3m-3 1h3m-3 10h3m-3 18h3m-3 25h3m-3 21h3m-3 4h3m-3 5h3m-3 5h3m-3 33h3m-3 18h3m-2-188h3m-3 20h3m-3 2h3m-3 1h3m-3 6h3m-3 40h3m-3 60h3m-2-150h3m-3 29h3m-3 12h3m-3 5h3m-3 6h3m-3 19h3m-3 27h3m-3 6h3m-3 47h3m-2-165h3m-3 39h3m-3 13h3m-3 1h3m-3 23h3m-3 18h3m-3 11h3m-3 3h3m-3 8h3m-3 12h3m-3 3h3m-3 55h3m-2-140h3m-3 2h3m-3 24h3m-3 12h3m-3 10h3m-3 5h3m-3 19h3m-3 6h3m-3 12h3m-3 2h3m-3 13h3m-3 1h3m-3 32h3m-2-142h3m-3 14h3m-3 22h3m-3 29h3m-3 12h3m-3 1h3m-3 17h3m-3 6h3m-3 5h3m-2-98h3m-3 11h3m-3 6h3m-3 13h3m-3 10h3m-3 15h3m-3 2h3m-3 9h3m-3 53h3m-2-187h3m-3 31h3m-3 44h3m-3 10h3m-3 12h3m-3 32h3m-2-73h3m-3 17h3m-3 9h3m-3 25h3m-3 18h3m-3 6h3m-3 15h3m-3 1h3m-3 4h3m-3 13h3m-3 1h3m-3 9h3m-3 9h3m-2-101h3m-3 3h3m-3 6h3m-3 2h3m-3 29h3m-3 2h3m-3 10h3m-3 9h3m-3 3h3m-3 5h3m-3 1h3m-3 24h3m-2-185h3m-3 20h3m-3 53h3m-3 2h3m-3 0h3m-3 10h3m-3 10h3m-3 20h3m-3 21h3m-3 17h3m-3 37h3m-3 1h3m-3 6h3m-2-152h3m-3 10h3m-3 1h3m-3 27h3m-3 38h3m-3 16h3m-3 0h3m-3 4h3m-3 17h3m-3 1h3m-3 60h3m-2-153h3m-3 9h3m-3 2h3m-3 30h3m-3 20h3m-3 62h3m-3 16h3m-3 39h3m-2-152h3m-3 9h3m-3 25h3m-3 22h3m-3 76h3m-2-186h3m-3 66h3m-3 3h3m-3 3h3m-3 1h3m-3 19h3m-3 9h3m-3 1h3m-3 25h3m-2-66h3m-3 0h3m-3 3h3m-3 4h3m-3 44h3m-3 38h3m-3 8h3m-3 22h3m-3 33h3m-2-264h3m-3 79h3m-3 25h3m-3 12h3m-3 4h3m-3 7h3m-3 12h3m-3 71h3m-3 28h3m-2-134h3m-3 63h3m-3 13h3m-3 4h3m-3 20h3m-3 34h3m-3 28h3m-2-171h3m-3 9h3m-3 3h3m-3 8h3m-3 25h3m-3 33h3m-3 16h3m-2-139h3m-3 31h3m-3 15h3m-3 0h3m-3 68h3m-2-107h3m-3 92h3m-3 14h3m-3 9h3m-2-144h3m-3 34h3m-3 37h3m-3 5h3m-3 4h3m-3 5h3m-3 6h3m-3 13h3m-3 9h3m-3 7h3m-3 3h3m-3 5h3m-3 14h3m-3 10h3m-3 23h3m-3 8h3m-3 45h3m-2-200h3m-3 18h3m-3 30h3m-3 3h3m-3 24h3m-3 6h3m-3 23h3m-3 4h3m-3 12h3m-2-96h3m-3 47h3m-3 19h3m-3 6h3m-2-49h3m-3 23h3m-3 4h3m-3 1h3m-3 58h3m-3 83h3m-2-220h3m-3 2h3m-3 5h3m-3 13h3m-3 39h3m-3 4h3m-3 12h3m-3 5h3m-3 18h3m-3 25h3m-2-92h3m-3 13h3m-3 21h3m-3 52h3m-3 49h3m-2-107h3m-3 1h3m-3 12h3m-3 13h3m-3 4h3m-3 3h3m-3 1h3m-3 31h3m-2-126h3m-3 55h3m-3 17h3m-3 3h3m-3 17h3m-3 25h3m-3 9h3m-3 8h3m-3 7h3m-2-78h3m-3 28h3m-3 5h3m-3 5h3m-3 11h3m-3 36h3m-3 22h3m-3 26h3m-3 27h3m-2-213h3m-3 24h3m-3 27h3m-3 12h3m-3 2h3m-3 112h3m-2-160h3m-3 32h3m-3 14h3m-3 9h3m-3 3h3m-3 13h3m-3 20h3m-3 16h3m-3 61h3m-2-176h3m-3 43h3m-3 7h3m-3 3h3m-3 77h3m-3 31h3m-2-154h3m-3 5h3m-3 22h3m-3 7h3m-3 1h3m-3 3h3m-3 11h3m-3 11h3m-3 24h3m-3 20h3m-3 29h3m-2-114h3m-3 7h3m-3 18h3m-3 7h3m-3 12h3m-3 6h3m-3 7h3m-3 43h3m-2-141h3m-3 52h3m-3 128h3m-2-119h3m-3 31h3m-3 25h3m-3 9h3m-2-33h3m-3 17h3m-3 3h3m-3 37h3m-3 6h3m-3 45h3m-2-137h3m-3 9h3m-2-37h3m-3 55h3m-3 8h3m-3 96h3m-2-145h3m-3 11h3m-3 17h3m-3 5h3m-2-51h3m-3 26h3m-3 22h3m-3 20h3m-3 2h3m-3 67h3m-2-178h3m-3 44h3m-3 32h3m-3 15h3m-3 24h3m-3 108h3m-2-189h3m-3 8h3m-3 6h3m-3 73h3m-3 50h3m-2-91h3m-3 2h3m-3 1h3m-3 7h3m-3 32h3m-3 41h3m-3 20h3m-3 20h3m-2-169h3m-3 18h3m-3 54h3m-3 2h3m-3 4h3m-3 8h3m-3 62h3m-2-101h3m-3 40h3m-2-69h3m-3 11h3m-3 49h3m-3 5h3m-3 22h3m-3 67h3m-2-128h3m-3 28h3m-2-116h3m-3 98h3m-3 7h3m-3 60h3m-3 32h3m-2-117h3m-3 11h3m-3 12h3m-3 48h3m-2-79h3m-3 71h3m-3 3h3m-3 26h3m-3 24h3m-2-82h3m-3 4h3m-3 6h3m-2-85h3m-3 58h3m-3 110h3m-2-87h3m-3 5h3m-1-20h3m-3 3h3m-2 17h3m-3 24h3m-3 41h3m-2-189h3m-3 133h3m-3 19h3m-3 22h3m-2-162h3m-3 52h3m-3 60h3m-2-8h3m-2-62h3m-3 15h3m-3 84h3m-3 5h3m-2-85h3m-3 37h3m-3 3h3m-2 65h3m-2-102h3m-2-48h3m-3 4h3m-1 5h3m-3 66h3m-2-13h3m-3 46h3m-2-130h3m-3 112h3m-3 38h3m-2-135h3m-3 18h3m-3 1h3m-3 25h3m-2 46h3m-1-84h3m-1 125h3m-3 20h3m-3 4h3m0-82h3m0 39h3m0-82h3m4 155h3m2-115h3m-2-34h3" stroke="#111" stroke-width="4.0" stroke-opacity="0.85"/>
<text x="289.5" y="374.3" font-size="4.9" text-anchor="middle" font-family='"Liberation Serif", serif' fill="#222">10<tspan font-size="3.6" dy="-2">0</tspan></text>
<text x="286.0" y="368.6" font-size="4.9" text-anchor="middle" font-family='"Liberation Serif", serif' fill="#222" transform="rotate(-90 286.0 368.6)">10<tspan font-size="3.6" dy="-2">0</tspan></text>
<text x="306.6" y="374.3" font-size="4.9" text-anchor="middle" font-family='"Liberation Serif", serif' fill="#222">10<tspan font-size="3.6" dy="-2">1</tspan></text>
<text x="286.0" y="353.8" font-size="4.9" text-anchor="middle" font-family='"Liberation Serif", serif' fill="#222" transform="rotate(-90 286.0 353.8)">10<tspan font-size="3.6" dy="-2">1</tspan></text>
<text x="323.6" y="374.3" font-size="4.9" text-anchor="middle" font-family='"Liberation Serif", serif' fill="#222">10<tspan font-size="3.6" dy="-2">2</tspan></text>
<text x="286.0" y="339.1" font-size="4.9" text-anchor="middle" font-family='"Liberation Serif", serif' fill="#222" transform="rotate(-90 286.0 339.1)">10<tspan font-size="3.6" dy="-2">2</tspan></text>
<text x="340.6" y="374.3" font-size="4.9" text-anchor="middle" font-family='"Liberation Serif", serif' fill="#222">10<tspan font-size="3.6" dy="-2">3</tspan></text>
<text x="286.0" y="324.3" font-size="4.9" text-anchor="middle" font-family='"Liberation Serif", serif' fill="#222" transform="rotate(-90 286.0 324.3)">10<tspan font-size="3.6" dy="-2">3</tspan></text>
<text x="357.7" y="374.3" font-size="4.9" text-anchor="middle" font-family='"Liberation Serif", serif' fill="#222">10<tspan font-size="3.6" dy="-2">4</tspan></text>
<text x="286.0" y="309.5" font-size="4.9" text-anchor="middle" font-family='"Liberation Serif", serif' fill="#222" transform="rotate(-90 286.0 309.5)">10<tspan font-size="3.6" dy="-2">4</tspan></text>
<text x="323.9" y="379.3" font-size="4.4" text-anchor="middle" fill="#111" textLength="22" lengthAdjust="spacingAndGlyphs">Annexin-V PE</text>
<text x="281.0" y="339.2" font-size="4.3" text-anchor="middle" fill="#222" transform="rotate(-90 281.0 339.2)">7AAD</text>
<text x="344.0" y="320.0" font-size="6.6" text-anchor="middle" font-family='"Liberation Serif", serif' fill="#111">9%</text>
<text x="300.8" y="345.0" font-size="6.6" text-anchor="middle" font-family='"Liberation Serif", serif' fill="#111">53%</text>
<text x="347.6" y="345.0" font-size="6.6" text-anchor="middle" font-family='"Liberation Serif", serif' fill="#111">36.4%</text>
<rect x="14.2" y="383.7" width="66.2" height="58.6" fill="none" stroke="#333" stroke-width="0.8"/>
<path d="M44.6 383.7L44.6 442.3" stroke="#333" stroke-width="0.8" fill="none"/>
<path d="M14.2 411.0L80.4 411.0" stroke="#333" stroke-width="0.8" fill="none"/>
<path d="M14.2 442.3V383.7M14.2 442.3H80.4" stroke="#222" stroke-width="0.9" stroke-dasharray="0.7 2.3" fill="none"/>
<path d="M43.5 411.7L14.7 435.3L14.7 441.8L22.7 441.8z" fill="#222" fill-opacity="0.68"/>
<radialGradient id="g336"><stop offset="0" stop-color="#111" stop-opacity="0.95"/><stop offset="0.6" stop-color="#111" stop-opacity="0.57"/><stop offset="1" stop-color="#111" stop-opacity="0"/></radialGradient>
<ellipse cx="18.7" cy="437.8" rx="6.5" ry="6" transform="rotate(0 18.7 437.8)" fill="url(#g336)"/>
<path transform="scale(0.2)" d="M74 2199h3m-2-45h3m-3 52h3m-2-43h3m-3 15h3m-3 1h3m-3 1h3m-3 6h3m-3 1h3m-3 9h3m-3 3h3m-3 9h3m-2-31h3m-3 15h3m-3 4h3m-3 8h3m-3 2h3m-3 2h3m-2-55h3m-3 5h3m-3 3h3m-3 21h3m-3 0h3m-3 6h3m-3 1h3m-3 3h3m-3 9h3m-2-34h3m-3 2h3m-3 3h3m-3 8h3m-3 3h3m-3 2h3m-3 2h3m-3 5h3m-3 5h3m-3 2h3m-3 2h3m-2-59h3m-3 13h3m-3 16h3m-3 2h3m-3 2h3m-3 3h3m-3 3h3m-3 0h3m-3 1h3m-3 9h3m-3 0h3m-3 1h3m-3 0h3m-3 6h3m-3 2h3m-2-34h3m-3 5h3m-3 12h3m-3 0h3m-3 5h3m-3 10h3m-2-23h3m-3 5h3m-3 1h3m-3 5h3m-3 4h3m-3 2h3m-2-14h3m-3 14h3m-3 3h3m-3 9h3m-3 2h3m-2-41h3m-3 17h3m-3 5h3m-3 2h3m-3 2h3m-3 2h3m-3 8h3m-3 4h3m-2-39h3m-3 0h3m-3 5h3m-3 5h3m-3 2h3m-3 13h3m-3 8h3m-3 4h3m-2-60h3m-3 31h3m-3 5h3m-3 2h3m-3 13h3m-3 0h3m-3 8h3m-2-49h3m-3 16h3m-3 8h3m-3 10h3m-3 4h3m-3 2h3m-3 0h3m-3 2h3m-3 6h3m-3 1h3m-3 4h3m-2-29h3m-3 0h3m-3 2h3m-3 8h3m-3 5h3m-3 2h3m-3 2h3m-3 1h3m-3 1h3m-3 3h3m-3 3h3m-2-49h3m-3 6h3m-3 14h3m-3 4h3m-3 0h3m-3 1h3m-3 0h3m-3 3h3m-3 1h3m-3 1h3m-3 0h3m-3 0h3m-3 0h3m-3 0h3m-3 9h3m-3 5h3m-2-10h3m-3 0h3m-3 1h3m-3 1h3m-3 1h3m-2-30h3m-3 9h3m-3 4h3m-3 5h3m-3 0h3m-3 0h3m-3 1h3m-3 2h3m-3 6h3m-3 3h3m-3 4h3m-3 3h3m-2-24h3m-3 1h3m-3 0h3m-3 2h3m-3 1h3m-3 6h3m-3 7h3m-3 1h3m-3 0h3m-3 2h3m-3 5h3m-3 2h3m-3 1h3m-3 1h3m-3 1h3m-3 1h3m-2-49h3m-3 5h3m-3 32h3m-3 3h3m-3 3h3m-2-36h3m-3 19h3m-3 5h3m-3 1h3m-3 8h3m-3 1h3m-3 5h3m-3 2h3m-3 0h3m-2-31h3m-3 3h3m-3 0h3m-3 2h3m-3 3h3m-3 4h3m-3 3h3m-3 8h3m-3 5h3m-3 4h3m-2-50h3m-3 4h3m-3 5h3m-3 13h3m-3 3h3m-3 8h3m-3 2h3m-3 1h3m-3 3h3m-3 2h3m-3 5h3m-2-28h3m-3 6h3m-3 0h3m-3 2h3m-3 2h3m-3 2h3m-3 7h3m-3 1h3m-3 11h3m-3 1h3m-3 1h3m-2-64h3m-3 5h3m-3 20h3m-3 8h3m-3 9h3m-3 0h3m-3 6h3m-3 4h3m-3 3h3m-3 0h3m-3 5h3m-2-43h3m-3 11h3m-3 2h3m-3 6h3m-3 6h3m-3 1h3m-3 4h3m-3 4h3m-3 8h3m-3 2h3m-3 4h3m-2-54h3m-3 20h3m-3 1h3m-3 2h3m-3 2h3m-3 2h3m-3 4h3m-3 3h3m-3 3h3m-3 11h3m-2-27h3m-3 6h3m-3 3h3m-3 0h3m-3 1h3m-3 4h3m-3 8h3m-3 1h3m-3 1h3m-3 2h3m-3 1h3m-3 2h3m-3 2h3m-2-47h3m-3 5h3m-3 11h3m-3 7h3m-3 6h3m-3 7h3m-3 11h3m-2-45h3m-3 7h3m-3 11h3m-3 3h3m-3 0h3m-3 3h3m-3 2h3m-3 1h3m-3 14h3m-3 3h3m-2-44h3m-3 3h3m-3 9h3m-3 4h3m-3 9h3m-3 2h3m-3 2h3m-3 2h3m-3 5h3m-3 1h3m-3 10h3m-2-49h3m-3 4h3m-3 18h3m-3 1h3m-3 2h3m-3 7h3m-3 0h3m-3 1h3m-3 3h3m-3 1h3m-3 1h3m-3 5h3m-2-40h3m-3 6h3m-3 3h3m-3 5h3m-3 6h3m-3 6h3m-3 0h3m-3 3h3m-3 3h3m-3 4h3m-3 1h3m-3 1h3m-3 3h3m-2-43h3m-3 6h3m-3 1h3m-3 6h3m-3 4h3m-3 5h3m-3 4h3m-3 4h3m-3 12h3m-3 2h3m-3 2h3m-2-45h3m-3 2h3m-3 3h3m-3 5h3m-3 13h3m-3 2h3m-3 5h3m-2-33h3m-3 2h3m-3 5h3m-3 0h3m-3 9h3m-3 2h3m-3 4h3m-3 2h3m-3 4h3m-3 9h3m-2-44h3m-3 9h3m-3 1h3m-3 6h3m-3 3h3m-3 13h3m-3 0h3m-3 9h3m-3 1h3m-3 8h3m-3 0h3m-2-47h3m-3 17h3m-3 12h3m-3 3h3m-3 4h3m-3 14h3m-3 1h3m-3 3h3m-2-58h3m-3 15h3m-3 2h3m-3 3h3m-3 17h3m-3 21h3m-2-48h3m-3 12h3m-3 1h3m-3 14h3m-2-47h3m-3 11h3m-3 24h3m-3 13h3m-3 4h3m-3 3h3m-3 6h3m-2-48h3m-3 3h3m-3 5h3m-3 0h3m-3 7h3m-3 7h3m-3 14h3m-3 1h3m-3 9h3m-2-47h3m-3 1h3m-3 14h3m-3 12h3m-3 15h3m-3 2h3m-2-27h3m-3 20h3m-3 3h3m-3 1h3m-3 7h3m-2-47h3m-3 6h3m-3 1h3m-3 4h3m-3 0h3m-3 9h3m-3 6h3m-3 18h3m-2-51h3m-3 13h3m-3 2h3m-3 0h3m-3 13h3m-3 1h3m-3 5h3m-3 12h3m-2-21h3m-3 6h3m-3 10h3m-3 17h3m-2-60h3m-3 11h3m-3 6h3m-3 0h3m-3 15h3m-3 8h3m-3 0h3m-3 8h3m-3 7h3m-2-49h3m-3 0h3m-3 2h3m-3 12h3m-3 6h3m-3 0h3m-3 4h3m-3 1h3m-3 5h3m-3 9h3m-3 0h3m-3 6h3m-2-44h3m-3 10h3m-3 4h3m-3 12h3m-3 23h3m-2-66h3m-3 5h3m-3 51h3m-3 17h3m-2-63h3m-3 3h3m-3 12h3m-3 1h3m-3 12h3m-3 2h3m-3 27h3m-2-59h3m-3 9h3m-3 3h3m-3 1h3m-3 3h3m-3 11h3m-3 6h3m-3 0h3m-3 12h3m-3 6h3m-1-46h3m-3 2h3m-3 24h3m-3 5h3m-3 9h3m-3 2h3m-2-43h3m-3 5h3m-3 11h3m-2-25h3m-3 8h3m-3 6h3m-3 22h3m-3 11h3m-2-47h3m-3 6h3m-3 26h3m-2-21h3m-3 16h3m-3 0h3m-3 15h3m-2-47h3m-3 2h3m-3 8h3m-3 5h3m-3 19h3m-3 1h3m-3 0h3m-3 30h3m-3 2h3m-2-67h3m-3 13h3m-3 13h3m-1-20h3m-3 10h3m-3 31h3m-2-40h3m-3 8h3m-3 3h3m-3 11h3m-2-27h3m-3 6h3m-3 7h3m-3 5h3m-3 1h3m-2-27h3m-3 12h3m-3 19h3m-3 1h3m-3 18h3m-2-30h3m-3 10h3m-2-7h3m-2-27h3m-2 10h3m-3 5h3m-3 1h3m-2-2h3m-2-19h3m-3 24h3m-1-20h3m-3 31h3m-2-20h3m-3 7h3m-3 6h3m-2-27h3m-3 5h3m-3 0h3m-2-1h3m-3 2h3m-3 3h3m-2 9h3m-2-14h3m-3 2h3m-2-16h3m-3 3h3m-3 4h3m-3 4h3m-2 5h3m-3 6h3m-3 2h3m-3 1h3m-3 0h3m-3 11h3m-2-33h3m-3 17h3m-3 1h3m-2-16h3m-2 11h3m-1-13h3m-3 13h3m-3 2h3m-3 30h3m-2-18h3m-2-33h3m-3 1h3m-3 12h3m-2-1h3m-3 2h3m-3 1h3m-2 4h3m-3 0h3m-3 2h3m-2-19h3m-3 3h3m-3 2h3m-3 6h3m-3 2h3m-3 1h3m-3 1h3m-3 1h3m-3 5h3m-3 6h3m-2-33h3m-3 17h3m-2 14h3m-2-36h3m-3 1h3m-3 4h3m-3 13h3m-2-9h3m-3 11h3m-3 5h3m-2-19h3m-3 2h3m-3 4h3m-3 5h3m-2 7h3m-2-19h3m-3 2h3m-3 2h3m-3 3h3m-3 0h3m-3 4h3m-3 4h3m-2-24h3m-3 4h3m-3 13h3m-3 7h3m-2-18h3m-3 11h3m-2-11h3m-3 3h3m-3 1h3m-3 2h3m-3 2h3m-3 3h3m-3 3h3m-3 10h3m-1-20h3m-3 1h3m-3 4h3m-2-11h3m-3 7h3m-3 1h3m-3 1h3m-2 6h3m-2-15h3m-2 8h3m-3 2h3m-3 7h3m-2-20h3m-3 2h3m-3 7h3m-3 3h3m-2-18h3m-3 7h3m-3 11h3m-2-5h3m-2-17h3m-3 1h3m-3 6h3m-3 18h3m-2-20h3m-3 1h3m-3 8h3m-2-11h3m-3 3h3m-3 1h3m-2-5h3m-3 0h3m-3 5h3m-3 11h3m-1-16h3m-3 5h3m-2-3h3m-3 3h3m-3 2h3m-2-10h3m-3 8h3m-3 15h3m-2-25h3m-3 7h3m-3 5h3m-2-16h3m-3 11h3m-3 0h3m-3 0h3m-3 3h3m-2-3h3m-2-14h3m-3 4h3m-3 15h3m-2-11h3m-3 0h3m-2-6h3m-3 3h3m-3 1h3m-3 3h3m-3 3h3m-3 3h3m-2-15h3m-3 4h3m-3 0h3m-3 7h3m-3 5h3m-2-15h3m-3 7h3m-2-14h3m-3 3h3m-3 13h3m-3 1h3m-2-11h3m-3 3h3m-2-6h3m-3 5h3m-3 2h3m-2-12h3m-3 4h3m-3 2h3m-3 6h3m-3 1h3m-3 0h3m-2-14h3m-3 2h3m-3 3h3m-2-5h3m-3 7h3m-3 1h3m-3 6h3m-2-15h3m-3 8h3m-3 1h3m-2-12h3m-3 7h3m-3 4h3m-3 5h3m-3 2h3m-2-5h3m-1-13h3m-3 3h3m-3 2h3m-3 1h3m-3 5h3m-1-7h3m-3 2h3m-3 1h3m-3 2h3m-2-5h3m-3 2h3m-2-5h3m-3 2h3m-2 2h3m-2-8h3m-3 3h3m-3 1h3m-3 0h3m-3 3h3m-3 2h3m-2-5h3m-3 3h3m-3 1h3m-2-5h3m-3 3h3m-2-3h3" stroke="#111" stroke-width="4.0" stroke-opacity="0.75"/>
<text x="13.9" y="448.3" font-size="4.9" text-anchor="middle" font-family='"Liberation Serif", serif' fill="#222">10<tspan font-size="3.6" dy="-2">0</tspan></text>
<text x="10.4" y="442.6" font-size="4.9" text-anchor="middle" font-family='"Liberation Serif", serif' fill="#222" transform="rotate(-90 10.4 442.6)">10<tspan font-size="3.6" dy="-2">0</tspan></text>
<text x="30.4" y="448.3" font-size="4.9" text-anchor="middle" font-family='"Liberation Serif", serif' fill="#222">10<tspan font-size="3.6" dy="-2">1</tspan></text>
<text x="10.4" y="427.9" font-size="4.9" text-anchor="middle" font-family='"Liberation Serif", serif' fill="#222" transform="rotate(-90 10.4 427.9)">10<tspan font-size="3.6" dy="-2">1</tspan></text>
<text x="47.0" y="448.3" font-size="4.9" text-anchor="middle" font-family='"Liberation Serif", serif' fill="#222">10<tspan font-size="3.6" dy="-2">2</tspan></text>
<text x="10.4" y="413.3" font-size="4.9" text-anchor="middle" font-family='"Liberation Serif", serif' fill="#222" transform="rotate(-90 10.4 413.3)">10<tspan font-size="3.6" dy="-2">2</tspan></text>
<text x="63.6" y="448.3" font-size="4.9" text-anchor="middle" font-family='"Liberation Serif", serif' fill="#222">10<tspan font-size="3.6" dy="-2">3</tspan></text>
<text x="10.4" y="398.7" font-size="4.9" text-anchor="middle" font-family='"Liberation Serif", serif' fill="#222" transform="rotate(-90 10.4 398.7)">10<tspan font-size="3.6" dy="-2">3</tspan></text>
<text x="80.1" y="448.3" font-size="4.9" text-anchor="middle" font-family='"Liberation Serif", serif' fill="#222">10<tspan font-size="3.6" dy="-2">4</tspan></text>
<text x="10.4" y="384.0" font-size="4.9" text-anchor="middle" font-family='"Liberation Serif", serif' fill="#222" transform="rotate(-90 10.4 384.0)">10<tspan font-size="3.6" dy="-2">4</tspan></text>
<text x="47.3" y="453.3" font-size="4.4" text-anchor="middle" fill="#111" textLength="32.5" lengthAdjust="spacingAndGlyphs">Mouse IgG1 FITC</text>
<text x="5.4" y="413.5" font-size="4.3" text-anchor="middle" fill="#222" transform="rotate(-90 5.4 413.5)">FL3-H</text>
<rect x="102.7" y="384.2" width="66.9" height="59.1" fill="none" stroke="#333" stroke-width="0.8"/>
<path d="M133.0 384.2L133.0 443.3" stroke="#333" stroke-width="0.8" fill="none"/>
<path d="M102.7 411.2L169.6 411.2" stroke="#333" stroke-width="0.8" fill="none"/>
<path d="M102.7 443.3V384.2M102.7 443.3H169.6" stroke="#222" stroke-width="0.9" stroke-dasharray="0.7 2.3" fill="none"/>
<radialGradient id="g355"><stop offset="0" stop-color="#111" stop-opacity="0.5625"/><stop offset="0.6" stop-color="#111" stop-opacity="0.34"/><stop offset="1" stop-color="#111" stop-opacity="0"/></radialGradient>
<ellipse cx="126" cy="418.2" rx="6" ry="10" transform="rotate(15 126 418.2)" fill="url(#g355)"/>
<radialGradient id="g357"><stop offset="0" stop-color="#111" stop-opacity="0.95"/><stop offset="0.6" stop-color="#111" stop-opacity="0.57"/><stop offset="1" stop-color="#111" stop-opacity="0"/></radialGradient>
<ellipse cx="138" cy="436.3" rx="6" ry="6" transform="rotate(0 138 436.3)" fill="url(#g357)"/>
<path transform="scale(0.2)" d="M529 2093h3m-2 105h3m-1-61h3m-2 15h3m0-156h3m-1 83h3m8 107h3m-2 19h3m-2-61h3m-2-116h3m-2 112h3m-3 37h3m-2-35h3m0-23h3m-3 63h3m-2 10h3m1-196h3m-3 69h3m4-30h3m0 33h3m-2 30h3m2 96h3m2-109h3m-3 3h3m-2-27h3m-3 132h3m-2-125h3m-3 19h3m-1-52h3m-3 34h3m-3 42h3m-3 11h3m-3 64h3m-2-144h3m-3 100h3m-2-44h3m-3 17h3m-2 86h3m-1-138h3m-3 11h3m-2-64h3m-3 61h3m-2 23h3m-3 1h3m-2-48h3m-3 25h3m-3 39h3m-2-99h3m-3 36h3m-2-5h3m-3 23h3m-3 136h3m-2-166h3m-3 21h3m-3 76h3m-1-61h3m-3 9h3m-3 3h3m-2-41h3m-3 12h3m-3 47h3m-3 9h3m-3 9h3m-2-3h3m-2-79h3m-3 2h3m-3 19h3m-3 5h3m-3 16h3m-3 24h3m-2-26h3m-2-6h3m-3 8h3m-3 14h3m-2-23h3m-3 27h3m-3 30h3m-2-81h3m-3 63h3m-3 12h3m-2-101h3m-3 47h3m-3 17h3m-2-39h3m-3 37h3m-3 14h3m-3 4h3m-3 88h3m-2-97h3m-3 19h3m-3 23h3m-2-87h3m-3 5h3m-3 22h3m-3 0h3m-3 13h3m-3 4h3m-3 21h3m-2-74h3m-3 5h3m-3 17h3m-3 10h3m-3 8h3m-3 14h3m-2-64h3m-3 11h3m-3 22h3m-3 15h3m-3 3h3m-3 31h3m-3 14h3m-2-81h3m-3 17h3m-3 17h3m-3 29h3m-3 11h3m-3 23h3m-3 1h3m-2-128h3m-3 17h3m-3 27h3m-3 14h3m-3 18h3m-3 1h3m-3 11h3m-3 1h3m-3 3h3m-3 1h3m-3 7h3m-2-86h3m-3 7h3m-3 12h3m-3 20h3m-3 3h3m-3 2h3m-3 14h3m-3 0h3m-3 3h3m-3 7h3m-3 16h3m-2-54h3m-3 4h3m-3 8h3m-3 12h3m-3 8h3m-3 8h3m-3 2h3m-3 0h3m-3 1h3m-3 5h3m-3 5h3m-2-93h3m-3 23h3m-3 10h3m-3 9h3m-3 11h3m-3 8h3m-3 10h3m-3 3h3m-3 9h3m-3 13h3m-3 26h3m-3 46h3m-2-151h3m-3 10h3m-3 47h3m-3 13h3m-3 6h3m-3 16h3m-3 5h3m-2-121h3m-3 32h3m-3 8h3m-3 1h3m-3 1h3m-3 2h3m-3 25h3m-3 3h3m-3 18h3m-3 0h3m-2-80h3m-3 1h3m-3 6h3m-3 3h3m-3 16h3m-3 19h3m-3 3h3m-3 6h3m-3 4h3m-3 8h3m-3 17h3m-2-87h3m-3 4h3m-3 13h3m-3 1h3m-3 17h3m-3 19h3m-3 14h3m-3 8h3m-2-84h3m-3 3h3m-3 36h3m-3 8h3m-3 14h3m-3 31h3m-3 0h3m-3 6h3m-3 1h3m-3 7h3m-3 11h3m-2-107h3m-3 13h3m-3 21h3m-3 1h3m-3 11h3m-3 11h3m-3 20h3m-3 35h3m-2-123h3m-3 9h3m-3 7h3m-3 3h3m-3 24h3m-3 13h3m-3 9h3m-3 1h3m-3 5h3m-3 15h3m-3 5h3m-3 3h3m-3 1h3m-3 1h3m-3 23h3m-3 0h3m-2-108h3m-3 33h3m-3 5h3m-3 17h3m-3 9h3m-3 2h3m-3 5h3m-3 4h3m-3 10h3m-3 8h3m-3 3h3m-2-106h3m-3 22h3m-3 16h3m-3 15h3m-3 5h3m-3 8h3m-3 4h3m-3 6h3m-3 8h3m-3 1h3m-3 1h3m-3 14h3m-3 6h3m-3 19h3m-2-155h3m-3 26h3m-3 13h3m-3 8h3m-3 11h3m-3 4h3m-3 19h3m-3 18h3m-3 17h3m-3 0h3m-3 6h3m-3 1h3m-3 22h3m-2-131h3m-3 27h3m-3 19h3m-3 14h3m-3 7h3m-3 8h3m-3 1h3m-3 2h3m-3 8h3m-3 3h3m-3 16h3m-3 32h3m-2-91h3m-3 46h3m-3 0h3m-3 3h3m-3 11h3m-3 0h3m-3 16h3m-3 21h3m-2-142h3m-3 16h3m-3 10h3m-3 3h3m-3 11h3m-3 5h3m-3 0h3m-3 22h3m-3 1h3m-3 7h3m-3 16h3m-3 1h3m-3 6h3m-3 10h3m-3 17h3m-3 22h3m-3 1h3m-2-152h3m-3 53h3m-3 1h3m-3 25h3m-3 12h3m-3 1h3m-3 4h3m-3 3h3m-3 1h3m-3 8h3m-3 8h3m-3 6h3m-3 9h3m-3 5h3m-3 11h3m-2-139h3m-3 2h3m-3 6h3m-3 5h3m-3 10h3m-3 18h3m-3 5h3m-3 26h3m-3 5h3m-3 1h3m-3 7h3m-3 29h3m-3 50h3m-3 7h3m-2-181h3m-3 17h3m-3 6h3m-3 7h3m-3 18h3m-3 0h3m-3 1h3m-3 0h3m-3 4h3m-3 10h3m-3 10h3m-3 6h3m-3 15h3m-3 20h3m-3 2h3m-3 4h3m-3 3h3m-3 6h3m-3 10h3m-3 7h3m-3 1h3m-3 8h3m-3 1h3m-2-130h3m-3 0h3m-3 4h3m-3 1h3m-3 31h3m-3 10h3m-3 4h3m-3 5h3m-3 1h3m-3 15h3m-3 1h3m-3 16h3m-3 5h3m-3 8h3m-2-120h3m-3 8h3m-3 5h3m-3 17h3m-3 9h3m-3 7h3m-3 12h3m-3 12h3m-3 0h3m-3 9h3m-3 11h3m-3 13h3m-3 9h3m-3 3h3m-3 6h3m-3 6h3m-2-147h3m-3 28h3m-3 18h3m-3 2h3m-3 3h3m-3 12h3m-3 34h3m-3 9h3m-3 17h3m-3 8h3m-3 1h3m-3 15h3m-3 8h3m-3 10h3m-3 3h3m-2-144h3m-3 14h3m-3 2h3m-3 3h3m-3 5h3m-3 15h3m-3 0h3m-3 7h3m-3 4h3m-3 1h3m-3 24h3m-3 6h3m-3 20h3m-3 0h3m-3 17h3m-3 13h3m-3 11h3m-3 2h3m-3 4h3m-2-145h3m-3 20h3m-3 10h3m-3 4h3m-3 1h3m-3 12h3m-3 18h3m-3 8h3m-3 8h3m-3 0h3m-3 2h3m-3 2h3m-3 9h3m-3 4h3m-3 0h3m-3 5h3m-3 3h3m-3 3h3m-3 5h3m-3 5h3m-3 3h3m-3 5h3m-2-120h3m-3 0h3m-3 8h3m-3 10h3m-3 2h3m-3 7h3m-3 1h3m-3 4h3m-3 3h3m-3 5h3m-3 20h3m-3 6h3m-3 7h3m-3 2h3m-3 7h3m-3 9h3m-3 1h3m-3 1h3m-3 3h3m-3 6h3m-3 17h3m-3 13h3m-3 3h3m-2-152h3m-3 2h3m-3 16h3m-3 4h3m-3 7h3m-3 3h3m-3 3h3m-3 2h3m-3 3h3m-3 7h3m-3 18h3m-3 1h3m-3 8h3m-3 30h3m-3 6h3m-3 4h3m-3 0h3m-3 6h3m-3 16h3m-3 1h3m-3 27h3m-3 1h3m-3 28h3m-2-189h3m-3 18h3m-3 12h3m-3 9h3m-3 51h3m-3 16h3m-3 0h3m-3 5h3m-3 7h3m-3 1h3m-3 21h3m-2-126h3m-3 7h3m-3 3h3m-3 2h3m-3 14h3m-3 16h3m-3 0h3m-3 27h3m-3 13h3m-3 3h3m-3 10h3m-3 13h3m-3 0h3m-2-117h3m-3 8h3m-3 9h3m-3 9h3m-3 8h3m-3 1h3m-3 8h3m-3 4h3m-3 6h3m-3 16h3m-3 2h3m-3 6h3m-3 18h3m-3 11h3m-3 19h3m-2-121h3m-3 2h3m-3 32h3m-3 14h3m-3 39h3m-3 74h3m-3 17h3m-3 12h3m-2-180h3m-3 9h3m-3 10h3m-3 0h3m-3 5h3m-3 13h3m-3 33h3m-3 14h3m-3 7h3m-3 4h3m-3 5h3m-3 2h3m-3 4h3m-3 3h3m-2-111h3m-3 10h3m-3 4h3m-3 0h3m-3 1h3m-3 8h3m-3 38h3m-3 17h3m-3 14h3m-3 16h3m-3 1h3m-3 16h3m-3 29h3m-3 18h3m-2-183h3m-3 6h3m-3 11h3m-3 6h3m-3 8h3m-3 23h3m-3 20h3m-3 64h3m-3 8h3m-3 8h3m-3 0h3m-3 29h3m-3 4h3m-2-188h3m-3 1h3m-3 34h3m-3 2h3m-3 17h3m-3 6h3m-3 14h3m-3 0h3m-3 2h3m-3 3h3m-3 25h3m-3 5h3m-3 5h3m-3 2h3m-3 3h3m-3 7h3m-2-118h3m-3 16h3m-3 9h3m-3 4h3m-3 33h3m-3 38h3m-3 1h3m-3 29h3m-3 7h3m-3 17h3m-3 23h3m-2-176h3m-3 53h3m-3 26h3m-3 11h3m-3 1h3m-3 15h3m-3 36h3m-3 38h3m-2-182h3m-3 19h3m-3 21h3m-3 10h3m-3 9h3m-3 31h3m-3 22h3m-3 9h3m-3 1h3m-3 30h3m-3 49h3m-2-176h3m-3 35h3m-3 23h3m-3 1h3m-3 5h3m-2-97h3m-3 6h3m-3 6h3m-3 2h3m-3 18h3m-3 12h3m-3 0h3m-3 4h3m-3 9h3m-3 30h3m-3 15h3m-3 11h3m-3 65h3m-3 10h3m-2-175h3m-3 2h3m-3 3h3m-3 2h3m-3 2h3m-3 3h3m-3 20h3m-3 5h3m-3 16h3m-3 18h3m-3 12h3m-3 6h3m-3 15h3m-3 28h3m-3 40h3m-2-162h3m-3 11h3m-3 9h3m-3 52h3m-3 11h3m-3 18h3m-3 44h3m-3 1h3m-2-157h3m-3 22h3m-3 15h3m-3 43h3m-3 0h3m-3 12h3m-3 17h3m-3 5h3m-3 0h3m-3 35h3m-3 20h3m-2-189h3m-3 31h3m-3 3h3m-3 2h3m-3 4h3m-3 3h3m-3 41h3m-3 32h3m-3 60h3m-3 8h3m-2-167h3m-3 3h3m-3 2h3m-3 2h3m-3 10h3m-3 5h3m-3 35h3m-3 108h3m-3 4h3m-3 31h3m-2-181h3m-3 11h3m-3 5h3m-3 20h3m-3 15h3m-3 7h3m-3 13h3m-3 8h3m-3 26h3m-3 1h3m-3 1h3m-2-122h3m-3 8h3m-3 14h3m-3 92h3m-3 46h3m-3 3h3m-3 12h3m-2-200h3m-3 18h3m-3 15h3m-3 37h3m-3 7h3m-3 22h3m-3 49h3m-3 35h3m-3 9h3m-3 22h3m-2-215h3m-3 26h3m-3 71h3m-3 13h3m-3 2h3m-3 49h3m-3 22h3m-3 9h3m-3 1h3m-3 10h3m-3 5h3m-3 2h3m-3 7h3m-3 5h3m-2-208h3m-3 28h3m-3 2h3m-3 6h3m-3 27h3m-3 29h3m-3 4h3m-3 43h3m-3 29h3m-3 12h3m-3 2h3m-3 5h3m-3 2h3m-3 6h3m-2-192h3m-3 1h3m-3 4h3m-3 19h3m-3 140h3m-3 2h3m-3 2h3m-3 23h3m-3 10h3m-2-198h3m-3 67h3m-3 37h3m-3 43h3m-3 21h3m-3 2h3m-3 12h3m-3 10h3m-2-187h3m-3 26h3m-3 32h3m-3 4h3m-3 85h3m-3 1h3m-3 3h3m-3 20h3m-3 22h3m-3 3h3m-2-178h3m-3 5h3m-3 7h3m-3 84h3m-3 38h3m-3 2h3m-3 2h3m-3 4h3m-3 1h3m-3 1h3m-3 8h3m-3 7h3m-3 2h3m-3 17h3m-3 2h3m-3 1h3m-3 1h3m-2-199h3m-3 3h3m-3 7h3m-3 115h3m-3 20h3m-3 0h3m-3 6h3m-3 9h3m-3 4h3m-3 5h3m-3 13h3m-3 2h3m-3 5h3m-2-91h3m-3 44h3m-3 5h3m-3 6h3m-3 5h3m-3 18h3m-3 3h3m-2-190h3m-3 21h3m-3 1h3m-3 9h3m-3 122h3m-3 4h3m-3 15h3m-3 14h3m-3 7h3m-3 1h3m-3 5h3m-3 1h3m-2-194h3m-3 8h3m-3 1h3m-3 6h3m-3 6h3m-3 9h3m-3 37h3m-3 81h3m-3 11h3m-3 4h3m-3 4h3m-3 0h3m-3 2h3m-3 2h3m-3 1h3m-3 4h3m-3 1h3m-3 1h3m-3 1h3m-3 2h3m-3 8h3m-3 0h3m-3 3h3m-3 13h3m-2-163h3m-3 56h3m-3 35h3m-3 18h3m-3 12h3m-3 6h3m-3 1h3m-3 1h3m-3 4h3m-3 1h3m-3 1h3m-3 2h3m-3 3h3m-3 0h3m-3 0h3m-3 16h3m-2-90h3m-3 26h3m-3 5h3m-3 19h3m-3 5h3m-3 4h3m-3 3h3m-3 5h3m-3 0h3m-3 7h3m-3 18h3m-2-173h3m-3 122h3m-3 9h3m-3 3h3m-3 2h3m-3 1h3m-3 12h3m-3 10h3m-3 4h3m-2-176h3m-3 129h3m-3 4h3m-3 5h3m-3 4h3m-3 4h3m-3 0h3m-3 4h3m-3 1h3m-3 1h3m-3 1h3m-3 2h3m-3 2h3m-3 2h3m-3 1h3m-2-186h3m-3 17h3m-3 2h3m-3 2h3m-3 133h3m-3 16h3m-3 8h3m-3 14h3m-3 6h3m-3 0h3m-3 2h3m-3 4h3m-3 2h3m-3 1h3m-2-184h3m-3 56h3m-3 82h3m-3 12h3m-3 2h3m-3 5h3m-3 10h3m-3 1h3m-3 4h3m-3 1h3m-3 1h3m-3 2h3m-3 3h3m-3 3h3m-3 12h3m-2-65h3m-3 7h3m-3 6h3m-3 0h3m-3 12h3m-3 1h3m-3 1h3m-3 1h3m-3 1h3m-3 0h3m-3 3h3m-3 3h3m-3 1h3m-3 3h3m-3 2h3m-3 10h3m-3 14h3m-3 1h3m-2-163h3m-3 51h3m-3 57h3m-3 8h3m-3 1h3m-3 9h3m-3 4h3m-3 1h3m-3 1h3m-3 0h3m-3 0h3m-3 1h3m-3 2h3m-3 3h3m-3 0h3m-3 0h3m-3 4h3m-3 3h3m-3 6h3m-2-133h3m-3 86h3m-3 11h3m-3 1h3m-3 5h3m-3 1h3m-3 0h3m-3 5h3m-3 0h3m-3 22h3m-3 1h3m-3 5h3m-2-156h3m-3 104h3m-3 3h3m-3 2h3m-3 7h3m-3 1h3m-3 2h3m-3 4h3m-3 3h3m-3 6h3m-3 1h3m-3 19h3m-3 6h3m-3 1h3m-2-55h3m-3 4h3m-3 4h3m-3 1h3m-3 1h3m-3 3h3m-3 10h3m-3 5h3m-3 1h3m-3 5h3m-3 1h3m-3 0h3m-3 6h3m-3 3h3m-3 5h3m-3 3h3m-3 0h3m-3 1h3m-3 4h3m-2-183h3m-3 129h3m-3 9h3m-3 1h3m-3 0h3m-3 5h3m-3 0h3m-3 0h3m-3 1h3m-3 2h3m-3 2h3m-3 3h3m-3 2h3m-3 2h3m-3 3h3m-3 2h3m-3 4h3m-3 0h3m-3 4h3m-3 0h3m-3 4h3m-3 3h3m-3 1h3m-2-181h3m-3 102h3m-3 16h3m-3 5h3m-3 9h3m-3 12h3m-3 1h3m-3 11h3m-3 7h3m-3 6h3m-3 0h3m-3 0h3m-3 11h3m-3 3h3m-2-50h3m-3 11h3m-3 0h3m-3 2h3m-3 2h3m-3 0h3m-3 2h3m-3 7h3m-3 3h3m-3 0h3m-3 8h3m-3 4h3m-3 3h3m-3 2h3m-3 3h3m-3 9h3m-2-153h3m-3 94h3m-3 1h3m-3 7h3m-3 2h3m-3 1h3m-3 4h3m-3 0h3m-3 8h3m-3 0h3m-3 1h3m-3 2h3m-3 2h3m-3 1h3m-3 10h3m-3 1h3m-3 3h3m-3 3h3m-3 1h3m-3 0h3m-3 2h3m-3 3h3m-3 1h3m-3 3h3m-2-68h3m-3 1h3m-3 13h3m-3 0h3m-3 0h3m-3 5h3m-3 1h3m-3 5h3m-3 1h3m-3 5h3m-3 1h3m-3 1h3m-3 1h3m-3 0h3m-3 0h3m-3 5h3m-3 2h3m-3 1h3m-3 1h3m-3 3h3m-3 5h3m-3 3h3m-3 5h3m-2-59h3m-3 25h3m-3 2h3m-3 7h3m-3 1h3m-3 5h3m-3 2h3m-3 11h3m-3 2h3m-3 0h3m-3 2h3m-3 13h3m-2-62h3m-3 5h3m-3 2h3m-3 5h3m-3 3h3m-3 3h3m-3 1h3m-3 1h3m-3 0h3m-3 2h3m-3 6h3m-3 5h3m-3 2h3m-3 2h3m-3 5h3m-3 4h3m-3 9h3m-3 2h3m-3 2h3m-3 0h3m-3 1h3m-2-75h3m-3 4h3m-3 27h3m-3 0h3m-3 3h3m-3 2h3m-3 1h3m-3 1h3m-3 1h3m-3 3h3m-3 3h3m-3 1h3m-3 1h3m-3 3h3m-3 1h3m-3 1h3m-3 0h3m-3 3h3m-3 1h3m-3 2h3m-3 0h3m-3 3h3m-3 5h3m-3 1h3m-3 1h3m-3 9h3m-2-169h3m-3 100h3m-3 15h3m-3 7h3m-3 5h3m-3 1h3m-3 0h3m-3 4h3m-3 3h3m-3 1h3m-3 0h3m-3 2h3m-3 3h3m-3 2h3m-3 1h3m-3 9h3m-3 3h3m-3 2h3m-3 7h3m-2-157h3m-3 65h3m-3 22h3m-3 26h3m-3 2h3m-3 0h3m-3 1h3m-3 0h3m-3 3h3m-3 1h3m-3 12h3m-3 3h3m-3 1h3m-3 0h3m-3 1h3m-3 1h3m-3 6h3m-3 5h3m-2-92h3m-3 16h3m-3 28h3m-3 7h3m-3 7h3m-3 11h3m-3 8h3m-3 3h3m-3 5h3m-3 4h3m-3 3h3m-3 3h3m-3 1h3m-3 3h3m-2-51h3m-3 5h3m-3 4h3m-3 7h3m-3 2h3m-3 1h3m-3 2h3m-3 3h3m-3 7h3m-3 0h3m-3 3h3m-3 1h3m-3 4h3m-3 1h3m-3 0h3m-3 8h3m-3 9h3m-2-151h3m-3 80h3m-3 12h3m-3 4h3m-3 4h3m-3 0h3m-3 2h3m-3 9h3m-3 2h3m-3 3h3m-3 2h3m-3 1h3m-3 4h3m-3 4h3m-3 3h3m-3 2h3m-3 3h3m-3 1h3m-3 5h3m-3 1h3m-3 0h3m-3 2h3m-2-137h3m-3 66h3m-3 21h3m-3 4h3m-3 7h3m-3 4h3m-3 0h3m-3 3h3m-3 0h3m-3 2h3m-3 2h3m-3 5h3m-3 3h3m-3 1h3m-3 5h3m-3 3h3m-3 7h3m-3 0h3m-3 1h3m-3 9h3m-3 1h3m-2-56h3m-3 12h3m-3 1h3m-3 3h3m-3 8h3m-3 9h3m-3 2h3m-3 2h3m-3 3h3m-3 9h3m-3 2h3m-3 0h3m-3 2h3m-2-52h3m-3 5h3m-3 4h3m-3 1h3m-3 6h3m-3 3h3m-3 0h3m-3 3h3m-3 7h3m-3 2h3m-3 2h3m-3 1h3m-3 1h3m-3 7h3m-2-161h3m-3 121h3m-3 27h3m-3 1h3m-3 1h3m-3 0h3m-3 0h3m-3 1h3m-3 7h3m-3 2h3m-3 2h3m-3 3h3m-2-48h3m-3 4h3m-3 5h3m-3 7h3m-3 7h3m-3 1h3m-3 3h3m-3 0h3m-3 1h3m-3 8h3m-3 2h3m-3 2h3m-3 8h3m-2-53h3m-3 1h3m-3 5h3m-3 3h3m-3 1h3m-3 1h3m-3 2h3m-3 6h3m-3 1h3m-3 5h3m-3 4h3m-3 6h3m-3 5h3m-3 1h3m-3 7h3m-3 5h3m-3 3h3m-2-77h3m-3 18h3m-3 10h3m-3 3h3m-3 6h3m-3 4h3m-3 4h3m-3 6h3m-3 6h3m-3 9h3m-3 5h3m-3 2h3m-3 2h3m-3 7h3m-2-83h3m-3 16h3m-3 13h3m-3 4h3m-3 1h3m-3 6h3m-3 1h3m-3 5h3m-3 1h3m-3 1h3m-3 4h3m-3 2h3m-3 0h3m-3 4h3m-3 2h3m-3 2h3m-3 5h3m-3 10h3m-2-54h3m-3 6h3m-3 12h3m-3 6h3m-3 7h3m-3 15h3m-3 4h3m-3 2h3m-3 4h3m-3 2h3m-2-67h3m-3 16h3m-3 2h3m-3 10h3m-3 0h3m-3 12h3m-3 1h3m-3 8h3m-3 3h3m-3 7h3m-3 5h3m-2-59h3m-3 10h3m-3 6h3m-3 9h3m-3 1h3m-3 1h3m-3 3h3m-3 6h3m-3 4h3m-3 2h3m-3 14h3m-3 8h3m-2-69h3m-3 1h3m-3 17h3m-3 16h3m-3 0h3m-3 2h3m-3 2h3m-3 2h3m-3 3h3m-3 2h3m-3 9h3m-3 7h3m-3 6h3m-2-36h3m-3 11h3m-3 17h3m-3 5h3m-2-127h3m-3 75h3m-3 5h3m-3 13h3m-3 3h3m-3 1h3m-3 1h3m-3 0h3m-3 0h3m-3 9h3m-3 9h3m-3 1h3m-3 5h3m-2-89h3m-3 57h3m-3 7h3m-3 5h3m-3 1h3m-3 4h3m-3 6h3m-3 3h3m-3 4h3m-3 2h3m-3 7h3m-2-146h3m-3 54h3m-3 43h3m-3 9h3m-3 13h3m-3 4h3m-3 3h3m-3 1h3m-3 8h3m-3 5h3m-2-125h3m-3 95h3m-3 12h3m-3 10h3m-3 6h3m-2-42h3m-3 0h3m-3 0h3m-3 1h3m-3 4h3m-3 6h3m-3 1h3m-3 9h3m-3 2h3m-3 0h3m-3 3h3m-2-14h3m-3 5h3m-2-19h3m-3 24h3m-3 1h3m-3 12h3m-3 6h3m-2-125h3m-3 85h3m-3 13h3m-3 19h3m-3 22h3m-2-115h3m-3 64h3m-3 23h3m-3 10h3m-3 6h3m-2-184h3m-3 148h3m-3 7h3m-2-5h3m-3 5h3m-3 14h3m-3 15h3m-3 5h3m-2-145h3m-3 19h3m-3 106h3m-3 19h3m-2-24h3m-2-28h3m-3 6h3m-3 2h3m-3 30h3m-3 13h3m-2-5h3m-2-49h3m-3 0h3m-3 0h3m-3 14h3m-3 16h3m-2-19h3m-3 27h3m-3 14h3m-2-75h3m-3 17h3m-3 38h3m-2-41h3m-3 48h3m-1-62h3m-2 56h3m-3 24h3m-2-116h3m-3 65h3m-2-10h3m-3 31h3m-3 1h3m-2-62h3m-1-103h3m-3 92h3m-3 74h3m-2-116h3m-2 101h3m-2-8h3m-1-9h3m-1-1h3m-3 33h3m-2-72h3m-1-23h3m-2-59h3m3 151h3m-2-3h3m-2-116h3m-3 65h3m-1 43h3m-2-88h3m-2 2h3m2 2h3m2-68h3m-1 148h3m-3 37h3m-2-161h3m5-25h3m-2 27h3m-3 90h3m3-24h3m2-47h3m0-30h3" stroke="#111" stroke-width="4.0" stroke-opacity="0.85"/>
<text x="102.4" y="449.3" font-size="4.9" text-anchor="middle" font-family='"Liberation Serif", serif' fill="#222">10<tspan font-size="3.6" dy="-2">0</tspan></text>
<text x="98.9" y="443.6" font-size="4.9" text-anchor="middle" font-family='"Liberation Serif", serif' fill="#222" transform="rotate(-90 98.9 443.6)">10<tspan font-size="3.6" dy="-2">0</tspan></text>
<text x="119.1" y="449.3" font-size="4.9" text-anchor="middle" font-family='"Liberation Serif", serif' fill="#222">10<tspan font-size="3.6" dy="-2">1</tspan></text>
<text x="98.9" y="428.8" font-size="4.9" text-anchor="middle" font-family='"Liberation Serif", serif' fill="#222" transform="rotate(-90 98.9 428.8)">10<tspan font-size="3.6" dy="-2">1</tspan></text>
<text x="135.8" y="449.3" font-size="4.9" text-anchor="middle" font-family='"Liberation Serif", serif' fill="#222">10<tspan font-size="3.6" dy="-2">2</tspan></text>
<text x="98.9" y="414.1" font-size="4.9" text-anchor="middle" font-family='"Liberation Serif", serif' fill="#222" transform="rotate(-90 98.9 414.1)">10<tspan font-size="3.6" dy="-2">2</tspan></text>
<text x="152.6" y="449.3" font-size="4.9" text-anchor="middle" font-family='"Liberation Serif", serif' fill="#222">10<tspan font-size="3.6" dy="-2">3</tspan></text>
<text x="98.9" y="399.3" font-size="4.9" text-anchor="middle" font-family='"Liberation Serif", serif' fill="#222" transform="rotate(-90 98.9 399.3)">10<tspan font-size="3.6" dy="-2">3</tspan></text>
<text x="169.3" y="449.3" font-size="4.9" text-anchor="middle" font-family='"Liberation Serif", serif' fill="#222">10<tspan font-size="3.6" dy="-2">4</tspan></text>
<text x="98.9" y="384.5" font-size="4.9" text-anchor="middle" font-family='"Liberation Serif", serif' fill="#222" transform="rotate(-90 98.9 384.5)">10<tspan font-size="3.6" dy="-2">4</tspan></text>
<text x="136.2" y="454.3" font-size="4.4" text-anchor="middle" fill="#111" textLength="18.5" lengthAdjust="spacingAndGlyphs">CD3 FITC</text>
<text x="93.9" y="414.2" font-size="4.3" text-anchor="middle" fill="#222" transform="rotate(-90 93.9 414.2)">7AAD</text>
<text x="117.2" y="394.7" font-size="6.6" text-anchor="middle" font-family='"Liberation Serif", serif' fill="#111">5.88%</text>
<text x="156.2" y="394.7" font-size="6.6" text-anchor="middle" font-family='"Liberation Serif", serif' fill="#111">0.9%</text>
<text x="111.3" y="419.3" font-size="6.6" text-anchor="middle" font-family='"Liberation Serif", serif' fill="#111">42%</text>
<text x="158.5" y="419.3" font-size="6.6" text-anchor="middle" font-family='"Liberation Serif", serif' fill="#111">51%</text>
<rect x="205.2" y="383" width="67.1" height="58.1" fill="none" stroke="#333" stroke-width="0.8"/>
<path d="M236.2 383.0L236.2 441.1" stroke="#333" stroke-width="0.8" fill="none"/>
<path d="M205.2 410.2L272.3 410.2" stroke="#333" stroke-width="0.8" fill="none"/>
<path d="M205.2 441.1V383.0M205.2 441.1H272.3" stroke="#222" stroke-width="0.9" stroke-dasharray="0.7 2.3" fill="none"/>
<path d="M234.8 412.0L205.7 434.1L205.7 440.6L213.7 440.6z" fill="#222" fill-opacity="0.68"/>
<radialGradient id="g381"><stop offset="0" stop-color="#111" stop-opacity="0.95"/><stop offset="0.6" stop-color="#111" stop-opacity="0.57"/><stop offset="1" stop-color="#111" stop-opacity="0"/></radialGradient>
<ellipse cx="209.7" cy="436.6" rx="6.5" ry="6" transform="rotate(0 209.7 436.6)" fill="url(#g381)"/>
<path transform="scale(0.2)" d="M1030 2153h3m-3 10h3m-3 12h3m-3 11h3m-3 3h3m-3 3h3m-3 8h3m-2-41h3m-3 18h3m-3 2h3m-3 13h3m-3 9h3m-2-21h3m-3 3h3m-3 5h3m-3 7h3m-3 0h3m-3 3h3m-2-25h3m-3 27h3m-2-41h3m-3 1h3m-3 1h3m-3 6h3m-3 16h3m-3 4h3m-3 14h3m-2-23h3m-3 3h3m-3 4h3m-3 1h3m-3 10h3m-2-17h3m-3 5h3m-3 5h3m-3 10h3m-2-41h3m-3 0h3m-3 16h3m-3 1h3m-3 4h3m-3 4h3m-3 2h3m-3 1h3m-3 1h3m-3 2h3m-3 10h3m-2-40h3m-3 4h3m-3 7h3m-3 1h3m-3 1h3m-3 2h3m-3 1h3m-3 1h3m-3 1h3m-3 3h3m-3 4h3m-2 3h3m-3 5h3m-2-30h3m-3 10h3m-3 2h3m-3 7h3m-3 3h3m-3 5h3m-2-35h3m-3 8h3m-3 11h3m-3 2h3m-3 5h3m-2-44h3m-3 27h3m-3 4h3m-3 13h3m-3 1h3m-3 1h3m-3 1h3m-3 1h3m-3 3h3m-3 1h3m-3 1h3m-3 13h3m-2-50h3m-3 12h3m-3 3h3m-3 2h3m-3 4h3m-3 2h3m-3 7h3m-3 8h3m-3 2h3m-3 10h3m-2-35h3m-3 4h3m-3 2h3m-3 2h3m-3 11h3m-3 1h3m-3 5h3m-2-30h3m-3 16h3m-3 6h3m-3 1h3m-3 1h3m-3 5h3m-3 1h3m-3 7h3m-3 1h3m-2-41h3m-3 3h3m-3 5h3m-3 11h3m-3 1h3m-3 0h3m-3 4h3m-3 2h3m-3 13h3m-2-47h3m-3 19h3m-3 10h3m-3 4h3m-3 2h3m-3 0h3m-3 2h3m-3 3h3m-3 3h3m-2-37h3m-3 6h3m-3 5h3m-3 2h3m-3 3h3m-3 5h3m-3 2h3m-3 14h3m-3 2h3m-2-35h3m-3 0h3m-3 10h3m-3 3h3m-3 4h3m-3 7h3m-3 2h3m-3 3h3m-3 1h3m-3 3h3m-3 2h3m-3 2h3m-3 1h3m-2-35h3m-3 2h3m-3 4h3m-3 1h3m-3 1h3m-3 0h3m-3 4h3m-3 0h3m-3 12h3m-3 1h3m-3 8h3m-3 1h3m-3 0h3m-2-36h3m-3 2h3m-3 2h3m-3 2h3m-3 1h3m-3 5h3m-3 13h3m-3 5h3m-3 6h3m-2-41h3m-3 3h3m-3 5h3m-3 8h3m-3 3h3m-3 5h3m-3 5h3m-3 2h3m-3 1h3m-3 5h3m-3 4h3m-3 2h3m-2-45h3m-3 3h3m-3 8h3m-3 5h3m-3 3h3m-3 2h3m-3 1h3m-3 10h3m-3 2h3m-3 1h3m-3 3h3m-3 5h3m-2-52h3m-3 11h3m-3 9h3m-3 8h3m-3 6h3m-3 16h3m-2-37h3m-3 5h3m-3 3h3m-3 1h3m-3 5h3m-3 0h3m-3 0h3m-3 2h3m-3 1h3m-3 1h3m-3 1h3m-3 2h3m-3 4h3m-3 1h3m-3 4h3m-3 2h3m-3 3h3m-3 5h3m-3 1h3m-3 1h3m-3 1h3m-2-53h3m-3 17h3m-3 2h3m-3 10h3m-3 8h3m-3 13h3m-3 1h3m-2-59h3m-3 17h3m-3 15h3m-3 1h3m-3 1h3m-3 13h3m-3 8h3m-3 1h3m-2-43h3m-3 12h3m-3 1h3m-3 2h3m-3 5h3m-3 0h3m-3 1h3m-3 5h3m-3 5h3m-3 2h3m-2-37h3m-3 3h3m-3 5h3m-3 2h3m-3 5h3m-3 0h3m-3 4h3m-3 1h3m-3 11h3m-3 2h3m-3 3h3m-3 0h3m-3 3h3m-3 2h3m-2-36h3m-3 4h3m-3 3h3m-3 4h3m-3 5h3m-3 0h3m-3 1h3m-3 6h3m-3 1h3m-3 1h3m-3 16h3m-3 4h3m-2-46h3m-3 1h3m-3 1h3m-3 13h3m-3 1h3m-3 2h3m-3 0h3m-3 1h3m-3 3h3m-3 4h3m-3 0h3m-3 1h3m-3 11h3m-3 3h3m-2-50h3m-3 16h3m-3 27h3m-3 7h3m-2-64h3m-3 32h3m-3 11h3m-3 10h3m-3 1h3m-3 7h3m-3 1h3m-2-30h3m-3 0h3m-3 4h3m-3 2h3m-3 0h3m-3 1h3m-3 5h3m-3 8h3m-3 14h3m-2-55h3m-3 14h3m-3 2h3m-3 2h3m-3 1h3m-3 0h3m-3 3h3m-3 10h3m-3 4h3m-3 1h3m-3 16h3m-3 3h3m-3 1h3m-3 3h3m-2-47h3m-3 6h3m-3 3h3m-3 28h3m-3 3h3m-3 3h3m-3 2h3m-2-49h3m-3 2h3m-3 5h3m-3 3h3m-3 9h3m-3 4h3m-3 27h3m-2-46h3m-3 12h3m-3 3h3m-3 24h3m-2-48h3m-3 6h3m-3 3h3m-3 12h3m-3 0h3m-3 11h3m-3 5h3m-3 14h3m-2-48h3m-3 10h3m-3 5h3m-3 5h3m-3 7h3m-3 5h3m-3 2h3m-3 2h3m-3 6h3m-3 3h3m-3 2h3m-2-45h3m-3 4h3m-3 0h3m-3 19h3m-3 9h3m-3 3h3m-3 2h3m-3 5h3m-3 3h3m-2-44h3m-3 12h3m-3 3h3m-3 19h3m-3 4h3m-3 1h3m-2-39h3m-3 2h3m-3 6h3m-3 19h3m-3 18h3m-3 5h3m-2-51h3m-3 8h3m-3 8h3m-3 2h3m-3 13h3m-3 1h3m-3 9h3m-2-47h3m-3 16h3m-3 8h3m-3 1h3m-3 2h3m-3 3h3m-3 11h3m-3 14h3m-2-15h3m-3 8h3m-3 7h3m-2-52h3m-3 11h3m-3 9h3m-3 5h3m-3 2h3m-3 14h3m-3 3h3m-2-36h3m-3 5h3m-3 21h3m-2-23h3m-3 9h3m-3 8h3m-2-38h3m-3 24h3m-3 1h3m-3 13h3m-2-27h3m-3 3h3m-3 2h3m-3 4h3m-3 2h3m-3 1h3m-3 2h3m-3 18h3m-2-32h3m-3 0h3m-3 40h3m-2-48h3m-3 3h3m-3 7h3m-3 16h3m-3 3h3m-3 9h3m-2-46h3m-3 2h3m-3 13h3m-3 48h3m-2-59h3m-3 10h3m-3 17h3m-3 5h3m-2-36h3m-3 4h3m-3 2h3m-3 9h3m-3 6h3m-3 12h3m-3 8h3m-3 3h3m-2-44h3m-3 4h3m-3 1h3m-3 4h3m-3 0h3m-3 5h3m-3 3h3m-3 0h3m-3 2h3m-3 5h3m-2-24h3m-3 6h3m-3 24h3m-3 22h3m-3 0h3m-2-44h3m-3 12h3m-3 14h3m-2-1h3m-3 26h3m-2-63h3m-3 11h3m-3 3h3m-3 7h3m-2-30h3m-3 28h3m-3 0h3m-3 1h3m-3 13h3m-3 26h3m-2-56h3m-3 7h3m-3 1h3m-3 4h3m-3 6h3m-3 11h3m-3 40h3m-2-46h3m-2-25h3m-3 8h3m-3 15h3m-2-26h3m-3 4h3m-3 3h3m-3 10h3m-2-24h3m-3 12h3m-2 62h3m-2-72h3m-3 7h3m-3 1h3m-2-6h3m-3 7h3m-3 11h3m-2-23h3m-3 3h3m-3 12h3m-3 4h3m-2-10h3m-3 1h3m-3 6h3m-3 7h3m-2-22h3m-3 13h3m-3 17h3m-2-31h3m-3 6h3m-3 0h3m-3 16h3m-2-12h3m-3 3h3m-3 3h3m-2-16h3m-3 1h3m-3 7h3m-3 4h3m-2-14h3m-3 10h3m-3 1h3m-3 10h3m-2-20h3m-2 7h3m-3 5h3m-3 6h3m-2-17h3m-3 0h3m-3 11h3m-2-4h3m-3 2h3m-3 1h3m-3 0h3m-3 6h3m-2-21h3m-3 3h3m-3 7h3m-3 1h3m-2 4h3m-3 7h3m-2-25h3m-3 24h3m-2-30h3m-3 8h3m-3 9h3m-2-16h3m-3 8h3m-3 10h3m-2-22h3m-3 6h3m-2 3h3m-3 9h3m-3 2h3m-3 21h3m-1-49h3m-3 20h3m-3 2h3m-2-11h3m-3 14h3m-3 1h3m-3 19h3m-2-32h3m-3 3h3m-3 8h3m-2-17h3m-3 4h3m-3 3h3m-2-9h3m-3 3h3m-3 5h3m-3 3h3m-2-11h3m-3 4h3m-2 4h3m-3 7h3m-2-3h3m-3 0h3m-2-6h3m-3 5h3m0-2h3m-3 1h3m-3 0h3m-2-16h3m-3 1h3m-3 3h3m-3 2h3m-3 2h3m-3 0h3m-3 10h3m-2-18h3m-3 4h3m-3 2h3m-3 2h3m-2-15h3m-3 12h3m-3 4h3m-2-13h3m-3 14h3m-3 16h3m-2-29h3m-3 13h3m-3 0h3m-3 3h3m-2-11h3m-3 9h3m-3 8h3m-1-21h3m-2 0h3m-2-9h3m-3 2h3m-3 4h3m-3 5h3m-3 9h3m-3 1h3m-2-6h3m-3 3h3m-3 6h3m-2-21h3m-3 8h3m-3 3h3m-2 0h3m-3 9h3m-2-16h3m-3 4h3m-3 4h3m-3 0h3m-2-12h3m-2-5h3m-3 4h3m-3 13h3m-2-19h3m-3 10h3m-2-6h3m-3 1h3m-3 6h3m-3 1h3m-3 9h3m-2-20h3m-3 1h3m-2-1h3m-3 2h3m-3 3h3m-2-7h3m-3 4h3m-3 8h3m-3 2h3m-2-12h3m-3 1h3m-3 0h3m-2 1h3m-3 8h3m-2-9h3m-2-2h3m-3 2h3m-2-5h3m-3 3h3m-3 1h3m-2-10h3m-3 3h3m-3 5h3m-3 1h3m-2-10h3m-3 10h3m-3 0h3m-2-2h3m-3 3h3m-3 2h3m-2-14h3m-3 5h3m-3 9h3m-2-15h3m-3 14h3m-2-13h3m-3 0h3m-3 5h3m-3 2h3m-2-10h3m-3 5h3m-3 2h3m-3 1h3m-2-5h3m-2-6h3m-3 5h3m-3 5h3m-3 1h3m-3 3h3m-2-10h3m-3 3h3m-1-6h3m-3 1h3m-3 1h3m-3 3h3m-3 5h3m-3 1h3m-2-9h3m-3 3h3m-2-6h3m-3 6h3m-3 6h3m-2-13h3m-3 12h3m-2-9h3m-3 3h3m-3 2h3m-3 1h3m-2-4h3m-3 3h3" stroke="#111" stroke-width="4.0" stroke-opacity="0.75"/>
<text x="204.9" y="447.1" font-size="4.9" text-anchor="middle" font-family='"Liberation Serif", serif' fill="#222">10<tspan font-size="3.6" dy="-2">0</tspan></text>
<text x="201.4" y="441.4" font-size="4.9" text-anchor="middle" font-family='"Liberation Serif", serif' fill="#222" transform="rotate(-90 201.4 441.4)">10<tspan font-size="3.6" dy="-2">0</tspan></text>
<text x="221.7" y="447.1" font-size="4.9" text-anchor="middle" font-family='"Liberation Serif", serif' fill="#222">10<tspan font-size="3.6" dy="-2">1</tspan></text>
<text x="201.4" y="426.9" font-size="4.9" text-anchor="middle" font-family='"Liberation Serif", serif' fill="#222" transform="rotate(-90 201.4 426.9)">10<tspan font-size="3.6" dy="-2">1</tspan></text>
<text x="238.4" y="447.1" font-size="4.9" text-anchor="middle" font-family='"Liberation Serif", serif' fill="#222">10<tspan font-size="3.6" dy="-2">2</tspan></text>
<text x="201.4" y="412.4" font-size="4.9" text-anchor="middle" font-family='"Liberation Serif", serif' fill="#222" transform="rotate(-90 201.4 412.4)">10<tspan font-size="3.6" dy="-2">2</tspan></text>
<text x="255.2" y="447.1" font-size="4.9" text-anchor="middle" font-family='"Liberation Serif", serif' fill="#222">10<tspan font-size="3.6" dy="-2">3</tspan></text>
<text x="201.4" y="397.8" font-size="4.9" text-anchor="middle" font-family='"Liberation Serif", serif' fill="#222" transform="rotate(-90 201.4 397.8)">10<tspan font-size="3.6" dy="-2">3</tspan></text>
<text x="272.0" y="447.1" font-size="4.9" text-anchor="middle" font-family='"Liberation Serif", serif' fill="#222">10<tspan font-size="3.6" dy="-2">4</tspan></text>
<text x="201.4" y="383.3" font-size="4.9" text-anchor="middle" font-family='"Liberation Serif", serif' fill="#222" transform="rotate(-90 201.4 383.3)">10<tspan font-size="3.6" dy="-2">4</tspan></text>
<text x="238.8" y="452.1" font-size="4.4" text-anchor="middle" fill="#111" textLength="32.5" lengthAdjust="spacingAndGlyphs">Mouse IgG1 FITC</text>
<text x="196.4" y="412.6" font-size="4.3" text-anchor="middle" fill="#222" transform="rotate(-90 196.4 412.6)">FL3-H</text>
<rect x="288.3" y="383.7" width="69.2" height="58.6" fill="none" stroke="#333" stroke-width="0.8"/>
<path d="M320.4 383.7L320.4 442.3" stroke="#333" stroke-width="0.8" fill="none"/>
<path d="M288.3 411.2L357.5 411.2" stroke="#333" stroke-width="0.8" fill="none"/>
<path d="M288.3 442.3V383.7M288.3 442.3H357.5" stroke="#222" stroke-width="0.9" stroke-dasharray="0.7 2.3" fill="none"/>
<radialGradient id="g400"><stop offset="0" stop-color="#111" stop-opacity="0.75"/><stop offset="0.6" stop-color="#111" stop-opacity="0.45"/><stop offset="1" stop-color="#111" stop-opacity="0"/></radialGradient>
<ellipse cx="313.4" cy="418.2" rx="6" ry="10" transform="rotate(15 313.4 418.2)" fill="url(#g400)"/>
<radialGradient id="g402"><stop offset="0" stop-color="#111" stop-opacity="0.95"/><stop offset="0.6" stop-color="#111" stop-opacity="0.57"/><stop offset="1" stop-color="#111" stop-opacity="0"/></radialGradient>
<ellipse cx="325.4" cy="435.3" rx="6" ry="6" transform="rotate(0 325.4 435.3)" fill="url(#g402)"/>
<path transform="scale(0.2)" d="M1457 1999h3m-3 77h3m-2 68h3m-3 49h3m3-109h3m3-56h3m-3 3h3m-2-27h3m-2 113h3m-2-111h3m-3 115h3m9-99h3m-3 156h3m0-49h3m10-100h3m-1 84h3m4 72h3m-2-161h3m-3 3h3m-3 110h3m-2-44h3m-3 103h3m-2-21h3m-1-98h3m-1 30h3m-2 31h3m-2-62h3m-3 21h3m-2-25h3m-2-3h3m-2-22h3m-3 59h3m-1-19h3m-1-51h3m-3 43h3m-2 113h3m-1-146h3m-3 8h3m-3 33h3m-2-14h3m-3 1h3m-3 18h3m-2-37h3m-3 6h3m-3 55h3m-3 33h3m-2-133h3m-3 8h3m-3 38h3m-3 17h3m-1-32h3m-3 7h3m-3 34h3m-3 17h3m-3 2h3m-2-28h3m-3 29h3m-3 8h3m-2-61h3m-3 29h3m-3 6h3m-3 3h3m-3 10h3m-3 1h3m-3 15h3m-2-103h3m-3 20h3m-3 34h3m-3 11h3m-3 5h3m-3 7h3m-3 14h3m-3 13h3m-3 49h3m-2-132h3m-3 18h3m-3 4h3m-3 7h3m-3 10h3m-3 1h3m-3 5h3m-3 4h3m-3 20h3m-2-38h3m-3 40h3m-3 12h3m-2-66h3m-3 4h3m-3 1h3m-3 29h3m-3 25h3m-3 18h3m-2-91h3m-3 3h3m-3 12h3m-3 5h3m-3 9h3m-3 1h3m-3 9h3m-2-26h3m-3 12h3m-3 9h3m-3 21h3m-2-42h3m-3 3h3m-3 36h3m-3 17h3m-2-70h3m-3 4h3m-3 3h3m-3 0h3m-3 12h3m-3 4h3m-3 22h3m-3 23h3m-2-63h3m-3 2h3m-3 17h3m-3 5h3m-3 3h3m-3 4h3m-3 1h3m-3 4h3m-3 2h3m-3 9h3m-3 3h3m-3 7h3m-3 3h3m-3 1h3m-3 14h3m-3 4h3m-2-85h3m-3 13h3m-3 12h3m-3 16h3m-3 23h3m-3 1h3m-2-85h3m-3 47h3m-3 9h3m-3 1h3m-3 8h3m-3 7h3m-3 15h3m-2-69h3m-3 5h3m-3 1h3m-3 16h3m-3 10h3m-3 17h3m-3 7h3m-3 14h3m-3 12h3m-3 10h3m-3 6h3m-2-125h3m-3 30h3m-3 21h3m-3 5h3m-3 7h3m-3 5h3m-3 0h3m-3 3h3m-3 0h3m-3 11h3m-2-76h3m-3 36h3m-3 24h3m-3 22h3m-3 10h3m-3 9h3m-3 7h3m-3 34h3m-2-144h3m-3 37h3m-3 13h3m-3 17h3m-3 9h3m-3 6h3m-3 7h3m-3 6h3m-3 20h3m-3 8h3m-2-127h3m-3 36h3m-3 10h3m-3 13h3m-3 1h3m-3 40h3m-3 2h3m-3 3h3m-3 13h3m-2-105h3m-3 11h3m-3 4h3m-3 22h3m-3 2h3m-3 17h3m-3 4h3m-3 6h3m-3 30h3m-3 2h3m-3 5h3m-3 10h3m-2-113h3m-3 4h3m-3 20h3m-3 3h3m-3 4h3m-3 3h3m-3 19h3m-3 0h3m-3 3h3m-3 12h3m-3 0h3m-3 13h3m-3 5h3m-3 5h3m-3 25h3m-3 18h3m-2-128h3m-3 40h3m-3 9h3m-3 1h3m-3 13h3m-3 10h3m-3 3h3m-3 9h3m-3 7h3m-3 7h3m-2-75h3m-3 5h3m-3 4h3m-3 2h3m-3 9h3m-3 1h3m-3 2h3m-3 3h3m-3 4h3m-3 14h3m-3 2h3m-3 1h3m-3 9h3m-3 35h3m-2-87h3m-3 8h3m-3 1h3m-3 4h3m-3 19h3m-3 32h3m-3 4h3m-3 9h3m-2-121h3m-3 4h3m-3 11h3m-3 8h3m-3 38h3m-3 1h3m-3 5h3m-3 3h3m-3 0h3m-3 1h3m-3 2h3m-3 6h3m-3 13h3m-3 1h3m-3 0h3m-3 17h3m-3 2h3m-3 15h3m-3 2h3m-2-122h3m-3 4h3m-3 0h3m-3 7h3m-3 21h3m-3 2h3m-3 5h3m-3 3h3m-3 7h3m-3 12h3m-3 1h3m-3 1h3m-3 2h3m-3 2h3m-3 5h3m-3 6h3m-3 4h3m-3 5h3m-3 9h3m-3 0h3m-3 16h3m-3 3h3m-3 6h3m-3 13h3m-2-134h3m-3 3h3m-3 1h3m-3 27h3m-3 11h3m-3 5h3m-3 10h3m-3 1h3m-3 9h3m-3 10h3m-3 0h3m-3 18h3m-3 1h3m-3 50h3m-2-134h3m-3 16h3m-3 3h3m-3 2h3m-3 3h3m-3 13h3m-3 2h3m-3 1h3m-3 3h3m-3 12h3m-3 3h3m-3 2h3m-3 5h3m-3 5h3m-3 8h3m-3 17h3m-3 9h3m-2-140h3m-3 55h3m-3 14h3m-3 5h3m-3 11h3m-3 4h3m-3 0h3m-3 1h3m-3 1h3m-3 7h3m-3 7h3m-3 7h3m-3 5h3m-3 7h3m-3 35h3m-2-144h3m-3 11h3m-3 1h3m-3 10h3m-3 20h3m-3 2h3m-3 12h3m-3 0h3m-3 5h3m-3 5h3m-3 16h3m-3 3h3m-3 12h3m-3 8h3m-3 11h3m-2-113h3m-3 9h3m-3 0h3m-3 4h3m-3 6h3m-3 20h3m-3 19h3m-3 6h3m-3 2h3m-3 15h3m-3 9h3m-3 5h3m-3 4h3m-3 17h3m-3 4h3m-2-169h3m-3 34h3m-3 4h3m-3 4h3m-3 3h3m-3 3h3m-3 6h3m-3 31h3m-3 11h3m-3 2h3m-3 9h3m-3 11h3m-3 6h3m-3 2h3m-3 1h3m-3 6h3m-3 1h3m-3 21h3m-3 2h3m-3 2h3m-3 4h3m-3 14h3m-2-159h3m-3 64h3m-3 13h3m-3 3h3m-3 7h3m-3 4h3m-3 1h3m-3 3h3m-3 11h3m-3 5h3m-3 1h3m-3 33h3m-2-109h3m-3 4h3m-3 18h3m-3 8h3m-3 21h3m-3 6h3m-3 4h3m-3 3h3m-3 1h3m-3 8h3m-3 1h3m-3 1h3m-3 2h3m-3 2h3m-3 7h3m-3 3h3m-3 7h3m-3 39h3m-2-132h3m-3 61h3m-3 88h3m-2-178h3m-3 14h3m-3 12h3m-3 10h3m-3 1h3m-3 38h3m-3 5h3m-3 3h3m-3 8h3m-3 3h3m-3 3h3m-3 1h3m-3 0h3m-3 5h3m-3 0h3m-3 8h3m-3 4h3m-3 8h3m-3 4h3m-3 15h3m-3 1h3m-2-113h3m-3 15h3m-3 1h3m-3 4h3m-3 24h3m-3 7h3m-3 5h3m-3 4h3m-3 1h3m-3 11h3m-3 3h3m-3 1h3m-3 1h3m-3 4h3m-3 0h3m-3 6h3m-3 2h3m-3 13h3m-3 1h3m-3 2h3m-3 4h3m-3 10h3m-3 0h3m-3 11h3m-2-152h3m-3 10h3m-3 15h3m-3 14h3m-3 6h3m-3 4h3m-3 25h3m-3 7h3m-3 1h3m-3 17h3m-3 1h3m-3 2h3m-3 4h3m-3 1h3m-3 7h3m-3 4h3m-3 11h3m-2-116h3m-3 3h3m-3 4h3m-3 24h3m-3 1h3m-3 0h3m-3 0h3m-3 19h3m-3 5h3m-3 17h3m-3 1h3m-3 10h3m-3 1h3m-3 6h3m-3 15h3m-2-118h3m-3 5h3m-3 3h3m-3 11h3m-3 4h3m-3 2h3m-3 17h3m-3 31h3m-3 8h3m-3 0h3m-3 2h3m-3 7h3m-3 4h3m-3 2h3m-3 3h3m-3 2h3m-3 5h3m-3 8h3m-3 42h3m-2-165h3m-3 16h3m-3 6h3m-3 18h3m-3 1h3m-3 6h3m-3 4h3m-3 1h3m-3 1h3m-3 7h3m-3 6h3m-3 9h3m-3 10h3m-3 8h3m-3 17h3m-3 7h3m-3 0h3m-3 11h3m-3 43h3m-2-139h3m-3 3h3m-3 7h3m-3 2h3m-3 29h3m-3 27h3m-3 14h3m-3 11h3m-2-106h3m-3 15h3m-3 26h3m-3 15h3m-3 3h3m-3 12h3m-3 9h3m-3 13h3m-3 7h3m-3 1h3m-3 0h3m-3 4h3m-3 9h3m-3 68h3m-2-200h3m-3 14h3m-3 13h3m-3 13h3m-3 4h3m-3 2h3m-3 1h3m-3 9h3m-3 18h3m-3 9h3m-3 5h3m-3 16h3m-3 1h3m-3 1h3m-3 11h3m-3 5h3m-3 8h3m-3 6h3m-3 4h3m-3 5h3m-3 9h3m-2-168h3m-3 46h3m-3 2h3m-3 3h3m-3 0h3m-3 5h3m-3 3h3m-3 19h3m-3 8h3m-3 0h3m-3 7h3m-3 8h3m-3 6h3m-3 0h3m-3 78h3m-2-145h3m-3 4h3m-3 1h3m-3 6h3m-3 5h3m-3 42h3m-3 8h3m-3 2h3m-3 43h3m-2-126h3m-3 21h3m-3 24h3m-3 6h3m-3 3h3m-3 2h3m-3 11h3m-3 3h3m-3 6h3m-3 21h3m-3 5h3m-3 5h3m-3 1h3m-3 9h3m-3 7h3m-3 45h3m-3 5h3m-2-168h3m-3 8h3m-3 5h3m-3 8h3m-3 13h3m-3 7h3m-3 2h3m-3 1h3m-3 21h3m-3 7h3m-3 8h3m-3 2h3m-3 13h3m-3 8h3m-3 8h3m-3 13h3m-2-133h3m-3 11h3m-3 14h3m-3 1h3m-3 3h3m-3 4h3m-3 1h3m-3 1h3m-3 7h3m-3 3h3m-3 16h3m-3 25h3m-3 4h3m-3 3h3m-3 5h3m-3 13h3m-3 4h3m-3 2h3m-3 42h3m-3 28h3m-2-187h3m-3 0h3m-3 9h3m-3 4h3m-3 16h3m-3 12h3m-3 6h3m-3 2h3m-3 23h3m-3 24h3m-3 37h3m-3 4h3m-3 12h3m-3 10h3m-3 35h3m-2-198h3m-3 17h3m-3 14h3m-3 1h3m-3 0h3m-3 8h3m-3 7h3m-3 17h3m-3 3h3m-3 6h3m-3 21h3m-3 2h3m-3 4h3m-3 3h3m-3 15h3m-3 20h3m-3 63h3m-2-179h3m-3 1h3m-3 3h3m-3 7h3m-3 23h3m-3 1h3m-3 22h3m-3 11h3m-3 15h3m-3 23h3m-3 4h3m-3 7h3m-3 5h3m-2-140h3m-3 6h3m-3 12h3m-3 0h3m-3 2h3m-3 4h3m-3 7h3m-3 1h3m-3 12h3m-3 4h3m-3 1h3m-3 17h3m-3 25h3m-3 6h3m-3 8h3m-3 38h3m-3 26h3m-2-166h3m-3 1h3m-3 11h3m-3 9h3m-3 7h3m-3 8h3m-3 36h3m-3 15h3m-3 1h3m-3 10h3m-3 6h3m-3 0h3m-3 4h3m-3 41h3m-3 20h3m-3 22h3m-3 3h3m-2-194h3m-3 3h3m-3 3h3m-3 19h3m-3 2h3m-3 4h3m-3 15h3m-3 12h3m-3 14h3m-3 10h3m-3 4h3m-3 12h3m-3 0h3m-3 17h3m-3 27h3m-3 33h3m-2-164h3m-3 18h3m-3 3h3m-3 7h3m-3 24h3m-3 12h3m-3 19h3m-3 0h3m-3 4h3m-3 0h3m-3 9h3m-3 17h3m-3 1h3m-2-121h3m-3 6h3m-3 7h3m-3 13h3m-3 17h3m-3 0h3m-3 3h3m-3 3h3m-3 40h3m-3 0h3m-3 2h3m-3 2h3m-3 22h3m-3 7h3m-3 4h3m-3 28h3m-3 5h3m-3 26h3m-2-212h3m-3 1h3m-3 35h3m-3 7h3m-3 16h3m-3 29h3m-3 19h3m-3 17h3m-3 2h3m-3 4h3m-3 18h3m-3 1h3m-3 10h3m-3 24h3m-3 32h3m-2-168h3m-3 4h3m-3 14h3m-3 5h3m-3 15h3m-3 8h3m-3 12h3m-3 3h3m-3 14h3m-3 2h3m-3 2h3m-3 1h3m-3 20h3m-3 0h3m-3 16h3m-3 17h3m-3 22h3m-2-182h3m-3 2h3m-3 7h3m-3 3h3m-3 8h3m-3 5h3m-3 11h3m-3 1h3m-3 12h3m-3 49h3m-3 36h3m-3 0h3m-3 1h3m-3 7h3m-3 12h3m-2-155h3m-3 7h3m-3 3h3m-3 7h3m-3 26h3m-3 2h3m-3 8h3m-3 53h3m-3 70h3m-3 8h3m-2-155h3m-3 3h3m-3 16h3m-3 5h3m-3 6h3m-3 11h3m-3 59h3m-3 2h3m-3 51h3m-3 2h3m-3 8h3m-2-192h3m-3 19h3m-3 15h3m-3 13h3m-3 1h3m-3 51h3m-3 2h3m-3 52h3m-3 45h3m-2-194h3m-3 25h3m-3 4h3m-3 41h3m-3 86h3m-3 40h3m-3 1h3m-2-184h3m-3 15h3m-3 86h3m-3 11h3m-3 24h3m-3 11h3m-3 7h3m-3 1h3m-3 29h3m-2-207h3m-3 17h3m-3 16h3m-3 5h3m-3 3h3m-3 2h3m-3 2h3m-3 71h3m-3 0h3m-3 15h3m-3 48h3m-3 19h3m-2-180h3m-3 5h3m-3 50h3m-3 34h3m-3 54h3m-3 16h3m-3 10h3m-3 9h3m-2-160h3m-3 0h3m-3 25h3m-3 11h3m-3 13h3m-3 19h3m-3 10h3m-3 15h3m-3 13h3m-3 0h3m-3 8h3m-3 14h3m-3 3h3m-3 8h3m-3 4h3m-3 18h3m-3 1h3m-3 2h3m-2-188h3m-3 45h3m-3 13h3m-3 6h3m-3 48h3m-3 23h3m-3 39h3m-3 0h3m-3 14h3m-2-167h3m-3 35h3m-3 20h3m-3 40h3m-3 1h3m-3 10h3m-3 40h3m-3 2h3m-3 0h3m-3 2h3m-3 0h3m-3 3h3m-3 23h3m-2-211h3m-3 120h3m-3 47h3m-3 5h3m-3 8h3m-3 7h3m-3 7h3m-3 7h3m-2-205h3m-3 32h3m-3 83h3m-3 11h3m-3 2h3m-3 31h3m-3 12h3m-3 2h3m-3 8h3m-3 2h3m-3 3h3m-3 9h3m-3 0h3m-3 1h3m-3 2h3m-3 2h3m-3 4h3m-3 7h3m-3 6h3m-2-164h3m-3 47h3m-3 35h3m-3 5h3m-3 32h3m-3 4h3m-3 1h3m-3 14h3m-3 6h3m-3 0h3m-3 1h3m-3 4h3m-3 8h3m-3 0h3m-3 3h3m-2-204h3m-3 160h3m-3 2h3m-3 9h3m-3 6h3m-3 23h3m-2-155h3m-3 1h3m-3 61h3m-3 46h3m-3 8h3m-3 9h3m-3 15h3m-3 3h3m-3 13h3m-2-52h3m-3 15h3m-3 0h3m-3 7h3m-3 5h3m-3 8h3m-3 1h3m-3 3h3m-3 9h3m-3 2h3m-3 11h3m-2-76h3m-3 15h3m-3 18h3m-3 13h3m-3 9h3m-3 0h3m-3 2h3m-3 4h3m-3 1h3m-3 9h3m-2-181h3m-3 68h3m-3 0h3m-3 18h3m-3 30h3m-3 4h3m-3 13h3m-3 0h3m-3 4h3m-3 15h3m-3 0h3m-3 5h3m-3 4h3m-3 6h3m-3 1h3m-3 3h3m-3 8h3m-3 2h3m-3 0h3m-2-87h3m-3 2h3m-3 30h3m-3 3h3m-3 4h3m-3 9h3m-3 2h3m-3 2h3m-3 6h3m-3 4h3m-3 2h3m-3 8h3m-3 10h3m-3 2h3m-3 2h3m-3 0h3m-3 6h3m-2-112h3m-3 32h3m-3 12h3m-3 11h3m-3 0h3m-3 6h3m-3 10h3m-3 1h3m-3 7h3m-3 4h3m-3 1h3m-3 10h3m-3 5h3m-3 9h3m-3 3h3m-2-176h3m-3 117h3m-3 2h3m-3 3h3m-3 12h3m-3 3h3m-3 4h3m-3 5h3m-3 2h3m-3 4h3m-3 14h3m-3 8h3m-2-83h3m-3 28h3m-3 5h3m-3 16h3m-3 0h3m-3 1h3m-3 2h3m-3 0h3m-3 5h3m-3 6h3m-3 1h3m-3 3h3m-3 1h3m-3 0h3m-3 13h3m-3 0h3m-2-172h3m-3 91h3m-3 25h3m-3 17h3m-3 3h3m-3 2h3m-3 4h3m-3 5h3m-3 1h3m-3 2h3m-3 0h3m-3 2h3m-3 1h3m-3 3h3m-3 5h3m-2-114h3m-3 67h3m-3 11h3m-3 3h3m-3 1h3m-3 17h3m-3 3h3m-3 4h3m-3 12h3m-3 2h3m-3 2h3m-2-169h3m-3 20h3m-3 53h3m-3 40h3m-3 7h3m-3 9h3m-3 2h3m-3 3h3m-3 3h3m-3 2h3m-3 0h3m-3 14h3m-3 2h3m-3 3h3m-3 7h3m-3 0h3m-3 4h3m-3 9h3m-2-58h3m-3 5h3m-3 1h3m-3 1h3m-3 0h3m-3 2h3m-3 1h3m-3 2h3m-3 8h3m-3 6h3m-3 2h3m-3 3h3m-3 5h3m-3 0h3m-3 1h3m-3 2h3m-3 7h3m-3 11h3m-2-107h3m-3 26h3m-3 21h3m-3 4h3m-3 1h3m-3 9h3m-3 0h3m-3 4h3m-3 5h3m-3 2h3m-3 2h3m-3 2h3m-3 0h3m-3 1h3m-3 17h3m-3 6h3m-3 1h3m-3 0h3m-2-104h3m-3 39h3m-3 23h3m-3 3h3m-3 6h3m-3 15h3m-3 8h3m-3 1h3m-3 0h3m-3 2h3m-2-61h3m-3 23h3m-3 4h3m-3 4h3m-3 6h3m-3 2h3m-3 1h3m-3 0h3m-3 2h3m-3 2h3m-3 0h3m-3 4h3m-3 6h3m-3 2h3m-3 3h3m-3 0h3m-3 11h3m-2-148h3m-3 60h3m-3 34h3m-3 5h3m-3 2h3m-3 10h3m-3 4h3m-3 1h3m-3 1h3m-3 2h3m-3 1h3m-3 8h3m-3 6h3m-3 11h3m-2-179h3m-3 77h3m-3 23h3m-3 4h3m-3 28h3m-3 1h3m-3 6h3m-3 8h3m-3 1h3m-3 1h3m-3 2h3m-3 0h3m-3 9h3m-3 1h3m-3 3h3m-3 3h3m-2-190h3m-3 145h3m-3 0h3m-3 12h3m-3 5h3m-3 9h3m-3 5h3m-3 3h3m-3 1h3m-3 10h3m-3 5h3m-3 7h3m-3 5h3m-2-83h3m-3 16h3m-3 11h3m-3 3h3m-3 5h3m-3 2h3m-3 5h3m-3 2h3m-3 0h3m-3 0h3m-3 5h3m-3 0h3m-3 1h3m-3 1h3m-3 2h3m-3 1h3m-3 1h3m-3 3h3m-3 0h3m-3 6h3m-3 0h3m-3 1h3m-3 1h3m-3 3h3m-3 2h3m-3 6h3m-3 7h3m-2-80h3m-3 24h3m-3 7h3m-3 1h3m-3 1h3m-3 2h3m-3 8h3m-3 3h3m-3 3h3m-3 2h3m-3 2h3m-3 1h3m-3 2h3m-3 3h3m-3 1h3m-3 0h3m-3 1h3m-3 2h3m-3 8h3m-2-149h3m-3 60h3m-3 20h3m-3 25h3m-3 19h3m-3 5h3m-3 4h3m-3 4h3m-3 0h3m-3 6h3m-3 4h3m-3 6h3m-3 6h3m-2-56h3m-3 1h3m-3 16h3m-3 4h3m-3 1h3m-3 7h3m-3 2h3m-3 1h3m-3 1h3m-3 0h3m-3 1h3m-3 0h3m-3 1h3m-3 3h3m-3 0h3m-3 2h3m-3 4h3m-3 1h3m-3 8h3m-2-59h3m-3 4h3m-3 5h3m-3 2h3m-3 2h3m-3 2h3m-3 0h3m-3 6h3m-3 2h3m-3 0h3m-3 3h3m-3 4h3m-3 0h3m-3 2h3m-3 5h3m-3 5h3m-3 1h3m-3 1h3m-3 1h3m-3 6h3m-3 8h3m-2-157h3m-3 93h3m-3 13h3m-3 1h3m-3 8h3m-3 7h3m-3 0h3m-3 7h3m-3 1h3m-3 2h3m-3 0h3m-3 1h3m-3 1h3m-3 1h3m-3 1h3m-3 1h3m-3 10h3m-3 4h3m-3 4h3m-2-120h3m-3 54h3m-3 17h3m-3 1h3m-3 12h3m-3 16h3m-3 3h3m-3 7h3m-3 7h3m-3 2h3m-3 6h3m-2-183h3m-3 43h3m-3 36h3m-3 48h3m-3 3h3m-3 13h3m-3 4h3m-3 2h3m-3 2h3m-3 2h3m-3 3h3m-3 3h3m-3 1h3m-3 4h3m-3 2h3m-3 6h3m-3 3h3m-3 3h3m-2-41h3m-3 4h3m-3 1h3m-3 1h3m-3 2h3m-3 1h3m-3 1h3m-3 3h3m-3 5h3m-3 2h3m-3 2h3m-3 2h3m-3 8h3m-3 8h3m-3 6h3m-2-63h3m-3 16h3m-3 0h3m-3 0h3m-3 1h3m-3 6h3m-3 1h3m-3 2h3m-3 0h3m-3 2h3m-3 4h3m-3 3h3m-3 11h3m-3 3h3m-3 0h3m-3 3h3m-3 8h3m-3 0h3m-3 2h3m-3 2h3m-2-61h3m-3 13h3m-3 2h3m-3 5h3m-3 4h3m-3 2h3m-3 0h3m-3 4h3m-3 2h3m-3 3h3m-3 1h3m-3 2h3m-3 5h3m-3 2h3m-3 1h3m-3 0h3m-3 6h3m-3 0h3m-3 1h3m-2-162h3m-3 53h3m-3 62h3m-3 16h3m-3 6h3m-3 3h3m-3 2h3m-3 4h3m-3 2h3m-3 0h3m-3 3h3m-3 5h3m-3 2h3m-3 2h3m-3 3h3m-3 1h3m-2-57h3m-3 1h3m-3 2h3m-3 10h3m-3 0h3m-3 5h3m-3 3h3m-3 10h3m-3 2h3m-3 4h3m-3 22h3m-2-91h3m-3 44h3m-3 3h3m-3 0h3m-3 1h3m-3 3h3m-3 1h3m-3 0h3m-3 5h3m-3 1h3m-3 3h3m-3 4h3m-3 5h3m-3 1h3m-3 4h3m-3 2h3m-3 2h3m-3 0h3m-3 2h3m-3 1h3m-3 6h3m-3 1h3m-3 1h3m-3 1h3m-2-80h3m-3 4h3m-3 20h3m-3 1h3m-3 5h3m-3 7h3m-3 6h3m-3 7h3m-3 2h3m-3 1h3m-3 0h3m-3 1h3m-3 0h3m-3 2h3m-3 2h3m-3 2h3m-2-19h3m-3 2h3m-3 1h3m-3 3h3m-3 5h3m-3 5h3m-3 0h3m-3 1h3m-3 1h3m-3 0h3m-3 8h3m-3 6h3m-2-179h3m-3 143h3m-3 1h3m-3 3h3m-3 2h3m-3 13h3m-3 0h3m-3 8h3m-3 3h3m-3 4h3m-3 4h3m-3 2h3m-3 4h3m-2-72h3m-3 6h3m-3 8h3m-3 4h3m-3 1h3m-3 7h3m-3 20h3m-3 9h3m-3 1h3m-3 1h3m-3 1h3m-2-36h3m-3 8h3m-3 2h3m-3 4h3m-3 4h3m-3 0h3m-3 10h3m-3 1h3m-3 8h3m-3 10h3m-2-47h3m-3 5h3m-3 10h3m-3 14h3m-2-56h3m-3 5h3m-3 24h3m-3 3h3m-3 8h3m-3 4h3m-3 5h3m-3 1h3m-3 1h3m-3 1h3m-3 12h3m-3 6h3m-3 1h3m-3 0h3m-2-41h3m-3 3h3m-3 3h3m-3 6h3m-3 9h3m-3 3h3m-3 10h3m-3 3h3m-3 10h3m-2-108h3m-3 46h3m-3 23h3m-3 6h3m-3 6h3m-3 1h3m-3 8h3m-3 10h3m-3 3h3m-2-70h3m-3 14h3m-3 9h3m-3 1h3m-3 16h3m-3 3h3m-3 5h3m-3 2h3m-3 6h3m-3 16h3m-3 2h3m-2-150h3m-3 101h3m-3 1h3m-3 3h3m-3 4h3m-3 3h3m-3 2h3m-3 13h3m-3 7h3m-3 13h3m-2-130h3m-3 58h3m-3 16h3m-3 8h3m-3 23h3m-3 24h3m-3 0h3m-3 2h3m-3 3h3m-3 1h3m-2-52h3m-3 13h3m-3 30h3m-3 9h3m-2-51h3m-3 13h3m-3 4h3m-3 6h3m-3 7h3m-3 9h3m-3 7h3m-2-196h3m-3 152h3m-3 2h3m-3 2h3m-3 5h3m-2 7h3m-3 4h3m-2-26h3m-3 7h3m-3 4h3m-3 27h3m-2-119h3m-3 81h3m-3 5h3m-3 24h3m-3 13h3m-2-63h3m-3 37h3m-3 14h3m-3 20h3m-2-8h3m-2-163h3m-3 129h3m-3 18h3m-3 8h3m-3 5h3m-3 9h3m-3 7h3m-2-34h3m-3 6h3m-2-9h3m-3 20h3m-3 3h3m-2-43h3m-3 38h3m-2-16h3m-2-10h3m-2-6h3m-3 22h3m-1 0h3m-2-5h3m-2 16h3m-2-63h3m-3 78h3m-2-30h3m-2-15h3m-3 16h3m-2-142h3m-3 38h3m-3 95h3m-1 38h3m0-63h3m2-137h3m2 75h3m-3 67h3m-1-141h3m-3 170h3m-2-153h3m0 174h3m-1-147h3m-1 35h3m0 71h3m8-131h3m-2 16h3m-3 119h3m0-35h3m-1-20h3m-2-4h3m-2 25h3m0 21h3m1-108h3m-3 11h3m1 89h3" stroke="#111" stroke-width="4.0" stroke-opacity="0.85"/>
<text x="288.0" y="448.3" font-size="4.9" text-anchor="middle" font-family='"Liberation Serif", serif' fill="#222">10<tspan font-size="3.6" dy="-2">0</tspan></text>
<text x="284.5" y="442.6" font-size="4.9" text-anchor="middle" font-family='"Liberation Serif", serif' fill="#222" transform="rotate(-90 284.5 442.6)">10<tspan font-size="3.6" dy="-2">0</tspan></text>
<text x="305.3" y="448.3" font-size="4.9" text-anchor="middle" font-family='"Liberation Serif", serif' fill="#222">10<tspan font-size="3.6" dy="-2">1</tspan></text>
<text x="284.5" y="427.9" font-size="4.9" text-anchor="middle" font-family='"Liberation Serif", serif' fill="#222" transform="rotate(-90 284.5 427.9)">10<tspan font-size="3.6" dy="-2">1</tspan></text>
<text x="322.6" y="448.3" font-size="4.9" text-anchor="middle" font-family='"Liberation Serif", serif' fill="#222">10<tspan font-size="3.6" dy="-2">2</tspan></text>
<text x="284.5" y="413.3" font-size="4.9" text-anchor="middle" font-family='"Liberation Serif", serif' fill="#222" transform="rotate(-90 284.5 413.3)">10<tspan font-size="3.6" dy="-2">2</tspan></text>
<text x="339.9" y="448.3" font-size="4.9" text-anchor="middle" font-family='"Liberation Serif", serif' fill="#222">10<tspan font-size="3.6" dy="-2">3</tspan></text>
<text x="284.5" y="398.7" font-size="4.9" text-anchor="middle" font-family='"Liberation Serif", serif' fill="#222" transform="rotate(-90 284.5 398.7)">10<tspan font-size="3.6" dy="-2">3</tspan></text>
<text x="357.2" y="448.3" font-size="4.9" text-anchor="middle" font-family='"Liberation Serif", serif' fill="#222">10<tspan font-size="3.6" dy="-2">4</tspan></text>
<text x="284.5" y="384.0" font-size="4.9" text-anchor="middle" font-family='"Liberation Serif", serif' fill="#222" transform="rotate(-90 284.5 384.0)">10<tspan font-size="3.6" dy="-2">4</tspan></text>
<text x="322.9" y="453.3" font-size="4.4" text-anchor="middle" fill="#111" textLength="18.5" lengthAdjust="spacingAndGlyphs">CD3 FITC</text>
<text x="279.5" y="413.5" font-size="4.3" text-anchor="middle" fill="#222" transform="rotate(-90 279.5 413.5)">7AAD</text>
<text x="305.0" y="394.7" font-size="6.6" text-anchor="middle" font-family='"Liberation Serif", serif' fill="#111">6%</text>
<text x="349.3" y="394.7" font-size="6.6" text-anchor="middle" font-family='"Liberation Serif", serif' fill="#111">3.7%</text>
<text x="298.3" y="419.3" font-size="6.6" text-anchor="middle" font-family='"Liberation Serif", serif' fill="#111">42.12%</text>
<text x="346.0" y="419.3" font-size="6.6" text-anchor="middle" font-family='"Liberation Serif", serif' fill="#111">47.96%</text>
<text x="92.9" y="467.9" font-size="7.4" text-anchor="middle" font-family='"Liberation Serif", serif' fill="#111" textLength="31.4" lengthAdjust="spacingAndGlyphs">CTL alone</text>
<text x="271.2" y="467.9" font-size="7.4" text-anchor="middle" font-family='"Liberation Serif", serif' fill="#111" textLength="28.4" lengthAdjust="spacingAndGlyphs">LCL/CTL</text>
<text x="366.6" y="9.2" font-size="10.3" font-weight="bold">D</text>
<text x="383.3" y="9.2" font-size="10.3" font-weight="bold" textLength="125.7" lengthAdjust="spacingAndGlyphs">Cytokine production after</text>
<text x="376.2" y="20.7" font-size="10.3" font-weight="bold" textLength="142.5" lengthAdjust="spacingAndGlyphs">exposure to Ad5 and Ad5F35</text>
<text x="445.5" y="33.5" font-size="5.2" text-anchor="middle" font-weight="bold" fill="#111" stroke="#111" stroke-width=".25">IL-1b</text>
<path d="M389.5 96.4L518.0 96.4" stroke="#b4b4b4" stroke-width="0.6" fill="none"/>
<text x="386.1" y="98.1" font-size="4.7" text-anchor="end" fill="#222">0</text>
<path d="M389.5 87.1L518.0 87.1" stroke="#b4b4b4" stroke-width="0.6" fill="none"/>
<text x="386.1" y="88.8" font-size="4.7" text-anchor="end" fill="#222">5</text>
<path d="M389.5 77.8L518.0 77.8" stroke="#b4b4b4" stroke-width="0.6" fill="none"/>
<text x="386.1" y="79.5" font-size="4.7" text-anchor="end" fill="#222">10</text>
<path d="M389.5 68.5L518.0 68.5" stroke="#b4b4b4" stroke-width="0.6" fill="none"/>
<text x="386.1" y="70.2" font-size="4.7" text-anchor="end" fill="#222">15</text>
<path d="M389.5 59.1L518.0 59.1" stroke="#b4b4b4" stroke-width="0.6" fill="none"/>
<text x="386.1" y="60.8" font-size="4.7" text-anchor="end" fill="#222">20</text>
<path d="M389.5 49.8L518.0 49.8" stroke="#b4b4b4" stroke-width="0.6" fill="none"/>
<text x="386.1" y="51.5" font-size="4.7" text-anchor="end" fill="#222">25</text>
<path d="M389.5 40.5L518.0 40.5" stroke="#b4b4b4" stroke-width="0.6" fill="none"/>
<text x="386.1" y="42.2" font-size="4.7" text-anchor="end" fill="#222">30</text>
<rect x="389.5" y="40.5" width="128.5" height="55.90" fill="none" stroke="#999" stroke-width="0.7"/>
<text x="400.2" y="105.2" font-size="4.6" text-anchor="middle" fill="#222">0h</text>
<text x="421.6" y="105.2" font-size="4.6" text-anchor="middle" fill="#222">6h</text>
<text x="443.0" y="105.2" font-size="4.6" text-anchor="middle" fill="#222">12h</text>
<text x="464.5" y="105.2" font-size="4.6" text-anchor="middle" fill="#222">24h</text>
<text x="485.9" y="105.2" font-size="4.6" text-anchor="middle" fill="#222">48h</text>
<text x="507.3" y="105.2" font-size="4.6" text-anchor="middle" fill="#222">72h</text>
<text x="453.8" y="114.2" font-size="4.6" text-anchor="middle" font-weight="bold" fill="#111" stroke="#111" stroke-width=".2">h</text>
<text x="376.0" y="68.5" font-size="4.6" text-anchor="middle" font-weight="bold" fill="#111" transform="rotate(-90 376.0 68.5)" stroke="#111" stroke-width=".2">pg/mL</text>
<path d="M400.2 96.4L421.6 96.4L443.0 96.4L464.5 96.4L485.9 96.4L507.3 96.4" stroke="#8a4050" stroke-width="1" fill="none"/>
<rect x="398.91" y="95.10" width="2.6" height="2.6" fill="#602030"/>
<rect x="420.32" y="95.10" width="2.6" height="2.6" fill="#602030"/>
<rect x="441.74" y="95.10" width="2.6" height="2.6" fill="#602030"/>
<rect x="463.16" y="95.10" width="2.6" height="2.6" fill="#602030"/>
<rect x="484.57" y="95.10" width="2.6" height="2.6" fill="#602030"/>
<rect x="505.99" y="95.10" width="2.6" height="2.6" fill="#602030"/>
<path d="M400.2 96.4L421.6 84.3L443.0 79.6L464.5 83.4L485.9 82.1L507.3 86.5" stroke="#40b8d0" stroke-width="1" fill="none"/>
<rect x="398.91" y="95.10" width="2.6" height="2.6" fill="#2090b0"/>
<rect x="420.32" y="82.99" width="2.6" height="2.6" fill="#2090b0"/>
<rect x="441.74" y="78.33" width="2.6" height="2.6" fill="#2090b0"/>
<rect x="463.16" y="82.06" width="2.6" height="2.6" fill="#2090b0"/>
<rect x="484.57" y="80.75" width="2.6" height="2.6" fill="#2090b0"/>
<rect x="505.99" y="85.22" width="2.6" height="2.6" fill="#2090b0"/>
<path d="M400.2 90.4L421.6 96.4L443.0 77.8L464.5 83.9L485.9 77.8L507.3 75.3" stroke="#e04888" stroke-width="1" fill="none"/>
<rect x="398.91" y="89.14" width="2.6" height="2.6" fill="#b01e5e"/>
<rect x="420.32" y="95.10" width="2.6" height="2.6" fill="#b01e5e"/>
<rect x="441.74" y="76.47" width="2.6" height="2.6" fill="#b01e5e"/>
<rect x="463.16" y="82.62" width="2.6" height="2.6" fill="#b01e5e"/>
<rect x="484.57" y="76.47" width="2.6" height="2.6" fill="#b01e5e"/>
<rect x="505.99" y="74.04" width="2.6" height="2.6" fill="#b01e5e"/>
<path d="M400.2 84.3L421.6 84.3L443.0 90.3L464.5 72.2L485.9 77.8L507.3 59.1" stroke="#c42c48" stroke-width="1" fill="none"/>
<rect x="398.91" y="82.99" width="2.6" height="2.6" fill="#801030"/>
<rect x="420.32" y="82.99" width="2.6" height="2.6" fill="#801030"/>
<rect x="441.74" y="88.95" width="2.6" height="2.6" fill="#801030"/>
<rect x="463.16" y="70.88" width="2.6" height="2.6" fill="#801030"/>
<rect x="484.57" y="76.47" width="2.6" height="2.6" fill="#801030"/>
<rect x="505.99" y="57.83" width="2.6" height="2.6" fill="#801030"/>
<path d="M400.2 96.4L421.6 91.4L443.0 77.8L464.5 50.7L485.9 90.8L507.3 86.5" stroke="#484858" stroke-width="1" fill="none"/>
<rect x="398.91" y="95.10" width="2.6" height="2.6" fill="#282838"/>
<rect x="420.32" y="90.07" width="2.6" height="2.6" fill="#282838"/>
<rect x="441.74" y="76.47" width="2.6" height="2.6" fill="#282838"/>
<rect x="463.16" y="49.45" width="2.6" height="2.6" fill="#282838"/>
<rect x="484.57" y="89.51" width="2.6" height="2.6" fill="#282838"/>
<rect x="505.99" y="85.22" width="2.6" height="2.6" fill="#282838"/>
<text x="445.5" y="124.5" font-size="5.2" text-anchor="middle" font-weight="bold" fill="#111" stroke="#111" stroke-width=".25">TNF</text>
<path d="M390.0 186.8L518.0 186.8" stroke="#b4b4b4" stroke-width="0.6" fill="none"/>
<text x="386.6" y="188.4" font-size="4.7" text-anchor="end" fill="#222">0</text>
<path d="M390.0 177.4L518.0 177.4" stroke="#b4b4b4" stroke-width="0.6" fill="none"/>
<text x="386.6" y="179.1" font-size="4.7" text-anchor="end" fill="#222">50</text>
<path d="M390.0 168.0L518.0 168.0" stroke="#b4b4b4" stroke-width="0.6" fill="none"/>
<text x="386.6" y="169.7" font-size="4.7" text-anchor="end" fill="#222">100</text>
<path d="M390.0 158.6L518.0 158.6" stroke="#b4b4b4" stroke-width="0.6" fill="none"/>
<text x="386.6" y="160.3" font-size="4.7" text-anchor="end" fill="#222">150</text>
<path d="M390.0 149.2L518.0 149.2" stroke="#b4b4b4" stroke-width="0.6" fill="none"/>
<text x="386.6" y="150.9" font-size="4.7" text-anchor="end" fill="#222">200</text>
<path d="M390.0 139.9L518.0 139.9" stroke="#b4b4b4" stroke-width="0.6" fill="none"/>
<text x="386.6" y="141.6" font-size="4.7" text-anchor="end" fill="#222">250</text>
<path d="M390.0 130.5L518.0 130.5" stroke="#b4b4b4" stroke-width="0.6" fill="none"/>
<text x="386.6" y="132.2" font-size="4.7" text-anchor="end" fill="#222">300</text>
<rect x="390" y="130.5" width="128.0" height="56.25" fill="none" stroke="#999" stroke-width="0.7"/>
<text x="400.7" y="193.5" font-size="4.6" text-anchor="middle" fill="#222">0h</text>
<text x="422.0" y="193.5" font-size="4.6" text-anchor="middle" fill="#222">6h</text>
<text x="443.3" y="193.5" font-size="4.6" text-anchor="middle" fill="#222">12h</text>
<text x="464.7" y="193.5" font-size="4.6" text-anchor="middle" fill="#222">24h</text>
<text x="486.0" y="193.5" font-size="4.6" text-anchor="middle" fill="#222">48h</text>
<text x="507.3" y="193.5" font-size="4.6" text-anchor="middle" fill="#222">72h</text>
<text x="454.0" y="203.0" font-size="4.6" text-anchor="middle" font-weight="bold" fill="#111" stroke="#111" stroke-width=".2">h</text>
<text x="376.0" y="158.6" font-size="4.6" text-anchor="middle" font-weight="bold" fill="#111" transform="rotate(-90 376.0 158.6)" stroke="#111" stroke-width=".2">pg/mL</text>
<path d="M400.7 186.8L422.0 186.6L443.3 186.6L464.7 186.6L486.0 186.6L507.3 186.6" stroke="#8a4050" stroke-width="1" fill="none"/>
<rect x="399.37" y="185.45" width="2.6" height="2.6" fill="#602030"/>
<rect x="420.70" y="185.26" width="2.6" height="2.6" fill="#602030"/>
<rect x="442.03" y="185.26" width="2.6" height="2.6" fill="#602030"/>
<rect x="463.37" y="185.26" width="2.6" height="2.6" fill="#602030"/>
<rect x="484.70" y="185.26" width="2.6" height="2.6" fill="#602030"/>
<rect x="506.03" y="185.26" width="2.6" height="2.6" fill="#602030"/>
<path d="M400.7 186.8L422.0 186.2L443.3 185.8L464.7 186.2L486.0 186.4L507.3 186.2" stroke="#40b8d0" stroke-width="1" fill="none"/>
<rect x="399.37" y="185.45" width="2.6" height="2.6" fill="#2090b0"/>
<rect x="420.70" y="184.89" width="2.6" height="2.6" fill="#2090b0"/>
<rect x="442.03" y="184.51" width="2.6" height="2.6" fill="#2090b0"/>
<rect x="463.37" y="184.89" width="2.6" height="2.6" fill="#2090b0"/>
<rect x="484.70" y="185.07" width="2.6" height="2.6" fill="#2090b0"/>
<rect x="506.03" y="184.89" width="2.6" height="2.6" fill="#2090b0"/>
<path d="M400.7 186.8L422.0 186.4L443.3 186.2L464.7 186.4L486.0 186.6L507.3 186.4" stroke="#c42c48" stroke-width="1" fill="none"/>
<rect x="399.37" y="185.45" width="2.6" height="2.6" fill="#801030"/>
<rect x="420.70" y="185.07" width="2.6" height="2.6" fill="#801030"/>
<rect x="442.03" y="184.89" width="2.6" height="2.6" fill="#801030"/>
<rect x="463.37" y="185.07" width="2.6" height="2.6" fill="#801030"/>
<rect x="484.70" y="185.26" width="2.6" height="2.6" fill="#801030"/>
<rect x="506.03" y="185.07" width="2.6" height="2.6" fill="#801030"/>
<path d="M400.7 186.8L422.0 168.0L443.3 141.8L464.7 153.9L486.0 173.6L507.3 181.1" stroke="#484858" stroke-width="1" fill="none"/>
<rect x="399.37" y="185.45" width="2.6" height="2.6" fill="#282838"/>
<rect x="420.70" y="166.70" width="2.6" height="2.6" fill="#282838"/>
<rect x="442.03" y="140.45" width="2.6" height="2.6" fill="#282838"/>
<rect x="463.37" y="152.64" width="2.6" height="2.6" fill="#282838"/>
<rect x="484.70" y="172.32" width="2.6" height="2.6" fill="#282838"/>
<rect x="506.03" y="179.82" width="2.6" height="2.6" fill="#282838"/>
<path d="M400.7 186.8L422.0 150.6L443.3 141.8L464.7 153.9L486.0 173.2L507.3 181.1" stroke="#e04888" stroke-width="1" fill="none"/>
<rect x="399.37" y="185.45" width="2.6" height="2.6" fill="#b01e5e"/>
<rect x="420.70" y="149.26" width="2.6" height="2.6" fill="#b01e5e"/>
<rect x="442.03" y="140.45" width="2.6" height="2.6" fill="#b01e5e"/>
<rect x="463.37" y="152.64" width="2.6" height="2.6" fill="#b01e5e"/>
<rect x="484.70" y="171.95" width="2.6" height="2.6" fill="#b01e5e"/>
<rect x="506.03" y="179.82" width="2.6" height="2.6" fill="#b01e5e"/>
<text x="445.5" y="213.2" font-size="5.2" text-anchor="middle" font-weight="bold" fill="#111" stroke="#111" stroke-width=".25">IL6</text>
<path d="M390.5 277.5L518.0 277.5" stroke="#b4b4b4" stroke-width="0.6" fill="none"/>
<text x="387.1" y="279.2" font-size="4.7" text-anchor="end" fill="#222">0</text>
<path d="M390.5 271.0L518.0 271.0" stroke="#b4b4b4" stroke-width="0.6" fill="none"/>
<text x="387.1" y="272.7" font-size="4.7" text-anchor="end" fill="#222">50</text>
<path d="M390.5 264.4L518.0 264.4" stroke="#b4b4b4" stroke-width="0.6" fill="none"/>
<text x="387.1" y="266.1" font-size="4.7" text-anchor="end" fill="#222">100</text>
<path d="M390.5 257.9L518.0 257.9" stroke="#b4b4b4" stroke-width="0.6" fill="none"/>
<text x="387.1" y="259.6" font-size="4.7" text-anchor="end" fill="#222">150</text>
<path d="M390.5 251.4L518.0 251.4" stroke="#b4b4b4" stroke-width="0.6" fill="none"/>
<text x="387.1" y="253.1" font-size="4.7" text-anchor="end" fill="#222">200</text>
<path d="M390.5 244.9L518.0 244.9" stroke="#b4b4b4" stroke-width="0.6" fill="none"/>
<text x="387.1" y="246.6" font-size="4.7" text-anchor="end" fill="#222">250</text>
<path d="M390.5 238.3L518.0 238.3" stroke="#b4b4b4" stroke-width="0.6" fill="none"/>
<text x="387.1" y="240.0" font-size="4.7" text-anchor="end" fill="#222">300</text>
<path d="M390.5 231.8L518.0 231.8" stroke="#b4b4b4" stroke-width="0.6" fill="none"/>
<text x="387.1" y="233.5" font-size="4.7" text-anchor="end" fill="#222">350</text>
<path d="M390.5 225.3L518.0 225.3" stroke="#b4b4b4" stroke-width="0.6" fill="none"/>
<text x="387.1" y="227.0" font-size="4.7" text-anchor="end" fill="#222">400</text>
<path d="M390.5 218.8L518.0 218.8" stroke="#b4b4b4" stroke-width="0.6" fill="none"/>
<text x="387.1" y="220.4" font-size="4.7" text-anchor="end" fill="#222">450</text>
<rect x="390.5" y="218.75" width="127.5" height="58.75" fill="none" stroke="#999" stroke-width="0.7"/>
<text x="401.1" y="285.5" font-size="4.6" text-anchor="middle" fill="#222">0h</text>
<text x="422.4" y="285.5" font-size="4.6" text-anchor="middle" fill="#222">6h</text>
<text x="443.6" y="285.5" font-size="4.6" text-anchor="middle" fill="#222">12h</text>
<text x="464.9" y="285.5" font-size="4.6" text-anchor="middle" fill="#222">24h</text>
<text x="486.1" y="285.5" font-size="4.6" text-anchor="middle" fill="#222">48h</text>
<text x="507.4" y="285.5" font-size="4.6" text-anchor="middle" fill="#222">72h</text>
<text x="454.2" y="293.5" font-size="4.6" text-anchor="middle" font-weight="bold" fill="#111" stroke="#111" stroke-width=".2">h</text>
<text x="376.0" y="248.1" font-size="4.6" text-anchor="middle" font-weight="bold" fill="#111" transform="rotate(-90 376.0 248.1)" stroke="#111" stroke-width=".2">pg/mL</text>
<path d="M401.1 277.5L422.4 277.5L443.6 277.5L464.9 277.5L486.1 277.5L507.4 277.5" stroke="#8a4050" stroke-width="1" fill="none"/>
<rect x="399.82" y="276.20" width="2.6" height="2.6" fill="#602030"/>
<rect x="421.07" y="276.20" width="2.6" height="2.6" fill="#602030"/>
<rect x="442.32" y="276.20" width="2.6" height="2.6" fill="#602030"/>
<rect x="463.57" y="276.20" width="2.6" height="2.6" fill="#602030"/>
<rect x="484.82" y="276.20" width="2.6" height="2.6" fill="#602030"/>
<rect x="506.07" y="276.20" width="2.6" height="2.6" fill="#602030"/>
<path d="M401.1 277.5L422.4 277.5L443.6 277.5L464.9 277.5L486.1 277.5L507.4 277.5" stroke="#40b8d0" stroke-width="1" fill="none"/>
<rect x="399.82" y="276.20" width="2.6" height="2.6" fill="#2090b0"/>
<rect x="421.07" y="276.20" width="2.6" height="2.6" fill="#2090b0"/>
<rect x="442.32" y="276.20" width="2.6" height="2.6" fill="#2090b0"/>
<rect x="463.57" y="276.20" width="2.6" height="2.6" fill="#2090b0"/>
<rect x="484.82" y="276.20" width="2.6" height="2.6" fill="#2090b0"/>
<rect x="506.07" y="276.20" width="2.6" height="2.6" fill="#2090b0"/>
<path d="M401.1 277.5L422.4 277.5L443.6 277.5L464.9 277.5L486.1 277.5L507.4 277.5" stroke="#c42c48" stroke-width="1" fill="none"/>
<rect x="399.82" y="276.20" width="2.6" height="2.6" fill="#801030"/>
<rect x="421.07" y="276.20" width="2.6" height="2.6" fill="#801030"/>
<rect x="442.32" y="276.20" width="2.6" height="2.6" fill="#801030"/>
<rect x="463.57" y="276.20" width="2.6" height="2.6" fill="#801030"/>
<rect x="484.82" y="276.20" width="2.6" height="2.6" fill="#801030"/>
<rect x="506.07" y="276.20" width="2.6" height="2.6" fill="#801030"/>
<path d="M401.1 277.5L422.4 276.8L443.6 253.3L464.9 222.7L486.1 224.0L507.4 222.0" stroke="#484858" stroke-width="1" fill="none"/>
<rect x="399.82" y="276.20" width="2.6" height="2.6" fill="#282838"/>
<rect x="421.07" y="275.55" width="2.6" height="2.6" fill="#282838"/>
<rect x="442.32" y="252.05" width="2.6" height="2.6" fill="#282838"/>
<rect x="463.57" y="221.37" width="2.6" height="2.6" fill="#282838"/>
<rect x="484.82" y="222.67" width="2.6" height="2.6" fill="#282838"/>
<rect x="506.07" y="220.71" width="2.6" height="2.6" fill="#282838"/>
<path d="M401.1 277.5L422.4 268.4L443.6 247.5L464.9 225.3L486.1 224.6L507.4 232.5" stroke="#e04888" stroke-width="1" fill="none"/>
<rect x="399.82" y="276.20" width="2.6" height="2.6" fill="#b01e5e"/>
<rect x="421.07" y="267.06" width="2.6" height="2.6" fill="#b01e5e"/>
<rect x="442.32" y="246.17" width="2.6" height="2.6" fill="#b01e5e"/>
<rect x="463.57" y="223.98" width="2.6" height="2.6" fill="#b01e5e"/>
<rect x="484.82" y="223.32" width="2.6" height="2.6" fill="#b01e5e"/>
<rect x="506.07" y="231.16" width="2.6" height="2.6" fill="#b01e5e"/>
<text x="445.5" y="303.2" font-size="5.2" text-anchor="middle" font-weight="bold" fill="#111" stroke="#111" stroke-width=".25">IL-8</text>
<path d="M397.5 370.0L517.5 370.0" stroke="#b4b4b4" stroke-width="0.6" fill="none"/>
<text x="394.1" y="371.7" font-size="4.7" text-anchor="end" fill="#222">0</text>
<path d="M397.5 359.9L517.5 359.9" stroke="#b4b4b4" stroke-width="0.6" fill="none"/>
<text x="394.1" y="361.6" font-size="4.7" text-anchor="end" fill="#222">1000</text>
<path d="M397.5 349.8L517.5 349.8" stroke="#b4b4b4" stroke-width="0.6" fill="none"/>
<text x="394.1" y="351.5" font-size="4.7" text-anchor="end" fill="#222">2000</text>
<path d="M397.5 339.8L517.5 339.8" stroke="#b4b4b4" stroke-width="0.6" fill="none"/>
<text x="394.1" y="341.4" font-size="4.7" text-anchor="end" fill="#222">3000</text>
<path d="M397.5 329.7L517.5 329.7" stroke="#b4b4b4" stroke-width="0.6" fill="none"/>
<text x="394.1" y="331.4" font-size="4.7" text-anchor="end" fill="#222">4000</text>
<path d="M397.5 319.6L517.5 319.6" stroke="#b4b4b4" stroke-width="0.6" fill="none"/>
<text x="394.1" y="321.3" font-size="4.7" text-anchor="end" fill="#222">5000</text>
<path d="M397.5 309.5L517.5 309.5" stroke="#b4b4b4" stroke-width="0.6" fill="none"/>
<text x="394.1" y="311.2" font-size="4.7" text-anchor="end" fill="#222">6000</text>
<rect x="397.5" y="309.5" width="120.0" height="60.50" fill="none" stroke="#999" stroke-width="0.7"/>
<text x="407.5" y="377.5" font-size="4.6" text-anchor="middle" fill="#222">0h</text>
<text x="427.5" y="377.5" font-size="4.6" text-anchor="middle" fill="#222">6h</text>
<text x="447.5" y="377.5" font-size="4.6" text-anchor="middle" fill="#222">12h</text>
<text x="467.5" y="377.5" font-size="4.6" text-anchor="middle" fill="#222">24h</text>
<text x="487.5" y="377.5" font-size="4.6" text-anchor="middle" fill="#222">48h</text>
<text x="507.5" y="377.5" font-size="4.6" text-anchor="middle" fill="#222">72h</text>
<text x="457.5" y="386.0" font-size="4.6" text-anchor="middle" font-weight="bold" fill="#111" stroke="#111" stroke-width=".2">h</text>
<text x="376.0" y="339.8" font-size="4.6" text-anchor="middle" font-weight="bold" fill="#111" transform="rotate(-90 376.0 339.8)" stroke="#111" stroke-width=".2">pg/mL</text>
<path d="M407.5 370.0L427.5 370.0L447.5 370.0L467.5 370.0L487.5 369.5L507.5 369.2" stroke="#8a4050" stroke-width="1" fill="none"/>
<rect x="406.20" y="368.70" width="2.6" height="2.6" fill="#602030"/>
<rect x="426.20" y="368.70" width="2.6" height="2.6" fill="#602030"/>
<rect x="446.20" y="368.70" width="2.6" height="2.6" fill="#602030"/>
<rect x="466.20" y="368.70" width="2.6" height="2.6" fill="#602030"/>
<rect x="486.20" y="368.20" width="2.6" height="2.6" fill="#602030"/>
<rect x="506.20" y="367.89" width="2.6" height="2.6" fill="#602030"/>
<path d="M407.5 370.0L427.5 370.0L447.5 370.0L467.5 370.0L487.5 370.0L507.5 370.0" stroke="#40b8d0" stroke-width="1" fill="none"/>
<rect x="406.20" y="368.70" width="2.6" height="2.6" fill="#2090b0"/>
<rect x="426.20" y="368.70" width="2.6" height="2.6" fill="#2090b0"/>
<rect x="446.20" y="368.70" width="2.6" height="2.6" fill="#2090b0"/>
<rect x="466.20" y="368.70" width="2.6" height="2.6" fill="#2090b0"/>
<rect x="486.20" y="368.70" width="2.6" height="2.6" fill="#2090b0"/>
<rect x="506.20" y="368.70" width="2.6" height="2.6" fill="#2090b0"/>
<path d="M407.5 370.0L427.5 369.8L447.5 369.7L467.5 369.6L487.5 369.4L507.5 369.0" stroke="#c42c48" stroke-width="1" fill="none"/>
<rect x="406.20" y="368.70" width="2.6" height="2.6" fill="#801030"/>
<rect x="426.20" y="368.50" width="2.6" height="2.6" fill="#801030"/>
<rect x="446.20" y="368.40" width="2.6" height="2.6" fill="#801030"/>
<rect x="466.20" y="368.30" width="2.6" height="2.6" fill="#801030"/>
<rect x="486.20" y="368.09" width="2.6" height="2.6" fill="#801030"/>
<rect x="506.20" y="367.69" width="2.6" height="2.6" fill="#801030"/>
<path d="M407.5 370.0L427.5 366.0L447.5 354.9L467.5 319.6L487.5 319.6L507.5 319.6" stroke="#484858" stroke-width="1" fill="none"/>
<rect x="406.20" y="368.70" width="2.6" height="2.6" fill="#282838"/>
<rect x="426.20" y="364.67" width="2.6" height="2.6" fill="#282838"/>
<rect x="446.20" y="353.57" width="2.6" height="2.6" fill="#282838"/>
<rect x="466.20" y="318.28" width="2.6" height="2.6" fill="#282838"/>
<rect x="486.20" y="318.28" width="2.6" height="2.6" fill="#282838"/>
<rect x="506.20" y="318.28" width="2.6" height="2.6" fill="#282838"/>
<path d="M407.5 370.0L427.5 366.5L447.5 362.4L467.5 353.4L487.5 344.8L507.5 341.3" stroke="#e04888" stroke-width="1" fill="none"/>
<rect x="406.20" y="368.70" width="2.6" height="2.6" fill="#b01e5e"/>
<rect x="426.20" y="365.17" width="2.6" height="2.6" fill="#b01e5e"/>
<rect x="446.20" y="361.14" width="2.6" height="2.6" fill="#b01e5e"/>
<rect x="466.20" y="352.06" width="2.6" height="2.6" fill="#b01e5e"/>
<rect x="486.20" y="343.49" width="2.6" height="2.6" fill="#b01e5e"/>
<rect x="506.20" y="339.96" width="2.6" height="2.6" fill="#b01e5e"/>
<text x="445.5" y="397.2" font-size="5.2" text-anchor="middle" font-weight="bold" fill="#111" stroke="#111" stroke-width=".25">IL-12p70</text>
<path d="M387.5 464.0L519.0 464.0" stroke="#b4b4b4" stroke-width="0.6" fill="none"/>
<text x="384.1" y="465.7" font-size="4.7" text-anchor="end" fill="#222">0</text>
<path d="M387.5 456.5L519.0 456.5" stroke="#b4b4b4" stroke-width="0.6" fill="none"/>
<text x="384.1" y="458.2" font-size="4.7" text-anchor="end" fill="#222">1</text>
<path d="M387.5 449.0L519.0 449.0" stroke="#b4b4b4" stroke-width="0.6" fill="none"/>
<text x="384.1" y="450.7" font-size="4.7" text-anchor="end" fill="#222">2</text>
<path d="M387.5 441.5L519.0 441.5" stroke="#b4b4b4" stroke-width="0.6" fill="none"/>
<text x="384.1" y="443.2" font-size="4.7" text-anchor="end" fill="#222">3</text>
<path d="M387.5 433.9L519.0 433.9" stroke="#b4b4b4" stroke-width="0.6" fill="none"/>
<text x="384.1" y="435.6" font-size="4.7" text-anchor="end" fill="#222">4</text>
<path d="M387.5 426.4L519.0 426.4" stroke="#b4b4b4" stroke-width="0.6" fill="none"/>
<text x="384.1" y="428.1" font-size="4.7" text-anchor="end" fill="#222">5</text>
<path d="M387.5 418.9L519.0 418.9" stroke="#b4b4b4" stroke-width="0.6" fill="none"/>
<text x="384.1" y="420.6" font-size="4.7" text-anchor="end" fill="#222">6</text>
<path d="M387.5 411.4L519.0 411.4" stroke="#b4b4b4" stroke-width="0.6" fill="none"/>
<text x="384.1" y="413.1" font-size="4.7" text-anchor="end" fill="#222">7</text>
<path d="M387.5 403.9L519.0 403.9" stroke="#b4b4b4" stroke-width="0.6" fill="none"/>
<text x="384.1" y="405.6" font-size="4.7" text-anchor="end" fill="#222">8</text>
<rect x="387.5" y="403.9" width="131.5" height="60.10" fill="none" stroke="#999" stroke-width="0.7"/>
<text x="398.5" y="472.0" font-size="4.6" text-anchor="middle" fill="#222">0h</text>
<text x="420.4" y="472.0" font-size="4.6" text-anchor="middle" fill="#222">6h</text>
<text x="442.3" y="472.0" font-size="4.6" text-anchor="middle" fill="#222">12h</text>
<text x="464.2" y="472.0" font-size="4.6" text-anchor="middle" fill="#222">24h</text>
<text x="486.1" y="472.0" font-size="4.6" text-anchor="middle" fill="#222">48h</text>
<text x="508.0" y="472.0" font-size="4.6" text-anchor="middle" fill="#222">72h</text>
<text x="453.2" y="480.0" font-size="4.6" text-anchor="middle" font-weight="bold" fill="#111" stroke="#111" stroke-width=".2">h</text>
<text x="376.0" y="433.9" font-size="4.6" text-anchor="middle" font-weight="bold" fill="#111" transform="rotate(-90 376.0 433.9)" stroke="#111" stroke-width=".2">pg/mL</text>
<path d="M398.5 464.0L420.4 460.6L442.3 460.2L464.2 460.2L486.1 448.2L508.0 460.2" stroke="#a07070" stroke-width="1" fill="none"/>
<rect x="397.16" y="462.70" width="2.6" height="2.6" fill="#704848"/>
<rect x="419.07" y="459.32" width="2.6" height="2.6" fill="#704848"/>
<rect x="440.99" y="458.94" width="2.6" height="2.6" fill="#704848"/>
<rect x="462.91" y="458.94" width="2.6" height="2.6" fill="#704848"/>
<rect x="484.82" y="446.92" width="2.6" height="2.6" fill="#704848"/>
<rect x="506.74" y="458.94" width="2.6" height="2.6" fill="#704848"/>
<path d="M398.5 464.0L420.4 460.2L442.3 460.2L464.2 460.2L486.1 460.2L508.0 460.2" stroke="#8a4050" stroke-width="1" fill="none"/>
<rect x="397.16" y="462.70" width="2.6" height="2.6" fill="#602030"/>
<rect x="419.07" y="458.94" width="2.6" height="2.6" fill="#602030"/>
<rect x="440.99" y="458.94" width="2.6" height="2.6" fill="#602030"/>
<rect x="462.91" y="458.94" width="2.6" height="2.6" fill="#602030"/>
<rect x="484.82" y="458.94" width="2.6" height="2.6" fill="#602030"/>
<rect x="506.74" y="458.94" width="2.6" height="2.6" fill="#602030"/>
<path d="M398.5 464.0L420.4 464.0L442.3 425.7L464.2 450.5L486.1 426.4L508.0 424.2" stroke="#40b8d0" stroke-width="1" fill="none"/>
<rect x="397.16" y="462.70" width="2.6" height="2.6" fill="#2090b0"/>
<rect x="419.07" y="462.70" width="2.6" height="2.6" fill="#2090b0"/>
<rect x="440.99" y="424.39" width="2.6" height="2.6" fill="#2090b0"/>
<rect x="462.91" y="449.18" width="2.6" height="2.6" fill="#2090b0"/>
<rect x="484.82" y="425.14" width="2.6" height="2.6" fill="#2090b0"/>
<rect x="506.74" y="422.88" width="2.6" height="2.6" fill="#2090b0"/>
<path d="M398.5 464.0L420.4 442.2L442.3 438.5L464.2 417.4L486.1 444.5L508.0 425.7" stroke="#c42c48" stroke-width="1" fill="none"/>
<rect x="397.16" y="462.70" width="2.6" height="2.6" fill="#801030"/>
<rect x="419.07" y="440.91" width="2.6" height="2.6" fill="#801030"/>
<rect x="440.99" y="437.16" width="2.6" height="2.6" fill="#801030"/>
<rect x="462.91" y="416.12" width="2.6" height="2.6" fill="#801030"/>
<rect x="484.82" y="443.17" width="2.6" height="2.6" fill="#801030"/>
<rect x="506.74" y="424.39" width="2.6" height="2.6" fill="#801030"/>
<path d="M398.5 464.0L420.4 462.5L442.3 449.7L464.2 409.9L486.1 422.7L508.0 425.7" stroke="#e04888" stroke-width="1" fill="none"/>
<rect x="397.16" y="462.70" width="2.6" height="2.6" fill="#b01e5e"/>
<rect x="419.07" y="461.20" width="2.6" height="2.6" fill="#b01e5e"/>
<rect x="440.99" y="448.43" width="2.6" height="2.6" fill="#b01e5e"/>
<rect x="462.91" y="408.61" width="2.6" height="2.6" fill="#b01e5e"/>
<rect x="484.82" y="421.38" width="2.6" height="2.6" fill="#b01e5e"/>
<rect x="506.74" y="424.39" width="2.6" height="2.6" fill="#b01e5e"/>
<path d="M398.5 464.0L420.4 464.0L442.3 424.9L464.2 409.9L486.1 426.4L508.0 433.9" stroke="#484858" stroke-width="1" fill="none"/>
<rect x="397.16" y="462.70" width="2.6" height="2.6" fill="#282838"/>
<rect x="419.07" y="462.70" width="2.6" height="2.6" fill="#282838"/>
<rect x="440.99" y="423.63" width="2.6" height="2.6" fill="#282838"/>
<rect x="462.91" y="408.61" width="2.6" height="2.6" fill="#282838"/>
<rect x="484.82" y="425.14" width="2.6" height="2.6" fill="#282838"/>
<rect x="506.74" y="432.65" width="2.6" height="2.6" fill="#282838"/>
<text x="445.5" y="489.4" font-size="5.2" text-anchor="middle" font-weight="bold" fill="#111" stroke="#111" stroke-width=".25">IL-10</text>
<path d="M395.0 556.5L517.0 556.5" stroke="#b4b4b4" stroke-width="0.6" fill="none"/>
<text x="391.6" y="558.2" font-size="4.7" text-anchor="end" fill="#222">0</text>
<path d="M395.0 546.4L517.0 546.4" stroke="#b4b4b4" stroke-width="0.6" fill="none"/>
<text x="391.6" y="548.1" font-size="4.7" text-anchor="end" fill="#222">20</text>
<path d="M395.0 536.2L517.0 536.2" stroke="#b4b4b4" stroke-width="0.6" fill="none"/>
<text x="391.6" y="538.0" font-size="4.7" text-anchor="end" fill="#222">40</text>
<path d="M395.0 526.1L517.0 526.1" stroke="#b4b4b4" stroke-width="0.6" fill="none"/>
<text x="391.6" y="527.8" font-size="4.7" text-anchor="end" fill="#222">60</text>
<path d="M395.0 516.0L517.0 516.0" stroke="#b4b4b4" stroke-width="0.6" fill="none"/>
<text x="391.6" y="517.7" font-size="4.7" text-anchor="end" fill="#222">80</text>
<path d="M395.0 505.9L517.0 505.9" stroke="#b4b4b4" stroke-width="0.6" fill="none"/>
<text x="391.6" y="507.6" font-size="4.7" text-anchor="end" fill="#222">100</text>
<path d="M395.0 495.8L517.0 495.8" stroke="#b4b4b4" stroke-width="0.6" fill="none"/>
<text x="391.6" y="497.4" font-size="4.7" text-anchor="end" fill="#222">120</text>
<rect x="395" y="495.75" width="122.0" height="60.75" fill="none" stroke="#999" stroke-width="0.7"/>
<text x="405.2" y="564.0" font-size="4.6" text-anchor="middle" fill="#222">0h</text>
<text x="425.5" y="564.0" font-size="4.6" text-anchor="middle" fill="#222">6h</text>
<text x="445.8" y="564.0" font-size="4.6" text-anchor="middle" fill="#222">12h</text>
<text x="466.2" y="564.0" font-size="4.6" text-anchor="middle" fill="#222">24h</text>
<text x="486.5" y="564.0" font-size="4.6" text-anchor="middle" fill="#222">48h</text>
<text x="506.8" y="564.0" font-size="4.6" text-anchor="middle" fill="#222">72h</text>
<text x="456.0" y="572.5" font-size="4.6" text-anchor="middle" font-weight="bold" fill="#111" stroke="#111" stroke-width=".2">h</text>
<text x="376.0" y="526.1" font-size="4.6" text-anchor="middle" font-weight="bold" fill="#111" transform="rotate(-90 376.0 526.1)" stroke="#111" stroke-width=".2">pg/mL</text>
<path d="M405.2 556.5L425.5 556.0L445.8 556.0L466.2 556.0L486.5 555.5L506.8 555.5" stroke="#a07070" stroke-width="1" fill="none"/>
<rect x="403.87" y="555.20" width="2.6" height="2.6" fill="#704848"/>
<rect x="424.20" y="554.69" width="2.6" height="2.6" fill="#704848"/>
<rect x="444.53" y="554.69" width="2.6" height="2.6" fill="#704848"/>
<rect x="464.87" y="554.69" width="2.6" height="2.6" fill="#704848"/>
<rect x="485.20" y="554.19" width="2.6" height="2.6" fill="#704848"/>
<rect x="505.53" y="554.19" width="2.6" height="2.6" fill="#704848"/>
<path d="M405.2 556.5L425.5 556.0L445.8 556.0L466.2 556.0L486.5 555.0L506.8 555.0" stroke="#8a4050" stroke-width="1" fill="none"/>
<rect x="403.87" y="555.20" width="2.6" height="2.6" fill="#602030"/>
<rect x="424.20" y="554.69" width="2.6" height="2.6" fill="#602030"/>
<rect x="444.53" y="554.69" width="2.6" height="2.6" fill="#602030"/>
<rect x="464.87" y="554.69" width="2.6" height="2.6" fill="#602030"/>
<rect x="485.20" y="553.68" width="2.6" height="2.6" fill="#602030"/>
<rect x="505.53" y="553.68" width="2.6" height="2.6" fill="#602030"/>
<path d="M405.2 556.5L425.5 555.5L445.8 555.0L466.2 555.0L486.5 554.5L506.8 554.0" stroke="#40b8d0" stroke-width="1" fill="none"/>
<rect x="403.87" y="555.20" width="2.6" height="2.6" fill="#2090b0"/>
<rect x="424.20" y="554.19" width="2.6" height="2.6" fill="#2090b0"/>
<rect x="444.53" y="553.68" width="2.6" height="2.6" fill="#2090b0"/>
<rect x="464.87" y="553.68" width="2.6" height="2.6" fill="#2090b0"/>
<rect x="485.20" y="553.18" width="2.6" height="2.6" fill="#2090b0"/>
<rect x="505.53" y="552.67" width="2.6" height="2.6" fill="#2090b0"/>
<path d="M405.2 556.5L425.5 555.0L445.8 554.0L466.2 551.4L486.5 551.4L506.8 550.9" stroke="#c42c48" stroke-width="1" fill="none"/>
<rect x="403.87" y="555.20" width="2.6" height="2.6" fill="#801030"/>
<rect x="424.20" y="553.68" width="2.6" height="2.6" fill="#801030"/>
<rect x="444.53" y="552.67" width="2.6" height="2.6" fill="#801030"/>
<rect x="464.87" y="550.14" width="2.6" height="2.6" fill="#801030"/>
<rect x="485.20" y="550.14" width="2.6" height="2.6" fill="#801030"/>
<rect x="505.53" y="549.63" width="2.6" height="2.6" fill="#801030"/>
<path d="M405.2 556.5L425.5 554.5L445.8 553.0L466.2 550.4L486.5 550.4L506.8 550.4" stroke="#e04888" stroke-width="1" fill="none"/>
<rect x="403.87" y="555.20" width="2.6" height="2.6" fill="#b01e5e"/>
<rect x="424.20" y="553.18" width="2.6" height="2.6" fill="#b01e5e"/>
<rect x="444.53" y="551.66" width="2.6" height="2.6" fill="#b01e5e"/>
<rect x="464.87" y="549.12" width="2.6" height="2.6" fill="#b01e5e"/>
<rect x="485.20" y="549.12" width="2.6" height="2.6" fill="#b01e5e"/>
<rect x="505.53" y="549.12" width="2.6" height="2.6" fill="#b01e5e"/>
<path d="M405.2 556.5L425.5 554.0L445.8 546.9L466.2 506.9L486.5 505.9L506.8 521.6" stroke="#484858" stroke-width="1" fill="none"/>
<rect x="403.87" y="555.20" width="2.6" height="2.6" fill="#282838"/>
<rect x="424.20" y="552.67" width="2.6" height="2.6" fill="#282838"/>
<rect x="444.53" y="545.58" width="2.6" height="2.6" fill="#282838"/>
<rect x="464.87" y="505.59" width="2.6" height="2.6" fill="#282838"/>
<rect x="485.20" y="504.57" width="2.6" height="2.6" fill="#282838"/>
<rect x="505.53" y="520.27" width="2.6" height="2.6" fill="#282838"/>
<path d="M381.5 578.6999999999999L388.4 584.8L381.5 590.9L374.6 584.8z" fill="#5e5c7c" stroke="#333" stroke-width="0.8"/>
<rect x="375.6" y="595.2" width="8" height="8.2" fill="#f090a8" stroke="#c85878" stroke-width="0.7"/>
<path d="M375 615.7L381.5 608L388.2 615.7z" fill="#c80020" stroke="#501018" stroke-width="0.7"/>
<path d="M452.5 582.2L457.1 586.7L452.5 591.2L447.9 586.7z" fill="#8a8a8a" stroke="#333" stroke-width="0.9"/>
<path d="M452.5 584.7L454.5 586.7L452.5 588.7L450.5 586.7z" fill="#d8d8d8" stroke="#d8d8d8" stroke-width="0.1"/>
<path d="M452.5 595.6l1.3 2.6 2.9 1.6 -2.9 1.6 -1.3 2.6 -1.3 -2.6 -2.9 -1.6 2.9 -1.6z" fill="#6a3048" stroke="#4a1a30" stroke-width="0.6"/>
<circle cx="452.5" cy="612.6" r="3.7" fill="#e89048" stroke="#704018" stroke-width="0.8"/>
<text x="397.0" y="590.6" font-size="8.5" font-family='"Liberation Serif", serif' fill="#222" textLength="32" lengthAdjust="spacingAndGlyphs">PBL/Ad5</text>
<text x="397.0" y="602.9" font-size="8.5" font-family='"Liberation Serif", serif' fill="#222" textLength="44.6" lengthAdjust="spacingAndGlyphs">PBL/Ad5F35</text>
<text x="397.0" y="615.3" font-size="8.5" font-family='"Liberation Serif", serif' fill="#222" textLength="35" lengthAdjust="spacingAndGlyphs">CTL1/Ad5</text>
<text x="469.0" y="589.4" font-size="8.5" font-family='"Liberation Serif", serif' fill="#222" textLength="49.5" lengthAdjust="spacingAndGlyphs">CTL1/Ad5F35</text>
<text x="469.0" y="602.9" font-size="8.5" font-family='"Liberation Serif", serif' fill="#222" textLength="33.5" lengthAdjust="spacingAndGlyphs">CTL2/Ad5</text>
<text x="469.0" y="615.3" font-size="8.5" font-family='"Liberation Serif", serif' fill="#222" textLength="49.5" lengthAdjust="spacingAndGlyphs">CTL2/Ad5F35</text></svg></body></html>
